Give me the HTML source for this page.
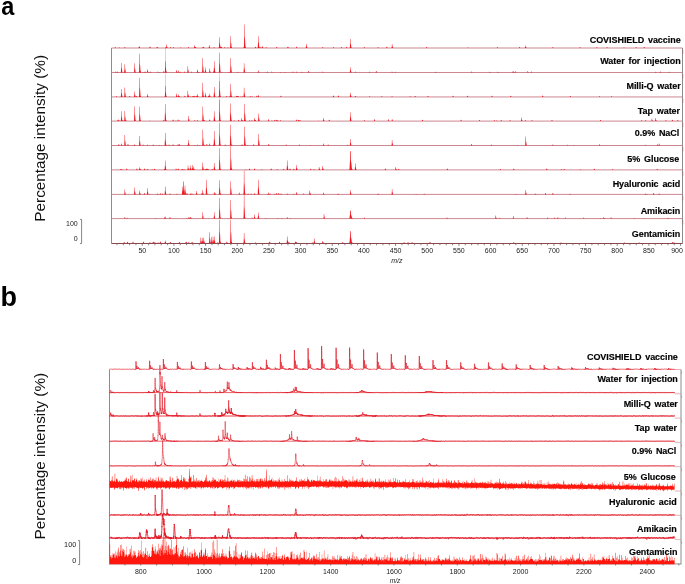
<!DOCTYPE html>
<html><head><meta charset="utf-8"><style>
html,body{margin:0;padding:0;background:#fff;}
body{width:685px;height:584px;overflow:hidden;}
svg{display:block;}
.lb{font-family:"Liberation Sans",Arial,sans-serif;font-weight:bold;font-size:9px;fill:#000;stroke:#000;stroke-width:0.15px;word-spacing:1.4px;letter-spacing:-0.06px;}
.tk{font-family:"Liberation Sans",Arial,sans-serif;font-size:7px;fill:#222;}
.mz{font-family:"Liberation Sans",Arial,sans-serif;font-size:6.6px;font-style:italic;fill:#222;}
.yl{font-family:"Liberation Sans",Arial,sans-serif;font-size:15.3px;fill:#111;}
.pl{font-family:"Liberation Sans",Arial,sans-serif;font-weight:bold;font-size:27px;fill:#000;}
</style></head><body>
<svg width="685" height="584" viewBox="0 0 685 584">
<line x1="111.5" y1="48.0" x2="682.5" y2="48.0" stroke="rgb(205,135,145)" stroke-width="1"/>
<line x1="111.5" y1="72.5" x2="682.5" y2="72.5" stroke="rgb(205,135,145)" stroke-width="1"/>
<line x1="111.5" y1="96.95" x2="682.5" y2="96.95" stroke="rgb(205,135,145)" stroke-width="1"/>
<line x1="111.5" y1="121.1" x2="682.5" y2="121.1" stroke="rgb(205,135,145)" stroke-width="1"/>
<line x1="111.5" y1="145.5" x2="682.5" y2="145.5" stroke="rgb(205,135,145)" stroke-width="1"/>
<line x1="111.5" y1="169.9" x2="682.5" y2="169.9" stroke="rgb(205,135,145)" stroke-width="1"/>
<line x1="111.5" y1="194.4" x2="682.5" y2="194.4" stroke="rgb(205,135,145)" stroke-width="1"/>
<line x1="111.5" y1="218.6" x2="682.5" y2="218.6" stroke="rgb(205,135,145)" stroke-width="1"/>
<g fill="rgb(240,22,32)"><polygon points="124.00,48.00 124.30,47.92 124.45,47.65 124.58,47.50 124.60,47.00 125.00,47.00 125.10,47.50 125.40,47.65 125.70,47.92 126.30,48.00"/><polygon points="138.40,48.00 138.70,47.88 138.85,47.48 138.98,47.25 139.00,46.50 139.40,46.50 139.50,47.25 139.80,47.48 140.10,47.88 140.70,48.00"/><polygon points="155.50,48.00 155.80,47.95 155.95,47.79 156.08,47.70 156.10,47.40 156.50,47.40 156.60,47.70 156.90,47.79 157.20,47.95 157.80,48.00"/><polygon points="165.70,48.00 166.00,47.71 166.15,46.74 166.28,46.20 166.30,44.40 166.70,44.40 166.80,46.20 167.10,46.74 167.40,47.71 168.00,48.00"/><polygon points="169.80,48.00 170.10,47.92 170.25,47.65 170.38,47.50 170.40,47.00 170.80,47.00 170.90,47.50 171.20,47.65 171.50,47.92 172.10,48.00"/><polygon points="172.60,48.00 172.90,47.92 173.05,47.65 173.18,47.50 173.20,47.00 173.60,47.00 173.70,47.50 174.00,47.65 174.30,47.92 174.90,48.00"/><polygon points="187.50,48.00 187.80,47.92 187.95,47.65 188.08,47.50 188.10,47.00 188.50,47.00 188.60,47.50 188.90,47.65 189.20,47.92 189.80,48.00"/><polygon points="193.70,48.00 194.00,47.78 194.15,47.02 194.28,46.60 194.30,45.20 194.70,45.20 194.80,46.60 195.10,47.02 195.40,47.78 196.00,48.00"/><polygon points="201.90,48.00 202.20,47.92 202.35,47.65 202.48,47.50 202.50,47.00 202.90,47.00 203.00,47.50 203.30,47.65 203.60,47.92 204.20,48.00"/><polygon points="208.40,48.00 208.70,47.76 208.85,46.95 208.98,46.50 209.00,45.00 209.40,45.00 209.50,46.50 209.80,46.95 210.10,47.76 210.70,48.00"/><polygon points="213.20,48.00 213.50,47.92 213.65,47.65 213.78,47.50 213.80,47.00 214.20,47.00 214.30,47.50 214.60,47.65 214.90,47.92 215.50,48.00"/><polygon points="218.70,48.00 219.00,47.14 219.15,44.22 219.28,42.60 219.30,37.20 219.70,37.20 219.80,42.60 220.10,44.22 220.40,47.14 221.00,48.00"/><polygon points="229.90,48.00 230.20,47.06 230.35,43.87 230.48,42.10 230.50,36.20 230.90,36.20 231.00,42.10 231.30,43.87 231.60,47.06 232.20,48.00"/><polygon points="243.70,48.00 244.00,46.11 244.15,39.74 244.28,36.20 244.30,24.40 244.70,24.40 244.80,36.20 245.10,39.74 245.40,46.11 246.00,48.00"/><polygon points="257.50,48.00 257.80,47.06 257.95,43.87 258.08,42.10 258.10,36.20 258.50,36.20 258.60,42.10 258.90,43.87 259.20,47.06 259.80,48.00"/><polygon points="261.40,48.00 261.70,47.84 261.85,47.30 261.98,47.00 262.00,46.00 262.40,46.00 262.50,47.00 262.80,47.30 263.10,47.84 263.70,48.00"/><polygon points="295.70,48.00 296.00,47.88 296.15,47.48 296.28,47.25 296.30,46.50 296.70,46.50 296.80,47.25 297.10,47.48 297.40,47.88 298.00,48.00"/><polygon points="305.50,48.00 305.80,47.68 305.95,46.60 306.08,46.00 306.10,44.00 306.50,44.00 306.60,46.00 306.90,46.60 307.20,47.68 307.80,48.00"/><polygon points="321.90,48.00 322.20,47.92 322.35,47.65 322.48,47.50 322.50,47.00 322.90,47.00 323.00,47.50 323.30,47.65 323.60,47.92 324.20,48.00"/><polygon points="340.50,48.00 340.80,47.92 340.95,47.65 341.08,47.50 341.10,47.00 341.50,47.00 341.60,47.50 341.90,47.65 342.20,47.92 342.80,48.00"/><polygon points="349.60,48.00 349.90,47.29 350.05,44.88 350.18,43.55 350.20,39.10 350.60,39.10 350.70,43.55 351.00,44.88 351.30,47.29 351.90,48.00"/><polygon points="363.40,48.00 363.70,47.92 363.85,47.65 363.98,47.50 364.00,47.00 364.40,47.00 364.50,47.50 364.80,47.65 365.10,47.92 365.70,48.00"/><polygon points="377.20,48.00 377.50,47.92 377.65,47.65 377.78,47.50 377.80,47.00 378.20,47.00 378.30,47.50 378.60,47.65 378.90,47.92 379.50,48.00"/><polygon points="391.30,48.00 391.60,47.68 391.75,46.60 391.88,46.00 391.90,44.00 392.30,44.00 392.40,46.00 392.70,46.60 393.00,47.68 393.60,48.00"/><polygon points="496.50,48.00 496.80,47.92 496.95,47.65 497.08,47.50 497.10,47.00 497.50,47.00 497.60,47.50 497.90,47.65 498.20,47.92 498.80,48.00"/><polygon points="524.70,48.00 525.00,47.80 525.15,47.12 525.28,46.75 525.30,45.50 525.70,45.50 525.80,46.75 526.10,47.12 526.40,47.80 527.00,48.00"/><polygon points="552.00,48.00 552.30,47.92 552.45,47.65 552.58,47.50 552.60,47.00 553.00,47.00 553.10,47.50 553.40,47.65 553.70,47.92 554.30,48.00"/><polygon points="579.20,48.00 579.50,47.92 579.65,47.65 579.78,47.50 579.80,47.00 580.20,47.00 580.30,47.50 580.60,47.65 580.90,47.92 581.50,48.00"/><polygon points="606.20,48.00 606.50,47.92 606.65,47.65 606.78,47.50 606.80,47.00 607.20,47.00 607.30,47.50 607.60,47.65 607.90,47.92 608.50,48.00"/><polygon points="635.20,48.00 635.50,47.92 635.65,47.65 635.78,47.50 635.80,47.00 636.20,47.00 636.30,47.50 636.60,47.65 636.90,47.92 637.50,48.00"/><path d="M194.1,48.0l.5-0.9h.3l.7 0.9zM156.9,48.0l.5-0.9h.3l.7 0.9zM138.6,48.0l.5-1.4h.3l.7 1.4zM287.1,48.0l.5-1.2h.3l.7 1.2zM227.2,48.0l.5-0.6h.3l.7 0.6zM218.5,48.0l.5-0.8h.3l.7 0.8zM467.2,48.0l.5-0.6h.3l.7 0.6zM623.3,48.0l.5-0.6h.3l.7 0.6zM114.6,48.0l.5-0.8h.3l.7 0.8zM220.8,48.0l.5-1.3h.3l.7 1.3zM426.0,48.0l.5-1.1h.3l.7 1.1zM518.8,48.0l.5-1.0h.3l.7 1.0zM276.0,48.0l.5-1.0h.3l.7 1.0zM386.1,48.0l.5-1.3h.3l.7 1.3zM254.8,48.0l.5-1.3h.3l.7 1.3zM195.0,48.0l.5-1.1h.3l.7 1.1zM180.1,48.0l.5-0.5h.3l.7 0.5zM287.4,48.0l.5-1.1h.3l.7 1.1zM118.5,48.0l.5-0.5h.3l.7 0.5zM220.9,48.0l.5-1.0h.3l.7 1.0zM332.8,48.0l.5-0.8h.3l.7 0.8zM202.9,48.0l.5-1.3h.3l.7 1.3zM223.9,48.0l.5-0.7h.3l.7 0.7zM165.0,48.0l.5-0.6h.3l.7 0.6zM149.3,48.0l.5-1.4h.3l.7 1.4zM193.9,48.0l.5-0.6h.3l.7 0.6zM345.8,48.0l.5-1.1h.3l.7 1.1zM259.3,48.0l.5-1.2h.3l.7 1.2zM219.6,48.0l.5-1.5h.3l.7 1.5zM265.5,48.0l.5-0.7h.3l.7 0.7zM643.5,48.0l.5-1.0h.3l.7 1.0zM243.2,48.0l.5-0.4h.3l.7 0.4zM156.8,48.0l.5-0.7h.3l.7 0.7zM596.1,48.0l.5-0.8h.3l.7 0.8z"/><polygon points="120.60,72.50 120.90,71.73 121.05,69.14 121.18,67.70 121.20,62.90 121.60,62.90 121.70,67.70 122.00,69.14 122.30,71.73 122.90,72.50"/><polygon points="124.00,72.50 124.30,71.84 124.45,69.59 124.58,68.35 124.60,64.20 125.00,64.20 125.10,68.35 125.40,69.59 125.70,71.84 126.30,72.50"/><polygon points="133.80,72.50 134.10,71.76 134.25,69.25 134.38,67.85 134.40,63.20 134.80,63.20 134.90,67.85 135.20,69.25 135.50,71.76 136.10,72.50"/><polygon points="138.80,72.50 139.10,71.00 139.25,65.95 139.38,63.15 139.40,53.80 139.80,53.80 139.90,63.15 140.20,65.95 140.50,71.00 141.10,72.50"/><polygon points="146.60,72.50 146.90,72.24 147.05,71.34 147.18,70.85 147.20,69.20 147.60,69.20 147.70,70.85 148.00,71.34 148.30,72.24 148.90,72.50"/><polygon points="156.70,72.50 157.00,72.42 157.15,72.15 157.28,72.00 157.30,71.50 157.70,71.50 157.80,72.00 158.10,72.15 158.40,72.42 159.00,72.50"/><polygon points="162.80,72.50 163.10,72.38 163.25,71.97 163.38,71.75 163.40,71.00 163.80,71.00 163.90,71.75 164.20,71.97 164.50,72.38 165.10,72.50"/><polygon points="164.60,72.50 164.90,71.60 165.05,68.55 165.18,66.85 165.20,61.20 165.60,61.20 165.70,66.85 166.00,68.55 166.30,71.60 166.90,72.50"/><polygon points="175.70,72.50 176.00,72.29 176.15,71.59 176.28,71.20 176.30,69.90 176.70,69.90 176.80,71.20 177.10,71.59 177.40,72.29 178.00,72.50"/><polygon points="177.70,72.50 178.00,72.34 178.15,71.80 178.28,71.50 178.30,70.50 178.70,70.50 178.80,71.50 179.10,71.80 179.40,72.34 180.00,72.50"/><polygon points="187.00,72.50 187.30,72.00 187.45,70.33 187.58,69.40 187.60,66.30 188.00,66.30 188.10,69.40 188.40,70.33 188.70,72.00 189.30,72.50"/><polygon points="190.60,72.50 190.90,72.42 191.05,72.15 191.18,72.00 191.20,71.50 191.60,71.50 191.70,72.00 192.00,72.15 192.30,72.42 192.90,72.50"/><polygon points="196.50,72.50 196.80,72.26 196.95,71.45 197.08,71.00 197.10,69.50 197.50,69.50 197.60,71.00 197.90,71.45 198.20,72.26 198.80,72.50"/><polygon points="201.90,72.50 202.20,71.33 202.35,67.39 202.48,65.20 202.50,57.90 202.90,57.90 203.00,65.20 203.30,67.39 203.60,71.33 204.20,72.50"/><polygon points="204.50,72.50 204.80,72.10 204.95,70.75 205.08,70.00 205.10,67.50 205.50,67.50 205.60,70.00 205.90,70.75 206.20,72.10 206.80,72.50"/><polygon points="208.80,72.50 209.10,72.18 209.25,71.10 209.38,70.50 209.40,68.50 209.80,68.50 209.90,70.50 210.20,71.10 210.50,72.18 211.10,72.50"/><polygon points="213.40,72.50 213.70,71.60 213.85,68.58 213.98,66.90 214.00,61.30 214.40,61.30 214.50,66.90 214.80,68.58 215.10,71.60 215.70,72.50"/><polygon points="218.70,72.50 219.00,70.90 219.15,65.50 219.28,62.50 219.30,52.50 219.70,52.50 219.80,62.50 220.10,65.50 220.40,70.90 221.00,72.50"/><polygon points="229.90,72.50 230.20,71.33 230.35,67.39 230.48,65.20 230.50,57.90 230.90,57.90 231.00,65.20 231.30,67.39 231.60,71.33 232.20,72.50"/><polygon points="243.30,72.50 243.60,71.76 243.75,69.25 243.88,67.85 243.90,63.20 244.30,63.20 244.40,67.85 244.70,69.25 245.00,71.76 245.60,72.50"/><polygon points="257.50,72.50 257.80,72.34 257.95,71.80 258.08,71.50 258.10,70.50 258.50,70.50 258.60,71.50 258.90,71.80 259.20,72.34 259.80,72.50"/><polygon points="271.00,72.50 271.30,72.42 271.45,72.15 271.58,72.00 271.60,71.50 272.00,71.50 272.10,72.00 272.40,72.15 272.70,72.42 273.30,72.50"/><polygon points="295.70,72.50 296.00,72.42 296.15,72.15 296.28,72.00 296.30,71.50 296.70,71.50 296.80,72.00 297.10,72.15 297.40,72.42 298.00,72.50"/><polygon points="321.90,72.50 322.20,72.42 322.35,72.15 322.48,72.00 322.50,71.50 322.90,71.50 323.00,72.00 323.30,72.15 323.60,72.42 324.20,72.50"/><polygon points="349.60,72.50 349.90,72.08 350.05,70.64 350.18,69.85 350.20,67.20 350.60,67.20 350.70,69.85 351.00,70.64 351.30,72.08 351.90,72.50"/><polygon points="354.50,72.50 354.80,72.42 354.95,72.15 355.08,72.00 355.10,71.50 355.50,71.50 355.60,72.00 355.90,72.15 356.20,72.42 356.80,72.50"/><polygon points="368.70,72.50 369.00,72.42 369.15,72.15 369.28,72.00 369.30,71.50 369.70,71.50 369.80,72.00 370.10,72.15 370.40,72.42 371.00,72.50"/><polygon points="391.20,72.50 391.50,72.42 391.65,72.15 391.78,72.00 391.80,71.50 392.20,71.50 392.30,72.00 392.60,72.15 392.90,72.42 393.50,72.50"/><polygon points="512.90,72.50 513.20,72.42 513.35,72.15 513.48,72.00 513.50,71.50 513.90,71.50 514.00,72.00 514.30,72.15 514.60,72.42 515.20,72.50"/><polygon points="526.90,72.50 527.20,72.38 527.35,71.97 527.48,71.75 527.50,71.00 527.90,71.00 528.00,71.75 528.30,71.97 528.60,72.38 529.20,72.50"/><path d="M659.7,72.5l.5-0.9h.3l.7 0.9zM237.3,72.5l.5-0.7h.3l.7 0.7zM221.2,72.5l.5-0.5h.3l.7 0.5zM229.7,72.5l.5-0.9h.3l.7 0.9zM284.2,72.5l.5-0.5h.3l.7 0.5zM489.0,72.5l.5-0.8h.3l.7 0.8zM115.1,72.5l.5-0.9h.3l.7 0.9zM123.8,72.5l.5-1.2h.3l.7 1.2zM116.8,72.5l.5-1.0h.3l.7 1.0zM198.5,72.5l.5-0.4h.3l.7 0.4zM214.1,72.5l.5-0.5h.3l.7 0.5zM197.0,72.5l.5-1.2h.3l.7 1.2zM394.5,72.5l.5-0.7h.3l.7 0.7zM159.1,72.5l.5-0.4h.3l.7 0.4zM307.8,72.5l.5-1.4h.3l.7 1.4zM512.3,72.5l.5-1.3h.3l.7 1.3zM213.0,72.5l.5-1.3h.3l.7 1.3zM530.7,72.5l.5-0.9h.3l.7 0.9zM655.0,72.5l.5-0.8h.3l.7 0.8zM149.8,72.5l.5-1.0h.3l.7 1.0zM144.1,72.5l.5-0.7h.3l.7 0.7zM227.5,72.5l.5-0.5h.3l.7 0.5zM668.6,72.5l.5-0.8h.3l.7 0.8zM165.7,72.5l.5-1.1h.3l.7 1.1zM471.0,72.5l.5-0.9h.3l.7 0.9zM434.8,72.5l.5-0.7h.3l.7 0.7zM266.6,72.5l.5-1.1h.3l.7 1.1zM301.3,72.5l.5-0.7h.3l.7 0.7zM497.0,72.5l.5-0.8h.3l.7 0.8zM142.3,72.5l.5-0.6h.3l.7 0.6zM149.1,72.5l.5-0.6h.3l.7 0.6zM179.8,72.5l.5-0.8h.3l.7 0.8zM183.8,72.5l.5-1.0h.3l.7 1.0zM292.2,72.5l.5-1.1h.3l.7 1.1zM280.0,72.5l.5-0.4h.3l.7 0.4zM139.6,72.5l.5-1.5h.3l.7 1.5zM514.9,72.5l.5-1.3h.3l.7 1.3zM375.6,72.5l.5-1.4h.3l.7 1.4zM144.5,72.5l.5-0.9h.3l.7 0.9z"/><polygon points="165.10,72.5 165.20,47.80 165.60,47.80 165.70,72.5" opacity="0.55"/><polygon points="120.60,96.95 120.90,96.32 121.05,94.19 121.18,93.00 121.20,89.05 121.60,89.05 121.70,93.00 122.00,94.19 122.30,96.32 122.90,96.95"/><polygon points="124.00,96.95 124.30,96.19 124.45,93.62 124.58,92.20 124.60,87.45 125.00,87.45 125.10,92.20 125.40,93.62 125.70,96.19 126.30,96.95"/><polygon points="133.80,96.95 134.10,96.51 134.25,95.03 134.38,94.20 134.40,91.45 134.80,91.45 134.90,94.20 135.20,95.03 135.50,96.51 136.10,96.95"/><polygon points="138.80,96.95 139.10,95.41 139.25,90.20 139.38,87.30 139.40,77.65 139.80,77.65 139.90,87.30 140.20,90.20 140.50,95.41 141.10,96.95"/><polygon points="146.60,96.95 146.90,96.72 147.05,95.94 147.18,95.50 147.20,94.05 147.60,94.05 147.70,95.50 148.00,95.94 148.30,96.72 148.90,96.95"/><polygon points="164.60,96.95 164.90,96.07 165.05,93.10 165.18,91.45 165.20,85.95 165.60,85.95 165.70,91.45 166.00,93.10 166.30,96.07 166.90,96.95"/><polygon points="175.70,96.95 176.00,96.68 176.15,95.76 176.28,95.25 176.30,93.55 176.70,93.55 176.80,95.25 177.10,95.76 177.40,96.68 178.00,96.95"/><polygon points="177.70,96.95 178.00,96.76 178.15,96.11 178.28,95.75 178.30,94.55 178.70,94.55 178.80,95.75 179.10,96.11 179.40,96.76 180.00,96.95"/><polygon points="187.00,96.95 187.30,96.45 187.45,94.75 187.58,93.80 187.60,90.65 188.00,90.65 188.10,93.80 188.40,94.75 188.70,96.45 189.30,96.95"/><polygon points="196.70,96.95 197.00,96.71 197.15,95.90 197.28,95.45 197.30,93.95 197.70,93.95 197.80,95.45 198.10,95.90 198.40,96.71 199.00,96.95"/><polygon points="201.90,96.95 202.20,95.81 202.35,91.98 202.48,89.85 202.50,82.75 202.90,82.75 203.00,89.85 203.30,91.98 203.60,95.81 204.20,96.95"/><polygon points="204.50,96.95 204.80,96.61 204.95,95.45 205.08,94.80 205.10,92.65 205.50,92.65 205.60,94.80 205.90,95.45 206.20,96.61 206.80,96.95"/><polygon points="208.80,96.95 209.10,96.69 209.25,95.80 209.38,95.30 209.40,93.65 209.80,93.65 209.90,95.30 210.20,95.80 210.50,96.69 211.10,96.95"/><polygon points="213.40,96.95 213.70,96.16 213.85,93.48 213.98,92.00 214.00,87.05 214.40,87.05 214.50,92.00 214.80,93.48 215.10,96.16 215.70,96.95"/><polygon points="218.70,96.95 219.00,95.67 219.15,91.35 219.28,88.95 219.30,80.95 219.70,80.95 219.80,88.95 220.10,91.35 220.40,95.67 221.00,96.95"/><polygon points="229.90,96.95 230.20,95.89 230.35,92.33 230.48,90.35 230.50,83.75 230.90,83.75 231.00,90.35 231.30,92.33 231.60,95.89 232.20,96.95"/><polygon points="243.30,96.95 243.60,96.21 243.75,93.70 243.88,92.30 243.90,87.65 244.30,87.65 244.40,92.30 244.70,93.70 245.00,96.21 245.60,96.95"/><polygon points="257.50,96.95 257.80,96.79 257.95,96.25 258.08,95.95 258.10,94.95 258.50,94.95 258.60,95.95 258.90,96.25 259.20,96.79 259.80,96.95"/><polygon points="349.60,96.95 349.90,96.61 350.05,95.45 350.18,94.80 350.20,92.65 350.60,92.65 350.70,94.80 351.00,95.45 351.30,96.61 351.90,96.95"/><polygon points="354.50,96.95 354.80,96.87 354.95,96.60 355.08,96.45 355.10,95.95 355.50,95.95 355.60,96.45 355.90,96.60 356.20,96.87 356.80,96.95"/><polygon points="368.70,96.95 369.00,96.89 369.15,96.70 369.28,96.60 369.30,96.25 369.70,96.25 369.80,96.60 370.10,96.70 370.40,96.89 371.00,96.95"/><polygon points="391.20,96.95 391.50,96.89 391.65,96.70 391.78,96.60 391.80,96.25 392.20,96.25 392.30,96.60 392.60,96.70 392.90,96.89 393.50,96.95"/><polygon points="409.20,96.95 409.50,96.89 409.65,96.70 409.78,96.60 409.80,96.25 410.20,96.25 410.30,96.60 410.60,96.70 410.90,96.89 411.50,96.95"/><path d="M195.6,96.95l.5-1.1h.3l.7 1.1zM207.8,96.95l.5-1.2h.3l.7 1.2zM136.0,96.95l.5-1.0h.3l.7 1.0zM184.1,96.95l.5-1.3h.3l.7 1.3zM237.5,96.95l.5-1.0h.3l.7 1.0zM194.0,96.95l.5-1.1h.3l.7 1.1zM251.4,96.95l.5-0.5h.3l.7 0.5zM229.2,96.95l.5-1.0h.3l.7 1.0zM491.2,96.95l.5-1.3h.3l.7 1.3zM466.8,96.95l.5-1.2h.3l.7 1.2zM452.4,96.95l.5-1.1h.3l.7 1.1zM414.5,96.95l.5-1.0h.3l.7 1.0zM337.7,96.95l.5-1.4h.3l.7 1.4zM209.1,96.95l.5-0.5h.3l.7 0.5zM598.8,96.95l.5-0.8h.3l.7 0.8zM256.1,96.95l.5-1.2h.3l.7 1.2zM236.8,96.95l.5-0.9h.3l.7 0.9zM192.6,96.95l.5-0.9h.3l.7 0.9zM242.0,96.95l.5-0.5h.3l.7 0.5zM178.9,96.95l.5-0.6h.3l.7 0.6zM249.6,96.95l.5-0.6h.3l.7 0.6zM280.2,96.95l.5-1.2h.3l.7 1.2zM225.9,96.95l.5-0.9h.3l.7 0.9zM569.6,96.95l.5-0.9h.3l.7 0.9zM240.3,96.95l.5-0.5h.3l.7 0.5zM208.0,96.95l.5-1.3h.3l.7 1.3zM332.7,96.95l.5-1.5h.3l.7 1.5zM115.7,96.95l.5-0.7h.3l.7 0.7zM235.7,96.95l.5-1.1h.3l.7 1.1zM510.1,96.95l.5-1.2h.3l.7 1.2zM381.1,96.95l.5-0.7h.3l.7 0.7zM218.5,96.95l.5-1.4h.3l.7 1.4zM192.1,96.95l.5-0.9h.3l.7 0.9zM610.8,96.95l.5-0.8h.3l.7 0.8zM187.7,96.95l.5-1.4h.3l.7 1.4zM189.9,96.95l.5-0.4h.3l.7 0.4zM427.4,96.95l.5-0.9h.3l.7 0.9zM542.0,96.95l.5-1.5h.3l.7 1.5zM129.0,96.95l.5-1.0h.3l.7 1.0z"/><polygon points="165.10,96.95 165.20,73.55 165.60,73.55 165.70,96.95" opacity="0.55"/><polygon points="219.20,96.95 219.30,72.95 219.70,72.95 219.80,96.95" opacity="0.55"/><polygon points="120.60,121.10 120.90,120.31 121.05,117.63 121.18,116.15 121.20,111.20 121.60,111.20 121.70,116.15 122.00,117.63 122.30,120.31 122.90,121.10"/><polygon points="124.00,121.10 124.30,120.28 124.45,117.53 124.58,116.00 124.60,110.90 125.00,110.90 125.10,116.00 125.40,117.53 125.70,120.28 126.30,121.10"/><polygon points="133.80,121.10 134.10,119.92 134.25,115.92 134.38,113.70 134.40,106.30 134.80,106.30 134.90,113.70 135.20,115.92 135.50,119.92 136.10,121.10"/><polygon points="138.80,121.10 139.10,119.93 139.25,115.99 139.38,113.80 139.40,106.50 139.80,106.50 139.90,113.80 140.20,115.99 140.50,119.93 141.10,121.10"/><polygon points="164.40,121.10 164.70,119.74 164.85,115.15 164.98,112.60 165.00,104.10 165.40,104.10 165.50,112.60 165.80,115.15 166.10,119.74 166.70,121.10"/><polygon points="172.20,121.10 172.50,120.98 172.65,120.57 172.78,120.35 172.80,119.60 173.20,119.60 173.30,120.35 173.60,120.57 173.90,120.98 174.50,121.10"/><polygon points="177.20,121.10 177.50,120.98 177.65,120.57 177.78,120.35 177.80,119.60 178.20,119.60 178.30,120.35 178.60,120.57 178.90,120.98 179.50,121.10"/><polygon points="187.80,121.10 188.10,120.68 188.25,119.28 188.38,118.50 188.40,115.90 188.80,115.90 188.90,118.50 189.20,119.28 189.50,120.68 190.10,121.10"/><polygon points="196.50,121.10 196.80,121.02 196.95,120.75 197.08,120.60 197.10,120.10 197.50,120.10 197.60,120.60 197.90,120.75 198.20,121.02 198.80,121.10"/><polygon points="202.00,121.10 202.30,119.93 202.45,115.99 202.58,113.80 202.60,106.50 203.00,106.50 203.10,113.80 203.40,115.99 203.70,119.93 204.30,121.10"/><polygon points="208.70,121.10 209.00,120.98 209.15,120.57 209.28,120.35 209.30,119.60 209.70,119.60 209.80,120.35 210.10,120.57 210.40,120.98 211.00,121.10"/><polygon points="213.40,121.10 213.70,120.31 213.85,117.63 213.98,116.15 214.00,111.20 214.40,111.20 214.50,116.15 214.80,117.63 215.10,120.31 215.70,121.10"/><polygon points="218.70,121.10 219.00,119.42 219.15,113.75 219.28,110.60 219.30,100.10 219.70,100.10 219.80,110.60 220.10,113.75 220.40,119.42 221.00,121.10"/><polygon points="229.70,121.10 230.00,119.70 230.15,114.97 230.28,112.35 230.30,103.60 230.70,103.60 230.80,112.35 231.10,114.97 231.40,119.70 232.00,121.10"/><polygon points="240.80,121.10 241.10,120.86 241.25,120.05 241.38,119.60 241.40,118.10 241.80,118.10 241.90,119.60 242.20,120.05 242.50,120.86 243.10,121.10"/><polygon points="243.80,121.10 244.10,119.74 244.25,115.15 244.38,112.60 244.40,104.10 244.80,104.10 244.90,112.60 245.20,115.15 245.50,119.74 246.10,121.10"/><polygon points="253.70,121.10 254.00,120.86 254.15,120.05 254.28,119.60 254.30,118.10 254.70,118.10 254.80,119.60 255.10,120.05 255.40,120.86 256.00,121.10"/><polygon points="257.80,121.10 258.10,120.49 258.25,118.44 258.38,117.30 258.40,113.50 258.80,113.50 258.90,117.30 259.20,118.44 259.50,120.49 260.10,121.10"/><polygon points="267.50,121.10 267.80,120.94 267.95,120.40 268.08,120.10 268.10,119.10 268.50,119.10 268.60,120.10 268.90,120.40 269.20,120.94 269.80,121.10"/><polygon points="295.70,121.10 296.00,120.98 296.15,120.57 296.28,120.35 296.30,119.60 296.70,119.60 296.80,120.35 297.10,120.57 297.40,120.98 298.00,121.10"/><polygon points="322.60,121.10 322.90,120.86 323.05,120.05 323.18,119.60 323.20,118.10 323.60,118.10 323.70,119.60 324.00,120.05 324.30,120.86 324.90,121.10"/><polygon points="349.60,121.10 349.90,120.39 350.05,117.98 350.18,116.65 350.20,112.20 350.60,112.20 350.70,116.65 351.00,117.98 351.30,120.39 351.90,121.10"/><polygon points="363.40,121.10 363.70,121.02 363.85,120.75 363.98,120.60 364.00,120.10 364.40,120.10 364.50,120.60 364.80,120.75 365.10,121.02 365.70,121.10"/><polygon points="373.60,121.10 373.90,120.94 374.05,120.40 374.18,120.10 374.20,119.10 374.60,119.10 374.70,120.10 375.00,120.40 375.30,120.94 375.90,121.10"/><polygon points="387.40,121.10 387.70,120.94 387.85,120.40 387.98,120.10 388.00,119.10 388.40,119.10 388.50,120.10 388.80,120.40 389.10,120.94 389.70,121.10"/><polygon points="391.30,121.10 391.60,120.94 391.75,120.40 391.88,120.10 391.90,119.10 392.30,119.10 392.40,120.10 392.70,120.40 393.00,120.94 393.60,121.10"/><polygon points="493.40,121.10 493.70,121.02 493.85,120.75 493.98,120.60 494.00,120.10 494.40,120.10 494.50,120.60 494.80,120.75 495.10,121.02 495.70,121.10"/><polygon points="509.20,121.10 509.50,121.02 509.65,120.75 509.78,120.60 509.80,120.10 510.20,120.10 510.30,120.60 510.60,120.75 510.90,121.02 511.50,121.10"/><polygon points="520.70,121.10 521.00,120.82 521.15,119.88 521.28,119.35 521.30,117.60 521.70,117.60 521.80,119.35 522.10,119.88 522.40,120.82 523.00,121.10"/><polygon points="524.70,121.10 525.00,121.02 525.15,120.75 525.28,120.60 525.30,120.10 525.70,120.10 525.80,120.60 526.10,120.75 526.40,121.02 527.00,121.10"/><polygon points="531.20,121.10 531.50,121.02 531.65,120.75 531.78,120.60 531.80,120.10 532.20,120.10 532.30,120.60 532.60,120.75 532.90,121.02 533.50,121.10"/><polygon points="640.80,121.10 641.10,121.02 641.25,120.75 641.38,120.60 641.40,120.10 641.80,120.10 641.90,120.60 642.20,120.75 642.50,121.02 643.10,121.10"/><polygon points="644.90,121.10 645.20,121.02 645.35,120.75 645.48,120.60 645.50,120.10 645.90,120.10 646.00,120.60 646.30,120.75 646.60,121.02 647.20,121.10"/><polygon points="651.10,121.10 651.40,120.90 651.55,120.22 651.68,119.85 651.70,118.60 652.10,118.60 652.20,119.85 652.50,120.22 652.80,120.90 653.40,121.10"/><polygon points="654.80,121.10 655.10,120.86 655.25,120.05 655.38,119.60 655.40,118.10 655.80,118.10 655.90,119.60 656.20,120.05 656.50,120.86 657.10,121.10"/><polygon points="665.10,121.10 665.40,121.02 665.55,120.75 665.68,120.60 665.70,120.10 666.10,120.10 666.20,120.60 666.50,120.75 666.80,121.02 667.40,121.10"/><path d="M233.5,121.1l.5-0.5h.3l.7 0.5zM328.5,121.1l.5-1.4h.3l.7 1.4zM178.8,121.1l.5-0.5h.3l.7 0.5zM237.8,121.1l.5-1.3h.3l.7 1.3zM125.4,121.1l.5-0.6h.3l.7 0.6zM172.3,121.1l.5-0.5h.3l.7 0.5zM271.2,121.1l.5-0.6h.3l.7 0.6zM671.7,121.1l.5-1.4h.3l.7 1.4zM279.8,121.1l.5-0.9h.3l.7 0.9zM194.1,121.1l.5-0.9h.3l.7 0.9zM254.9,121.1l.5-0.5h.3l.7 0.5zM162.6,121.1l.5-0.9h.3l.7 0.9zM677.1,121.1l.5-1.0h.3l.7 1.0zM277.1,121.1l.5-1.0h.3l.7 1.0zM478.8,121.1l.5-1.0h.3l.7 1.0zM241.5,121.1l.5-0.8h.3l.7 0.8zM299.3,121.1l.5-1.0h.3l.7 1.0zM500.5,121.1l.5-1.0h.3l.7 1.0zM317.8,121.1l.5-0.4h.3l.7 0.4zM460.4,121.1l.5-1.4h.3l.7 1.4zM149.3,121.1l.5-0.4h.3l.7 0.4zM203.9,121.1l.5-0.9h.3l.7 0.9zM275.6,121.1l.5-1.4h.3l.7 1.4zM274.0,121.1l.5-1.2h.3l.7 1.2zM254.6,121.1l.5-1.0h.3l.7 1.0zM297.8,121.1l.5-1.3h.3l.7 1.3zM551.3,121.1l.5-1.1h.3l.7 1.1zM421.8,121.1l.5-1.4h.3l.7 1.4zM116.7,121.1l.5-0.9h.3l.7 0.9zM122.2,121.1l.5-0.8h.3l.7 0.8zM248.8,121.1l.5-0.9h.3l.7 0.9zM496.1,121.1l.5-0.7h.3l.7 0.7zM118.1,121.1l.5-1.5h.3l.7 1.5zM175.2,121.1l.5-0.5h.3l.7 0.5zM599.9,121.1l.5-1.2h.3l.7 1.2zM251.2,121.1l.5-0.9h.3l.7 0.9z"/><polygon points="219.20,121.1 219.30,97.10 219.70,97.10 219.80,121.1" opacity="0.55"/><polygon points="120.60,145.50 120.90,145.34 121.05,144.80 121.18,144.50 121.20,143.50 121.60,143.50 121.70,144.50 122.00,144.80 122.30,145.34 122.90,145.50"/><polygon points="124.00,145.50 124.30,144.67 124.45,141.86 124.58,140.30 124.60,135.10 125.00,135.10 125.10,140.30 125.40,141.86 125.70,144.67 126.30,145.50"/><polygon points="133.80,145.50 134.10,145.42 134.25,145.15 134.38,145.00 134.40,144.50 134.80,144.50 134.90,145.00 135.20,145.15 135.50,145.42 136.10,145.50"/><polygon points="138.80,145.50 139.10,144.74 139.25,142.18 139.38,140.75 139.40,136.00 139.80,136.00 139.90,140.75 140.20,142.18 140.50,144.74 141.10,145.50"/><polygon points="146.60,145.50 146.90,145.42 147.05,145.15 147.18,145.00 147.20,144.50 147.60,144.50 147.70,145.00 148.00,145.15 148.30,145.42 148.90,145.50"/><polygon points="164.40,145.50 164.70,144.51 164.85,141.16 164.98,139.30 165.00,133.10 165.40,133.10 165.50,139.30 165.80,141.16 166.10,144.51 166.70,145.50"/><polygon points="172.20,145.50 172.50,145.38 172.65,144.97 172.78,144.75 172.80,144.00 173.20,144.00 173.30,144.75 173.60,144.97 173.90,145.38 174.50,145.50"/><polygon points="177.20,145.50 177.50,145.38 177.65,144.97 177.78,144.75 177.80,144.00 178.20,144.00 178.30,144.75 178.60,144.97 178.90,145.38 179.50,145.50"/><polygon points="187.70,145.50 188.00,145.05 188.15,143.54 188.28,142.70 188.30,139.90 188.70,139.90 188.80,142.70 189.10,143.54 189.40,145.05 190.00,145.50"/><polygon points="196.50,145.50 196.80,145.42 196.95,145.15 197.08,145.00 197.10,144.50 197.50,144.50 197.60,145.00 197.90,145.15 198.20,145.42 198.80,145.50"/><polygon points="202.00,145.50 202.30,144.21 202.45,139.87 202.58,137.45 202.60,129.40 203.00,129.40 203.10,137.45 203.40,139.87 203.70,144.21 204.30,145.50"/><polygon points="208.70,145.50 209.00,145.34 209.15,144.80 209.28,144.50 209.30,143.50 209.70,143.50 209.80,144.50 210.10,144.80 210.40,145.34 211.00,145.50"/><polygon points="213.40,145.50 213.70,144.35 213.85,140.46 213.98,138.30 214.00,131.10 214.40,131.10 214.50,138.30 214.80,140.46 215.10,144.35 215.70,145.50"/><polygon points="218.70,145.50 219.00,143.65 219.15,137.41 219.28,133.95 219.30,122.40 219.70,122.40 219.80,133.95 220.10,137.41 220.40,143.65 221.00,145.50"/><polygon points="229.70,145.50 230.00,143.84 230.15,138.22 230.28,135.10 230.30,124.70 230.70,124.70 230.80,135.10 231.10,138.22 231.40,143.84 232.00,145.50"/><polygon points="243.80,145.50 244.10,143.98 244.25,138.85 244.38,136.00 244.40,126.50 244.80,126.50 244.90,136.00 245.20,138.85 245.50,143.98 246.10,145.50"/><polygon points="257.80,145.50 258.10,144.59 258.25,141.51 258.38,139.80 258.40,134.10 258.80,134.10 258.90,139.80 259.20,141.51 259.50,144.59 260.10,145.50"/><polygon points="322.60,145.50 322.90,145.34 323.05,144.80 323.18,144.50 323.20,143.50 323.60,143.50 323.70,144.50 324.00,144.80 324.30,145.34 324.90,145.50"/><polygon points="349.60,145.50 349.90,144.98 350.05,143.22 350.18,142.25 350.20,139.00 350.60,139.00 350.70,142.25 351.00,143.22 351.30,144.98 351.90,145.50"/><polygon points="391.30,145.50 391.60,145.06 391.75,143.57 391.88,142.75 391.90,140.00 392.30,140.00 392.40,142.75 392.70,143.57 393.00,145.06 393.60,145.50"/><polygon points="524.90,145.50 525.20,144.78 525.35,142.35 525.48,141.00 525.50,136.50 525.90,136.50 526.00,141.00 526.30,142.35 526.60,144.78 527.20,145.50"/><polygon points="644.50,145.50 644.80,145.44 644.95,145.25 645.08,145.15 645.10,144.80 645.50,144.80 645.60,145.15 645.90,145.25 646.20,145.44 646.80,145.50"/><polygon points="658.30,145.50 658.60,145.34 658.75,144.80 658.88,144.50 658.90,143.50 659.30,143.50 659.40,144.50 659.70,144.80 660.00,145.34 660.60,145.50"/><path d="M656.7,145.5l.5-1.2h.3l.7 1.2zM240.7,145.5l.5-0.8h.3l.7 0.8zM516.8,145.5l.5-0.4h.3l.7 0.4zM206.1,145.5l.5-1.4h.3l.7 1.4zM178.5,145.5l.5-1.1h.3l.7 1.1zM298.7,145.5l.5-1.1h.3l.7 1.1zM213.5,145.5l.5-1.0h.3l.7 1.0zM168.4,145.5l.5-1.1h.3l.7 1.1zM566.8,145.5l.5-0.7h.3l.7 0.7zM347.0,145.5l.5-0.8h.3l.7 0.8zM490.6,145.5l.5-1.0h.3l.7 1.0zM470.8,145.5l.5-1.5h.3l.7 1.5zM213.3,145.5l.5-1.0h.3l.7 1.0zM134.0,145.5l.5-0.8h.3l.7 0.8zM193.8,145.5l.5-0.6h.3l.7 0.6zM198.9,145.5l.5-0.4h.3l.7 0.4zM152.5,145.5l.5-1.1h.3l.7 1.1zM598.9,145.5l.5-1.3h.3l.7 1.3zM127.3,145.5l.5-1.4h.3l.7 1.4zM224.5,145.5l.5-0.9h.3l.7 0.9zM285.5,145.5l.5-1.0h.3l.7 1.0zM203.9,145.5l.5-0.8h.3l.7 0.8zM212.4,145.5l.5-0.5h.3l.7 0.5zM231.3,145.5l.5-0.7h.3l.7 0.7zM253.1,145.5l.5-1.3h.3l.7 1.3zM158.7,145.5l.5-0.6h.3l.7 0.6zM142.4,145.5l.5-1.0h.3l.7 1.0zM241.5,145.5l.5-1.0h.3l.7 1.0zM246.4,145.5l.5-0.6h.3l.7 0.6zM327.5,145.5l.5-1.1h.3l.7 1.1zM268.0,145.5l.5-1.4h.3l.7 1.4zM187.1,145.5l.5-0.8h.3l.7 0.8zM552.2,145.5l.5-0.9h.3l.7 0.9zM117.7,145.5l.5-1.0h.3l.7 1.0zM309.5,145.5l.5-0.4h.3l.7 0.4zM212.5,145.5l.5-0.6h.3l.7 0.6zM118.3,145.5l.5-0.9h.3l.7 0.9zM179.0,145.5l.5-1.3h.3l.7 1.3zM572.9,145.5l.5-0.5h.3l.7 0.5zM165.3,145.5l.5-0.8h.3l.7 0.8z"/><polygon points="120.60,169.90 120.90,169.82 121.05,169.55 121.18,169.40 121.20,168.90 121.60,168.90 121.70,169.40 122.00,169.55 122.30,169.82 122.90,169.90"/><polygon points="138.80,169.90 139.10,169.69 139.25,168.99 139.38,168.60 139.40,167.30 139.80,167.30 139.90,168.60 140.20,168.99 140.50,169.69 141.10,169.90"/><polygon points="146.60,169.90 146.90,169.82 147.05,169.55 147.18,169.40 147.20,168.90 147.60,168.90 147.70,169.40 148.00,169.55 148.30,169.82 148.90,169.90"/><polygon points="164.40,169.90 164.70,169.14 164.85,166.58 164.98,165.15 165.00,160.40 165.40,160.40 165.50,165.15 165.80,166.58 166.10,169.14 166.70,169.90"/><polygon points="175.20,169.90 175.50,169.78 175.65,169.38 175.78,169.15 175.80,168.40 176.20,168.40 176.30,169.15 176.60,169.38 176.90,169.78 177.50,169.90"/><polygon points="181.20,169.90 181.50,169.82 181.65,169.55 181.78,169.40 181.80,168.90 182.20,168.90 182.30,169.40 182.60,169.55 182.90,169.82 183.50,169.90"/><polygon points="187.20,169.90 187.50,169.54 187.65,168.33 187.78,167.65 187.80,165.40 188.20,165.40 188.30,167.65 188.60,168.33 188.90,169.54 189.50,169.90"/><polygon points="189.40,169.90 189.70,169.54 189.85,168.33 189.98,167.65 190.00,165.40 190.40,165.40 190.50,167.65 190.80,168.33 191.10,169.54 191.70,169.90"/><polygon points="191.40,169.90 191.70,169.52 191.85,168.22 191.98,167.50 192.00,165.10 192.40,165.10 192.50,167.50 192.80,168.22 193.10,169.52 193.70,169.90"/><polygon points="192.80,169.90 193.10,169.62 193.25,168.68 193.38,168.15 193.40,166.40 193.80,166.40 193.90,168.15 194.20,168.68 194.50,169.62 195.10,169.90"/><polygon points="201.90,169.90 202.20,169.30 202.35,167.28 202.48,166.15 202.50,162.40 202.90,162.40 203.00,166.15 203.30,167.28 203.60,169.30 204.20,169.90"/><polygon points="213.40,169.90 213.70,169.35 213.85,167.49 213.98,166.45 214.00,163.00 214.40,163.00 214.50,166.45 214.80,167.49 215.10,169.35 215.70,169.90"/><polygon points="218.70,169.90 219.00,168.15 219.15,162.24 219.28,158.95 219.30,148.00 219.70,148.00 219.80,158.95 220.10,162.24 220.40,168.15 221.00,169.90"/><polygon points="229.90,169.90 230.20,167.98 230.35,161.50 230.48,157.90 230.50,145.90 230.90,145.90 231.00,157.90 231.30,161.50 231.60,167.98 232.20,169.90"/><polygon points="286.40,169.90 286.70,169.14 286.85,166.58 286.98,165.15 287.00,160.40 287.40,160.40 287.50,165.15 287.80,166.58 288.10,169.14 288.70,169.90"/><polygon points="295.70,169.90 296.00,169.50 296.15,168.15 296.28,167.40 296.30,164.90 296.70,164.90 296.80,167.40 297.10,168.15 297.40,169.50 298.00,169.90"/><polygon points="318.30,169.90 318.60,169.66 318.75,168.85 318.88,168.40 318.90,166.90 319.30,166.90 319.40,168.40 319.70,168.85 320.00,169.66 320.60,169.90"/><polygon points="321.90,169.90 322.20,169.58 322.35,168.50 322.48,167.90 322.50,165.90 322.90,165.90 323.00,167.90 323.30,168.50 323.60,169.58 324.20,169.90"/><polygon points="349.12,169.90 349.60,168.40 349.84,163.36 350.05,160.55 350.08,151.20 350.72,151.20 350.88,160.55 351.36,163.36 351.84,168.40 352.80,169.90"/><polygon points="354.50,169.90 354.80,169.38 354.95,167.62 355.08,166.65 355.10,163.40 355.50,163.40 355.60,166.65 355.90,167.62 356.20,169.38 356.80,169.90"/><polygon points="394.90,169.90 395.20,169.66 395.35,168.85 395.48,168.40 395.50,166.90 395.90,166.90 396.00,168.40 396.30,168.85 396.60,169.66 397.20,169.90"/><polygon points="512.90,169.90 513.20,169.78 513.35,169.38 513.48,169.15 513.50,168.40 513.90,168.40 514.00,169.15 514.30,169.38 514.60,169.78 515.20,169.90"/><path d="M560.5,169.9l.5-0.7h.3l.7 0.7zM204.4,169.9l.5-0.8h.3l.7 0.8zM207.4,169.9l.5-0.9h.3l.7 0.9zM611.9,169.9l.5-0.6h.3l.7 0.6zM656.5,169.9l.5-1.0h.3l.7 1.0zM253.9,169.9l.5-1.4h.3l.7 1.4zM177.5,169.9l.5-1.3h.3l.7 1.3zM546.1,169.9l.5-1.5h.3l.7 1.5zM398.1,169.9l.5-1.1h.3l.7 1.1zM446.6,169.9l.5-1.3h.3l.7 1.3zM182.0,169.9l.5-0.9h.3l.7 0.9zM276.5,169.9l.5-0.7h.3l.7 0.7zM183.6,169.9l.5-0.5h.3l.7 0.5zM384.7,169.9l.5-1.4h.3l.7 1.4zM119.6,169.9l.5-0.6h.3l.7 0.6zM143.9,169.9l.5-1.4h.3l.7 1.4zM293.1,169.9l.5-1.2h.3l.7 1.2zM153.9,169.9l.5-1.1h.3l.7 1.1zM313.4,169.9l.5-0.7h.3l.7 0.7zM248.8,169.9l.5-1.4h.3l.7 1.4zM563.6,169.9l.5-0.9h.3l.7 0.9zM206.4,169.9l.5-1.4h.3l.7 1.4zM136.2,169.9l.5-1.4h.3l.7 1.4zM245.1,169.9l.5-0.5h.3l.7 0.5zM499.7,169.9l.5-1.0h.3l.7 1.0zM205.5,169.9l.5-1.2h.3l.7 1.2zM139.3,169.9l.5-1.2h.3l.7 1.2zM593.7,169.9l.5-1.2h.3l.7 1.2zM261.0,169.9l.5-0.5h.3l.7 0.5zM270.5,169.9l.5-1.3h.3l.7 1.3zM580.0,169.9l.5-0.4h.3l.7 0.4zM310.0,169.9l.5-1.2h.3l.7 1.2zM289.3,169.9l.5-1.3h.3l.7 1.3zM126.1,169.9l.5-1.3h.3l.7 1.3zM283.0,169.9l.5-0.9h.3l.7 0.9zM211.5,169.9l.5-1.0h.3l.7 1.0zM151.5,169.9l.5-0.4h.3l.7 0.4zM230.9,169.9l.5-1.4h.3l.7 1.4zM163.6,169.9l.5-0.9h.3l.7 0.9z"/><polygon points="124.00,194.40 124.30,194.00 124.45,192.65 124.58,191.90 124.60,189.40 125.00,189.40 125.10,191.90 125.40,192.65 125.70,194.00 126.30,194.40"/><polygon points="133.80,194.40 134.10,193.84 134.25,191.95 134.38,190.90 134.40,187.40 134.80,187.40 134.90,190.90 135.20,191.95 135.50,193.84 136.10,194.40"/><polygon points="138.80,194.40 139.10,194.08 139.25,193.00 139.38,192.40 139.40,190.40 139.80,190.40 139.90,192.40 140.20,193.00 140.50,194.08 141.10,194.40"/><polygon points="146.60,194.40 146.90,193.90 147.05,192.19 147.18,191.25 147.20,188.10 147.60,188.10 147.70,191.25 148.00,192.19 148.30,193.90 148.90,194.40"/><polygon points="156.50,194.40 156.80,194.32 156.95,194.05 157.08,193.90 157.10,193.40 157.50,193.40 157.60,193.90 157.90,194.05 158.20,194.32 158.80,194.40"/><polygon points="161.40,194.40 161.70,194.32 161.85,194.05 161.98,193.90 162.00,193.40 162.40,193.40 162.50,193.90 162.80,194.05 163.10,194.32 163.70,194.40"/><polygon points="164.40,194.40 164.70,193.77 164.85,191.64 164.98,190.45 165.00,186.50 165.40,186.50 165.50,190.45 165.80,191.64 166.10,193.77 166.70,194.40"/><polygon points="181.70,194.40 182.00,193.76 182.15,191.60 182.28,190.40 182.30,186.40 182.70,186.40 182.80,190.40 183.10,191.60 183.40,193.76 184.00,194.40"/><polygon points="182.56,194.40 182.95,193.38 183.14,189.92 183.31,188.00 183.34,181.60 183.86,181.60 183.99,188.00 184.38,189.92 184.77,193.38 185.55,194.40"/><polygon points="184.20,194.40 184.50,193.68 184.65,191.25 184.78,189.90 184.80,185.40 185.20,185.40 185.30,189.90 185.60,191.25 185.90,193.68 186.50,194.40"/><polygon points="195.60,194.40 195.90,194.14 196.05,193.25 196.18,192.75 196.20,191.10 196.60,191.10 196.70,192.75 197.00,193.25 197.30,194.14 197.90,194.40"/><polygon points="201.90,194.40 202.20,194.06 202.35,192.90 202.48,192.25 202.50,190.10 202.90,190.10 203.00,192.25 203.30,192.90 203.60,194.06 204.20,194.40"/><polygon points="205.50,194.40 205.80,193.23 205.95,189.29 206.08,187.10 206.10,179.80 206.50,179.80 206.60,187.10 206.90,189.29 207.20,193.23 207.80,194.40"/><polygon points="213.40,194.40 213.70,194.21 213.85,193.56 213.98,193.20 214.00,192.00 214.40,192.00 214.50,193.20 214.80,193.56 215.10,194.21 215.70,194.40"/><polygon points="218.70,194.40 219.00,193.26 219.15,189.43 219.28,187.30 219.30,180.20 219.70,180.20 219.80,187.30 220.10,189.43 220.40,193.26 221.00,194.40"/><polygon points="229.90,194.40 230.20,193.34 230.35,189.78 230.48,187.80 230.50,181.20 230.90,181.20 231.00,187.80 231.30,189.78 231.60,193.34 232.20,194.40"/><polygon points="238.40,194.40 238.70,194.24 238.85,193.70 238.98,193.40 239.00,192.40 239.40,192.40 239.50,193.40 239.80,193.70 240.10,194.24 240.70,194.40"/><polygon points="243.30,194.40 243.60,192.48 243.75,186.00 243.88,182.40 243.90,170.40 244.30,170.40 244.40,182.40 244.70,186.00 245.00,192.48 245.60,194.40"/><polygon points="253.60,194.40 253.90,194.28 254.05,193.88 254.18,193.65 254.20,192.90 254.60,192.90 254.70,193.65 255.00,193.88 255.30,194.28 255.90,194.40"/><polygon points="257.50,194.40 257.80,193.23 257.95,189.29 258.08,187.10 258.10,179.80 258.50,179.80 258.60,187.10 258.90,189.29 259.20,193.23 259.80,194.40"/><polygon points="267.50,194.40 267.80,194.24 267.95,193.70 268.08,193.40 268.10,192.40 268.50,192.40 268.60,193.40 268.90,193.70 269.20,194.24 269.80,194.40"/><polygon points="286.40,194.40 286.70,194.32 286.85,194.05 286.98,193.90 287.00,193.40 287.40,193.40 287.50,193.90 287.80,194.05 288.10,194.32 288.70,194.40"/><polygon points="295.70,194.40 296.00,194.21 296.15,193.56 296.28,193.20 296.30,192.00 296.70,192.00 296.80,193.20 297.10,193.56 297.40,194.21 298.00,194.40"/><polygon points="308.90,194.40 309.20,194.08 309.35,193.00 309.48,192.40 309.50,190.40 309.90,190.40 310.00,192.40 310.30,193.00 310.60,194.08 311.20,194.40"/><polygon points="322.60,194.40 322.90,194.24 323.05,193.70 323.18,193.40 323.20,192.40 323.60,192.40 323.70,193.40 324.00,193.70 324.30,194.24 324.90,194.40"/><polygon points="337.20,194.40 337.50,194.32 337.65,194.05 337.78,193.90 337.80,193.40 338.20,193.40 338.30,193.90 338.60,194.05 338.90,194.32 339.50,194.40"/><polygon points="349.60,194.40 349.90,194.04 350.05,192.83 350.18,192.15 350.20,189.90 350.60,189.90 350.70,192.15 351.00,192.83 351.30,194.04 351.90,194.40"/><polygon points="377.20,194.40 377.50,194.32 377.65,194.05 377.78,193.90 377.80,193.40 378.20,193.40 378.30,193.90 378.60,194.05 378.90,194.32 379.50,194.40"/><polygon points="391.30,194.40 391.60,193.98 391.75,192.55 391.88,191.75 391.90,189.10 392.30,189.10 392.40,191.75 392.70,192.55 393.00,193.98 393.60,194.40"/><polygon points="524.90,194.40 525.20,194.05 525.35,192.86 525.48,192.20 525.50,190.00 525.90,190.00 526.00,192.20 526.30,192.86 526.60,194.05 527.20,194.40"/><polygon points="534.50,194.40 534.80,194.32 534.95,194.05 535.08,193.90 535.10,193.40 535.50,193.40 535.60,193.90 535.90,194.05 536.20,194.32 536.80,194.40"/><polygon points="644.50,194.40 644.80,194.32 644.95,194.05 645.08,193.90 645.10,193.40 645.50,193.40 645.60,193.90 645.90,194.05 646.20,194.32 646.80,194.40"/><polygon points="658.30,194.40 658.60,194.32 658.75,194.05 658.88,193.90 658.90,193.40 659.30,193.40 659.40,193.90 659.70,194.05 660.00,194.32 660.60,194.40"/><path d="M515.1,194.4l.5-0.4h.3l.7 0.4zM646.5,194.4l.5-0.5h.3l.7 0.5zM569.4,194.4l.5-0.6h.3l.7 0.6zM269.4,194.4l.5-0.9h.3l.7 0.9zM189.5,194.4l.5-0.7h.3l.7 0.7zM309.5,194.4l.5-0.6h.3l.7 0.6zM214.6,194.4l.5-1.2h.3l.7 1.2zM192.2,194.4l.5-0.6h.3l.7 0.6zM250.4,194.4l.5-0.8h.3l.7 0.8zM185.9,194.4l.5-0.7h.3l.7 0.7zM186.3,194.4l.5-1.3h.3l.7 1.3zM652.9,194.4l.5-1.4h.3l.7 1.4zM247.4,194.4l.5-1.0h.3l.7 1.0zM190.4,194.4l.5-1.1h.3l.7 1.1zM148.9,194.4l.5-0.5h.3l.7 0.5zM423.5,194.4l.5-0.6h.3l.7 0.6zM176.3,194.4l.5-0.6h.3l.7 0.6zM278.1,194.4l.5-1.3h.3l.7 1.3zM169.3,194.4l.5-0.8h.3l.7 0.8zM266.7,194.4l.5-0.4h.3l.7 0.4zM274.2,194.4l.5-0.6h.3l.7 0.6zM201.1,194.4l.5-1.1h.3l.7 1.1zM544.8,194.4l.5-1.3h.3l.7 1.3zM415.5,194.4l.5-0.4h.3l.7 0.4zM220.1,194.4l.5-1.0h.3l.7 1.0zM293.3,194.4l.5-0.6h.3l.7 0.6zM143.7,194.4l.5-1.3h.3l.7 1.3zM276.0,194.4l.5-1.4h.3l.7 1.4zM552.1,194.4l.5-1.3h.3l.7 1.3zM302.9,194.4l.5-1.0h.3l.7 1.0zM280.4,194.4l.5-0.8h.3l.7 0.8zM159.6,194.4l.5-1.1h.3l.7 1.1z"/><polygon points="124.00,218.60 124.30,218.48 124.45,218.07 124.58,217.85 124.60,217.10 125.00,217.10 125.10,217.85 125.40,218.07 125.70,218.48 126.30,218.60"/><polygon points="164.40,218.60 164.70,218.44 164.85,217.90 164.98,217.60 165.00,216.60 165.40,216.60 165.50,217.60 165.80,217.90 166.10,218.44 166.70,218.60"/><polygon points="188.00,218.60 188.30,218.52 188.45,218.25 188.58,218.10 188.60,217.60 189.00,217.60 189.10,218.10 189.40,218.25 189.70,218.52 190.30,218.60"/><polygon points="201.90,218.60 202.20,218.10 202.35,216.39 202.48,215.45 202.50,212.30 202.90,212.30 203.00,215.45 203.30,216.39 203.60,218.10 204.20,218.60"/><polygon points="213.40,218.60 213.70,218.10 213.85,216.39 213.98,215.45 214.00,212.30 214.40,212.30 214.50,215.45 214.80,216.39 215.10,218.10 215.70,218.60"/><polygon points="218.70,218.60 219.00,216.94 219.15,211.35 219.28,208.25 219.30,197.90 219.70,197.90 219.80,208.25 220.10,211.35 220.40,216.94 221.00,218.60"/><polygon points="229.90,218.60 230.20,217.10 230.35,212.06 230.48,209.25 230.50,199.90 230.90,199.90 231.00,209.25 231.30,212.06 231.60,217.10 232.20,218.60"/><polygon points="243.30,218.60 243.60,216.63 243.75,209.99 243.88,206.30 243.90,194.00 244.30,194.00 244.40,206.30 244.70,209.99 245.00,216.63 245.60,218.60"/><polygon points="253.60,218.60 253.90,218.28 254.05,217.20 254.18,216.60 254.20,214.60 254.60,214.60 254.70,216.60 255.00,217.20 255.30,218.28 255.90,218.60"/><polygon points="257.50,218.60 257.80,218.12 257.95,216.50 258.08,215.60 258.10,212.60 258.50,212.60 258.60,215.60 258.90,216.50 259.20,218.12 259.80,218.60"/><polygon points="286.40,218.60 286.70,218.48 286.85,218.07 286.98,217.85 287.00,217.10 287.40,217.10 287.50,217.85 287.80,218.07 288.10,218.48 288.70,218.60"/><polygon points="323.20,218.60 323.50,218.24 323.65,217.03 323.78,216.35 323.80,214.10 324.20,214.10 324.30,216.35 324.60,217.03 324.90,218.24 325.50,218.60"/><polygon points="348.96,218.60 349.50,217.97 349.77,215.84 350.00,214.65 350.04,210.70 350.76,210.70 350.94,214.65 351.48,215.84 352.02,217.97 353.10,218.60"/><polygon points="494.90,218.60 495.20,218.34 495.35,217.48 495.48,217.00 495.50,215.40 495.90,215.40 496.00,217.00 496.30,217.48 496.60,218.34 497.20,218.60"/><polygon points="512.50,218.60 512.80,218.40 512.95,217.72 513.08,217.35 513.10,216.10 513.50,216.10 513.60,217.35 513.90,217.72 514.20,218.40 514.80,218.60"/><polygon points="526.20,218.60 526.50,218.48 526.65,218.07 526.78,217.85 526.80,217.10 527.20,217.10 527.30,217.85 527.60,218.07 527.90,218.48 528.50,218.60"/><path d="M251.4,218.6l.5-1.0h.3l.7 1.0zM189.7,218.6l.5-1.5h.3l.7 1.5zM289.4,218.6l.5-0.6h.3l.7 0.6zM446.4,218.6l.5-1.2h.3l.7 1.2zM190.7,218.6l.5-0.8h.3l.7 0.8zM154.9,218.6l.5-0.6h.3l.7 0.6zM265.1,218.6l.5-0.7h.3l.7 0.7zM351.4,218.6l.5-0.7h.3l.7 0.7zM277.0,218.6l.5-0.7h.3l.7 0.7zM553.8,218.6l.5-1.2h.3l.7 1.2zM281.0,218.6l.5-0.7h.3l.7 0.7zM557.2,218.6l.5-1.3h.3l.7 1.3zM499.1,218.6l.5-0.9h.3l.7 0.9zM564.7,218.6l.5-1.0h.3l.7 1.0zM643.4,218.6l.5-0.4h.3l.7 0.4zM257.4,218.6l.5-0.8h.3l.7 0.8zM610.4,218.6l.5-1.4h.3l.7 1.4zM602.8,218.6l.5-1.4h.3l.7 1.4zM546.9,218.6l.5-1.1h.3l.7 1.1zM186.3,218.6l.5-0.5h.3l.7 0.5zM196.3,218.6l.5-0.4h.3l.7 0.4zM164.0,218.6l.5-1.4h.3l.7 1.4zM169.3,218.6l.5-1.5h.3l.7 1.5zM604.1,218.6l.5-0.6h.3l.7 0.6zM667.3,218.6l.5-0.9h.3l.7 0.9zM633.8,218.6l.5-0.6h.3l.7 0.6zM599.6,218.6l.5-0.7h.3l.7 0.7zM126.5,218.6l.5-0.9h.3l.7 0.9zM188.4,218.6l.5-1.3h.3l.7 1.3zM583.0,218.6l.5-1.1h.3l.7 1.1zM363.7,218.6l.5-1.0h.3l.7 1.0z"/><polygon points="164.40,243.00 164.70,242.80 164.85,242.12 164.98,241.75 165.00,240.50 165.40,240.50 165.50,241.75 165.80,242.12 166.10,242.80 166.70,243.00"/><polygon points="185.20,243.00 185.50,242.92 185.65,242.65 185.78,242.50 185.80,242.00 186.20,242.00 186.30,242.50 186.60,242.65 186.90,242.92 187.50,243.00"/><polygon points="188.00,243.00 188.30,242.92 188.45,242.65 188.58,242.50 188.60,242.00 189.00,242.00 189.10,242.50 189.40,242.65 189.70,242.92 190.30,243.00"/><polygon points="200.00,243.00 200.30,242.56 200.45,241.07 200.58,240.25 200.60,237.50 201.00,237.50 201.10,240.25 201.40,241.07 201.70,242.56 202.30,243.00"/><polygon points="201.40,243.00 201.70,242.60 201.85,241.25 201.98,240.50 202.00,238.00 202.40,238.00 202.50,240.50 202.80,241.25 203.10,242.60 203.70,243.00"/><polygon points="202.90,243.00 203.20,242.56 203.35,241.07 203.48,240.25 203.50,237.50 203.90,237.50 204.00,240.25 204.30,241.07 204.60,242.56 205.20,243.00"/><polygon points="208.80,243.00 209.10,242.14 209.25,239.22 209.38,237.60 209.40,232.20 209.80,232.20 209.90,237.60 210.20,239.22 210.50,242.14 211.10,243.00"/><polygon points="210.80,243.00 211.10,242.52 211.25,240.90 211.38,240.00 211.40,237.00 211.80,237.00 211.90,240.00 212.20,240.90 212.50,242.52 213.10,243.00"/><polygon points="212.20,243.00 212.50,242.48 212.65,240.72 212.78,239.75 212.80,236.50 213.20,236.50 213.30,239.75 213.60,240.72 213.90,242.48 214.50,243.00"/><polygon points="213.40,243.00 213.70,242.48 213.85,240.72 213.98,239.75 214.00,236.50 214.40,236.50 214.50,239.75 214.80,240.72 215.10,242.48 215.70,243.00"/><polygon points="218.70,243.00 219.00,241.14 219.15,234.84 219.28,231.35 219.30,219.70 219.70,219.70 219.80,231.35 220.10,234.84 220.40,241.14 221.00,243.00"/><polygon points="229.90,243.00 230.20,241.14 230.35,234.84 230.48,231.35 230.50,219.70 230.90,219.70 231.00,231.35 231.30,234.84 231.60,241.14 232.20,243.00"/><polygon points="243.30,243.00 243.60,242.20 243.75,239.50 243.88,238.00 243.90,233.00 244.30,233.00 244.40,238.00 244.70,239.50 245.00,242.20 245.60,243.00"/><polygon points="286.40,243.00 286.70,242.48 286.85,240.72 286.98,239.75 287.00,236.50 287.40,236.50 287.50,239.75 287.80,240.72 288.10,242.48 288.70,243.00"/><polygon points="295.70,243.00 296.00,242.92 296.15,242.65 296.28,242.50 296.30,242.00 296.70,242.00 296.80,242.50 297.10,242.65 297.40,242.92 298.00,243.00"/><polygon points="313.40,243.00 313.70,242.64 313.85,241.43 313.98,240.75 314.00,238.50 314.40,238.50 314.50,240.75 314.80,241.43 315.10,242.64 315.70,243.00"/><polygon points="321.90,243.00 322.20,242.84 322.35,242.30 322.48,242.00 322.50,241.00 322.90,241.00 323.00,242.00 323.30,242.30 323.60,242.84 324.20,243.00"/><polygon points="349.12,243.00 349.60,242.06 349.84,238.87 350.05,237.10 350.08,231.20 350.72,231.20 350.88,237.10 351.36,238.87 351.84,242.06 352.80,243.00"/><polygon points="403.20,243.00 403.50,242.92 403.65,242.65 403.78,242.50 403.80,242.00 404.20,242.00 404.30,242.50 404.60,242.65 404.90,242.92 405.50,243.00"/><polygon points="407.20,243.00 407.50,242.92 407.65,242.65 407.78,242.50 407.80,242.00 408.20,242.00 408.30,242.50 408.60,242.65 408.90,242.92 409.50,243.00"/><polygon points="411.20,243.00 411.50,242.92 411.65,242.65 411.78,242.50 411.80,242.00 412.20,242.00 412.30,242.50 412.60,242.65 412.90,242.92 413.50,243.00"/><polygon points="512.90,243.00 513.20,242.92 513.35,242.65 513.48,242.50 513.50,242.00 513.90,242.00 514.00,242.50 514.30,242.65 514.60,242.92 515.20,243.00"/><path d="M185.5,243.0l.5-1.3h.3l.7 1.3zM268.5,243.0l.5-0.6h.3l.7 0.6zM157.4,243.0l.5-0.6h.3l.7 0.6zM226.1,243.0l.5-1.3h.3l.7 1.3zM219.7,243.0l.5-0.6h.3l.7 0.6zM638.5,243.0l.5-0.5h.3l.7 0.5zM294.7,243.0l.5-1.5h.3l.7 1.5zM142.8,243.0l.5-1.2h.3l.7 1.2zM673.3,243.0l.5-0.6h.3l.7 0.6zM672.0,243.0l.5-0.9h.3l.7 0.9zM623.6,243.0l.5-0.5h.3l.7 0.5zM342.0,243.0l.5-0.7h.3l.7 0.7zM311.7,243.0l.5-0.6h.3l.7 0.6zM126.8,243.0l.5-1.3h.3l.7 1.3zM560.3,243.0l.5-0.6h.3l.7 0.6zM254.9,243.0l.5-0.5h.3l.7 0.5zM191.4,243.0l.5-1.2h.3l.7 1.2zM216.8,243.0l.5-0.6h.3l.7 0.6zM429.3,243.0l.5-1.0h.3l.7 1.0zM278.8,243.0l.5-1.2h.3l.7 1.2zM151.6,243.0l.5-0.6h.3l.7 0.6zM169.6,243.0l.5-1.1h.3l.7 1.1zM149.2,243.0l.5-0.8h.3l.7 0.8zM295.5,243.0l.5-0.5h.3l.7 0.5zM123.5,243.0l.5-1.1h.3l.7 1.1zM159.7,243.0l.5-1.4h.3l.7 1.4zM154.3,243.0l.5-0.8h.3l.7 0.8zM178.7,243.0l.5-1.1h.3l.7 1.1zM153.0,243.0l.5-1.2h.3l.7 1.2zM202.5,243.0l.5-1.1h.3l.7 1.1zM269.1,243.0l.5-1.3h.3l.7 1.3zM288.2,243.0l.5-1.3h.3l.7 1.3zM142.5,243.0l.5-0.6h.3l.7 0.6zM132.3,243.0l.5-1.2h.3l.7 1.2z"/></g>
<line x1="111.5" y1="48.0" x2="111.5" y2="243.5" stroke="#8c8c8c" stroke-width="1"/>
<line x1="682.5" y1="48.0" x2="682.5" y2="243.5" stroke="#8c8c8c" stroke-width="1"/>
<line x1="111.5" y1="243.5" x2="682.5" y2="243.5" stroke="rgb(140,72,78)" stroke-width="1"/>
<path d="M116.93,244v1.3M123.27,244v1.3M129.60,244v1.3M135.93,244v1.3M142.26,244v1.9M148.60,244v1.3M154.93,244v1.3M161.26,244v1.3M167.60,244v1.3M173.93,244v1.9M180.26,244v1.3M186.60,244v1.3M192.93,244v1.3M199.26,244v1.3M205.59,244v1.9M211.93,244v1.3M218.26,244v1.3M224.59,244v1.3M230.93,244v1.3M237.26,244v1.9M243.59,244v1.3M249.93,244v1.3M256.26,244v1.3M262.59,244v1.3M268.92,244v1.9M275.26,244v1.3M281.59,244v1.3M287.92,244v1.3M294.26,244v1.3M300.59,244v1.9M306.92,244v1.3M313.26,244v1.3M319.59,244v1.3M325.92,244v1.3M332.25,244v1.9M338.59,244v1.3M344.92,244v1.3M351.25,244v1.3M357.59,244v1.3M363.92,244v1.9M370.25,244v1.3M376.59,244v1.3M382.92,244v1.3M389.25,244v1.3M395.59,244v1.9M401.92,244v1.3M408.25,244v1.3M414.58,244v1.3M420.92,244v1.3M427.25,244v1.9M433.58,244v1.3M439.92,244v1.3M446.25,244v1.3M452.58,244v1.3M458.91,244v1.9M465.25,244v1.3M471.58,244v1.3M477.91,244v1.3M484.25,244v1.3M490.58,244v1.9M496.91,244v1.3M503.25,244v1.3M509.58,244v1.3M515.91,244v1.3M522.25,244v1.9M528.58,244v1.3M534.91,244v1.3M541.24,244v1.3M547.58,244v1.3M553.91,244v1.9M560.24,244v1.3M566.58,244v1.3M572.91,244v1.3M579.24,244v1.3M585.57,244v1.9M591.91,244v1.3M598.24,244v1.3M604.57,244v1.3M610.91,244v1.3M617.24,244v1.9M623.57,244v1.3M629.91,244v1.3M636.24,244v1.3M642.57,244v1.3M648.90,244v1.9M655.24,244v1.3M661.57,244v1.3M667.90,244v1.3M674.24,244v1.3M680.57,244v1.9" stroke="#555" stroke-width="0.7" fill="none"/>
<text x="142.3" y="253.2" class="tk" text-anchor="middle">50</text>
<text x="173.9" y="253.2" class="tk" text-anchor="middle">100</text>
<text x="205.6" y="253.2" class="tk" text-anchor="middle">150</text>
<text x="237.3" y="253.2" class="tk" text-anchor="middle">200</text>
<text x="268.9" y="253.2" class="tk" text-anchor="middle">250</text>
<text x="300.6" y="253.2" class="tk" text-anchor="middle">300</text>
<text x="332.3" y="253.2" class="tk" text-anchor="middle">350</text>
<text x="363.9" y="253.2" class="tk" text-anchor="middle">400</text>
<text x="395.6" y="253.2" class="tk" text-anchor="middle">450</text>
<text x="427.2" y="253.2" class="tk" text-anchor="middle">500</text>
<text x="458.9" y="253.2" class="tk" text-anchor="middle">550</text>
<text x="490.6" y="253.2" class="tk" text-anchor="middle">600</text>
<text x="522.2" y="253.2" class="tk" text-anchor="middle">650</text>
<text x="553.9" y="253.2" class="tk" text-anchor="middle">700</text>
<text x="585.6" y="253.2" class="tk" text-anchor="middle">750</text>
<text x="617.2" y="253.2" class="tk" text-anchor="middle">800</text>
<text x="648.9" y="253.2" class="tk" text-anchor="middle">850</text>
<text x="677.0" y="253.2" class="tk" text-anchor="middle">900</text>
<text x="391.2" y="262.8" class="mz" style="font-size:7px">m/z</text>
<text x="680.6" y="42.7" class="lb" text-anchor="end">COVISHIELD vaccine</text>
<text x="680.6" y="63.9" class="lb" text-anchor="end">Water for injection</text>
<text x="680.6" y="88.9" class="lb" text-anchor="end">Milli-Q water</text>
<text x="680.0" y="113.6" class="lb" text-anchor="end">Tap water</text>
<text x="679.2" y="136.2" class="lb" text-anchor="end">0.9% NaCl</text>
<text x="679.2" y="162.2" class="lb" text-anchor="end">5% Glucose</text>
<text x="680.2" y="186.9" class="lb" text-anchor="end">Hyaluronic acid</text>
<text x="680.2" y="214.2" class="lb" text-anchor="end">Amikacin</text>
<text x="680.2" y="237.2" class="lb" text-anchor="end">Gentamicin</text>
<path d="M683,49.5v4.5M683,74.0v4.5M683,98.5v4.5M683,122.6v4.5M683,147.0v4.5M683,171.4v4.5M683,195.9v4.5M683,220.1v4.5" stroke="rgb(226,32,44)" stroke-width="0.8" opacity="0.35"/>
<path d="M80,219.4h1.6v24.1h-1.6" stroke="#666" stroke-width="0.8" fill="none"/>
<text x="77.7" y="226" class="tk" text-anchor="end">100</text>
<text x="77.7" y="241" class="tk" text-anchor="end">0</text>
<text class="yl" transform="translate(45.2,138.3) rotate(-90)" text-anchor="middle">Percentage intensity (%)</text>
<text class="pl" style="font-size:26.4px" transform="translate(1.25,15.1) scale(0.89,1)">a</text>
<line x1="674.8" y1="369.5" x2="681.0" y2="369.5" stroke="rgb(228,180,188)" stroke-width="1"/>
<line x1="674.8" y1="393.8" x2="681.0" y2="393.8" stroke="rgb(228,180,188)" stroke-width="1"/>
<line x1="674.8" y1="418.1" x2="681.0" y2="418.1" stroke="rgb(228,180,188)" stroke-width="1"/>
<line x1="674.8" y1="442.4" x2="681.0" y2="442.4" stroke="rgb(228,180,188)" stroke-width="1"/>
<line x1="674.8" y1="466.7" x2="681.0" y2="466.7" stroke="rgb(228,180,188)" stroke-width="1"/>
<line x1="674.8" y1="491.0" x2="681.0" y2="491.0" stroke="rgb(228,180,188)" stroke-width="1"/>
<line x1="674.8" y1="515.3" x2="681.0" y2="515.3" stroke="rgb(228,180,188)" stroke-width="1"/>
<line x1="674.8" y1="539.6" x2="681.0" y2="539.6" stroke="rgb(228,180,188)" stroke-width="1"/>
<line x1="109.5" y1="369.5" x2="109.5" y2="564.4" stroke="#8c8c8c" stroke-width="1"/>
<line x1="681.0" y1="369.5" x2="681.0" y2="564.4" stroke="#8c8c8c" stroke-width="1"/>
<line x1="109.5" y1="563.9" x2="681.0" y2="563.9" stroke="#8c8c8c" stroke-width="1"/>
<path transform="scale(.05)" d="M2192 7381l8 0l8 5l8 -8l8 6l8 -5l8 8l8 -3l8 3l8 -4l8 2l8 -2l8 -1l8 2l8 -3l8 2l8 3l8 -2l8 -1l8 6l8 -5l8 -1l8 1l8 -1l8 0l8 0l8 6l8 -5l8 0l8 2l8 3l8 -6l8 0l8 7l8 -10l8 3l8 3l8 3l8 -7l8 -4l8 8l8 -3l8 0l8 2l8 0l8 0l8 -2l8 4l8 1l8 -4l8 -1l8 3l8 -1l8 -3l8 1l8 4l8 -3l8 -1l8 2l8 -1l8 0l8 -5l8 9l6 -4l2 -2l0 4l3 -1l2 -1l3 2l0 3l2 -4l2 2l3 2l1 -8l1 1l0 3l1 -7l1 1l0 -3l1 -4l0 -12l1 -30l1 -23l0 -14l1 -26l0 -27l1 -12l0 1l0 2l1 14l1 10l1 23l0 6l0 20l1 22l1 19l1 5l1 18l0 6l1 4l0 -2l0 -1l1 4l1 -4l0 2l0 3l1 3l1 -5l1 -4l1 -6l0 -10l1 -5l0 -11l1 -9l1 -11l0 1l1 -3l0 1l1 -2l1 5l0 4l1 1l1 10l1 11l1 4l0 5l1 1l1 6l0 -3l1 12l0 -1l1 -2l1 -1l0 3l1 2l0 -1l1 -5l1 2l0 6l2 -2l2 -4l3 1l1 -1l0 1l1 5l1 -4l2 0l0 -6l2 -15l1 -2l1 4l0 -7l1 0l2 11l1 0l1 7l1 6l2 -3l0 6l0 -3l2 2l1 2l1 5l1 -3l2 -3l1 2l1 6l3 -1l2 -4l2 9l0 -7l3 -2l2 3l3 3l0 2l2 -1l2 -4l3 0l1 -2l1 4l3 -2l2 3l2 -4l0 2l3 -1l2 0l3 0l2 0l2 4l3 -1l1 -3l1 4l3 0l2 2l2 -4l3 -1l2 2l3 1l0 -1l2 -1l2 2l3 -1l1 1l8 -3l8 3l8 -3l8 0l8 2l8 5l8 -3l8 -2l8 0l8 2l8 1l8 0l8 -3l6 0l2 -1l3 -1l2 1l3 -4l0 2l2 4l2 -4l3 4l1 -5l1 2l0 2l1 -5l1 -2l1 -10l0 -13l1 -26l1 -35l0 -10l1 -26l0 -29l1 -11l0 1l0 -2l1 7l1 20l1 28l0 5l0 21l1 25l1 18l0 10l1 4l1 11l0 6l1 5l0 -1l0 -1l1 5l1 2l0 -3l0 3l1 -1l1 -2l0 -6l1 1l1 -6l0 -15l1 2l0 -9l1 -15l1 -5l0 -10l1 -5l0 1l0 2l1 2l1 0l0 1l1 7l1 7l0 3l0 6l1 7l1 8l1 3l1 6l0 3l1 5l0 -4l1 5l1 0l0 -2l1 5l0 -1l0 -6l1 7l1 1l0 -4l2 6l2 -3l3 -3l1 4l0 -2l1 -3l1 -3l2 2l0 -6l2 -8l1 -6l1 -5l1 7l2 5l1 2l1 4l1 2l2 6l0 6l0 -2l2 1l1 -2l1 4l1 -2l2 3l1 2l1 1l3 -2l2 -1l2 2l0 4l3 -3l2 -4l3 7l0 -3l2 8l2 -9l3 1l1 0l1 2l3 -3l2 -2l2 -1l0 5l3 -1l2 0l3 7l0 -4l2 1l2 -4l3 2l1 -1l1 0l3 3l2 -1l2 0l0 -1l3 -4l2 2l3 3l0 -2l2 -1l2 3l3 -3l1 0l8 4l8 -3l8 4l8 -2l8 1l8 1l8 -8l8 5l8 -3l8 2l8 1l8 3l8 -3l8 4l2 -5l2 1l3 0l1 2l1 -2l3 -2l2 1l2 -3l0 7l3 -2l2 -1l0 -1l1 -3l1 -3l0 -6l1 -8l0 -9l1 -33l1 -47l0 -12l1 -36l0 -32l1 -13l0 2l0 2l1 11l1 18l1 30l0 7l0 23l1 23l0 9l1 27l0 1l1 14l1 13l0 10l1 2l0 -2l1 6l1 -2l0 4l0 -4l1 0l1 -1l0 -4l1 0l1 -8l0 -11l1 -7l0 -6l1 -20l1 -13l0 -5l1 -9l0 5l0 -3l1 3l1 3l0 5l1 8l1 9l0 2l0 8l1 9l1 6l0 4l1 6l1 4l0 5l1 0l0 4l1 5l1 -3l0 -4l1 8l0 -5l0 -2l1 -2l1 7l0 1l2 0l2 -3l0 5l3 -4l1 -1l1 1l1 0l2 -5l0 -2l0 -9l2 -4l1 -11l1 -1l0 -4l1 4l2 6l1 1l0 7l1 7l1 0l2 4l0 5l2 3l1 3l1 0l0 4l1 -2l2 -1l2 1l3 -6l0 4l2 1l2 2l3 2l1 0l1 2l3 -4l2 3l2 -1l0 1l3 1l2 -1l3 1l0 -1l2 3l2 -2l3 1l1 5l1 -4l3 0l2 1l2 -5l0 4l3 0l2 0l3 1l2 1l2 -5l3 3l1 -2l1 4l3 -3l2 -3l2 3l0 -2l3 4l5 -3l8 -4l8 4l8 3l8 -1l8 -3l8 4l8 -1l8 3l8 -2l8 -1l8 -3l8 3l8 0l8 -1l2 1l2 -4l3 4l1 -1l1 1l3 -1l2 -1l2 1l0 2l3 -3l2 1l0 -3l1 2l1 -3l0 -10l1 3l0 -11l0 -2l1 -26l1 -32l0 -2l1 -30l0 -26l1 -2l0 -3l0 4l1 11l1 10l1 23l0 6l0 16l1 15l0 9l1 13l0 5l1 9l1 6l0 9l1 0l0 4l1 1l1 3l0 -8l0 3l2 -2l0 -2l2 -12l1 -7l2 -26l0 -8l1 -2l1 5l1 0l0 2l2 13l0 3l2 13l0 9l2 4l1 4l1 3l1 1l0 -3l1 0l1 3l1 0l2 -6l2 0l0 4l3 1l1 0l1 2l1 -4l2 5l0 -6l0 -1l2 -11l1 -10l1 2l0 -1l1 3l2 3l1 5l0 -2l1 6l1 4l2 2l0 2l2 5l1 4l1 -5l0 3l1 -5l2 2l2 3l3 1l0 -4l2 4l2 -1l3 3l1 0l1 -1l3 -2l2 2l2 -3l3 -2l2 2l3 0l0 3l2 0l2 -3l3 3l1 1l1 2l3 -3l2 1l2 -1l0 3l3 -6l2 4l3 -6l0 10l2 -2l2 -7l3 4l1 -2l1 -1l3 3l2 -1l2 4l0 -3l3 -2l5 3l8 1l8 1l8 -1l8 -5l8 2l8 2l8 -2l8 4l8 -3l8 1l8 -1l8 1l8 -4l8 9l2 -6l2 -1l3 -2l1 4l1 -3l3 4l2 2l2 -2l0 -2l3 4l2 -4l1 -1l1 -4l0 -5l1 -6l0 -8l0 2l1 -29l1 -32l0 -7l1 -29l0 -28l1 -4l0 -2l0 5l1 4l1 17l1 25l0 18l1 23l0 6l1 16l0 2l1 15l1 8l0 7l1 -6l0 7l1 -1l1 0l0 4l0 1l0 -3l1 0l1 2l0 -3l1 -4l1 -4l0 -10l1 -8l0 -4l1 -11l1 -10l0 -8l1 -2l0 -2l1 8l1 0l0 5l1 -3l1 10l0 10l0 -4l1 6l1 11l0 6l1 0l1 0l0 7l1 1l1 2l1 2l0 2l1 0l0 -3l1 -4l1 6l0 -5l2 9l2 -8l0 -1l3 0l1 5l1 0l1 0l2 -5l0 -4l0 2l2 -14l1 -6l1 3l0 -1l1 -2l2 6l1 6l0 2l1 0l1 8l2 -4l0 8l2 3l1 -1l1 1l0 -3l1 3l2 2l2 -3l3 3l2 -5l2 4l3 3l1 -4l1 3l3 1l2 -3l2 3l0 2l3 0l2 -4l3 5l0 -1l2 -1l2 4l3 -2l1 -1l1 2l3 -1l2 2l2 -4l0 -4l3 8l2 -1l3 -1l0 -1l2 0l2 0l3 -2l1 4l1 -2l3 -2l2 3l2 -2l0 1l3 1l5 5l8 -9l8 4l8 1l8 -1l8 3l8 -5l8 0l8 1l8 -3l8 6l8 -6l8 4l8 2l8 -5l2 2l2 -1l3 5l1 -3l1 -5l3 6l2 0l2 -7l0 -2l3 13l2 -7l0 -5l1 7l1 -2l0 -15l1 6l0 -8l0 -6l1 -24l1 -29l0 -11l1 -22l0 -26l1 -7l0 3l0 2l1 6l1 14l1 24l0 -2l0 20l1 17l0 7l1 9l0 8l1 10l1 10l0 11l1 -4l0 1l1 3l1 2l0 -3l0 4l2 -9l0 5l2 -17l1 -4l2 -26l0 -8l1 -1l1 1l1 0l0 2l2 11l0 8l2 8l0 4l2 13l1 4l1 -1l1 4l0 -3l1 0l1 -2l1 4l2 4l2 -4l0 -3l3 4l1 -4l1 0l1 5l2 -5l0 -1l0 -3l2 -10l1 -4l1 -4l0 3l1 -4l2 3l1 6l0 5l1 2l1 -2l2 17l0 -8l2 4l1 2l1 1l0 -2l1 -3l2 6l2 -4l3 3l0 2l2 -2l2 -3l3 3l1 3l1 0l3 -4l2 3l2 1l0 2l3 -1l2 -1l3 -1l0 2l2 1l2 -2l3 0l1 5l1 -5l3 -1l2 3l2 -4l3 5l2 -2l3 2l2 -4l2 3l3 -2l1 1l1 1l3 -1l2 -3l2 4l0 -1l3 1l5 -4l8 3l8 0l8 -1l8 0l8 0l8 -2l8 2l8 0l8 2l8 -1l8 3l8 -2l8 0l8 -1l4 -3l2 4l2 2l1 -5l2 5l3 -2l2 0l2 -2l3 1l2 -2l0 1l1 0l1 -5l0 1l1 -5l0 -5l1 -15l1 -23l0 1l1 -22l0 -16l1 -6l0 2l0 -3l1 9l1 7l0 3l1 14l0 4l0 8l1 13l1 9l0 5l1 10l1 6l0 -1l1 4l0 4l1 -3l1 1l0 -1l0 3l2 -7l0 3l2 -9l1 -4l2 -16l0 -3l1 -5l1 0l1 1l2 13l0 1l2 11l0 -1l2 10l1 1l2 -2l0 9l1 -4l1 -4l1 5l2 -3l2 -1l3 0l1 3l1 -1l1 0l2 -4l0 -4l2 -3l1 -4l1 -2l0 2l1 3l1 -4l1 6l1 -2l1 8l1 1l2 1l0 2l2 -1l1 1l1 4l1 -1l2 4l2 -7l1 1l2 2l2 0l2 -1l2 0l1 1l2 3l3 -3l2 -1l2 3l3 -7l2 4l1 1l2 2l2 -6l2 5l2 -2l1 5l2 0l3 -3l2 2l2 -4l3 3l2 0l1 2l2 -3l2 -4l2 7l2 -5l1 2l2 0l3 5l2 -4l2 3l3 -3l3 -3l8 4l8 0l8 -2l8 -3l8 11l8 -2l8 -4l8 0l8 1l8 -1l8 -4l8 0l8 5l4 1l2 -1l2 0l1 -2l2 2l3 2l2 -3l2 2l3 0l2 -5l0 4l1 -5l0 -1l1 5l0 -12l1 1l0 -5l1 -17l1 -23l0 -7l1 -14l0 -17l1 -6l0 -2l0 -1l1 8l1 11l0 5l1 9l0 6l0 7l1 14l1 18l0 -1l1 6l1 8l0 1l1 3l0 -1l1 5l1 -2l0 2l2 -1l0 -6l2 -6l1 -4l2 -21l0 -1l1 0l1 1l1 5l2 4l0 3l2 15l0 -4l2 5l0 2l1 0l2 4l0 1l1 -2l1 -1l1 3l2 -3l2 1l3 3l1 -1l1 -2l1 -2l2 -1l0 -3l2 -2l1 -3l1 -3l1 -1l1 3l1 2l1 2l1 3l1 1l2 6l0 1l2 -2l1 2l1 1l1 2l2 -5l2 1l1 0l2 0l2 1l2 5l2 -5l1 8l2 -4l3 1l0 -2l2 3l0 -1l2 1l1 -1l2 0l2 2l1 -3l0 -1l2 5l0 -5l2 2l0 4l2 -6l1 1l1 -1l1 -1l0 4l0 -2l2 -2l0 -4l1 4l2 -19l0 -5l2 -17l0 7l0 -7l2 15l1 -2l0 2l2 14l0 7l0 -4l2 7l0 3l1 -1l0 2l2 -2l0 -2l0 5l2 1l0 -2l2 -8l1 4l1 -6l1 -6l0 1l1 -2l1 1l1 2l2 4l0 -1l2 5l0 -5l2 6l1 3l2 -2l0 3l1 -1l1 1l1 0l0 3l2 -2l2 -1l3 -3l1 4l0 -4l1 5l1 -4l2 -1l2 -4l1 2l1 -1l0 -3l1 1l2 7l1 -1l1 0l1 1l2 4l0 -5l0 1l2 1l1 -2l1 0l1 7l2 -4l1 -2l1 1l3 0l2 0l2 1l0 -3l3 -1l2 4l3 0l0 -2l2 2l2 -1l3 2l1 -1l1 3l3 1l2 -2l2 -1l0 2l3 0l2 -1l3 1l0 -3l2 3l2 -1l3 0l1 -1l1 -1l3 2l2 -2l2 -1l0 6l3 -1l2 -5l3 5l0 -8l2 6l2 1l3 -1l1 -1l8 2l4 -1l2 -4l2 1l1 4l2 0l3 -5l2 0l2 4l3 -3l2 0l0 1l1 1l1 -8l1 6l2 -21l0 1l2 -21l0 1l0 3l2 9l1 2l0 1l2 19l0 1l2 5l1 -1l2 5l0 -2l0 -2l2 3l0 -1l2 -6l1 -1l2 -7l0 -4l1 -2l1 6l1 -6l2 4l0 1l2 9l0 2l2 -2l0 5l1 1l2 0l0 -6l1 6l1 3l1 -7l2 -2l2 7l3 -2l1 -1l1 0l1 -4l2 1l0 1l2 -2l1 0l1 -1l0 -3l1 1l1 4l1 -6l1 6l1 -2l1 3l2 5l0 -2l2 -2l1 0l1 -2l1 4l2 -5l2 5l1 0l2 -2l2 0l2 5l2 0l1 2l2 -2l3 -2l0 -1l2 3l0 -1l2 -1l1 4l2 -5l0 1l2 2l1 -1l0 -1l2 2l0 4l2 -7l0 2l2 -1l1 0l1 3l1 -4l0 4l0 -6l1 1l1 -4l0 -1l0 -2l1 -2l0 -11l1 -23l1 -24l0 -3l0 -10l1 -21l0 -30l1 -3l0 -3l0 7l1 2l1 14l0 19l1 3l0 6l0 15l1 23l1 11l0 4l0 3l1 11l1 9l0 1l0 4l1 -5l0 3l0 1l1 1l1 4l0 -5l2 2l0 -4l2 -12l1 -5l1 -18l1 -9l0 -1l1 -5l1 3l1 3l2 10l0 2l2 16l0 7l2 7l1 5l2 0l1 -3l1 -2l1 -1l0 5l2 -3l2 0l3 5l1 -1l0 -4l1 4l1 2l2 -5l0 -7l2 -5l1 -11l1 2l0 -1l1 5l2 -1l1 4l1 7l1 5l2 -1l0 5l0 -1l2 2l1 -2l1 5l1 0l2 1l1 -1l1 0l3 -2l2 3l2 2l0 -2l3 2l2 1l3 -1l0 -2l2 -1l2 5l3 -3l1 0l1 1l3 2l2 0l2 -3l0 1l3 3l2 -4l3 2l0 -2l2 -2l2 1l3 3l1 1l1 -7l3 5l2 0l2 -3l0 4l3 -2l2 5l3 -5l0 4l2 -5l2 1l3 5l1 -5l2 1l2 -3l3 4l1 3l1 -4l3 0l2 1l2 -2l0 -1l3 3l2 -1l0 -3l2 -5l1 6l0 -6l2 -12l0 -1l2 -19l0 -1l0 -4l3 22l1 5l1 6l0 5l2 1l1 6l2 2l0 -5l2 6l0 -5l2 -3l1 -3l2 -12l0 6l1 1l1 -5l1 0l0 6l2 -3l0 3l2 2l0 1l2 4l1 -4l1 4l1 3l0 -1l1 -1l1 8l1 -4l2 -3l2 4l0 -1l3 -1l1 1l1 -2l1 -1l2 5l0 -5l0 3l2 -11l1 1l1 0l0 2l1 0l2 4l1 0l0 -1l1 2l1 2l2 0l0 -6l2 5l1 3l1 -2l0 4l1 -5l2 2l2 -2l3 2l0 3l2 0l2 -1l3 0l1 -1l1 -4l3 5l2 -3l2 2l0 -1l3 3l2 -4l1 4l2 -2l0 3l0 -4l2 0l1 -4l1 7l1 -2l2 -5l1 6l1 -2l1 4l2 -4l2 1l1 -3l1 3l0 -3l1 2l0 2l1 -4l1 -4l0 4l0 -11l1 -1l0 -15l1 -31l0 -7l1 -35l0 -15l1 -30l0 -33l1 -6l0 -2l0 2l0 2l1 7l1 20l0 7l1 20l0 6l0 25l1 29l0 3l1 18l0 7l1 9l1 15l0 1l0 7l1 -3l0 3l0 6l1 3l0 -3l1 2l0 -5l0 4l0 -1l1 0l1 -6l0 2l1 -2l1 -8l0 -5l0 -5l1 -5l0 -14l1 -16l0 -3l1 -3l0 -4l1 -6l0 -5l0 4l1 -2l0 5l1 0l0 7l1 1l1 14l0 -1l0 8l1 8l1 4l0 1l1 8l1 4l0 4l1 4l0 1l1 2l1 -2l0 2l1 0l0 3l0 1l1 -4l1 2l0 -6l2 11l2 -4l3 1l1 -1l0 -1l1 -4l1 1l2 -4l0 -3l2 -15l1 -3l1 -2l0 -1l1 1l2 12l1 -4l1 9l1 7l2 3l0 6l0 -5l2 4l1 5l1 -7l1 7l2 -1l1 0l1 3l3 -4l2 3l2 -2l0 4l3 -5l2 3l3 -1l0 -1l2 5l2 -3l3 3l1 -7l1 3l3 0l2 4l2 -5l0 5l3 2l2 -2l3 0l0 -1l2 -1l2 2l3 0l1 3l1 -3l3 -2l2 4l2 -4l0 -3l3 4l2 -1l3 3l0 -1l2 -3l2 1l3 1l1 6l8 -8l6 1l2 5l3 -4l2 4l3 -3l0 -2l2 2l2 2l3 1l1 -4l1 -2l0 3l2 -3l1 -1l2 -12l0 -2l2 -15l0 1l0 5l3 6l0 5l2 2l0 4l2 8l1 -2l0 3l2 0l0 -3l0 7l2 0l0 -9l2 0l1 -3l1 -2l1 -2l1 2l1 1l1 -3l2 4l0 2l2 -2l0 4l2 0l1 5l2 1l0 -2l1 3l1 -4l1 -2l0 5l2 -3l2 1l3 -4l1 5l0 -2l1 0l1 -2l2 0l2 -1l1 2l1 -8l0 1l1 1l2 2l1 0l1 1l1 1l2 4l0 -2l0 -1l2 4l1 -1l1 -2l1 5l2 -5l1 0l1 3l3 -3l2 0l2 6l0 -5l3 -1l2 3l1 -1l2 -4l0 3l0 3l2 -3l1 3l1 -4l1 4l2 -2l1 -1l0 -2l1 6l1 -3l2 -1l0 2l2 -1l1 -1l1 1l0 -2l1 3l0 3l1 -11l1 -1l0 -4l0 -9l1 -11l0 -13l1 -51l0 -12l1 -54l0 -23l1 -50l0 -48l1 -8l0 -11l0 3l0 5l1 13l1 28l0 12l1 34l0 10l0 36l1 48l0 7l1 27l0 11l1 20l1 18l0 1l0 7l1 2l0 4l0 4l1 -1l0 1l1 1l0 3l0 -2l0 5l1 -2l1 -5l0 -2l1 -9l1 -7l0 -13l0 -7l1 -9l0 -12l1 -28l0 -10l1 -8l0 -11l1 2l0 -7l0 2l1 8l0 -5l1 5l0 6l1 9l0 5l1 5l0 12l0 5l1 18l1 3l0 7l0 2l1 6l1 10l0 2l0 5l1 0l0 2l1 5l0 -3l1 10l0 -8l1 7l0 -3l1 1l0 2l1 -1l2 -1l2 2l3 -2l1 -2l0 2l1 2l1 -2l2 -7l0 -9l2 -19l1 -11l1 -5l0 1l1 0l2 16l1 -2l1 19l1 4l2 12l0 -2l0 5l2 0l1 2l1 2l1 1l2 -1l1 5l1 -4l3 2l2 2l2 0l0 3l3 -4l2 5l3 1l0 -2l2 5l2 -8l3 3l1 -2l1 -4l3 2l2 7l2 -3l0 -3l3 6l2 -3l3 2l2 5l2 -9l3 6l1 8l1 -8l3 0l2 0l2 2l0 -1l3 0l2 -4l3 3l0 1l2 -1l2 1l3 1l1 1l8 -3l2 1l2 -2l3 0l1 3l1 -5l3 6l2 -6l2 3l0 -2l3 0l2 3l0 -5l2 5l1 -7l0 4l2 -12l0 -1l2 -8l0 2l0 -3l3 5l0 3l1 8l1 -1l0 4l2 6l1 -4l2 2l0 2l0 -3l2 1l0 -1l2 -1l1 -5l2 -6l0 6l1 -5l1 0l1 5l0 -3l2 3l0 -2l2 5l0 2l2 3l1 0l1 -5l1 2l0 3l1 -4l1 0l1 2l2 3l2 -5l0 4l3 0l1 -3l1 -1l1 2l2 -1l0 -1l0 1l2 4l1 -4l1 0l0 -3l1 3l2 -3l1 3l0 2l1 3l1 -3l2 0l0 -1l2 -1l1 3l1 3l0 -2l1 -2l2 0l2 -2l3 6l0 -4l2 3l2 -5l3 4l1 0l1 -2l3 -1l2 8l2 -2l0 -1l3 -5l2 5l3 -2l0 3l2 -5l2 0l3 -3l1 -1l1 -2l0 3l1 -1l1 -3l0 -16l1 -13l0 -33l1 -55l1 -84l0 -24l1 -69l0 -65l1 -15l0 1l0 -2l1 21l1 39l1 56l0 17l0 43l1 59l1 41l0 17l1 25l1 22l0 14l1 1l0 6l0 8l1 1l1 0l0 -1l0 -2l1 2l1 -3l0 -8l1 -1l1 -17l0 -20l1 -16l0 -11l1 -28l1 -33l0 -9l1 -4l0 -6l0 -1l1 2l1 10l0 10l1 10l1 18l0 3l0 14l1 18l1 14l0 7l1 5l1 11l0 13l1 -3l0 9l1 -3l1 9l0 -2l1 2l0 -1l0 2l1 5l1 -11l0 5l2 2l2 3l3 -6l1 3l0 2l0 -3l1 1l1 -1l1 -2l1 -7l0 -9l1 -15l1 -13l1 -5l1 -15l0 1l1 5l1 3l1 11l1 4l0 9l1 6l1 10l1 4l1 8l0 4l0 -3l1 12l1 -1l1 0l1 0l0 4l1 0l2 -2l1 2l1 1l3 -1l2 6l2 -6l0 5l3 -3l2 3l3 1l0 1l2 4l2 -5l3 4l1 -1l1 0l3 -3l2 4l2 -4l0 7l3 1l2 -3l3 1l0 -1l2 -4l2 3l3 4l1 -3l1 -1l3 -5l2 9l2 2l3 2l2 -11l3 5l0 1l2 -2l2 1l3 3l1 -4l8 3l2 -4l2 -4l3 6l1 1l1 0l3 1l2 -5l2 5l0 -10l3 8l2 -3l0 3l2 -4l1 3l2 -7l0 -6l2 -3l0 -2l0 2l3 3l0 -2l1 8l1 0l0 1l2 0l1 6l2 4l0 -6l0 2l2 -4l0 5l2 -1l1 -3l2 -2l0 -1l1 -2l1 2l1 -6l0 5l2 2l0 2l2 3l0 -3l2 0l1 1l1 1l1 -2l0 -1l1 4l1 -3l1 3l2 0l2 0l0 2l3 -1l1 -1l1 3l1 -4l2 -3l0 2l0 3l2 -6l1 0l1 2l0 5l1 -7l2 5l1 1l0 -4l1 0l1 1l2 0l0 2l2 -3l1 2l1 1l0 5l1 -8l2 3l2 -2l3 2l0 -1l2 -1l2 2l3 -1l1 2l1 2l1 -1l2 -1l1 1l1 -2l1 2l1 5l0 -6l2 4l1 -3l1 -3l1 2l1 -4l2 4l0 2l1 -2l1 0l1 -3l0 -1l1 -6l0 1l1 -2l0 -19l1 -10l0 -30l1 -47l0 -19l1 -95l0 -26l1 -76l0 -54l0 -14l1 -19l0 3l0 -1l1 22l1 35l0 9l1 57l0 21l0 48l1 49l0 14l1 51l0 13l1 29l0 5l0 14l1 2l0 25l1 -4l0 8l1 0l0 6l1 -2l0 2l0 -1l1 -2l1 -6l0 -2l1 -7l1 -15l0 -11l0 -14l1 -12l0 -15l1 -35l1 -34l0 -6l1 -6l0 -9l0 7l1 -2l1 11l0 8l1 17l1 19l0 7l0 11l1 21l1 17l0 4l1 8l1 7l0 9l1 9l0 1l1 0l1 5l0 -2l1 4l0 3l0 -5l1 4l1 1l1 0l1 0l2 -1l2 0l1 2l1 -4l0 4l1 -4l1 0l1 2l1 -11l0 -11l1 -10l1 -18l1 -13l1 -6l0 1l0 -3l1 5l1 2l1 9l1 12l0 8l1 11l1 9l1 1l1 11l0 4l1 2l1 4l1 -1l1 4l0 1l1 4l1 -8l1 3l2 4l3 3l2 -4l2 1l3 2l2 3l1 -2l2 5l2 2l2 -4l2 4l1 -6l2 2l3 4l2 1l2 -4l3 2l2 2l1 -1l2 -1l2 2l2 2l2 -3l1 -2l2 6l3 -4l2 -3l2 5l3 2l2 0l1 0l2 -2l2 1l2 0l2 3l1 -3l7 -5l8 6l2 -2l2 0l3 -1l1 3l1 -2l3 1l2 -1l2 2l0 -5l3 4l2 0l0 -1l2 2l1 0l0 -6l2 -4l0 -6l2 -1l0 -2l0 -4l3 9l1 3l1 1l0 3l2 6l1 0l2 -1l0 -3l2 1l0 1l2 -3l1 -2l2 -5l0 5l1 -3l1 1l1 -3l2 7l0 -1l2 3l0 -3l2 2l1 2l1 -1l1 4l1 -5l1 4l1 -3l2 3l2 -1l0 -2l3 1l1 4l1 -2l1 -1l2 -3l0 7l0 -3l2 -4l1 1l1 -2l0 1l1 1l2 -1l1 0l0 -1l1 0l1 2l2 2l0 -6l2 7l1 -4l1 5l1 1l2 -2l2 -3l1 6l2 -5l0 4l0 -5l2 1l1 -2l1 2l1 2l2 1l1 -6l0 2l1 -1l1 5l2 -2l0 2l2 -3l1 4l1 -4l0 1l1 -1l0 -2l1 -5l1 -7l0 -17l1 -12l0 -33l1 -79l0 -17l1 -81l0 -33l1 -78l0 -78l1 -11l0 -9l0 -1l0 1l1 28l1 44l0 16l1 50l0 21l0 59l1 68l0 18l1 35l0 14l1 34l1 25l0 7l0 16l1 -3l0 5l0 6l1 2l0 1l1 5l0 -2l0 2l0 -5l1 0l1 -2l0 -3l0 -10l1 -3l1 -14l0 -18l0 -14l1 -14l0 -17l1 -34l0 -18l1 -18l0 -14l1 -7l0 2l0 -1l1 2l0 -2l1 6l0 14l1 20l0 7l1 7l0 9l0 11l1 25l1 10l0 6l0 12l1 9l1 11l0 2l0 3l1 6l0 2l1 11l0 -3l1 6l0 -4l1 2l0 2l0 -1l1 1l1 0l0 1l1 3l1 1l2 -4l0 4l2 -3l1 0l1 1l0 -1l0 2l1 -4l1 -1l1 -3l1 -9l0 -12l1 -12l1 -15l1 -17l1 -10l0 2l1 3l1 7l1 14l1 2l0 11l1 11l1 7l1 13l1 1l0 4l0 2l1 7l1 1l1 1l1 2l0 3l1 1l2 4l1 -5l1 6l3 3l2 -3l2 -4l0 5l3 3l2 0l3 0l0 -3l2 5l2 0l3 0l1 -4l1 6l3 -1l2 2l2 -2l0 5l3 -1l2 -2l3 -3l0 1l2 -2l2 5l3 -2l1 1l1 -5l3 6l2 -3l2 -3l0 10l3 0l2 -4l3 -5l0 5l2 2l2 -4l3 4l1 0l8 -1l8 1l8 -5l2 2l2 -2l3 -1l1 6l1 -3l3 3l2 -3l2 -1l0 5l3 0l2 -4l0 2l2 -7l1 3l0 3l2 -11l0 -1l2 -5l0 -5l3 7l0 2l1 2l1 7l0 1l2 2l1 -4l2 4l0 1l2 -1l0 -1l2 3l1 -2l2 -8l0 -2l1 5l1 -4l1 -1l0 4l2 -2l0 1l2 4l0 1l2 0l1 4l1 -1l1 3l0 -3l1 0l1 1l1 -2l2 3l2 -4l3 -5l1 4l1 3l1 0l2 -1l0 5l2 -7l1 -1l1 -1l0 2l1 -4l2 5l1 3l0 -2l1 1l1 -4l2 -1l0 4l2 1l1 -2l1 0l0 -2l1 1l2 6l2 -3l3 2l0 -3l2 -1l2 1l3 2l1 -3l1 4l1 -1l2 -4l1 4l1 0l1 4l1 -8l0 2l2 0l1 0l1 4l1 -6l1 2l2 2l0 2l1 -3l1 1l1 -4l0 2l1 -5l0 -2l1 -9l0 -13l1 -12l0 -31l1 -48l0 -19l1 -95l0 -29l1 -73l0 -57l0 -14l1 -21l0 2l1 22l1 31l0 11l1 70l0 11l0 52l1 52l0 10l1 51l0 16l1 29l0 5l0 13l1 10l0 13l1 4l0 6l1 10l0 -8l1 7l0 -3l0 4l0 -9l1 4l1 -5l0 -8l1 -8l1 -5l0 -15l0 -15l1 -16l0 -13l1 -34l1 -34l0 -10l1 -4l0 -8l0 4l1 7l1 -2l0 8l1 25l1 13l0 13l0 8l1 21l1 19l0 8l1 5l1 7l0 9l1 11l0 -4l1 6l1 0l0 1l1 3l0 3l0 -1l1 0l1 -1l1 -2l1 6l2 -4l2 6l1 -1l1 -6l0 5l1 2l1 -8l1 0l1 -6l0 -11l1 -14l1 -11l1 -17l1 -10l0 -1l0 1l1 3l1 8l1 5l1 17l0 6l1 8l1 12l1 7l1 0l0 9l1 -1l1 3l1 5l1 -1l0 3l1 -2l1 4l1 0l2 -4l3 5l2 -4l2 4l3 5l2 2l1 -5l2 2l2 1l2 -1l2 7l1 -1l2 -1l3 -1l2 1l2 1l3 -1l2 -2l1 3l2 2l2 -1l2 4l2 -8l1 3l2 3l3 2l2 -4l2 1l3 0l2 1l1 -1l2 0l2 2l2 -2l2 0l1 -3l7 1l8 2l8 2l8 -3l8 5l8 -5l8 2l8 -2l8 4l8 -3l8 -3l8 2l8 -5l6 8l2 4l0 -7l3 3l2 0l3 -3l0 -1l2 5l2 -6l3 3l1 0l1 -5l0 -3l1 4l1 -9l0 -18l1 -12l0 -31l1 -67l1 -96l0 -26l1 -77l0 -73l1 -19l0 2l0 2l1 19l1 46l1 70l0 7l0 56l1 56l1 58l0 16l1 21l1 35l0 11l1 8l0 1l0 2l1 5l1 4l0 -2l0 3l0 -2l1 -4l1 0l0 -9l1 -5l1 -12l0 -24l1 -18l0 -15l1 -36l1 -35l0 -10l1 -6l0 -3l1 6l1 4l0 8l1 15l1 22l0 12l0 8l1 14l1 19l0 11l1 10l1 8l0 12l1 1l0 6l1 -1l1 3l0 3l1 2l0 1l0 5l1 -3l1 -4l0 5l2 -6l2 7l3 -2l1 -2l0 1l1 2l1 -4l1 0l1 -11l0 -5l1 -12l1 -20l1 -11l1 -11l0 1l1 -2l1 13l1 3l1 11l0 9l1 13l1 6l1 7l1 6l0 2l0 6l1 -2l1 5l1 1l1 2l1 0l2 5l1 0l1 -3l3 0l2 3l2 3l0 -3l3 1l2 -3l3 8l0 -2l2 4l2 0l3 0l1 1l1 1l3 -1l2 1l2 3l0 -5l3 -1l2 4l3 -1l0 5l2 -4l2 -2l3 2l1 0l1 4l3 -3l2 2l2 -2l0 -3l3 3l2 -2l3 7l0 -1l2 -5l2 -5l3 5l1 0l8 -1l8 3l8 0l8 1l8 -1l8 -2l8 0l8 3l8 -1l8 -6l8 6l8 2l8 -6l8 3l6 4l2 -5l0 4l3 -5l2 1l3 -1l0 1l2 1l2 -2l3 1l1 -2l1 3l0 -3l1 0l1 -12l0 -15l1 -4l0 -35l1 -58l1 -91l0 -22l1 -70l0 -69l1 -16l0 1l1 21l1 39l1 59l0 18l0 42l1 62l1 50l0 11l1 26l1 21l0 15l1 6l0 8l1 0l1 4l0 -1l0 -1l1 -4l1 -4l1 -6l1 -15l0 -20l1 -14l0 -21l1 -29l1 -28l0 -12l1 -5l0 -4l0 7l1 0l1 8l0 1l1 12l1 26l0 7l0 8l1 17l1 19l0 7l1 3l1 16l0 8l1 -1l0 -4l1 15l1 2l0 -3l1 -1l0 4l0 3l1 0l1 -3l0 -1l2 -2l2 2l3 1l1 0l0 5l0 -5l1 -4l1 6l1 -4l1 -8l0 -7l1 -14l1 -12l1 -17l1 -4l0 -3l0 2l1 5l1 5l1 7l1 10l0 11l1 0l1 11l1 10l1 3l0 5l0 4l1 1l1 2l1 0l1 -1l0 2l1 4l2 2l1 -1l1 -2l3 -2l2 5l2 -1l0 3l3 -3l2 0l3 7l0 -4l2 2l2 0l3 0l1 0l1 1l3 -1l2 4l2 -2l0 -2l3 2l2 3l3 -1l0 -1l2 -2l2 1l3 2l1 0l1 3l3 -1l2 -1l2 -4l0 7l3 -4l2 -5l3 9l0 -3l2 1l2 -2l3 1l1 -3l8 2l8 2l8 2l8 -7l8 5l8 0l8 -5l8 4l8 -1l8 -2l8 1l8 3l8 1l8 -4l2 2l3 2l2 -1l1 -5l2 6l2 2l2 -5l2 6l1 -10l2 0l0 2l1 3l1 -10l0 -14l1 -9l0 -24l1 -52l1 -69l0 -23l1 -59l0 -54l1 -11l0 -8l0 4l1 18l1 34l1 52l0 6l0 39l1 55l1 38l0 9l1 21l0 5l1 15l0 16l1 2l0 5l1 2l1 -4l0 6l0 -1l1 -4l1 -3l0 3l1 -7l1 -14l0 -12l0 -6l1 -7l0 -16l1 -20l1 -37l0 -5l1 -7l0 4l1 1l1 2l0 14l1 8l1 13l0 10l0 2l1 19l1 14l0 9l1 2l1 12l0 5l1 2l0 -6l1 13l1 2l0 -1l1 0l0 1l0 -2l1 1l1 -6l2 5l2 3l2 3l1 -5l1 6l1 -5l1 -1l2 -7l0 -5l2 -28l1 -5l1 -6l0 -3l1 6l2 8l1 8l1 10l1 11l2 8l2 12l1 -4l1 4l1 5l1 -4l1 -1l2 7l3 -3l2 2l2 3l3 -1l2 -2l1 0l2 1l2 5l2 -2l2 -3l1 0l2 3l3 1l2 -1l2 -2l3 7l2 -3l1 -2l2 2l2 -3l2 1l2 -1l1 2l2 -1l3 1l2 -5l2 6l3 0l2 2l1 -5l2 4l2 -3l2 5l2 -2l1 -2l7 -5l8 8l8 2l8 -4l8 -2l8 4l8 -2l8 -2l8 5l8 -2l8 2l8 -3l8 3l8 -4l8 -1l2 -1l3 3l2 -4l1 2l2 -2l2 4l2 4l2 -7l1 0l2 0l0 -1l1 1l1 -1l0 -18l1 -4l0 -27l1 -47l1 -63l0 -19l1 -54l0 -53l1 -13l0 2l0 7l1 11l1 27l1 47l0 12l0 35l1 39l1 42l0 11l1 16l0 5l1 15l0 13l1 0l0 5l1 5l1 0l0 -5l0 3l0 3l1 -1l1 -5l0 -2l1 -7l1 -7l0 -11l0 -5l1 -17l0 -9l1 -22l1 -24l0 -7l1 -7l0 -1l0 1l1 4l1 4l0 3l1 10l1 15l0 10l0 8l1 11l1 9l0 9l1 5l1 6l0 10l1 3l0 -2l1 4l1 4l0 -2l1 3l0 3l0 -2l1 1l1 -3l2 -2l2 6l2 5l1 -8l1 2l1 -2l1 -1l2 -4l0 -8l2 -25l1 -5l1 -8l0 3l1 9l2 0l1 11l1 7l1 11l2 12l0 -1l2 7l1 -4l1 2l1 5l1 -1l1 3l2 -2l3 -3l2 4l2 -3l3 5l2 -5l1 5l2 -5l2 6l2 0l2 2l1 4l2 0l3 -2l2 -2l2 -1l3 5l2 -6l1 3l2 2l2 -3l2 -2l2 -1l1 2l2 1l3 6l2 0l2 -5l3 -1l2 3l1 -4l2 3l2 -1l2 0l2 1l1 1l7 0l8 0l8 -5l8 3l8 -3l8 8l8 -10l8 6l8 -1l8 3l8 0l8 2l8 -9l8 2l8 -1l2 4l3 3l2 2l1 -4l2 -1l2 1l2 -2l2 8l1 -10l2 4l0 -2l1 -1l1 -13l0 -11l1 -1l0 -23l1 -39l1 -60l0 -18l1 -49l0 -45l1 -16l0 1l1 14l1 29l1 41l0 9l0 35l1 39l1 38l0 5l1 16l0 6l1 15l0 7l1 2l0 7l1 4l1 -1l0 -1l0 2l0 -3l1 3l1 -3l1 -10l1 -13l0 -9l0 2l1 -14l0 -8l1 -27l1 -16l0 -10l1 3l0 -10l0 5l1 -4l1 7l0 2l1 17l1 12l0 8l0 5l1 12l1 4l0 10l1 3l1 7l0 6l1 6l0 -2l1 2l1 7l0 -1l1 -3l0 1l0 5l1 -3l1 1l2 0l2 2l2 -2l1 1l1 1l1 -4l1 4l2 -6l0 -10l2 -19l1 -8l1 -8l0 8l1 -6l2 9l1 7l1 16l1 8l2 3l0 1l2 6l1 3l1 0l1 2l1 -2l1 -1l2 1l3 1l2 2l2 5l3 -1l2 -4l1 4l2 2l2 -2l2 3l2 -3l1 -1l2 4l3 5l2 -10l2 2l3 2l2 2l1 4l2 -3l2 -1l2 0l2 -2l1 0l2 4l3 -2l2 -1l2 0l3 0l2 2l1 -6l2 5l2 -3l2 1l2 2l1 0l7 4l8 -1l8 -5l8 2l8 1l8 -2l8 -3l8 5l8 -1l8 -1l8 1l8 5l8 -7l8 0l8 4l2 -4l3 3l2 -2l1 -1l2 0l2 5l2 -3l2 -3l1 2l2 -2l0 3l1 -8l1 -5l0 -8l1 -10l0 -14l1 -41l1 -57l0 -14l1 -47l0 -47l1 -9l0 -4l1 13l1 30l1 36l0 15l0 28l1 46l1 22l0 10l1 19l0 2l1 15l0 8l1 2l0 2l1 9l1 -1l0 -2l0 1l1 -1l1 -3l0 -4l1 -4l1 -5l0 -11l0 -5l1 -8l0 -16l1 -17l1 -21l0 -9l1 -3l0 -1l1 5l1 0l0 7l1 10l1 14l0 9l0 1l1 13l1 8l0 10l1 0l1 6l0 7l1 1l0 -1l1 7l1 -1l0 4l1 -1l0 3l0 -8l1 8l1 -1l2 -1l2 -2l2 4l1 0l1 6l1 -10l1 3l2 -7l0 -6l2 -21l1 -6l1 -3l0 -2l1 1l2 11l1 6l1 13l1 4l2 7l2 12l1 -5l1 5l1 -4l1 -2l1 4l2 0l3 1l2 -1l2 2l3 -1l2 4l1 -4l2 4l2 0l2 2l2 3l1 -4l2 0l3 6l2 -4l2 -2l3 2l2 2l1 0l2 -2l2 6l2 -9l2 -1l1 0l2 8l3 -2l2 1l2 -3l3 6l2 -4l1 -5l2 0l2 8l2 -2l2 -6l1 2l7 2l8 1l8 -2l8 -1l8 3l8 0l8 2l8 -1l8 -2l8 -1l8 3l8 2l8 -4l8 3l2 -1l2 2l3 -5l1 0l1 -1l3 5l2 -3l2 1l0 -2l3 1l2 0l0 -1l1 -3l1 3l0 -11l1 -6l0 -7l0 -10l1 -22l1 -41l0 -12l1 -34l0 -26l1 -9l0 4l0 -5l1 11l1 19l1 27l0 7l0 18l1 22l0 11l1 21l0 1l1 13l1 9l0 8l1 2l0 4l1 1l1 -1l0 1l0 2l0 -4l1 -2l1 0l1 3l1 -12l0 -11l1 -6l0 -9l1 -15l1 -8l0 -1l1 -7l0 -8l1 11l1 -4l0 7l1 6l1 6l0 3l0 8l1 6l1 10l0 5l1 6l1 0l0 1l1 5l0 -1l1 2l1 -2l0 1l1 3l0 3l0 -3l1 0l1 6l2 -7l2 0l0 3l3 -4l1 0l1 0l1 2l2 -6l0 2l0 -8l2 -8l1 -10l1 1l0 6l1 -6l2 2l1 8l0 5l1 10l1 -9l2 11l0 1l2 3l1 4l1 0l0 -1l1 -5l2 3l2 1l3 -3l0 7l2 3l2 -4l3 2l1 -2l1 -1l3 6l2 -3l2 3l0 -2l3 2l2 -1l3 1l0 -4l2 3l2 4l3 -2l1 -4l1 1l3 -1l2 3l2 -1l0 -4l3 1l2 4l3 0l0 -2l2 3l2 -4l3 5l1 -6l1 6l3 -6l2 -1l2 -1l0 2l3 1l5 4l8 -2l8 2l8 -5l8 7l8 -2l8 -4l8 1l8 3l8 -4l8 1l8 5l8 -4l8 -2l2 4l3 -8l2 7l1 1l2 2l2 -5l2 3l2 -1l1 -1l2 -2l0 2l1 -3l1 -3l0 -9l1 1l0 -19l1 -26l1 -38l0 -10l1 -31l0 -39l1 0l0 7l1 -4l1 20l1 34l0 -1l0 23l1 30l1 21l0 6l1 8l0 9l1 7l0 6l1 0l0 2l1 -1l1 1l0 3l0 -1l1 -2l1 3l0 -4l1 2l1 -8l0 -10l0 -2l1 -6l0 -11l1 -13l1 -12l0 -4l1 -5l0 2l0 4l1 2l1 -2l0 -4l1 13l1 11l0 1l0 2l1 7l1 8l0 3l1 4l1 6l0 6l1 -2l0 5l1 -2l1 3l0 7l1 -4l0 -5l0 7l1 -3l1 -2l2 2l2 1l2 1l1 -2l1 -3l1 0l1 3l2 -3l0 -9l2 -13l1 -4l1 -5l0 5l1 1l2 4l1 2l1 10l1 0l2 10l0 -2l2 1l1 8l1 -3l1 -1l1 4l1 -3l2 1l3 5l2 -1l2 -1l3 0l2 2l1 -3l2 0l2 0l2 3l2 -2l1 5l2 -1l3 1l2 0l2 0l3 -4l2 2l1 -1l2 5l2 -3l2 3l2 -1l1 -3l2 -2l3 5l2 -6l2 4l3 1l2 -2l1 -2l2 3l2 -3l2 4l2 0l1 1l7 -2l8 3l8 -4l8 3l8 1l8 -4l8 1l8 1l8 -3l8 0l8 1l8 1l8 -3l8 0l8 0l4 2l2 0l2 3l1 -2l2 4l3 -4l2 -3l2 1l3 1l2 1l0 -1l1 -3l0 1l1 1l0 -14l1 0l0 -9l1 -17l1 -25l0 -20l1 -18l0 -22l1 -8l0 -1l1 10l1 13l0 2l1 13l0 11l0 17l1 20l1 11l0 5l1 9l1 11l0 7l1 -3l0 3l1 2l1 -1l2 -3l0 -4l2 -7l1 -9l2 -23l0 -5l1 -4l1 5l1 -1l2 15l2 20l2 4l0 7l1 -3l2 4l0 -4l1 3l1 6l1 -5l2 2l2 -2l3 -1l1 7l1 -3l1 -1l2 -4l0 -1l2 -12l1 -1l1 -6l0 -2l1 5l1 1l1 4l1 1l1 5l1 6l2 3l0 4l2 -4l1 5l1 1l1 -3l2 1l2 4l1 -9l2 4l2 -1l2 3l2 2l1 -3l2 -2l3 5l2 -1l2 7l3 -5l2 -1l1 -1l2 3l2 0l2 0l2 -4l1 5l2 -2l3 -1l2 3l2 1l3 -6l2 3l1 -2l2 3l2 2l2 1l2 -1l1 -4l2 0l3 3l2 -2l2 0l3 0l3 1l8 3l8 -8l8 5l8 0l8 2l8 -3l8 2l8 -2l8 -1l8 -1l8 5l8 1l8 -1l8 -4l2 2l3 -1l2 1l1 3l2 0l2 -4l2 2l2 0l1 2l2 -5l0 -2l1 5l1 -4l0 -6l1 0l0 -9l1 -20l1 -19l0 -10l1 -17l0 -14l1 -7l0 -1l0 -1l1 6l1 10l1 15l0 11l0 6l1 19l1 12l0 1l1 5l0 6l1 7l0 7l1 -5l0 -1l1 7l1 1l0 -4l0 -4l2 5l0 -6l2 -7l0 -1l1 -5l2 -19l0 -3l1 -4l1 9l1 -6l2 9l0 3l2 12l0 1l2 9l1 5l2 -3l0 5l1 -2l1 2l1 -3l2 1l2 0l2 -2l1 1l1 -3l1 3l1 -3l2 2l0 -6l2 -7l1 -3l1 -1l1 5l2 1l1 1l1 8l1 0l2 7l0 -5l2 4l1 3l1 1l1 -2l1 4l1 -3l2 -3l3 3l2 -2l2 2l3 -2l2 2l1 2l2 -2l2 2l2 -6l2 3l1 1l2 -2l3 3l2 -5l2 6l3 0l2 1l1 -5l2 3l2 5l2 -3l2 -1l1 -2l2 3l3 -4l2 3l2 -3l3 9l2 -5l1 -2l2 1l2 -1l2 2l2 1l1 -8l7 5l8 1l8 4l8 0l8 -6l8 1l8 -1l8 4l8 -5l8 0l8 2l8 -3l8 5l8 -5l8 2l2 0l3 0l2 3l1 1l2 -7l2 3l2 -3l2 4l1 0l2 1l0 -1l1 -4l1 7l0 -11l1 -3l0 -12l1 -20l1 -30l0 -13l1 -23l0 -20l1 -4l0 -1l1 1l1 21l1 14l0 11l0 20l1 16l1 16l0 -1l1 12l0 1l1 6l0 7l1 -1l0 7l1 0l1 -4l0 2l0 -1l2 2l0 -1l2 -15l0 -4l1 -2l2 -24l0 -4l1 -2l1 -1l1 -1l2 17l0 3l2 17l2 11l1 -6l2 7l0 1l1 -2l1 6l1 -3l2 -1l2 2l2 1l1 -1l1 -2l1 0l1 2l2 -3l0 -4l2 -9l1 -9l1 1l0 -2l1 6l2 1l1 5l1 6l1 -2l2 5l0 1l2 4l1 1l1 3l1 1l1 -3l1 0l2 0l3 -4l2 2l2 1l3 -1l2 5l1 3l2 -3l2 0l2 -4l2 7l1 -3l2 5l3 -3l2 5l2 -6l3 1l2 -1l1 -2l2 -2l2 4l2 4l2 -5l1 0l2 3l3 -2l2 3l2 1l3 -3l2 -3l1 4l2 -2l2 1l2 1l2 0l1 -3l7 0l8 0l8 0l8 1l8 4l8 0l8 -5l8 3l8 -2l8 1l8 0l8 -2l8 1l8 3l2 2l2 -3l3 -3l1 -2l1 -1l3 6l2 -4l2 4l3 -3l2 -1l0 3l1 4l1 -5l0 -5l1 -8l0 3l0 -8l1 -15l1 -24l0 -11l1 -19l0 -20l1 -6l0 2l0 -1l1 6l1 11l1 20l0 5l0 7l1 14l0 8l1 14l0 4l1 1l1 13l0 -1l1 5l0 -2l1 1l1 4l0 -2l2 -1l0 4l2 -17l1 -2l2 -21l0 -12l1 5l1 1l1 -2l0 5l2 7l0 2l2 14l0 3l2 6l1 5l1 2l1 -2l0 -2l1 0l1 0l1 1l2 4l2 0l0 -1l3 2l1 -4l1 6l1 -4l2 -3l0 -2l0 -2l2 -5l1 -5l1 -5l0 4l1 -4l2 5l1 6l0 -1l1 2l1 5l2 4l0 3l2 0l1 -2l1 2l0 1l1 -9l2 14l2 -6l3 0l0 3l2 -2l2 -3l3 5l1 4l1 -6l3 -2l2 9l2 -9l0 1l3 2l2 4l3 -4l0 -6l2 9l2 -4l3 6l1 -2l1 3l3 0l2 0l2 -6l0 4l3 0l2 -5l3 0l0 4l2 -2l2 1l3 0l1 3l1 -3l3 -4l2 1l2 4l0 1l3 -3l5 -1l8 2l8 -2l8 -1l8 1l8 -3l8 9l8 -3l8 -3l8 -1l8 2l8 1l8 1l8 -4l8 5l2 0l2 -5l3 0l1 3l1 2l3 -2l2 0l2 -4l0 8l3 -2l2 1l0 -7l1 3l1 -4l0 -2l1 0l0 -7l0 -2l1 -14l1 -19l0 -8l1 -18l0 -15l1 -3l0 -1l0 -3l1 6l1 14l1 11l0 1l0 11l1 11l0 3l1 14l0 -1l1 13l1 7l0 -1l1 -2l0 2l1 6l1 0l0 -3l0 5l2 -4l0 -5l2 -11l1 -1l2 -18l0 2l1 -5l1 -1l1 4l0 1l2 5l0 3l2 12l0 1l2 4l1 4l1 0l1 -3l0 7l1 0l1 -1l1 0l2 0l2 1l0 -3l3 0l1 4l1 -1l1 -2l2 1l0 -6l0 2l2 -7l1 -2l1 2l0 -3l1 1l2 7l1 -5l0 3l1 2l1 2l2 3l0 5l2 -3l1 2l1 -2l1 3l2 -1l2 1l3 1l2 -6l2 6l3 -2l1 -1l1 4l3 -7l2 5l2 1l0 -3l3 8l2 2l3 -2l0 -5l2 0l2 -3l3 7l1 -5l1 -1l3 1l2 1l2 0l3 0l2 2l3 -2l2 5l2 -3l3 0l1 -7l1 6l3 1l2 -1l2 1l0 -1l3 1l5 -4l8 4l8 -3l8 -2l8 6l8 -5l8 6l8 -4l8 0l8 4l8 -3l8 -3l8 9l8 -3l8 -2l2 -1l2 -2l3 1l1 -1l1 2l3 1l2 -4l2 1l3 1l2 2l0 -1l1 1l1 -5l0 -3l1 -1l0 -3l0 -2l1 -12l1 -19l0 -6l1 -13l0 -20l1 5l0 -3l0 1l1 1l1 13l1 10l0 4l0 8l1 8l0 10l1 1l0 3l1 6l1 7l0 2l1 -1l0 2l1 4l1 -4l0 3l0 -4l2 4l0 -3l2 -2l1 -9l2 -13l0 -3l1 0l1 0l1 1l0 2l2 3l0 6l2 6l0 3l2 9l1 -5l1 -1l1 6l0 -2l1 0l1 -3l1 2l2 3l2 -3l0 6l3 -9l1 2l1 4l1 1l2 -3l0 -2l0 -6l2 -3l1 -2l1 1l0 1l1 -2l2 2l1 1l0 7l1 -6l1 3l2 7l0 1l2 -1l1 4l1 0l0 -4l1 5l2 -5l2 3l3 3l0 -6l2 -1l2 4l3 -1l1 1l1 -5l3 8l2 -3l2 -3l0 3l3 0l2 1l3 -5l0 4l2 1l2 -1l3 -1l1 1l1 4l3 -6l2 1l2 3l0 1l3 -2l2 2l3 2l0 -7l2 3l2 1l3 0l1 -1l1 1l3 1l2 -1l2 -4l0 2l3 -1l5 3l8 1l8 -1l8 -1l8 0l8 -3l8 -2l8 11l8 -7l8 0l8 3l8 -1l8 -1l8 -1l8 -1l2 6l2 -3l3 1l1 -5l1 1l3 3l2 1l2 -2l0 4l3 -5l2 3l0 2l1 -4l1 -2l0 -5l1 0l0 -3l0 -8l1 -8l1 -22l0 -5l1 -15l0 -8l1 -8l0 4l1 1l1 12l1 11l0 2l0 8l1 13l0 -1l1 10l0 -1l1 12l1 6l0 6l1 -8l0 3l1 7l1 -6l0 4l0 -3l2 1l0 1l2 -14l1 0l2 -18l0 -5l1 5l1 0l1 1l0 3l2 4l0 3l2 9l0 2l2 2l1 2l1 2l1 0l1 -1l1 3l1 -3l2 4l2 -2l0 3l3 2l1 -6l1 -2l1 -2l2 5l0 1l0 -7l2 -1l1 -10l1 6l0 1l1 -1l2 4l1 -2l0 4l1 0l1 3l2 -4l0 5l2 1l1 3l1 0l0 -3l1 3l2 0l2 -2l3 -4l0 5l2 -2l2 2l3 -2l1 7l1 -4l3 7l2 2l2 -9l0 -1l3 6l2 -7l3 1l0 4l2 2l2 1l3 -5l1 -3l1 5l3 3l2 0l2 -6l0 1l3 1l2 -1l3 0l0 -1l2 3l2 3l3 -6l1 4l1 0l3 -3l2 0l2 0l0 1l3 0l5 -3l8 8l8 -8l8 3l8 1l8 -3l8 -1l8 3l8 -2l8 -2l8 6l8 -4l8 1l8 4l8 -1l2 -4l2 7l3 -4l1 -3l1 2l3 0l2 -4l2 3l0 3l3 -1l2 -3l0 3l1 -4l1 0l0 -2l1 -2l0 -2l0 -4l1 -10l1 -12l0 3l1 -19l0 -3l1 -6l0 -4l0 3l1 4l1 9l1 4l0 6l0 7l1 4l0 3l1 8l0 1l1 6l1 1l0 5l1 -1l0 3l1 -4l1 4l0 -3l0 -1l2 0l0 2l2 -11l1 2l2 -16l0 8l1 -5l1 -5l1 6l0 1l2 0l0 2l2 6l0 6l2 3l1 0l1 7l1 -6l0 -2l1 6l1 -2l1 3l2 -5l2 0l0 2l3 -1l1 2l1 1l1 -3l2 -2l0 -1l0 -1l2 -6l1 1l1 -1l0 -2l1 3l2 0l1 5l0 -2l1 4l1 2l2 3l0 -4l2 2l1 1l1 -2l0 -2l1 5l2 1l2 0l3 -5l0 7l2 -4l2 2l3 1l1 -4l1 -7l3 9l2 1l2 1l0 -5l3 5l2 0l3 1l0 -3l2 0l2 0l3 3l1 -2l1 -2l3 1l2 3l2 -3l0 -2l3 -1l2 5l3 -4l0 5l2 -5l2 1l3 4l1 -5l1 2l3 0l2 -1l2 4l0 -6l3 6l5 2l8 -3l8 1l8 -2l8 -1l8 3l8 -2l8 2l8 -4l8 -3l8 4l8 -2l8 8l8 -5l2 -3l3 -1l2 5l1 1l2 -1l2 -3l2 5l2 0l1 -5l2 4l0 2l2 -3l1 -5l2 -17l0 3l2 -16l0 -3l3 9l0 3l2 18l0 -4l1 4l1 4l1 2l2 5l0 -7l0 3l2 -1l0 -5l2 0l0 -6l1 1l2 -5l0 3l1 -1l1 2l1 -3l2 5l0 1l2 2l0 -1l2 8l1 -3l2 2l0 3l1 -8l1 2l1 5l2 -6l2 0l2 2l1 0l1 0l1 0l1 1l2 -2l0 1l2 -1l1 -3l1 -3l0 1l1 2l2 -1l1 0l1 3l1 2l2 0l0 2l2 1l1 0l1 0l1 -4l1 5l1 -4l2 -1l3 3l2 0l2 -1l3 1l2 4l1 -5l2 -1l2 -2l2 6l2 -1l1 1l2 -4l3 -1l2 1l2 8l3 -6l2 3l1 -4l2 -1l2 4l2 -1l2 2l1 -1l2 3l3 -3l2 -3l2 0l3 2l2 1l1 1l2 -3l2 0l2 4l2 -8l1 4l7 -1l8 2l8 4l8 -2l8 -1l8 -4l8 4l8 4l8 -9l8 4l8 3l8 -2l8 0l8 -5l4 5l2 -3l2 2l1 5l2 0l3 -8l2 -2l2 4l3 6l2 -5l1 1l1 -7l1 4l2 -20l0 -1l2 -16l0 -4l0 -1l2 13l1 0l2 19l0 3l2 9l1 -1l2 -1l0 1l0 -4l2 2l0 2l2 -7l1 -3l2 0l0 -6l1 -2l1 1l1 2l2 2l0 -1l2 7l0 1l2 1l0 2l1 -1l2 2l0 5l1 -2l1 -6l1 0l2 3l2 0l3 2l1 -1l1 2l1 -2l2 1l0 -2l2 -5l1 -3l1 -5l0 8l1 -7l1 8l1 -1l1 -1l1 5l1 -1l2 4l0 4l2 -7l1 4l1 -4l1 -2l2 -1l2 4l1 1l2 -2l2 2l2 0l2 2l1 -2l2 5l3 -6l2 2l2 2l3 -1l2 -4l1 5l2 -3l2 3l2 0l2 -5l1 4l2 -1l3 2l2 -4l2 3l3 3l2 -10l1 5l2 2l2 0l2 0l2 1l1 -1l2 0l3 2l2 0l2 -6l3 6l3 -5l8 9l8 -7l8 1l8 2l8 5l8 -8l8 0l8 2l8 -1l8 -1l8 3l8 -2l8 1l8 -4l2 -2l3 6l2 -1l1 4l2 -4l2 4l2 -7l2 0l1 4l2 -4l2 -3l1 6l2 -18l0 2l2 -13l0 2l0 -5l3 13l0 3l2 8l1 5l1 3l1 -2l2 1l0 3l0 -7l2 5l0 -2l2 -1l0 -2l1 -1l2 -8l0 -5l1 5l1 1l1 -2l2 5l0 -1l2 5l0 1l2 3l1 -1l2 3l0 -2l1 -1l1 -3l1 6l2 0l2 -7l2 5l1 1l1 1l1 -3l1 2l2 3l0 -7l2 3l1 -4l1 -2l0 2l1 0l2 -1l1 4l1 -1l1 1l2 0l0 4l2 -2l1 2l1 -6l1 4l1 -4l1 7l2 1l3 -2l2 -1l2 3l3 -5l2 1l1 7l2 -7l2 0l2 -1l2 1l1 2l2 -2l3 -1l2 2l2 -1l3 0l2 3l1 2l2 -6l2 1l2 2l2 -1l1 -2l2 1l3 2l2 -2l2 5l3 -8l2 7l1 -3l2 -3l2 4l2 0l2 -1l1 2l7 -4l8 -1l8 6l8 -3l8 1l8 0l8 -1l8 1l8 -1l8 -1l8 -1l8 3l8 -2l8 2l4 0l2 -2l2 1l1 -2l2 3l3 -3l2 -1l2 4l3 -3l2 5l0 -9l1 7l1 -4l1 0l2 -12l0 2l2 -14l0 2l0 2l2 5l1 1l0 5l2 9l0 -2l2 3l1 0l2 -4l0 6l0 -2l2 2l0 -2l2 -1l1 0l2 -5l0 -4l1 2l1 -1l1 4l2 -3l0 4l2 1l0 3l2 1l1 2l2 -6l0 -2l1 5l1 4l1 0l2 -4l2 1l3 4l1 -8l1 5l1 -3l2 4l0 1l2 -7l1 -2l1 0l0 3l1 1l1 -2l1 5l1 -4l1 3l1 -5l2 7l0 -4l2 1l1 3l1 -2l1 -3l2 2l2 -2l1 2l2 0l2 4l2 3l2 -7l1 2l2 -2l3 7l2 -6l2 2l3 -1l2 -1l1 6l2 -8l2 3l2 0l2 1l1 -4l2 0l3 1l2 -2l2 6l3 -2l2 5l1 -6l2 -2l2 2l2 2l2 -2l1 5l2 -4l3 -2l2 0l2 -2l3 0l3 1l8 4l8 -4l8 7l8 -6l8 3l8 0l8 5l8 -2l8 -5l8 0l8 2l8 0l8 -1l8 -2l2 0l2 3l3 -2l1 6l1 -8l3 4l2 -4l2 3l0 3l3 -2l2 -3l0 4l2 -8l1 4l0 -2l2 -8l0 -1l2 -7l0 1l3 7l0 -1l1 7l1 -1l0 3l2 5l1 4l2 -3l0 3l0 -8l2 4l0 -2l2 -3l1 2l2 -7l0 2l1 -1l1 0l1 -3l0 6l2 -5l0 6l2 -2l0 2l2 -2l1 8l1 -8l1 11l0 -5l1 1l1 -2l1 -3l2 -1l2 4l0 -1l3 2l1 -3l1 1l1 -1l2 2l0 -3l0 4l2 -2l1 -3l1 1l0 5l1 -6l2 -1l1 -1l0 2l1 1l1 0l2 3l0 4l2 -3l1 -4l1 2l0 -3l1 6l2 -1l2 -4l3 4l0 -5l2 7l2 -7l3 3l1 2l1 0l3 -3l2 4l2 -1l3 0l2 2l3 -3l0 3l2 -3l2 -2l3 3l1 0l1 3l3 -5l2 4l2 1l3 1l2 -4l3 0l0 1l2 -6l2 5l3 -1l1 1l1 -3l3 6l2 -2l2 -1l0 -1l3 1l5 -4l8 6l8 -4l8 0l8 -1l8 5l8 -4l8 0l8 5l8 -4l8 0l8 3l8 -6l8 7l4 -4l2 1l2 4l1 -6l2 4l3 -5l2 4l2 -2l3 1l2 -1l0 3l1 -3l1 1l1 0l2 -13l0 -2l2 -8l0 5l2 4l1 1l0 3l2 0l0 3l2 7l1 -4l2 6l0 -1l0 -3l2 -3l0 6l2 -4l1 -4l2 -1l0 5l1 -7l1 2l1 -2l2 4l0 -2l2 6l0 2l2 -4l0 1l1 3l2 1l0 -4l1 -2l1 4l1 0l2 1l2 1l3 -4l1 3l1 0l1 3l2 -6l0 -1l2 -2l1 3l1 -4l0 5l1 -2l1 1l1 0l1 0l1 2l1 -4l2 2l0 1l2 -2l1 2l1 1l1 1l2 1l2 0l1 -2l2 -3l2 5l2 1l2 0l1 -1l2 1l3 -3l2 -2l2 2l3 1l2 2l1 -4l2 2l2 -3l2 4l2 -3l1 5l2 -1l3 -4l2 3l2 -7l3 8l2 -5l1 5l2 -3l2 2l2 0l2 1l1 -2l2 0l3 1l2 -1l2 1l3 -4l3 2l8 2l8 -6l8 3l8 3l8 -3l8 4l8 -7l8 8l8 -5l8 1l8 3l8 -4l8 0l8 2l2 -2l2 4l3 1l1 -6l1 4l3 -1l2 -1l2 3l0 -2l3 5l2 -4l0 -2l2 1l1 0l0 -2l2 -6l0 3l2 -9l0 -5l0 5l3 7l0 -7l1 7l1 0l0 2l2 4l1 -4l2 10l0 -4l2 -1l0 3l2 -10l1 8l2 -10l0 4l1 -1l1 2l1 -1l0 2l2 -3l0 1l2 6l0 -1l2 -3l1 1l1 3l1 -1l1 -2l1 4l1 -6l2 6l2 -2l0 -1l3 0l1 2l1 -4l1 3l2 -1l0 -3l0 6l2 -4l1 -4l1 1l0 3l1 -3l2 3l1 -2l0 1l1 1l1 -1l2 5l0 -3l2 -2l1 2l1 1l0 1l1 0l2 -1l2 2l3 -1l0 -2l2 0l2 1l3 -2l1 4l1 -3l3 0l2 1l2 1l0 -3l3 2l2 0l3 -1l2 1l2 0l3 -2l1 5l1 -4l3 1l2 4l2 -4l0 1l3 -5l2 6l3 3l0 -3l2 -5l2 1l3 3l1 1l1 -3l3 5l2 -5l2 0l0 2l3 -2l5 -3l8 3l8 1l8 -3l8 4l8 1l8 -4l8 -1l8 1l8 2l8 -3l8 4l8 -1l8 -1l8 5l2 -8l3 0l2 6l1 -3l2 3l2 -5l2 5l2 -6l1 -1l2 4l0 2l2 -3l1 4l2 -12l2 -6l0 -2l0 5l3 -4l0 11l2 5l0 -2l1 -3l1 5l1 -2l2 2l0 2l2 -4l0 4l2 1l0 -1l1 -5l2 -3l1 1l1 -2l1 -1l2 2l0 3l2 4l0 1l2 -1l1 -1l2 -4l0 1l1 6l1 -2l1 -2l2 -3l2 4l2 -3l1 6l1 -4l1 1l1 4l2 -3l2 -2l1 -1l1 -4l1 3l2 2l1 -2l1 -1l1 0l2 2l0 5l2 -2l1 1l1 -2l1 2l1 -2l1 1l2 1l3 -6l2 5l2 0l3 -5l2 1l1 0l2 5l2 -3l2 2l2 0l1 -1l2 2l3 -3l2 1l2 0l3 0l2 1l1 2l2 -1l2 -4l2 6l2 -5l1 5l2 -4l3 1l2 2l2 2l3 -5l2 -3l1 3" stroke="rgb(226,32,44)" stroke-width="15" fill="none" stroke-linejoin="round"/>
<line x1="109.6" y1="392.6" x2="674.8" y2="392.6" stroke="rgb(226,32,44)" stroke-width="0.72"/>
<path transform="scale(.05)" d="M2192 7853l6 9l2 -6l3 -5l2 -8l3 -12l0 -6l2 -15l2 -5l0 -1l3 7l1 3l1 7l3 1l2 5l2 7l0 -2l3 -2l2 17l3 -3l0 3l2 0l2 15l3 -6l1 -3l1 -6l3 9l2 -7l2 8l4 -11l2 5l2 0l0 -9l3 -7l1 -2l1 4l3 0l0 6l2 12l2 -11l3 4l1 6l1 -4l7 -3l8 11l8 -2l8 1l8 0l8 -1l8 -7l8 -6l8 12l8 -7l8 5l8 1l8 -7l8 4l8 9l8 -4l8 -10l8 6l8 1l8 2l8 1l8 -4l8 0l8 4l8 -9l8 10l8 -3l8 -4l8 0l8 3l8 -7l8 -3l8 11l8 5l8 -7l8 1l8 -1l8 -4l8 6l8 2l8 -4l8 4l8 -8l8 5l8 -4l8 1l8 3l8 0l8 3l8 -1l8 -8l8 11l8 -12l8 6l8 1l8 -1l8 2l8 -2l8 -4l8 7l8 -3l8 -4l8 4l8 0l8 1l8 -3l8 3l8 -2l8 8l8 -8l8 6l8 -5l8 5l8 5l8 -12l8 3l8 -5l8 1l8 1l8 2l8 4l2 0l3 -6l2 3l1 -7l2 8l2 -3l2 -4l2 2l1 5l2 -2l3 2l2 -4l2 2l3 -1l2 -5l1 5l2 0l2 -2l2 6l2 5l1 -2l2 -6l1 -5l2 3l0 -2l2 -3l0 2l2 -20l1 -8l1 8l1 -5l0 6l2 -2l1 16l0 -14l2 13l0 4l2 -8l0 8l2 -1l1 14l1 -4l1 -7l0 -3l2 0l3 8l2 -4l2 5l3 -4l2 -5l1 14l2 -5l2 -5l2 1l2 7l1 -2l2 -9l3 11l2 -8l2 5l3 -8l2 2l1 6l2 -8l2 5l2 1l2 -4l1 8l2 -3l3 -4l2 5l2 1l3 -1l2 -5l1 3l2 -2l2 -6l2 3l2 10l1 -12l2 5l3 4l2 -10l2 -10l3 -26l1 1l1 -6l1 10l2 3l2 18l2 0l2 4l0 9l1 -1l0 -15l1 19l1 -10l1 7l1 -1l1 -5l0 -2l2 -9l0 10l1 2l1 -16l1 8l1 -8l1 -2l1 -13l1 -5l0 -1l1 1l0 -13l1 -4l1 -7l0 5l0 -11l1 -9l0 -22l0 -9l1 -38l0 -18l0 -25l1 -44l1 -45l0 -3l0 -4l0 7l1 3l0 15l0 8l1 26l0 5l1 29l0 8l0 7l1 38l0 7l1 14l0 7l0 7l1 7l0 1l1 6l0 11l1 -4l0 -4l0 -2l2 9l0 13l1 -6l1 7l2 0l1 7l2 4l0 7l1 -5l0 1l2 5l0 8l1 -3l1 12l0 -11l2 5l0 -5l1 9l1 6l0 3l1 -6l1 4l1 10l0 -7l2 4l1 3l0 -5l2 10l0 -6l1 5l1 -3l0 2l2 4l1 -3l0 -8l1 6l1 0l1 1l0 1l1 -7l1 14l1 -11l1 9l0 -7l2 0l0 1l1 -1l1 4l0 3l1 2l2 0l3 -13l2 7l2 -1l3 -2l2 1l1 -1l2 -5l2 1l2 7l2 -5l0 6l1 -8l1 2l1 -1l1 3l0 -6l1 4l0 -2l1 -6l0 1l2 1l0 -2l1 -10l0 4l1 -9l0 -4l1 4l1 -17l1 -10l0 -7l1 4l1 -23l0 -3l1 -9l0 -6l0 2l2 -26l0 -2l0 -2l1 -15l0 -7l0 -8l0 -9l1 -14l0 -16l0 -37l0 -2l0 -37l1 -106l0 -62l1 -72l0 -8l0 -3l0 -4l0 -5l0 4l1 13l0 27l0 22l0 28l0 11l1 27l0 21l0 8l0 3l1 -2l0 13l0 -14l0 -11l1 -6l0 2l0 10l0 -6l1 1l0 15l0 -13l1 16l0 11l0 -4l0 17l1 5l0 -9l0 26l1 6l0 8l0 21l1 13l1 21l0 6l0 4l0 5l1 16l0 3l0 3l1 15l0 7l0 7l0 -4l1 6l1 14l0 -1l0 4l1 2l0 11l1 4l0 9l1 -7l0 6l1 10l0 6l0 -6l1 9l1 6l0 -6l1 19l0 -8l1 8l0 7l0 -1l2 17l0 -1l0 4l1 -7l0 9l1 2l0 -3l0 17l1 -14l1 8l0 1l1 4l0 4l0 1l1 -5l1 7l1 1l0 -2l0 5l1 -11l1 0l0 -2l1 -5l0 3l1 -1l0 -3l0 -3l1 -3l1 1l0 -3l0 -13l1 -12l0 3l0 -5l0 -8l0 -12l1 -66l0 -13l0 -11l1 -49l0 -14l1 -19l0 -17l0 6l0 4l1 3l0 8l0 5l0 7l1 5l0 26l0 6l0 19l1 15l0 10l1 35l0 8l0 3l0 4l1 14l0 23l0 -4l1 8l0 8l0 3l1 0l0 -5l0 15l1 -7l0 -2l0 6l1 -7l1 5l0 5l1 4l0 -2l0 1l1 7l0 -3l2 10l0 1l1 2l1 12l1 2l1 -7l0 7l2 10l1 -4l0 -5l1 10l1 4l1 1l0 5l1 5l1 1l0 -8l2 8l0 7l1 -3l1 -1l1 4l1 12l0 -14l0 4l1 1l1 -1l0 3l1 -1l0 -2l1 4l2 0l1 3l0 1l1 -1l1 -8l1 4l0 -2l1 -5l1 4l1 -5l0 -1l1 -1l0 -7l1 0l1 -5l0 -2l1 2l0 -1l1 -4l0 -8l1 2l0 -4l0 -21l1 -29l0 -12l1 -41l0 -15l1 -17l0 -8l0 3l1 0l0 22l1 0l0 18l0 7l1 20l0 1l1 27l0 -3l1 17l0 13l0 -1l1 8l0 1l1 12l1 -14l0 3l1 12l1 -8l1 8l1 9l2 -11l1 10l1 6l1 5l1 -5l0 6l2 -1l1 5l1 0l1 6l1 3l2 3l0 -4l1 0l1 6l1 4l1 0l2 -5l1 5l1 1l1 -3l1 13l2 -9l1 0l1 1l1 -3l1 3l2 -1l1 2l1 -11l1 13l1 -1l2 -2l1 -5l2 6l3 4l2 0l2 0l3 -2l2 7l1 1l2 -11l2 12l2 -4l2 -7l1 4l2 3l3 7l2 -9l2 5l3 -6l2 2l1 6l2 -7l2 4l2 2l2 -1l1 0l2 0l3 7l2 -10l2 5l3 -6l2 3l1 -2l2 -6l2 1l2 11l2 -15l1 9l2 1l3 5l2 -2l2 2l3 -7l2 0l1 0l2 4l2 3l2 2l2 -7l1 10l2 -5l3 -2l2 -6l2 9l3 1l2 -4l1 -4l2 0l2 14l2 -11l2 11l1 -5l2 0l3 3l2 -6l2 1l3 -9l2 5l1 0l2 6l2 -6l2 11l2 -9l1 5l2 -3l3 2l2 -3l2 7l3 -5l2 -4l1 -7l2 16l2 -6l2 -1l2 -3l1 9l2 -9l3 9l2 0l2 0l3 -3l1 -5l1 12l1 -9l2 -2l0 -12l2 -14l1 -9l1 0l0 -2l1 -5l1 3l1 7l1 2l1 17l1 7l2 5l0 -3l2 14l1 -11l1 5l1 -5l2 -4l2 12l1 -9l2 2l2 -2l2 2l2 3l1 0l2 4l3 -5l2 6l2 -2l3 -4l2 0l1 4l2 -3l2 2l2 -6l2 0l1 9l2 -6l3 6l2 2l2 -5l3 -3l2 8l1 -3l2 -6l2 7l2 -11l2 4l1 6l2 0l3 4l2 -5l2 6l3 -4l2 -7l1 1l2 2l2 9l2 -4l2 -1l1 0l2 -8l3 7l2 -2l2 -2l3 8l2 0l1 1l2 -3l2 -8l2 8l2 -8l1 6l2 1l3 1l2 -3l2 3l3 -4l2 -2l1 -1l2 1l2 -1l2 6l2 -5l1 1l2 5l3 -1l2 -1l8 -2l8 -4l8 1l8 4l8 3l8 -11l8 7l8 0l8 -7l8 11l8 -6l8 0l8 9l8 -2l8 0l8 -2l8 -5l8 1l8 -6l8 10l8 -1l8 -2l8 3l8 -2l8 8l8 -6l8 0l8 -1l8 1l8 -6l8 3l8 1l8 0l8 2l8 -1l8 -5l8 0l8 2l0 -7l2 11l2 -15l3 -28l1 -12l1 8l3 10l2 14l2 9l0 6l3 2l2 3l3 -3l8 5l8 -5l8 5l8 -8l8 8l8 -1l8 0l8 -6l8 4l8 1l8 -1l8 6l8 -5l8 1l8 4l8 -5l8 2l8 -5l8 2l8 -7l8 9l8 -8l8 9l8 -3l8 3l8 -5l8 5l8 -2l8 -2l8 2l8 -3l8 1l8 4l8 -1l8 1l2 0l2 -3l2 -5l2 -17l1 -2l1 -7l1 -2l3 11l2 11l2 14l3 1l2 -5l1 7l8 -4l8 0l8 -5l8 6l8 -5l8 -1l8 5l8 0l1 0l2 -7l3 -1l2 10l0 5l0 -10l2 4l1 -5l1 -10l1 -13l2 -13l0 -1l1 -2l1 2l1 2l2 4l0 12l2 6l1 8l1 1l0 5l1 5l2 -4l0 -2l2 4l1 -2l2 1l0 -6l3 6l2 -4l2 0l1 5l2 -3l2 2l3 3l1 -8l1 5l2 -3l3 -4l2 -1l0 3l3 -2l2 6l2 -1l1 -2l2 -6l2 6l3 -1l1 -2l1 3l2 -1l3 -4l2 -1l0 6l3 -4l2 2l2 1l1 1l0 -9l0 -2l1 1l1 5l0 -4l1 -8l1 -3l0 -13l0 10l1 -18l1 -8l1 -20l0 10l1 -6l0 -4l0 4l1 -4l1 9l1 1l0 4l1 9l0 -1l1 11l1 1l0 6l1 2l1 -1l0 7l0 -1l0 1l1 5l1 -2l1 2l0 1l1 -3l0 3l1 -3l0 -2l1 6l1 -1l1 -1l2 -8l2 8l3 -4l1 -8l1 5l2 -2l3 -3l2 -2l0 -4l3 8l2 -7l2 2l1 5l2 3l2 -12l0 -3l2 0l1 4l1 -5l0 -4l1 -2l2 -2l0 3l2 -6l1 7l2 -6l0 3l0 -5l2 -6l1 -3l1 -8l1 1l0 -6l1 1l1 -20l0 7l0 -20l0 1l1 -24l0 -2l1 -51l0 -10l1 -18l0 -4l0 3l1 -4l0 18l1 6l0 10l0 10l0 -2l1 17l1 25l0 10l1 3l0 1l0 13l1 9l0 -10l0 10l1 -3l0 2l1 7l1 -10l0 7l1 7l1 5l1 -10l0 2l2 3l0 1l0 4l0 -7l2 8l1 2l0 -9l1 8l1 3l0 9l2 -13l0 1l1 6l0 -5l1 -1l1 -3l2 4l0 -4l0 -3l1 -2l1 -1l0 -3l1 -4l0 -9l0 -1l1 -31l0 -8l0 1l1 -33l1 -20l0 -10l1 2l0 15l0 6l1 -6l0 15l1 31l0 5l1 14l0 -5l0 9l1 8l0 15l1 -3l0 1l0 3l0 2l0 -3l1 3l1 5l0 -6l1 6l0 1l1 3l1 3l0 1l2 -1l0 11l1 -3l0 -8l1 7l1 2l2 9l0 -3l0 -4l3 6l0 5l1 -3l1 5l0 -5l2 17l1 -11l2 4l0 8l2 -6l0 5l0 7l3 -8l0 1l2 3l0 -5l2 8l1 4l0 -5l2 3l0 1l2 -2l3 10l0 -4l1 -4l1 7l2 -6l1 0l2 9l2 5l0 -3l3 -1l2 -3l2 3l1 -4l2 3l2 0l3 -1l1 2l1 5l2 -3l3 0l2 1l0 -2l3 -2l2 -2l2 10l1 0l2 -2l2 9l3 -5l1 4l1 4l2 -8l3 5l2 -3l3 -2l2 2l2 -4l1 5l2 -1l2 1l3 -1l1 8l1 3l2 1l3 0l2 -6l0 3l3 4l2 -4l2 3l1 -1l2 4l2 -4l3 0l1 -1l1 -4l2 1l3 -6l2 7l3 12l2 -11l2 3l1 0l2 3l2 -2l3 -3l1 -2l1 2l2 4l3 6l2 -8l0 -2l3 5l2 -5l2 6l1 0l2 3l2 1l3 -7l1 2l1 1l2 -1l3 -3l2 1l0 7l3 -8l2 5l2 -3l1 -5l2 6l2 -3l3 9l1 -8l1 5l2 -3l3 7l2 -4l0 -2l3 1l2 1l2 1l1 2l2 -10l2 3l3 8l1 0l1 -3l2 4l3 -10l2 7l0 1l3 -12l2 6l2 1l1 -2l2 9l2 -3l3 -11l1 6l8 1l8 0l8 5l8 -2l8 1l8 -5l8 8l8 -11l8 6l8 -3l8 8l8 -8l8 1l8 3l8 -3l8 1l8 2l8 0l8 -10l8 1l8 9l8 0l8 -10l8 13l8 -7l8 1l8 0l8 3l8 10l8 -21l8 7l8 3l8 6l8 -5l8 -8l8 1l8 17l8 -19l8 18l8 -9l8 -3l8 5l8 -2l8 -2l8 4l8 -1l8 3l8 -2l8 -1l8 -5l8 5l8 -4l8 1l8 0l8 -4l8 4l8 -7l8 8l8 -1l8 0l8 4l8 -7l8 2l8 -3l8 6l8 -2l8 -2l8 0l8 4l8 -5l8 5l8 -1l8 8l8 -8l8 -1l8 0l8 -3l8 8l8 -8l8 8l8 -14l8 9l8 -10l8 11l8 1l8 -2l8 0l8 2l8 -8l8 5l8 3l8 2l8 -1l8 -3l8 0l8 -6l8 4l8 2l8 2l8 4l8 -9l8 -2l8 14l8 -16l8 9l8 -3l2 -3l2 3l3 2l1 -6l1 10l3 -7l2 5l2 -4l0 2l3 3l2 -8l3 -2l0 1l2 1l2 1l3 4l1 -4l1 2l3 -10l2 13l2 0l0 -7l3 9l2 -9l3 4l0 4l2 -6l2 2l3 1l1 12l1 -15l3 7l2 -6l2 -9l0 7l3 -1l2 2l3 -1l2 -1l2 3l3 0l1 3l1 -6l3 -5l2 11l2 -3l0 -1l3 -2l2 1l3 5l0 -8l2 10l2 -2l3 -5l1 -5l1 1l3 1l2 -3l2 7l0 -2l3 2l2 -4l3 -1l0 3l2 1l2 -8l3 -6l1 4l1 -2l3 6l2 7l2 -15l0 10l3 -6l2 -1l3 -8l0 5l2 1l2 -3l3 4l1 -4l1 1l3 7l2 -1l2 -15l0 9l3 -6l2 0l3 -5l0 2l2 8l2 1l2 5l1 -14l1 0l1 -5l1 -10l2 -18l1 -6l1 -10l1 4l1 3l0 -4l2 11l1 3l1 17l1 7l1 2l2 -1l0 4l1 3l1 0l0 -5l1 2l1 1l0 2l2 -4l1 -6l1 12l1 2l0 -14l2 11l1 4l2 -15l0 9l2 -9l0 -1l2 -8l1 1l0 5l1 -9l1 -4l0 -8l2 -39l1 -5l0 -10l0 1l2 4l0 14l0 2l2 22l0 2l1 4l1 7l1 7l0 -3l1 -2l1 11l0 -12l2 15l1 -1l2 -5l0 2l0 -1l0 1l1 6l1 0l0 -6l0 -3l1 0l1 -7l0 -9l0 5l1 -7l0 -6l1 -10l1 -19l0 2l0 -2l1 -4l0 2l0 -5l1 8l0 2l1 1l0 15l1 -8l1 9l0 1l0 14l0 -4l1 17l1 -1l0 2l0 12l1 -6l1 13l0 -7l0 3l1 2l0 -1l1 5l1 -6l0 10l0 1l1 4l0 -4l1 0l0 2l1 0l2 3l2 -8l0 6l0 -1l2 5l1 -3l2 -2l0 2l2 1l1 -1l0 -4l2 4l0 3l2 0l3 -3l1 -4l1 1l3 7l2 -6l2 1l0 2l3 -7l2 6l3 1l0 1l2 -5l2 10l3 5l1 -6l1 -1l3 -6l2 6l2 -4l0 2l3 -1l2 4l3 -2l0 2l2 4l2 -10l3 5l1 -2l1 6l3 2l2 -3l2 1l0 7l3 -4l2 -6l3 5l0 7l2 -7l2 1l3 5l1 1l1 -6l3 3l2 -3l2 9l0 -4l3 0l2 0l3 -6l0 2l2 3l2 1l3 2l1 -3l1 3l3 0l2 0l2 -9l0 1l3 3l2 7l3 -1l0 2l2 -3l2 3l3 2l1 2l1 -6l3 -3l2 7l2 -3l0 -6l3 12l2 -4l3 6l0 -5l2 -6l2 8l3 -10l1 10l1 2l3 -2l2 -6l2 2l0 -1l3 11l2 -16l3 15l0 -9l2 -1l2 -4l3 2l1 6l1 -4l3 3l2 3l2 -3l0 1l3 -2l2 -3l3 8l0 -3l2 -10l2 5l3 1l1 5l1 -4l3 -2l2 2l2 -1l0 5l3 -10l2 8l3 2l0 -3l2 -1l2 3l3 4l1 -6l1 -2l3 1l2 4l2 2l0 -7l3 10l2 -6l3 -4l0 2l2 4l2 3l3 -7l1 0l1 0l3 10l2 -10l2 3l0 1l3 -1l2 -2l3 -3l0 4l2 -1l2 -4l3 2l1 4l1 -1l3 0l2 5l2 -2l0 -5l3 2l2 -5l3 3l0 2l2 4l2 -6l3 4l1 -3l1 6l7 1l8 -1l8 -7l8 4l8 -3l8 -1l8 2l8 -1l8 3l8 -4l8 4l8 2l8 -6l8 -2l8 1l8 7l8 -3l8 -6l8 8l8 4l8 -4l8 1l8 -3l8 2l8 2l8 -4l8 9l8 -4l8 -6l8 -9l8 1l8 9l8 2l8 0l8 -4l8 -4l8 7l8 1l8 -3l8 -1l8 8l8 -7l8 -1l8 6l8 -4l8 2l8 6l8 -12l8 6l8 -6l8 2l8 7l8 -12l8 9l8 -8l8 7l8 -7l8 7l8 -6l8 7l8 1l8 -1l8 -1l8 -2l8 1l8 1l8 1l8 3l8 -3l8 -6l8 2l8 3l8 -8l8 9l8 1l8 -6l8 3l8 -3l8 7l8 -8l8 3l8 5l8 -6l8 -6l8 4l8 9l8 -4l8 -3l8 3l8 0l8 -3l8 -9l8 9l8 -7l8 3l8 6l8 -5l8 4l8 0l8 -1l8 3l8 1l8 -4l8 3l8 1l8 -2l2 2l2 -1l3 -1l1 -8l1 8l3 2l2 -4l2 2l0 4l3 -9l2 1l3 4l0 -1l2 0l2 3l3 -1l1 -1l1 2l3 -3l2 -8l2 7l0 -3l3 12l2 -10l3 -1l0 6l2 -1l2 -2l3 -10l1 7l1 2l3 -1l2 -5l2 4l0 5l3 -5l2 5l3 -4l0 -4l2 -2l2 2l3 -6l1 1l1 3l3 -4l2 4l2 -5l0 5l3 -4l2 -2l3 1l0 -4l2 3l2 -2l3 1l1 -4l1 -4l3 6l2 -5l2 5l0 -4l3 4l2 -6l3 5l0 -4l1 0l1 1l1 -6l1 4l2 3l1 -16l1 11l1 -1l2 -7l1 11l1 -7l1 -4l1 -1l1 3l0 -10l2 3l1 -14l1 4l1 -2l1 -1l1 4l1 4l0 2l1 -7l1 0l1 2l1 -1l2 9l1 -3l1 1l0 6l1 -1l2 3l1 -2l1 1l1 3l1 -4l1 12l0 -5l2 -4l1 8l1 -3l1 3l2 -4l1 -2l0 16l1 -12l1 -3l1 6l1 -5l2 9l1 -9l1 5l0 5l1 -1l3 -4l2 -5l2 12l0 -7l3 2l2 -2l3 2l0 1l2 4l2 -7l3 3l1 4l1 1l3 -6l2 3l2 4l0 -1l3 5l2 0l3 0l0 -2l2 -2l2 4l3 -5l1 -5l1 6l3 0l2 8l2 -4l0 3l3 -3l2 4l3 4l0 -2l2 5l2 -10l3 4l1 5l1 -8l3 -2l2 1l2 2l3 -3l2 10l3 -1l0 -7l2 0l2 1l3 4l1 2l1 2l3 2l2 -10l2 -1l0 9l3 -8l2 4l3 2l0 -3l2 1l2 7l3 -11l1 7l1 1l3 -10l2 6l2 -8l0 11l3 1l2 2l3 -2l0 -1l2 1l2 0l3 -7l1 9l1 4l3 -7l2 1l2 3l0 -5l3 1l2 -5l3 5l0 1l2 -3l2 4l3 -6l1 5l1 -2l3 -8l2 9l2 -3l8 5l8 -2l8 2l8 -4l8 3l8 -5l8 -6l8 10l8 2l8 -8l8 6l8 -8l8 2l8 6l8 -2l8 -3l8 10l8 -5l8 -5l8 5l8 -2l8 -1l8 6l8 -2l8 4l8 4l8 -9l8 -1l8 -3l8 6l8 -7l8 10l8 -16l8 12l8 6l8 -7l8 1l8 -1l8 3l8 -10l8 6l8 0l8 6l8 -9l8 0l8 7l8 -5l8 1l8 1l8 -5l8 5l8 -3l8 -4l8 7l8 1l8 0l8 1l8 -5l8 8l8 -8l8 2l8 2l8 -4l8 9l8 -7l8 -2l8 0l8 4l8 2l8 -1l8 -7l8 1l8 -3l8 4l8 -5l8 13l8 -7l8 -2l8 2l8 4l8 -3l8 -1l8 5l8 -4l8 0l8 0l8 -4l8 6l8 2l8 -1l8 -14l8 7l8 1l8 9l8 -2l8 3l8 -10l8 0l8 0l8 -1l8 10l8 -6l8 1l8 6l8 -6l8 1l8 -2l8 -6l8 11l8 -8l8 3l8 3l8 -15l8 17l8 -4l2 -5l2 6l3 -5l1 1l1 -3l3 6l2 2l2 -5l0 9l3 -13l2 2l3 -1l0 7l2 -5l2 -1l3 2l1 7l1 0l3 -1l2 -3l2 -7l0 7l3 3l2 -1l3 2l0 -5l2 -2l2 -8l3 16l1 -5l1 1l3 -3l2 7l2 -10l0 2l3 5l2 -8l3 -4l0 5l2 1l2 4l3 -1l1 -5l1 4l3 -5l2 4l2 0l3 -2l2 -3l3 12l0 -14l2 4l2 3l3 4l1 -11l1 6l3 -9l2 11l2 -4l0 -4l3 -3l2 3l3 4l0 -8l2 6l2 2l3 1l1 -3l1 2l3 -3l2 0l2 -3l0 4l3 0l2 -10l3 8l0 3l2 -10l2 7l3 -12l1 12l1 -10l3 -2l2 10l2 -8l0 9l3 2l2 -4l3 -7l0 4l2 -5l2 4l3 -6l1 5l1 1l3 -5l2 6l2 -9l0 1l3 2l2 8l3 -5l0 1l2 5l2 -13l3 5l1 3l1 -3l3 -3l2 2l2 -1l0 3l3 -10l1 10l1 1l3 -4l0 8l2 -5l2 3l3 1l1 -7l1 0l3 3l2 -4l2 1l0 1l3 6l2 -7l3 9l0 -10l2 2l2 5l3 1l1 1l1 -12l3 8l2 5l2 -12l0 11l3 -7l2 1l3 0l0 7l2 -2l2 -3l3 13l1 -7l1 0l3 -4l2 7l2 -5l0 3l3 -3l2 4l3 -3l2 -2l2 1l3 3l1 4l1 -5l3 -2l2 3l2 -3l0 7l3 1l2 -6l3 2l0 2l2 -3l2 -2l3 1l1 -2l1 9l3 -1l2 -3l2 -1l0 2l3 -1l2 -1l3 6l0 -6l2 10l2 -15l3 8l1 -6l1 10l3 -2l2 -2l2 -4l0 2l3 9l2 -4l3 2l0 3l2 -7l2 2l3 -4l1 2l1 4l3 -3l2 -4l2 12l0 -8l3 0l2 7l3 -11l0 6l2 -2l2 -3l3 8l1 -5l1 3l3 1l2 3l2 -1l0 -9l3 6l2 1l3 -5l0 8l2 -2l2 3l3 -6l1 2l1 2l3 1l2 7l2 -12l0 8l3 -4l2 1l3 -5l2 0l2 8l3 -7l1 -1l1 6l3 3l2 -8l2 6l0 2l3 -13l2 12l3 0l0 -9l2 0l2 4l3 -6l1 11l1 -8l3 6l2 5l2 -10l0 10l3 -6l2 -8l3 1l0 14l2 1l2 -7l3 -3l1 -4l1 3l3 2l4 -7l8 7l8 -2l8 -2l8 0l8 6l8 7l8 -9l8 4l8 -1l8 -7l8 4l8 4l8 -4l8 1l8 0l8 1l8 6l8 -15l8 10l8 -4l8 7l8 -7l8 -1l8 -8l8 18l8 -8l8 5l8 -12l8 15l8 -8l8 3l8 -1l8 -5l8 7l8 -14l8 11l8 5l8 -7l8 -3l8 2l8 3l8 -5l8 4l8 -5l8 -4l8 10l8 -2l8 -3l8 7l8 -2l8 4l8 7l8 -21l8 11l8 5l8 -8l8 -2l8 4l8 -5l8 4l8 -3l8 -5l8 11l8 -5l8 1l8 -7l8 6l8 -1l8 4l8 -5l8 -4l8 9l8 6l8 -9l8 12l8 -13l8 4l8 -5l8 1l8 10l8 -5l8 1l8 -1l8 -1l8 -5l8 1l8 1l8 -2l8 6l8 -3l8 7l8 -12l8 6l8 1l8 -9l8 2l8 2l8 1l8 3l8 -1l8 -3l8 5l8 -2l8 0l8 -5l8 0l8 -2l8 6l8 -4l8 2l8 -7l8 9l8 5l8 -6l8 5l8 -8l8 11l8 1l8 -7l8 5l8 -9l8 4l8 2l8 -8l8 -2l8 1l8 7l8 -6l8 6l8 -2l8 0l8 -5l8 8l8 -3l8 12l8 -8l8 -8l8 8l8 -1l8 -3l8 3l8 2l8 -6l8 7l8 -2l8 -5l8 3l8 -1l8 5l8 3l8 -3l8 0l8 -4l8 -3l8 8l8 -9l8 6l8 1l8 -2l8 0l8 2l8 0l8 -2l8 3l8 -2l8 -2l8 1l8 -4l8 5l8 5l8 -8l8 6l8 -9l8 -1l8 -1l8 7l8 -6l8 6l8 5l8 -6l8 2l8 6l8 -12l8 8l8 -7l8 2l8 6l8 -2l8 -6l8 2l8 0l8 1l8 3l8 4l8 -5l8 -4l8 6l8 -2l8 -2l8 3l8 0l8 -2l8 -2l8 4l8 3l8 -6l8 2l8 -11l8 4l8 -3l8 15l8 -9l8 -1l8 0l8 3l8 -7l8 9l8 2l8 -11l8 6l8 2l8 6l8 -4l8 -5l8 5l8 0l8 6l8 -13l8 3l8 -2l8 7l8 0l8 -1l8 -2l8 7l8 -9l8 0l8 7l8 -8l8 2l8 4l8 -5l8 5l8 -7l8 2l8 1l8 1l8 -5l8 2l8 -6l8 9l8 1l8 -5l8 5l8 -7l8 -2l8 13l8 -4l8 1l8 0l8 -4l8 -4l8 -1l8 11l8 -4l8 2l8 5l8 -8l8 -6l8 9l8 -7l8 3l8 -10l8 11l8 -3l8 4l8 -5l8 -3l8 10l8 -2l8 0l8 1l8 -4l8 5l8 -2l8 -6l8 8l8 -6l8 3l8 -5l8 4l8 1l8 1l8 1l8 10l8 -12l8 2l8 4l8 -4l8 -6l8 9l8 -1l8 1l8 -8l8 3l8 -4l8 6l8 1l8 -3l8 -2l8 8l8 -17l8 20l8 -12l8 5l8 -1l8 -3l8 -3l8 0l8 2l8 0l8 1l8 6l8 -2l8 0l8 -4l8 -1l8 4l8 -11l8 6l8 3l8 1l8 -4l8 -7l8 9l8 1l8 5l8 0l8 -4l8 -2l8 3l8 0l8 -7l8 1l8 7l8 4l8 -10l8 2l8 -3l8 6l8 -10l8 0l8 8l8 1l8 2l8 3l8 -7l8 3l8 1l8 -1l8 -7l8 8l8 -2l8 -1l8 5l8 -13l8 12l8 -3l8 3l8 -4l8 1l8 0l8 3l8 -10l8 7l8 -1l8 7l8 2l8 -1l8 -12l8 5l8 3l8 -5l8 2l8 1l8 -2l8 0l8 -1l8 3l8 -6l8 10l8 -6l8 4l8 -5l8 3l8 -6l8 5l8 2l8 0l8 -1l8 -3l8 1l8 3l8 8l8 -21l8 13l8 -1l8 -1l8 -4l8 4l8 2l8 2l8 -1l8 0l8 -4l8 -1l8 4l8 -7l8 3l8 6l8 -10l8 6l8 3l8 -3l8 5l8 1l8 -8l8 4l8 1l8 6l8 -8l8 1l8 7l8 -6l8 -1l8 1l8 0l8 -4l8 3l8 -4l8 -1l8 3l8 -4l8 16l8 -17l8 4l8 1l8 0l8 1l8 -6l8 7l8 0l8 1l8 -1l8 -3l8 0l8 3l8 0l8 2l8 -2l8 -5l8 3l8 -5l8 4l8 -3l8 3l8 -7l8 8l8 3l8 0l8 2l8 -6l8 5l8 -9l8 4l8 5l8 0l8 0l8 -11l8 2l8 8l8 -7l8 5l8 -1l8 0l8 -6l8 6l8 -1l8 -4l8 3l8 3l8 3l8 -1l8 5l8 -10l8 2l8 -6l8 5l8 -4l8 11l8 -12l8 1l8 1l8 5l8 1l8 -8l8 9l8 -4l8 -4l8 3l8 4l8 6l8 -8l8 0l8 3l8 -11l8 7l8 6l8 -1l8 -5l8 2l8 -7l8 -1l8 18l8 -10l8 -3l8 3l8 1l8 -8l8 17l8 -8l8 -6l8 9l8 -11l8 -1l8 6l8 6l8 -2l8 -11l8 -2l8 13l8 0l8 -5l8 3l8 1l8 -2l8 0l8 -5l8 7l8 -3l8 1l8 3l8 0l8 -5l8 4l8 -8l8 3l8 4l8 1l8 -8l8 4l8 7l8 -4l8 0l8 -8l8 5l8 1l8 1l8 -2l8 4l8 -9l8 -4l8 9l8 -6l8 7l8 1l8 -2l8 2l8 -9" stroke="rgb(226,32,44)" stroke-width="12" fill="none" stroke-linejoin="round"/>
<line x1="109.6" y1="416.0" x2="674.8" y2="416.0" stroke="rgb(226,32,44)" stroke-width="0.85"/>
<path transform="scale(.05)" d="M2192 8321l6 -1l2 -1l0 -3l3 1l2 -9l3 -11l0 -14l2 4l2 -35l0 16l3 7l1 -4l1 0l3 10l2 11l2 9l0 -13l3 16l2 1l3 13l0 -8l2 6l2 7l3 -6l1 3l1 -5l3 3l2 -9l2 6l8 2l0 -1l2 14l2 -30l3 -13l1 10l1 3l3 4l2 14l2 9l0 -13l3 -2l2 7l3 7l8 -4l8 -3l8 2l8 0l8 -10l8 11l8 -7l8 3l8 -1l8 3l8 4l8 -5l8 1l8 4l8 -2l8 -6l8 8l8 -7l8 1l8 3l8 6l8 -12l8 3l8 2l8 -5l8 5l8 6l8 -16l8 10l8 -4l8 14l8 -7l8 0l8 -4l8 -5l8 6l8 1l8 -1l8 9l8 -5l8 -9l8 3l8 3l8 -8l8 6l8 -3l8 5l8 -1l8 -4l8 10l8 -9l8 6l8 -9l8 1l8 1l8 2l8 6l8 -12l8 16l8 -15l8 14l8 -6l8 -4l8 7l8 -7l8 3l8 0l8 15l8 -20l8 15l8 -12l8 -2l8 1l8 9l8 -7l8 -3l8 7l8 -2l8 4l8 -11l2 13l3 -1l2 -10l1 2l2 4l2 -4l2 6l2 -1l1 -4l2 -5l3 -5l2 12l2 -8l3 12l2 3l1 -8l2 4l2 2l2 -2l2 -11l1 1l2 3l1 3l0 -6l1 5l1 5l0 -10l1 0l1 -11l0 1l1 -8l1 -18l0 -11l1 9l1 -27l0 8l0 -2l1 5l0 5l1 -1l1 27l0 -5l1 -2l0 -4l0 -2l1 21l1 2l0 1l1 10l1 0l0 -8l0 -1l1 10l1 4l0 3l1 -1l1 -2l0 -3l0 7l1 1l0 -6l1 -2l1 3l3 -4l2 7l2 -8l3 8l2 -6l1 7l2 10l2 -19l2 7l2 11l1 -7l2 -4l3 1l2 -4l2 -6l3 -6l2 9l1 1l2 9l2 -5l2 -10l2 11l1 -9l2 12l3 -12l2 10l2 -4l3 -4l2 8l1 -7l2 -11l2 14l2 -7l2 2l1 4l2 2l3 -3l0 -7l1 1l1 -4l1 1l1 -8l1 -19l1 -4l1 -6l1 -13l0 -4l0 7l1 -9l1 9l1 13l1 3l0 3l1 6l1 5l1 16l1 7l1 -5l1 2l0 -6l1 0l0 9l1 0l0 -10l1 8l1 -9l0 12l1 0l1 -13l0 2l2 3l1 -10l1 -6l1 -3l1 -5l1 -5l1 -10l1 -15l0 -2l1 -9l0 -4l1 -13l1 -2l0 2l0 -5l1 -16l0 -32l0 -17l1 -63l0 -34l0 -30l1 -58l1 -81l0 -8l0 3l0 6l1 7l0 20l0 10l1 38l0 19l1 38l0 9l0 8l1 53l0 25l1 10l0 28l0 1l1 5l0 9l1 19l0 -1l1 -2l0 12l0 -6l2 13l0 -13l1 8l1 6l0 14l2 2l1 -3l0 6l2 6l0 2l1 0l0 10l2 5l0 -6l1 13l1 7l0 -2l2 3l0 8l1 3l1 10l0 -12l1 6l1 1l1 1l0 3l2 -4l1 5l0 -3l2 11l0 -3l1 -1l1 4l0 5l2 -4l1 -11l0 25l1 -13l0 7l0 -10l1 3l1 1l0 1l1 -7l0 9l1 -16l0 -6l1 9l0 -17l1 -22l0 11l1 -10l1 -1l0 2l0 -10l0 5l1 -4l0 -4l1 5l0 2l1 0l1 23l0 -4l1 3l1 13l1 -1l1 16l0 8l1 -5l1 -2l1 0l1 5l0 2l1 1l1 -8l1 4l2 -9l1 8l2 4l2 0l2 -11l2 -3l0 18l1 -10l0 -2l1 2l1 -3l1 4l1 -2l1 -7l0 -6l2 1l0 -14l1 16l1 -13l1 -4l1 -2l1 -4l1 -12l1 -16l0 -8l1 -5l0 -2l1 -13l1 -2l0 1l0 -5l1 -10l0 -39l0 -17l1 -50l0 -30l0 -54l1 -60l1 -75l0 -2l0 -4l0 -4l1 4l0 42l0 9l1 36l0 6l1 41l0 22l0 14l1 50l0 13l1 20l0 30l0 -2l1 -1l0 6l1 18l0 2l1 1l0 14l0 -10l2 17l0 -3l1 3l1 12l0 -10l2 21l1 -5l0 4l2 13l0 1l1 -1l0 9l2 -1l0 5l1 3l1 9l0 5l2 2l1 13l1 -1l0 -6l0 4l1 1l0 16l1 -9l0 8l1 -3l0 1l1 -2l1 -10l0 10l1 3l0 -5l0 12l2 -9l0 -1l0 -11l1 15l0 -1l1 -17l0 1l1 10l1 -17l0 5l1 -8l0 7l1 -11l0 -6l1 -8l0 -12l1 2l0 7l0 -12l1 -5l0 -6l1 -1l0 -3l0 3l1 -34l0 -10l0 -8l0 -27l1 -63l0 -5l0 -18l0 -34l1 -71l1 -67l0 -5l0 -3l0 -1l0 1l1 16l0 7l0 17l0 -3l1 46l0 15l0 17l1 15l0 22l0 12l1 50l0 20l1 16l0 25l0 12l1 0l0 16l1 6l0 -6l1 12l0 5l0 3l2 1l0 -10l1 18l1 -7l0 19l2 -5l1 3l0 15l2 5l1 12l0 -9l2 13l1 7l1 6l0 1l2 -6l0 10l1 6l1 -3l0 10l0 -4l1 -3l0 9l1 -4l0 2l1 4l0 -1l1 5l1 5l0 -7l1 5l0 -2l0 1l2 -4l0 7l0 -5l1 0l0 -3l1 -4l0 7l1 -5l1 -9l0 10l1 0l0 -14l1 5l0 -14l1 1l0 1l1 -15l0 -1l1 -2l0 -1l1 -10l0 2l0 8l1 -26l0 -13l0 -8l0 -24l1 -48l0 -10l0 3l0 -31l1 -52l1 -45l0 -21l0 8l0 -1l0 -11l1 18l0 1l0 15l0 6l1 40l0 -1l0 15l1 27l0 -2l0 17l1 36l0 13l1 19l0 19l0 8l1 5l0 5l1 4l1 2l0 -7l0 13l2 11l0 -11l1 10l1 5l0 -1l2 1l1 2l0 11l2 7l0 -3l1 12l0 -5l2 9l0 -3l1 14l1 -1l2 -2l0 20l1 -4l1 8l0 -13l1 6l1 2l1 1l0 4l2 3l1 7l0 -1l2 -8l0 11l1 -4l1 10l0 -3l2 1l1 -7l0 5l1 7l1 -7l1 6l0 -12l1 3l1 4l1 -2l1 -2l0 9l2 -4l0 2l1 -2l1 6l0 -14l1 -1l2 12l3 5l2 -5l2 2l3 -3l2 6l1 -2l2 -6l2 12l2 -11l2 -5l1 14l2 -5l3 1l2 -7l2 8l3 -1l2 -1l1 9l2 -7l2 5l2 -8l2 4l1 -4l2 7l3 1l2 -1l2 -3l3 -7l2 6l1 11l2 -7l2 2l2 6l2 -10l1 0l2 2l3 5l2 2l2 -4l3 -5l2 4l1 0l2 6l2 -13l2 8l2 -1l1 3l2 -3l3 5l2 -4l2 0l3 12l2 -17l1 15l2 -8l2 -4l2 8l2 -8l1 2l2 -3l3 8l2 -11l2 5l3 -2l2 8l1 2l2 -1l2 -8l2 2l2 -4l1 7l2 -5l3 4l2 -7l2 7l3 10l2 -11l1 2l2 -5l2 0l2 4l2 -7l1 3l2 7l3 -14l2 13l2 -10l3 5l1 5l0 -6l1 8l1 -11l1 3l1 8l0 -21l1 -15l1 -6l1 -11l1 -13l0 4l0 -3l1 3l1 6l1 -3l1 16l0 7l1 15l1 -1l1 0l1 13l0 7l1 3l1 -15l1 20l1 -10l0 -4l1 12l1 -5l1 -7l2 8l1 -4l2 2l2 -8l2 8l2 2l1 -3l2 -1l3 -2l2 14l2 -10l3 -5l2 1l1 6l2 -2l2 -6l2 4l2 0l1 6l2 -5l3 -4l2 -8l2 15l3 -3l2 -6l1 5l2 -1l2 5l2 -1l2 4l1 -8l2 -2l3 8l2 -6l2 -3l3 -5l2 9l1 7l2 -5l2 2l2 2l2 5l1 -10l2 5l3 -3l2 -1l2 -1l3 5l2 -5l1 4l2 -3l2 -3l2 3l2 -2l1 4l2 -3l3 2l2 -3l2 -3l3 9l2 2l1 -2l2 -7l2 0l2 4l2 -6l1 14l2 -6l3 1l2 -4l8 4l8 3l8 -10l8 0l8 7l8 2l8 -9l8 9l8 0l8 -7l8 14l8 -12l8 2l8 4l8 -4l8 0l8 -3l8 0l8 2l8 -9l8 16l8 -9l8 3l8 -6l8 8l8 -4l8 10l8 -16l8 6l8 -9l8 12l8 6l8 -8l8 2l8 5l8 -3l8 -5l8 -5l0 7l2 -3l2 -12l3 -38l1 -1l1 15l3 2l2 18l2 15l0 -4l3 -6l2 15l3 1l8 -6l8 5l8 -5l8 4l8 -2l8 3l8 3l8 -7l8 11l8 -11l8 2l8 -3l8 2l8 11l8 -10l8 1l8 -1l8 -1l8 3l8 -10l8 10l8 -8l8 9l8 -1l8 -2l8 -2l8 8l8 -8l8 -12l8 10l8 4l8 -4l8 7l8 2l0 -10l0 -2l1 5l1 -2l1 -11l1 8l0 -16l1 -8l1 -25l1 4l1 -10l0 7l0 -7l1 12l1 -10l1 17l1 -5l0 12l1 -11l1 23l1 7l1 0l0 5l0 8l1 -7l1 0l1 12l1 -7l0 5l1 7l1 -9l2 -5l8 2l8 0l8 3l8 9l6 -5l1 -3l1 8l1 -1l1 -11l2 5l1 -2l1 -5l2 -2l0 1l1 6l2 0l1 9l1 -8l2 7l1 -6l0 -6l2 3l1 0l1 -4l2 4l1 1l1 -2l1 -3l1 5l1 -2l2 2l1 5l2 -9l1 19l1 -17l2 0l1 -1l2 6l1 -2l1 3l2 -2l1 0l2 -3l1 -3l1 1l0 7l2 7l1 -14l2 2l1 8l1 2l1 -12l1 -7l1 10l2 1l1 6l1 -9l2 9l0 -12l1 13l2 -7l1 0l1 -2l2 4l1 -3l0 -2l2 -1l0 1l1 -5l0 -7l1 13l0 -8l1 -5l1 4l0 -7l0 -6l1 -18l1 0l1 -14l0 2l1 -16l0 12l0 -10l1 8l0 -2l1 6l1 11l1 -10l0 16l0 -7l1 11l1 12l0 -7l1 7l0 -1l1 -3l0 10l1 1l1 15l0 -13l1 1l1 6l0 8l1 -11l0 3l1 -4l1 10l2 -5l1 -15l2 16l1 -12l1 -2l0 1l2 -7l1 6l2 4l1 2l1 -2l1 -7l1 11l1 -9l2 0l1 0l1 -1l2 3l0 1l1 -3l2 -4l1 -7l1 17l2 -6l1 -9l0 4l2 16l1 -12l1 -7l2 -1l1 -3l1 4l1 -2l1 2l1 3l1 -7l1 3l1 0l0 -13l2 23l0 -19l0 2l1 2l1 -2l1 -1l1 -2l1 -7l0 4l2 -2l1 -6l0 -8l1 16l1 -7l1 -5l1 0l0 -3l1 -4l1 1l0 -3l1 -3l0 -4l0 -4l1 -11l0 -17l0 -15l1 -10l1 -11l0 3l0 -7l1 3l0 -1l0 9l1 -2l0 14l0 -2l1 0l0 12l1 18l0 9l0 -16l1 8l0 11l0 -1l1 6l0 -3l0 -2l1 -6l0 6l1 10l0 -4l1 1l1 0l1 -6l0 5l1 -1l2 5l0 -11l0 14l1 -2l1 -6l1 10l1 0l0 -13l1 10l2 -4l0 5l1 5l0 -2l1 1l1 0l1 -2l1 7l0 -10l2 8l1 -1l1 2l0 -1l1 -5l1 8l1 -4l2 1l0 16l1 -20l0 1l1 9l1 -12l0 -9l0 4l0 6l1 8l1 -4l0 9l0 -7l1 3l1 -2l0 -20l0 10l1 2l1 1l1 3l0 5l0 -4l1 -3l1 0l0 -11l0 1l1 7l1 -22l1 14l0 -6l1 -8l1 -2l0 -12l1 0l0 -1l1 2l0 -16l0 1l0 -1l1 0l0 -30l0 -3l1 -31l0 -30l0 -19l1 -36l0 -11l1 -21l0 -1l0 -6l1 11l0 -11l0 30l1 21l0 10l1 21l0 14l0 13l1 8l0 14l0 -7l1 19l0 15l0 -11l1 18l0 5l0 -3l1 6l1 4l0 -1l0 9l1 5l1 -16l0 9l1 10l1 -3l0 8l0 -4l1 -3l1 8l1 -2l0 5l1 -6l1 6l0 8l1 -6l1 2l1 18l0 -10l1 8l1 -3l0 6l1 -6l1 13l0 -1l1 -9l1 -2l0 30l1 -22l1 13l0 -4l1 7l0 -7l1 4l1 -5l0 4l1 4l0 9l1 -12l1 1l0 8l1 -7l1 5l0 3l1 5l1 -14l0 1l1 -2l0 8l1 -8l0 12l1 -8l0 -2l1 10l1 -8l0 9l1 -8l0 11l1 -6l0 2l1 -8l0 2l1 -9l1 4l0 -2l0 -7l1 2l0 13l1 -19l0 -3l0 9l1 -9l0 4l0 -7l0 -3l1 -22l0 3l0 -7l1 -16l0 -19l1 -8l0 25l0 -24l1 4l0 3l0 10l1 -5l0 9l0 7l1 10l0 2l1 22l0 -12l0 10l1 1l0 8l0 2l1 3l0 2l0 5l1 -2l0 5l1 13l0 -22l1 9l1 4l1 -7l0 7l1 2l2 2l0 -1l1 5l1 -4l1 11l1 -4l0 -10l1 9l2 5l0 -6l1 6l0 7l1 -8l1 -8l1 15l1 -1l0 1l2 -13l0 11l1 2l1 8l0 -3l1 4l1 -5l1 1l0 12l2 -8l0 1l1 -4l2 6l0 -8l0 7l1 -1l1 4l0 2l2 0l0 -1l1 -9l2 4l0 3l1 3l1 -5l0 8l2 -11l1 14l0 -4l2 -4l1 8l1 -10l0 -1l2 4l1 10l2 -8l1 1l1 -6l1 2l1 5l1 -5l2 11l1 -5l1 -2l2 4l0 2l1 -1l2 -9l1 6l1 4l2 5l1 -8l0 6l2 -6l1 -4l1 10l2 -3l1 3l1 -2l1 0l1 -1l1 -2l2 4l1 -1l2 4l0 4l1 3l1 -8l2 3l1 2l2 -15l1 7l1 3l2 1l1 5l2 -3l1 2l1 3l0 -4l2 -8l1 -1l2 16l1 4l1 -6l1 0l1 -4l1 1l2 4l1 -4l1 4l2 -2l0 1l1 0l2 -10l1 2l1 4l2 -2l1 3l0 11l2 -16l1 7l1 8l2 -12l1 -2l1 11l1 -4l1 -3l1 13l2 -25l1 17l2 0l0 5l1 -3l1 4l2 -9l1 1l2 16l1 -13l1 0l2 5l1 -1l2 -2l1 1l1 -5l0 1l2 -3l1 2l2 -6l1 7l1 16l1 -12l1 1l1 5l2 1l1 6l1 -18l2 9l0 -9l1 6l2 -6l1 -4l1 9l2 1l1 -6l0 -1l2 1l1 2l1 6l2 -5l1 3l1 12l1 -5l1 -5l1 3l2 -5l1 2l2 -6l0 -4l1 7l1 -3l2 12l1 -4l2 -18l1 20l1 0l2 -8l1 9l2 5l1 -9l1 -5l0 4l2 2l1 -2l2 -5l1 6l1 -4l1 3l1 -7l1 2l2 6l1 2l1 -11l2 13l0 -6l1 3l2 -6l1 12l1 -6l2 5l1 -10l0 2l2 -2l1 -7l1 11l2 -13l1 9l1 4l1 4l1 -8l1 -2l2 8l1 -6l2 2l0 -5l1 14l1 -6l2 4l1 -4l2 1l1 -5l1 5l2 -10l1 7l2 -2l1 -1l1 3l0 -3l2 5l1 -13l2 9l1 -3l2 5l8 9l8 -11l8 -9l8 8l8 -2l8 1l8 1l8 2l8 5l8 -5l8 0l8 -7l8 14l8 -9l8 3l8 0l8 -4l8 5l8 -4l8 11l8 -12l8 0l8 0l8 0l8 3l8 -4l8 8l8 -12l8 7l8 2l8 -6l8 2l8 2l8 -2l8 -5l8 8l8 -7l8 3l8 7l8 10l8 -15l8 11l8 -9l8 4l8 2l8 -7l8 0l8 4l8 0l8 -2l8 -1l8 4l8 -16l8 1l8 15l8 -4l8 1l8 -2l8 3l8 -3l8 3l8 3l8 -5l8 8l8 -8l8 -2l8 13l8 -12l8 1l8 8l8 -11l8 6l8 2l8 -17l8 7l8 10l8 1l8 -13l8 8l8 6l8 -8l8 4l8 -7l8 6l8 -4l8 1l8 5l8 -4l8 1l8 -3l8 -6l8 8l8 -7l8 11l8 -7l8 6l8 -9l8 7l4 1l2 -4l2 -5l1 -6l2 9l3 0l2 0l2 3l3 0l2 5l1 6l2 -7l2 6l2 -11l2 10l1 -10l2 2l3 5l2 -12l2 4l3 -1l2 1l1 -5l2 11l2 -8l2 3l2 2l1 -1l2 1l3 -3l2 2l2 2l3 -9l2 3l1 10l2 -17l2 3l2 7l2 0l1 1l2 -10l3 19l2 -15l2 3l3 -3l2 -2l1 -2l2 2l2 3l2 -5l2 -4l1 3l2 1l3 0l2 1l2 3l3 3l2 -7l1 -4l2 6l2 -12l2 7l2 8l1 -3l2 -3l3 -7l2 -3l2 2l3 -1l2 -1l1 3l2 9l2 -10l2 -1l2 2l1 -2l2 -3l3 -5l2 3l2 4l3 -11l2 1l1 5l2 -5l2 5l2 -11l2 2l1 0l2 13l3 -12l2 1l2 5l0 -10l1 8l1 -11l1 -1l1 -8l0 -4l1 -5l1 -21l1 -13l1 0l0 -4l0 8l1 -4l1 4l0 -6l1 13l1 5l0 5l1 13l1 -5l0 11l1 10l1 -1l0 -6l1 12l0 -12l1 7l1 4l0 -1l1 -1l0 -14l1 16l1 -7l0 4l2 -3l0 -3l2 -4l1 4l0 -10l1 10l0 -8l1 -9l0 3l0 -10l0 -4l1 -4l0 -2l1 -29l0 -2l1 -18l0 6l0 -12l1 17l0 11l1 -5l0 -1l0 9l1 8l1 14l0 -2l0 11l1 -6l0 11l1 9l0 -4l0 -3l1 6l0 -1l1 -1l1 1l0 5l2 -2l1 5l2 -7l0 10l2 -10l0 10l2 4l1 -14l2 17l0 -15l1 11l1 5l1 -2l2 -3l0 9l2 -6l0 3l2 -4l0 6l1 -3l2 15l0 -8l2 -4l1 8l2 5l0 -7l2 -2l0 2l2 2l1 4l2 2l0 2l1 -17l1 11l1 -5l2 0l0 3l2 3l2 2l1 -8l2 -5l3 9l2 8l2 -4l3 4l2 -3l1 -2l2 0l2 1l2 5l2 -5l1 6l2 -6l3 0l2 2l2 3l3 2l2 7l1 -1l2 -6l2 -5l2 -2l2 -2l1 16l2 -13l3 6l2 8l2 -10l3 -1l2 -2l1 8l2 -4l2 8l2 -8l2 -1l1 13l2 -14l3 0l2 20l2 -17l3 13l2 -4l1 -6l2 10l2 -7l2 -1l2 5l1 -8l2 9l3 -6l2 5l2 4l3 -10l2 7l1 2l2 3l2 2l2 -2l2 -10l1 3l2 -5l3 8l2 7l2 -3l3 0l2 -3l1 1l2 5l2 8l2 -11l2 4l1 1l2 -4l3 4l2 -4l2 -1l3 5l2 -5l1 4l2 2l2 -1l2 6l2 -3l1 -10l2 2l3 7l2 -6l2 11l3 -11l2 -9l1 17l2 -1l2 -4l2 1l2 -7l1 3l2 7l3 -11l2 10l2 1l3 -2l2 3l1 6l2 -9l2 -4l2 -2l2 7l1 6l2 -11l3 -9l2 12l2 -9l3 4l2 7l1 9l2 -3l2 -12l2 10l2 -7l1 -4l2 13l3 -3l2 -8l2 9l3 2l2 -8l1 8l2 -10l2 3l2 -5l2 2l1 1l2 3l3 1l2 7l2 -6l3 -4l2 -10l1 8l2 5l2 -7l2 5l2 -2l1 1l2 8l5 1l8 -6l8 -8l8 1l8 1l8 1l8 4l8 3l8 -3l8 0l8 -1l8 -3l8 2l8 7l8 -8l8 0l8 -1l8 8l8 -7l8 -4l8 6l8 -3l8 7l8 -3l8 -6l8 6l8 13l8 -7l8 -8l8 8l8 -6l8 -2l8 2l8 -6l8 -1l8 3l8 2l8 6l8 -4l8 -9l8 11l8 3l8 -3l8 -1l8 -1l8 6l8 -1l8 -5l8 -3l8 11l8 -10l8 -2l8 10l8 -8l8 1l8 3l8 1l8 -2l8 0l8 7l8 -10l8 0l8 4l8 2l8 4l8 -8l8 -5l8 9l8 -3l8 -6l8 0l8 1l8 7l8 -2l8 1l8 -4l8 -5l8 11l8 -5l8 -5l8 3l8 6l8 2l8 2l8 -2l8 -9l8 9l8 -13l8 4l8 -2l8 10l8 -4l8 7l8 -15l8 8l8 1l8 5l8 -6l8 0l8 -2l8 13l8 -9l8 -7l8 -2l8 -1l8 8l8 -4l2 2l2 -6l3 6l1 0l1 6l3 -14l2 12l2 -8l0 5l3 0l2 -1l3 9l2 -8l2 1l3 -6l1 10l1 0l3 0l2 5l2 -12l0 11l3 -7l2 -5l3 4l0 9l2 2l2 -16l3 -3l1 7l1 -5l3 7l2 -8l2 2l0 11l3 -12l2 1l3 2l0 1l2 -8l2 18l3 -23l1 -1l1 13l3 -10l2 2l2 -8l0 5l3 -1l2 -11l3 12l0 5l2 -9l2 -1l3 5l1 -2l1 -3l3 -2l2 6l2 7l0 -9l3 -3l2 1l3 -2l0 4l2 -6l2 0l3 5l1 -13l1 1l3 12l2 -4l0 -7l2 1l0 1l2 -21l1 -1l2 -14l0 -14l1 -2l1 3l1 4l2 19l0 -1l2 12l0 2l2 13l1 -1l1 1l1 6l0 -1l2 -6l1 3l2 -4l2 7l0 -2l3 0l2 -2l3 7l0 -11l2 8l2 -2l3 7l1 -13l1 2l3 8l2 -9l2 14l0 -3l3 4l2 -9l3 -2l0 5l2 5l2 2l3 -2l1 -6l1 -3l3 18l2 -13l2 -8l0 7l3 -5l2 10l3 -1l0 -4l2 -12l2 8l3 3l1 11l1 -5l3 4l2 8l2 -7l0 -6l3 1l2 6l3 -4l0 -3l2 12l2 -5l3 -4l1 6l1 -3l3 -6l2 7l2 -8l0 4l3 8l2 -4l3 1l0 4l2 -5l2 3l3 2l1 -7l1 10l3 -5l2 1l2 1l0 -3l3 -3l2 10l3 -4l2 1l2 2l3 -10l1 10l1 -3l3 -3l2 3l2 -9l0 8l3 -2l2 -8l3 6l2 7l2 3l3 -2l1 0l1 -5l3 7l2 -1l2 -3l0 -5l3 8l2 2l3 -1l0 -3l2 10l2 -8l3 -13l1 14l1 -5l3 -2l2 -1l2 15l0 -2l3 -8l2 1l3 4l0 2l2 -6l2 8l3 -12l1 11l1 -9l3 -4l2 6l2 4l3 -3l2 6l3 -10l0 -7l2 10l2 4l3 -13l1 11l1 6l3 -18l2 17l2 -13l0 7l3 3l2 10l3 -14l0 -9l2 6l2 -3l3 -3l1 1l1 9l3 -16l4 9l8 3l8 -3l8 13l8 -8l8 -1l8 2l8 -1l8 4l8 -8l8 -4l8 17l8 -6l8 5l8 -7l8 -7l8 1l8 10l8 -12l8 0l8 6l8 10l8 -12l8 11l8 -3l8 0l8 -7l8 6l8 -3l8 0l8 4l8 -3l8 -18l8 14l8 3l8 1l8 -9l8 -1l8 1l8 16l8 -9l8 -1l8 -1l8 1l8 3l8 -8l8 7l8 -6l8 7l8 3l8 4l8 -8l8 4l8 -9l8 -2l8 8l8 -3l8 -2l8 5l8 -14l8 8l8 10l8 -5l8 6l8 -7l8 0l8 -1l8 11l8 -11l8 0l8 16l8 -21l8 7l8 -2l8 -3l8 0l8 -3l8 -4l8 4l8 2l8 1l8 1l8 11l8 -5l8 1l8 -3l8 -7l8 7l8 -6l8 13l8 -13l8 3l8 6l8 -2l8 6l8 -13l8 11l8 -3l8 -7l8 11l8 -2l8 -5l8 3l8 -5l8 -1l2 7l2 2l3 -14l1 12l1 1l3 6l2 -7l2 -6l0 4l3 -4l2 1l3 4l0 1l2 -8l2 11l3 -18l1 17l1 -6l3 7l2 9l2 -16l0 -4l3 11l2 -14l3 5l0 2l2 2l2 0l3 6l1 -10l1 3l3 0l2 -12l2 14l0 4l3 -5l2 -4l3 0l0 -1l2 -2l2 -2l3 9l1 -4l1 4l3 -7l2 7l2 3l0 -15l3 -1l2 9l3 3l0 -19l2 20l2 -6l3 1l1 3l1 -6l3 -2l2 -4l2 -2l0 5l3 7l2 -4l3 1l0 -2l2 3l2 -11l3 15l1 -12l1 6l3 -7l2 4l2 -3l0 -2l3 0l2 -4l3 8l0 -9l2 14l2 -10l3 -2l1 4l1 -5l3 -3l2 6l2 -4l0 -5l3 6l2 -4l3 -3l0 4l2 -5l2 4l3 0l1 4l1 -8l3 -9l2 10l2 -3l0 2l3 -4l2 7l3 -8l0 5l2 14l2 -33l3 15l1 4l1 -2l3 -2l2 5l2 -9l0 7l3 -16l1 6l1 13l3 6l0 -9l2 -13l2 16l3 -13l1 12l1 -3l3 0l2 -5l2 1l0 4l3 3l2 -2l3 0l0 4l2 2l2 -12l3 11l1 -6l1 0l3 2l2 -9l2 18l0 -8l3 -1l2 -2l3 4l0 -8l2 7l2 -4l3 3l1 7l1 -4l3 -8l2 17l2 -8l0 3l3 -4l2 -2l3 8l0 -4l2 2l2 -2l3 2l1 2l1 -6l3 4l2 7l2 -7l0 7l3 0l2 -5l3 -3l0 5l2 3l2 -3l3 7l1 -6l1 6l3 8l2 -13l2 -1l0 -2l3 14l2 -15l3 3l0 -4l2 11l2 -5l3 12l1 -5l1 -1l3 -4l2 0l2 6l0 -14l3 2l2 14l3 -5l0 2l2 -6l2 -5l3 4l1 1l1 -1l3 4l2 -5l2 12l0 -4l3 3l2 3l3 -3l0 -4l2 6l2 -5l3 2l1 -8l1 7l3 -7l2 14l2 1l0 -8l3 3l2 -9l3 4l2 1l2 13l3 -9l1 -8l1 10l3 -4l2 7l2 -7l0 10l3 -17l2 0l3 3l0 4l2 4l2 0l3 2l1 2l1 -11l3 -3l2 13l2 -4l0 1l3 0l2 6l3 -4l0 2l2 -1l2 -1l3 11l1 -9l1 -5l3 3l2 -8l2 7l0 -6l3 4l2 1l3 2l0 -2l2 -1l2 -5l3 6l1 -3l1 8l3 -9l2 -6l2 2l0 4l3 6l2 0l3 0l0 -2l2 -10l2 5l3 5l1 -2l1 0l3 -4l2 4l2 -5l0 2l3 2l2 -5l3 4l2 6l2 -6l3 2l1 9l1 -5l3 1l2 2l2 -5l0 -4l3 2l2 9l3 -3l0 -6l2 1l2 5l3 -7l1 0l1 5l7 -6l8 0l8 7l8 -11l8 5l8 2l8 5l8 2l8 -14l8 8l8 6l8 -7l8 -1l8 5l8 -5l8 1l8 -5l8 11l8 -7l8 1l8 -2l8 3l8 1l8 3l8 -2l8 1l8 -7l8 0l8 12l8 -8l8 14l8 -19l8 2l8 10l8 -13l8 8l8 -2l8 6l8 -3l8 -6l8 4l8 -4l8 -1l8 3l8 4l8 -13l8 9l8 1l8 -5l8 4l8 0l8 1l8 1l8 1l8 -5l8 1l8 -1l8 -3l8 10l8 3l8 -10l8 1l8 13l8 -12l8 -6l8 8l8 -3l8 6l8 -7l8 0l8 5l8 -6l8 3l8 -10l8 10l8 -6l8 12l8 -6l8 4l8 0l8 -9l8 6l8 -5l8 -1l8 -7l8 13l8 -4l8 1l8 1l8 1l8 8l8 -16l8 1l8 9l8 -1l8 0l8 -6l8 8l8 -1l8 -7l8 7l8 2l8 -5l8 8l8 -11l8 4l8 4l8 3l8 -10l8 8l8 1l8 0l8 -1l8 -5l8 3l8 6l8 -8l8 5l8 -13l8 2l8 3l8 2l8 3l8 2l8 -6l8 2l8 -1l8 -4l8 1l8 5l8 2l8 -4l8 1l8 -2l8 -2l8 10l8 1l8 0l8 -7l8 5l8 -2l8 -3l8 3l8 1l8 -3l8 4l8 -2l8 -2l8 0l8 0l8 8l8 -12l8 14l8 -12l8 -6l8 5l8 -2l8 0l8 6l8 -13l8 16l8 0l8 -6l8 1l8 -1l8 5l8 -8l8 -3l8 6l8 -6l8 13l8 -9l8 10l8 -3l8 -1l8 -10l8 0l8 1l8 17l8 -15l8 4l8 6l8 -9l8 10l8 -7l8 6l8 -7l8 2l8 4l8 -6l8 1l8 3l8 -12l8 11l8 -4l8 0l8 3l8 -3l8 0l8 -6l8 0l8 15l8 -1l8 -8l8 6l8 -1l8 -3l8 2l8 3l8 -12l8 7l8 -5l8 6l8 2l8 -2l8 2l8 -3l8 -2l8 5l8 -3l8 0l8 -2l8 11l8 -4l8 -2l8 -1l8 1l8 -5l8 -12l8 5l8 11l8 3l8 -9l8 6l8 -3l8 4l8 -2l8 3l8 -1l8 3l8 -11l8 0l8 10l8 -6l8 9l8 -5l8 3l8 -10l8 -4l8 5l8 1l8 4l8 1l8 -3l8 0l8 2l8 -4l8 8l8 6l8 -12l8 12l8 -10l8 2l8 -1l8 -2l8 -22l8 24l8 10l8 -4l8 -5l8 0l8 -5l8 -3l8 -4l8 12l8 -5l8 2l8 -3l8 2l8 1l8 3l8 -1l8 -3l8 4l8 -11l8 12l8 -3l8 -7l8 6l8 -5l8 6l8 -4l8 2l8 0l8 -15l8 20l8 2l8 -3l8 -1l8 -6l8 13l8 -8l8 4l8 -12l8 7l8 -5l8 4l8 -6l8 10l8 -11l8 16l8 -16l8 15l8 -8l8 -3l8 7l8 -3l8 1l8 -2l8 2l8 -2l8 -11l8 11l8 -6l8 3l8 10l8 -13l8 4l8 -1l8 9l8 -5l8 -4l8 -6l8 7l8 11l8 -10l8 3l8 -13l8 13l8 -7l8 6l8 -7l8 4l8 12l8 -4l8 -9l8 -2l8 4l8 12l8 -17l8 12l8 -12l8 3l8 5l8 -8l8 5l8 -2l8 4l8 -9l8 3l8 4l8 -2l8 4l8 -8l8 5l8 3l8 0l8 1l8 2l8 -1l8 -1l8 1l8 -6l8 4l8 -7l8 12l8 2l8 -13l8 4l8 4l8 0l8 -2l8 -1l8 8l8 -14l8 10l8 -2l8 0l8 -3l8 7l8 -4l8 8l8 -11l8 -1l8 -2l8 11l8 -3l8 -7l8 4l8 1l8 3l8 -9l8 11l8 -7l8 -2l8 9l8 -6l8 -4l8 1l8 -1l8 3l8 -1l8 2l8 -7l8 13l8 -14l8 8l8 3l8 -8l8 13l8 -16l8 10l8 -10l8 -3l8 12l8 1l8 -3l8 1l8 -3l8 5l8 -6l8 6l8 1l8 -15l8 5l8 2l8 -4l8 2l8 5l8 11l8 -5l8 -4l8 8l8 -11l8 5l8 -3l8 -4l8 7l8 -8l8 13l8 -11l8 -1l8 11l8 -3l8 -5l8 -1l8 -4l8 3l8 9l8 -4l8 3l8 -10l8 11l8 -5l8 4l8 1l8 -9l8 -3l8 -1l8 -2l8 9l8 -4l8 13l8 -5l8 0l8 5l8 -6l8 -6l8 9l8 -2l8 -4l8 -7l8 0l8 6l8 1l8 6l8 -4l8 4l8 -3l8 -3l8 -11l8 19l8 -3l8 -14l8 8l8 1l8 -2l8 0l8 3l8 -10l8 7l8 -2l8 2l8 9l8 -13l8 5l8 3l8 3l8 -1l8 -8l8 7l8 -9l8 11l8 -15l8 16l8 -4l8 -3l8 1l8 0l8 -3l8 8l8 -5l8 -3l8 -1l8 2l8 7l8 -7l8 2l8 1l8 5l8 -2l8 -10l8 8l8 -3l8 -6l8 10l8 -13l8 16l8 -12l8 11l8 -6l8 0l8 -9l8 10l8 -2l8 8l8 -12l8 4l8 -2l8 8l8 -9l8 1l8 3l8 -7l8 7l8 1l8 8l8 -4l8 -7l8 5l8 -7l8 -3l8 -1l8 18l8 -11l8 -2l8 7l8 -2l8 -1l8 -5l8 3" stroke="rgb(226,32,44)" stroke-width="14" fill="none" stroke-linejoin="round"/>
<line x1="109.6" y1="441.2" x2="674.8" y2="441.2" stroke="rgb(226,32,44)" stroke-width="0.68"/>
<path transform="scale(.05)" d="M2192 8826l8 -3l8 14l8 -11l8 -1l8 1l8 -4l8 -1l8 5l8 -4l8 5l8 -4l8 -6l8 2l8 2l8 -5l8 8l8 -1l8 5l8 -7l8 2l8 3l8 1l8 -7l8 10l8 -8l8 7l8 -6l8 -1l8 -3l8 5l8 9l8 -11l8 8l8 -1l8 -6l8 5l8 1l8 -6l8 -1l8 6l8 -3l8 7l8 -6l8 -6l8 4l8 -4l8 7l8 0l8 -5l8 -1l8 6l8 -4l8 6l8 -9l8 3l8 -1l8 -2l8 14l8 -4l8 -8l8 5l8 -10l8 12l8 -1l8 -5l8 0l8 2l8 1l8 -3l8 -2l8 2l8 -1l8 5l8 -3l8 1l8 -7l8 5l8 0l8 -1l8 2l8 -1l8 -5l8 10l8 0l8 -6l8 4l8 -5l8 -2l8 4l8 7l8 -6l8 -6l8 7l8 -3l8 -1l8 4l8 -8l8 0l8 2l6 9l2 -4l0 -2l3 -1l2 6l3 2l0 -8l2 4l2 8l3 -7l1 -3l1 2l3 -1l2 2l2 -1l0 -3l3 1l2 2l3 -4l0 3l2 -4l2 8l3 2l1 -10l1 7l3 -3l2 0l2 -2l0 2l0 3l2 -9l1 9l1 -6l1 -3l2 3l1 1l0 -3l1 0l1 -4l2 -4l0 4l2 -12l1 4l1 -7l0 -4l1 -2l0 -2l1 -2l1 -8l0 -3l0 -21l1 -8l0 -14l1 -41l0 -6l1 -18l0 -5l1 12l0 6l1 3l0 9l0 11l0 6l1 18l1 17l0 -4l1 10l0 13l0 -2l1 8l1 5l0 1l1 -5l1 4l1 -3l0 9l1 -1l1 -4l2 13l0 -3l2 -1l1 4l1 2l0 3l1 2l2 0l1 5l0 -11l1 9l0 4l1 1l1 -3l1 -10l0 -4l0 2l0 6l1 -18l1 -13l0 -5l1 -3l1 -8l0 3l0 -1l0 -9l1 11l1 8l1 1l0 -2l1 8l0 3l0 17l1 3l0 -7l1 14l1 -3l1 6l0 -1l0 6l1 5l1 7l0 -5l1 -2l1 2l0 -1l0 2l0 -5l1 5l1 0l1 2l1 -6l1 4l1 -1l2 -4l0 -5l0 6l3 4l2 -4l3 8l0 -6l2 -5l2 1l3 2l1 -1l1 -3l3 2l2 9l2 -8l0 -3l3 -3l2 -6l3 6l0 -2l0 1l1 -2l1 4l0 1l2 -8l0 -3l0 5l1 4l0 -4l1 -3l0 -7l1 2l1 1l0 -2l0 -1l1 -4l0 1l0 -3l1 -11l1 -4l1 -2l0 -5l0 -2l1 -8l1 -9l0 -6l1 -6l0 -9l1 -22l0 5l0 1l0 -7l2 -17l0 -10l1 -6l0 -14l0 2l0 -4l0 -4l1 -21l0 -55l0 -12l0 -28l1 -117l0 -35l0 -19l1 -67l0 -24l0 5l0 -17l0 12l1 15l0 27l0 23l0 26l0 14l1 15l0 8l0 21l0 13l0 2l1 -1l0 -7l1 -5l0 -6l0 7l0 -3l1 6l0 -1l1 12l0 7l0 9l0 1l0 5l1 9l0 5l0 9l1 28l0 10l1 14l0 1l1 21l0 -3l0 14l0 9l1 9l0 9l0 5l0 -3l1 13l0 8l1 -5l1 14l0 1l0 2l0 3l1 13l1 12l0 -6l0 4l1 -1l1 15l0 1l0 2l1 0l1 7l1 -2l0 2l0 2l1 12l0 -10l1 1l1 4l0 4l1 -2l0 -1l1 -5l0 1l0 5l0 -5l1 -4l1 -3l0 6l0 -6l1 -14l0 -10l0 -18l0 -1l1 -60l0 -24l0 -11l1 -13l0 -29l1 -57l0 7l0 -5l1 3l0 13l0 19l0 1l1 9l0 24l0 12l1 35l0 8l0 10l0 5l1 40l0 8l0 10l1 3l0 29l1 -3l0 7l0 4l1 17l0 -5l0 -2l1 5l0 4l0 4l2 1l0 4l0 -3l0 1l1 9l0 -5l1 3l1 9l0 -4l1 9l0 1l1 5l0 -1l1 6l1 -3l0 8l1 -1l0 3l0 -2l0 6l2 4l0 -2l1 6l1 7l0 -2l2 14l1 -3l0 -3l1 6l0 -1l0 -1l1 2l1 -3l1 12l1 3l0 -4l1 -2l1 -2l0 2l1 5l1 -1l0 2l0 -2l1 2l1 1l1 0l1 0l0 -4l1 0l0 -3l1 1l0 1l2 0l0 -7l0 1l0 1l1 -4l0 2l1 -1l0 -3l1 4l0 -8l0 -7l1 -25l0 8l0 -9l1 -18l0 -12l1 -2l0 -5l0 2l1 0l0 2l0 11l1 2l0 -2l0 7l0 6l1 8l0 7l1 6l0 9l1 4l0 3l1 7l0 4l1 -6l1 -2l0 8l1 -1l1 -5l0 -7l1 15l2 2l1 -2l1 3l1 4l2 -3l0 10l0 -9l2 7l1 1l1 0l1 0l2 8l1 -8l0 6l1 7l1 -8l2 -1l0 4l2 -8l0 8l1 -1l1 2l0 5l1 -2l1 -3l1 8l1 -8l1 9l0 -8l1 -2l1 1l1 6l0 -5l0 -1l2 -8l0 5l1 -2l1 -4l0 -3l1 -5l1 7l1 -10l0 5l1 -3l0 -2l0 -2l1 -4l0 -5l0 -8l0 -3l1 -27l1 -36l0 -13l1 -5l0 -7l0 7l1 2l0 8l1 2l0 3l0 11l1 17l1 27l0 -9l0 15l0 -3l1 -4l0 22l1 -2l0 3l1 4l0 -9l1 6l1 4l0 5l2 -2l1 3l0 -7l2 11l0 -5l2 6l0 3l2 6l1 -4l1 6l1 -1l0 4l2 -1l1 8l2 -6l2 11l0 -7l0 5l2 2l1 -8l2 7l2 2l1 -4l0 6l2 1l0 -5l2 5l0 1l2 -7l1 6l1 4l1 0l0 -7l2 2l1 3l2 2l0 1l2 -2l0 3l3 -5l2 9l3 -7l0 -3l2 2l2 -4l3 4l1 2l1 3l3 2l2 -7l2 1l0 5l3 2l2 -1l3 -2l0 -5l2 3l2 -4l3 4l1 7l1 1l3 -6l2 3l2 3l0 -9l3 -1l2 3l3 -5l0 10l2 -3l2 0l3 1l1 2l1 -2l3 -4l2 7l2 -4l0 3l3 -4l2 3l3 -6l0 6l2 -1l2 5l3 -7l1 0l1 6l3 -10l2 10l2 -3l0 -1l3 2l2 -1l3 -3l0 6l2 -5l2 3l3 -1l1 -2l1 1l3 3l2 -2l2 6l0 -2l3 -4l2 5l3 -12l0 14l2 -10l2 0l3 8l1 -9l1 3l3 4l2 -9l2 7l0 4l3 -6l2 8l3 -9l0 9l2 -4l2 -1l3 -1l1 -3l1 7l3 -8l2 5l2 2l0 -1l3 1l2 -5l3 -2l0 5l2 -1l2 5l3 -11l1 7l1 1l3 -3l2 -4l2 6l0 3l3 -6l2 -1l3 0l8 0l8 -3l8 18l8 -12l8 5l8 0l8 -6l8 4l8 4l8 -1l8 -2l8 -6l8 1l8 2l8 5l8 -8l8 5l8 2l8 -1l8 -3l8 -2l8 4l8 -3l8 2l8 -3l8 0l8 0l8 -2l8 7l8 -8l8 6l8 -3l8 4l8 -8l8 6l8 0l8 5l8 -1l8 -3l8 -1l8 0l8 4l8 1l8 -3l8 2l8 -9l8 8l8 4l8 -7l8 -2l8 7l8 -12l8 11l8 -8l8 6l8 -6l8 9l8 -5l8 -2l8 2l8 5l8 1l8 -5l8 -2l8 7l8 -5l8 -3l8 9l8 -13l8 7l8 5l8 -4l8 -1l8 3l8 -7l8 3l8 0l8 4l8 -2l8 -1l8 4l8 0l8 -9l8 14l8 -8l8 -3l8 8l8 -15l8 4l8 5l8 -3l8 -2l2 3l2 7l3 -5l1 2l1 0l3 -3l2 1l2 -3l0 3l3 2l2 -3l3 0l0 2l2 -1l2 0l3 -7l1 8l1 -8l3 8l2 -2l2 -2l0 -2l3 7l2 -5l3 0l0 -5l2 12l2 -7l3 -1l1 7l1 -3l3 -10l0 8l2 5l0 -6l2 -2l0 5l3 -7l0 1l2 -2l3 -5l0 1l0 5l2 -12l0 8l2 -8l0 1l1 -2l1 -8l1 -8l0 8l0 -6l0 -7l1 -14l0 -13l1 -22l0 -4l0 -6l1 -10l0 2l1 2l0 12l1 1l0 3l0 6l1 14l1 12l0 1l0 8l1 7l0 1l1 -6l0 6l0 1l0 9l1 0l1 -4l1 5l0 -2l2 1l3 0l0 3l2 -1l0 5l2 1l0 -2l3 7l0 -4l1 3l1 -1l0 5l3 0l0 -1l2 2l0 2l2 -2l0 -5l0 13l3 -5l0 2l2 -5l0 -3l3 2l0 6l0 -4l2 1l0 -1l2 -4l0 11l3 -9l1 -1l1 5l0 3l3 -4l2 -3l2 5l0 -4l3 0l2 -5l3 7l0 -2l2 -5l2 -1l2 3l1 -6l0 4l1 -3l0 -1l1 7l1 -8l1 -4l1 11l0 -8l2 4l0 -4l1 -6l1 -4l0 4l1 0l1 -7l1 -2l1 -5l1 -4l0 -1l1 -7l1 -10l1 0l0 -1l0 -7l1 -4l0 -16l0 -9l1 -23l0 -14l0 -14l1 -28l1 -44l0 6l0 -7l0 8l1 4l0 15l0 1l1 11l0 11l1 13l0 10l0 7l1 21l0 10l0 -4l1 11l0 8l0 -1l1 9l0 5l1 0l0 1l1 -1l0 9l2 -1l0 1l1 2l1 0l0 6l0 2l2 -7l1 12l0 -5l2 5l0 -2l1 5l2 5l0 -1l0 11l1 -8l1 1l0 1l0 3l1 3l1 1l0 -2l0 1l1 -8l1 9l0 -3l1 5l0 -3l1 4l0 -3l0 3l1 -10l0 11l1 -9l1 9l0 -12l1 4l0 -5l1 1l1 0l0 -9l0 3l1 -3l1 -10l0 3l0 -8l0 4l1 -10l1 8l0 -17l1 -11l0 7l0 -5l1 -12l0 4l0 -7l0 -8l1 -6l0 -23l0 -2l0 -9l1 -46l0 -25l0 -39l1 -50l0 -29l1 -21l0 -8l0 -12l1 14l0 -7l0 27l0 2l1 42l0 9l0 -3l1 30l0 26l1 28l0 9l0 28l0 6l1 5l0 10l0 10l1 6l0 9l0 5l1 -4l0 6l0 4l1 -3l0 8l0 -4l1 9l1 3l1 4l1 -1l0 2l2 6l0 4l1 5l1 0l0 6l1 -3l1 15l1 2l1 0l1 10l0 -3l1 8l0 -3l2 0l0 -2l0 14l0 -11l1 8l1 6l0 -3l1 -2l1 5l0 2l1 1l0 2l2 -5l0 8l1 -3l0 1l1 -2l1 -6l0 1l1 -2l1 -3l1 -6l1 3l0 2l1 -10l0 6l0 -14l0 -6l1 -20l0 -1l0 -12l0 -7l1 -20l0 -7l1 -20l0 3l0 -1l1 9l0 -5l0 14l0 -3l1 1l0 15l0 -6l1 15l0 19l0 1l1 12l0 5l1 6l0 9l1 2l0 1l0 4l0 -5l0 3l1 9l0 -7l1 5l0 -2l1 9l1 -2l1 -7l2 13l1 -7l0 -1l1 7l1 6l2 -5l0 10l2 -3l1 9l1 1l0 -5l1 -4l2 10l1 -6l1 12l1 -3l2 8l0 -6l0 -1l2 6l1 -5l1 5l1 0l2 -1l1 -2l0 7l1 5l1 -7l2 -2l0 3l0 -3l2 -3l0 11l1 -3l1 -2l0 8l0 -7l1 0l2 3l0 -5l1 3l1 -1l0 1l3 -4l0 4l0 -3l2 -4l0 1l2 -11l0 -1l1 0l1 2l1 -13l0 4l0 -5l0 -8l1 -17l0 -8l1 -15l0 -10l0 -2l1 -10l0 -11l1 16l0 10l1 -4l0 3l0 8l0 3l1 16l1 12l0 -1l0 4l1 1l0 10l1 8l0 1l0 -2l0 1l1 -3l1 6l1 -2l0 -3l2 11l0 -4l3 4l0 -5l0 5l2 4l0 1l2 3l3 5l0 2l1 1l1 -6l0 4l3 7l0 -1l2 -2l0 1l2 1l0 1l0 -7l3 1l0 5l2 -2l0 2l3 1l0 4l0 -1l2 6l0 -4l2 -1l0 1l3 0l0 -3l1 -1l1 10l0 -8l3 0l0 -1l2 2l2 -2l0 2l3 -3l2 1l3 13l0 -6l2 0l2 4l3 -3l1 0l1 -2l3 5l2 -6l2 2l0 -1l3 6l2 -4l3 1l0 5l2 0l2 -4l3 0l1 -2l1 1l3 3l2 -1l2 4l0 -4l3 -5l2 2l3 -5l0 9l2 -5l2 5l3 -3l1 2l1 -2l3 1l2 3l2 -3l3 0l2 0l3 -1l0 -1l2 3l2 2l3 -1l1 -3l1 -1l3 11l2 -3l2 -8l0 -1l3 0l2 9l3 -10l0 6l2 -4l2 4l3 -3l1 3l1 0l3 3l2 2l2 -3l0 -1l3 5l2 -11l3 12l0 -7l2 -1l2 6l3 -6l1 2l1 2l3 2l2 -8l2 6l0 -1l3 -2l2 6l3 3l0 -6l2 0l2 -5l3 2l1 -1l1 3l3 0l2 -4l2 2l0 -3l3 2l2 2l3 0l0 -1l2 1l2 -1l3 -2l1 6l1 -5l7 0l8 5l8 -3l8 1l8 5l8 -9l8 -1l8 11l8 -9l8 -1l8 10l8 -6l8 -2l8 -6l8 6l8 -2l8 5l8 -9l8 8l8 4l8 -5l8 -2l8 -7l8 7l8 0l8 -1l8 -2l8 9l8 1l8 -9l8 1l8 0l8 -1l8 5l8 1l8 1l8 -3l8 1l8 4l8 -3l8 -1l8 -7l8 5l8 0l8 1l8 4l8 -6l8 7l8 -8l8 9l8 -10l8 4l8 -7l8 3l8 -5l8 11l8 -3l8 -8l8 10l8 -3l8 -2l8 3l8 2l8 -1l8 0l8 2l8 1l8 -8l8 7l8 -7l8 2l8 -3l8 3l8 7l8 -3l8 5l8 -8l8 7l8 -13l8 10l8 2l8 -2l8 -4l8 0l8 2l8 7l8 -4l8 -4l8 -5l8 10l8 -7l8 6l6 -8l2 1l0 5l3 0l2 3l3 -4l0 -1l2 3l2 -3l3 -2l1 3l1 5l3 -4l2 0l2 2l0 -1l3 -6l2 3l3 2l0 5l2 -6l2 -4l3 4l1 0l1 -5l3 6l2 7l2 -12l0 5l3 2l2 -5l3 -6l0 8l2 -3l2 -1l3 4l1 -1l1 3l3 1l2 -8l2 6l0 -4l3 1l2 5l3 -7l0 -1l2 -3l2 11l3 -5l1 0l1 -4l3 7l2 -13l2 10l0 4l3 -2l2 -4l3 -1l0 -2l2 -1l2 1l3 -2l1 0l1 -2l3 2l2 1l2 3l0 -5l3 1l2 -3l3 3l0 -6l2 -2l2 -1l3 1l1 2l1 5l3 -4l2 -2l2 -6l0 3l3 -1l2 12l3 -6l0 -1l2 -10l2 3l3 -1l1 2l1 -6l3 6l2 -3l2 -7l0 5l3 5l2 -2l3 0l0 -9l0 9l2 -3l2 -6l3 8l0 -3l1 1l1 0l0 -7l3 -4l0 -3l2 5l0 -4l2 -7l0 -2l0 2l1 6l1 -14l1 -10l0 8l0 -4l0 -3l1 -26l1 -25l0 -13l0 2l1 -12l0 1l1 3l0 7l1 1l0 8l0 4l0 8l1 6l1 12l0 -1l0 4l1 10l0 12l1 -6l0 4l1 1l1 4l1 -2l0 1l1 1l1 4l0 -8l3 12l0 -7l2 12l0 -6l2 7l0 -4l0 4l2 2l1 -5l0 8l1 -2l1 -2l0 4l1 -7l2 4l0 7l0 -4l1 5l1 -3l0 2l1 -1l1 -2l0 -2l2 -5l1 2l0 5l1 -12l0 3l1 -6l1 -1l1 -11l1 9l0 -10l0 -6l1 -8l0 4l0 -11l1 -26l0 -7l0 2l1 -55l0 -1l1 -20l0 -2l0 -4l1 10l0 9l1 5l0 9l0 2l1 28l0 -3l0 3l1 20l0 5l1 14l0 8l0 1l0 2l1 2l0 6l1 4l1 -3l0 1l0 2l0 -4l1 6l1 1l1 6l1 9l2 -7l1 0l1 8l0 -1l1 1l1 3l2 3l1 6l1 0l1 3l1 4l0 3l2 -1l1 4l1 4l1 -6l1 7l2 0l0 -7l1 3l1 6l1 -11l1 5l2 10l1 -3l1 4l1 -8l1 0l2 11l1 -12l1 3l1 5l1 -5l0 3l2 3l1 0l2 -2l3 4l0 -1l2 1l2 0l3 -2l1 -2l1 5l3 -4l2 8l2 -9l0 4l3 6l2 -6l3 0l0 9l2 -5l2 1l3 -2l1 5l1 1l3 -7l2 -1l2 -5l0 9l3 2l2 5l3 -7l0 4l2 -4l0 -2l0 -2l1 2l1 4l0 -4l1 -9l1 3l0 -13l1 -11l0 -8l1 -6l1 -17l0 -6l1 1l0 -10l0 6l1 9l1 -5l0 6l1 11l1 7l0 2l0 1l1 11l1 8l0 8l1 -5l1 9l0 6l1 5l0 -2l1 2l1 2l0 -4l1 12l0 -13l1 6l1 -2l0 4l2 1l2 2l3 -5l1 -2l1 -1l3 6l2 2l2 6l0 -7l3 -3l2 6l3 -8l0 11l2 -5l2 0l3 -4l1 5l1 2l3 -1l2 -2l2 -1l0 -2l3 -3l2 11l3 -4l0 -3l2 4l2 -1l3 -2l1 -2l1 9l3 -5l2 -4l2 0l3 4l2 -2l3 6l0 -4l2 -3l2 4l3 -3l1 1l1 0l3 -3l2 3l2 3l3 0l2 2l3 1l0 1l2 -8l2 5l3 -1l1 -2l1 8l3 -9l2 3l2 6l0 -6l3 0l2 -3l3 8l0 -6l2 3l2 -2l3 3l1 -3l1 -4l3 -1l2 14l2 -11l0 6l3 5l2 -14l3 3l0 4l2 -5l2 1l3 -2l1 4l1 2l3 1l2 -5l2 2l3 1l2 -1l3 3l0 -10l2 8l2 1l3 1l1 -4l1 4l3 -1l2 0l2 -4l0 -3l3 12l2 -6l3 2l8 -8l8 6l8 -2l8 0l8 9l8 -13l8 5l8 1l8 7l8 -5l8 -3l8 0l8 -12l8 16l8 -2l8 4l8 -8l8 2l8 3l8 -1l8 -2l8 2l8 -1l8 -2l8 6l8 -10l8 3l8 -4l8 11l8 -6l8 5l8 0l8 -3l8 -1l8 1l8 1l8 -5l8 7l8 -7l8 3l8 2l8 -3l8 5l8 -6l8 6l8 -3l8 3l8 3l8 -9l8 -2l8 10l8 0l8 -2l8 -4l8 4l8 -8l8 5l8 -1l8 4l8 -8l8 9l8 3l8 -11l8 3l8 -8l8 16l8 -5l8 -3l8 2l8 1l8 5l8 -8l8 0l8 -2l8 10l8 2l8 -9l8 6l8 -11l8 8l8 -6l8 3l8 5l8 -1l8 -3l8 -1l8 2l8 -7l8 7l8 -4l8 2l8 3l8 -3l8 -6l8 3l8 1l8 -2l2 5l2 -2l3 -1l1 2l1 -3l3 3l2 2l2 -6l0 5l3 1l2 1l3 0l0 2l2 -11l2 6l3 -2l1 0l1 0l3 3l2 0l2 -1l0 -2l3 4l2 -5l3 -3l0 11l2 -4l2 2l3 -1l1 -7l1 4l3 2l2 0l2 -7l0 7l3 -3l2 -1l3 7l0 -10l2 13l2 -9l3 2l1 -4l1 2l3 -7l2 12l2 -8l0 -1l3 -1l2 -2l3 14l0 -6l2 0l2 -5l3 3l1 4l1 -8l3 1l2 -3l2 0l0 2l3 0l2 -4l3 3l0 4l2 -8l2 3l3 -4l1 5l1 5l3 -7l2 9l2 -13l0 2l3 -3l2 6l3 -6l0 2l2 -1l2 1l3 -3l1 1l1 0l3 0l2 -2l2 0l0 -5l3 6l2 1l3 -1l0 -4l2 5l2 -6l3 4l1 -3l1 -1l3 7l2 -11l1 -1l1 -1l0 4l1 -3l1 3l1 -2l0 -7l1 -3l1 -4l1 -11l1 -1l1 0l0 -9l0 6l2 -14l0 -6l1 -5l1 -6l0 6l0 -5l1 5l2 0l0 3l1 -1l0 6l1 -5l0 2l2 9l1 8l0 -7l1 16l1 -2l0 5l2 1l0 6l0 2l1 3l1 1l1 0l1 4l1 3l0 -4l1 2l1 5l1 -7l0 6l1 0l1 -2l0 -9l1 9l1 1l3 5l1 -9l1 8l3 6l2 -6l2 1l0 -2l2 -10l1 7l2 -5l0 4l2 -11l1 9l0 -9l2 -10l0 -2l2 -5l0 4l2 -4l1 -12l1 7l1 2l0 3l2 5l1 -3l2 9l0 9l2 -3l0 -1l2 9l1 -3l2 9l0 -4l2 4l1 2l0 -7l2 9l0 -3l2 -6l0 9l2 -9l1 10l1 -3l1 -3l3 3l2 -3l2 6l0 -3l3 1l2 4l3 -1l0 -1l2 2l2 -6l3 6l1 -8l1 4l3 0l2 5l2 -4l0 3l3 -1l2 -6l3 1l0 3l2 3l2 -3l3 5l1 2l1 1l3 -2l2 3l2 -8l0 4l3 1l2 0l3 4l0 -2l2 5l2 -3l3 -3l1 -1l1 -1l3 3l2 -2l2 7l0 -5l3 1l2 5l3 -2l0 1l2 -7l2 0l3 4l1 -5l1 6l3 -3l2 2l2 1l0 4l3 -7l2 5l3 3l0 -2l2 2l2 -5l3 3l1 -6l1 10l3 -5l2 5l2 -1l0 6l3 -12l2 1l3 0l0 2l2 -1l2 3l3 -7l1 3l1 9l3 0l2 -10l2 8l0 -8l3 0l2 5l3 -3l0 4l2 -3l2 2l3 -5l1 7l1 -3l3 9l2 -1l2 -12l0 -1l3 3l2 5l3 0l0 1l2 0l2 1l3 -3l1 3l1 -6l3 7l2 -1l2 -7l0 1l3 5l2 1l3 -6l0 6l2 -1l2 -5l3 2l1 -3l1 3l3 3l2 5l2 -9l0 2l3 -4l2 6l3 -4l0 7l2 -3l2 -2l3 2l1 -4l1 12l3 -9l2 -1l2 0l0 7l3 -8l2 -1l3 -4l0 4l2 11l2 -8l3 -1l1 3l1 -6l3 5l2 1l2 0l0 -3l3 -2l2 6l3 -1l0 -9l2 6l2 -2l3 -1l1 8l1 -7l7 -1l8 2l8 -3l8 8l8 -11l8 11l8 -10l8 2l8 9l8 1l8 -4l8 3l8 -5l8 2l8 1l8 -7l8 3l8 6l8 -3l8 -2l8 -1l8 9l8 0l8 -7l8 -1l8 4l8 -2l8 0l8 1l8 2l8 -4l8 0l8 1l8 5l8 -6l8 -3l8 5l8 -2l8 1l8 2l8 -12l8 10l8 0l8 6l8 -13l8 1l8 10l8 -12l8 3l8 0l8 1l8 3l8 -1l8 -1l8 4l8 7l8 -13l8 6l8 -4l8 0l8 2l8 6l8 -12l8 11l8 -8l8 2l8 -3l8 8l8 3l8 -3l8 -1l8 2l8 0l8 -4l8 1l8 3l8 -14l8 12l8 -2l8 8l8 -9l8 -4l8 5l8 -5l8 0l8 8l8 -3l8 -4l8 2l8 -1l8 7l8 -12l8 11l8 -5l8 0l8 -4l6 6l2 0l0 -7l3 -2l2 6l3 -3l0 7l2 -3l2 3l3 -3l1 2l1 -4l3 3l2 -4l2 8l0 -6l3 2l2 -2l3 4l0 -5l2 3l2 -3l3 4l1 -1l1 -1l3 0l2 0l2 1l3 3l2 -1l3 1l0 -5l2 4l2 -8l3 5l1 -2l1 2l3 -3l2 -2l2 6l0 2l3 0l2 -5l3 -2l0 7l2 -1l2 -2l3 -3l1 0l1 -2l3 1l2 2l2 -5l0 4l3 2l2 -7l3 -1l0 2l2 -4l2 9l3 -5l1 -5l1 12l3 -11l2 3l2 4l0 -5l3 -2l2 -1l3 3l0 -3l2 -4l2 1l3 -1l1 4l1 -5l3 -1l2 1l2 4l0 -7l3 3l2 -4l3 9l0 -13l2 -4l2 12l3 2l1 -8l1 0l3 -5l2 5l2 -3l0 2l3 -1l2 7l3 -5l0 -1l2 -4l2 -3l1 7l2 -6l0 -1l1 12l1 -10l1 7l2 -4l0 -1l2 -8l1 4l1 3l0 -6l1 3l2 -11l0 3l2 -16l1 13l2 -12l0 -1l0 2l2 -3l1 2l1 -8l1 8l2 4l0 -3l1 1l1 1l1 4l2 -1l0 7l2 2l1 2l1 -3l0 -5l1 8l2 -3l0 2l2 2l1 2l2 -1l0 5l0 1l2 1l1 1l1 2l1 -9l2 7l0 -6l1 8l1 -3l1 -2l2 9l0 -5l2 0l2 9l0 -12l3 4l2 3l3 -3l0 -3l2 1l2 1l3 -1l1 -7l1 10l3 6l2 -5l2 -1l0 -4l3 2l2 1l3 -2l0 -6l2 9l2 2l3 3l1 -3l1 -7l3 -2l2 15l2 -9l3 1l2 3l3 0l0 3l2 -4l2 9l3 3l1 -7l1 -2l3 1l2 1l2 2l0 -4l3 -2l2 7l3 -1l0 -1l2 -1l2 1l3 -1l1 10l1 -9l3 -2l2 5l2 4l0 -7l3 4l2 -6l3 8l2 1l2 -6l3 5l1 2l1 -4l3 5l2 -2l2 -2l0 4l3 0l2 2l3 -4l0 3l2 1l2 4l3 -8l1 10l1 -8l3 2l2 3l2 3l0 -14l3 5l2 0l3 5l0 -5l2 6l2 -2l3 -9l1 8l1 -5l3 5l2 5l2 5l0 -8l3 5l2 -8l3 2l0 4l2 -5l2 1l3 0l1 2l1 3l3 -10l2 5l2 -5l0 11l3 -5l2 7l3 -4l0 -4l2 4l2 -1l3 5l1 -3l1 -4l3 -1l2 2l2 4l0 -6l3 5l2 -2l3 4l0 -4l2 2l2 -5l3 2l1 9l1 -9l3 1l2 -2l2 0l0 8l3 -5l2 -4l3 1l0 7l2 -3l2 4l3 -6l1 1l1 3l3 -4l2 5l2 -4l0 5l3 -4l2 1l3 2l0 -2l2 0l2 1l3 -1l1 2l1 -3l3 -1l2 -1l2 9l0 1l3 -6l2 0l3 0l0 4l2 -9l2 3l3 4l1 -7l1 7l3 2l2 -5l2 -8l0 10l3 -1l2 -1l3 1l8 -7l8 1l8 7l8 0l8 -2l8 4l8 3l8 -2l8 -11l8 -4l8 0l8 8l8 4l8 2l8 -10l8 6l8 -6l8 5l8 -1l8 0l8 4l8 -1l8 -4l8 -2l8 0l8 1l8 4l8 -3l8 5l8 -5l8 2l8 1l8 -3l8 1l8 2l8 -3l8 7l8 -10l8 1l8 2l8 -1l8 9l8 -7l8 0l8 -7l8 9l8 -5l8 8l8 -4l8 -2l8 3l8 1l8 2l8 -4l8 -4l8 4l8 -3l8 15l8 -11l8 1l8 2l8 -6l8 4l8 2l8 -1l8 -6l8 3l8 -5l8 -1l8 4l8 7l8 -5l8 -2l8 1l8 -5l8 6l8 -1l8 5l8 -6l8 -2l8 5l8 0l8 -3l8 3l8 0l8 -1l8 0l8 -2l8 0l8 0l8 0l8 2l8 3l8 1l8 -2l8 0l8 2l8 -3l8 1l8 -7l8 2l8 2l8 0l8 -5l8 7l8 -4l8 -3l8 5l8 -7l8 9l8 3l8 -5l8 1l8 2l8 -1l8 -3l8 8l8 -5l8 4l8 -12l8 8l8 1l8 -1l8 1l8 0l8 -3l8 4l8 -4l8 2l8 1l8 -1l8 0l8 -6l8 1l8 -1l8 4l8 -1l8 -2l8 4l8 2l8 -8l8 6l8 -4l8 1l8 3l8 -1l8 1l8 -3l8 2l8 8l8 -12l8 9l8 -1l8 -5l8 7l8 3l8 -12l8 4l8 3l8 -9l8 4l8 6l8 -2l8 -8l8 4l8 5l8 -7l8 1l8 0l8 3l8 -4l8 0l8 8l8 -1l8 -11l8 4l8 1l8 10l8 -3l8 2l8 -4l8 3l8 -4l8 -6l8 9l8 0l8 -3l8 -4l8 1l8 -2l8 10l8 -2l8 -8l8 2l8 -2l8 1l8 -3l8 7l8 -1l8 4l8 -6l8 1l8 3l8 -1l8 3l8 -2l8 -1l8 6l8 -9l8 4l8 -4l8 0l8 9l8 -6l8 -4l8 4l8 -3l8 7l8 -5l8 -4l8 9l8 -8l8 -2l8 5l8 -1l8 8l8 -15l8 15l8 -2l8 3l8 -10l8 5l8 -8l8 10l8 1l8 -12l8 7l8 -3l8 9l8 -3l8 -4l8 4l8 -8l8 -3l8 5l8 3l8 -4l8 -1l8 0l8 4l8 -2l8 -6l8 12l8 1l8 -4l8 -4l8 1l8 3l8 2l8 -14l8 12l8 -1l8 -1l8 -3l8 2l8 11l8 -12l8 7l8 -10l8 5l8 -6l8 13l8 -10l8 3l8 6l8 -1l8 -3l8 -7l8 7l8 -2l8 3l8 -2l8 8l8 -8l8 -5l8 9l8 0l8 -7l8 8l8 -2l8 -9l8 5l8 1l8 2l8 -4l8 1l8 0l8 0l8 -1l8 3l8 3l8 -10l8 7l8 2l8 -4l8 1l8 8l8 -5l8 -3l8 -1l8 5l8 -10l8 4l8 -4l8 7l8 -5l8 3l8 -7l8 6l8 2l8 0l8 -3l8 9l8 -8l8 0l8 -2l8 -2l8 9l8 -5l8 4l8 -3l8 10l8 -8l8 -7l8 3l8 2l8 2l8 1l8 0l8 0l8 -5l8 6l8 -2l8 1l8 -4l8 5l8 -6l8 5l8 -3l8 -6l8 9l8 0l8 -2l8 6l8 0l8 -5l8 -3l8 2l8 -4l8 0l8 2l8 6l8 -6l8 3l8 1l8 -3l8 2l8 1l8 -2l8 1l8 4l8 -2l8 0l8 -2l8 -2l8 6l8 -2l8 0l8 -4l8 -4l8 4l8 3l8 -1l8 1l8 -6l8 6l8 -6l8 5l8 2l8 -2l8 -1l8 -8l8 14l8 -9l8 0l8 7l8 -4l8 -1l8 6l8 -2l8 -4l8 -5l8 9l8 -9l8 4l8 0l8 2l8 -1l8 -4l8 4l8 -2l8 3l8 2l8 -4l8 2l8 -5l8 10l8 -4l8 -1l8 -1l8 -3l8 6l8 -6l8 -3l8 3l8 4l8 1l8 -5l8 9l8 -1l8 -1l8 -10l8 7l8 0l8 3l8 -3l8 4l8 -4l8 -6l8 12l8 -6l8 -3l8 -1l8 6l8 2l8 -1l8 3l8 -7l8 -3l8 4l8 -7l8 13l8 -1l8 1l8 -12l8 8l8 -1l8 -1l8 0l8 -2l8 4l8 -5l8 1l8 -3l8 3l8 3l8 4l8 -7l8 3l8 -5l8 -1l8 6l8 3l8 -7l8 4l8 1l8 -1l8 1l8 -3l8 7l8 -4l8 -6l8 4l8 -1l8 2l8 -1l8 2l8 -2l8 0l8 3l8 -1l8 6l8 -10l8 -1l8 6l8 -1l8 1l8 3l8 -3l8 -3l8 -4l8 2l8 3l8 1l8 -4l8 3l8 2l8 0l8 -10l8 5l8 0l8 5l8 -11l8 3l8 7l8 -6l8 4l8 0l8 -3l8 2l8 -2l8 0l8 4l8 0l8 -2l8 4l8 2l8 -3l8 3l8 -10l8 6l8 -1l8 0l8 8l8 -10l8 6l8 -1l8 -11l8 10l8 -6l8 8l8 -7l8 3l8 -3l8 1l8 -1l8 -4l8 7l8 -1l8 1l8 0l8 0l8 -1l8 0l8 -4l8 5l8 7l8 -1l8 -7l8 7l8 -7l8 -6l8 3l8 2l8 0l8 0l8 3l8 -1l8 -2l8 6l8 -4l8 -3l8 -2l8 6l8 -4l8 7l8 1l8 -4l8 4l8 -3l8 0l8 -8l8 11l8 -9" stroke="rgb(226,32,44)" stroke-width="11" fill="none" stroke-linejoin="round"/>
<line x1="109.6" y1="465.9" x2="674.8" y2="465.9" stroke="rgb(226,32,44)" stroke-width="0.68"/>
<path transform="scale(.05)" d="M2192 9315l8 2l8 3l8 -4l8 -1l8 3l8 -8l8 13l8 -2l8 -1l8 -1l8 2l8 0l8 -3l8 -3l8 1l8 2l8 -4l8 6l8 1l8 -8l8 8l8 -5l8 1l8 0l8 -2l8 0l8 3l8 -5l8 8l8 -9l8 5l8 1l8 -5l8 3l8 -1l8 -2l8 1l8 11l8 -2l8 -6l8 2l8 1l8 1l8 0l8 -1l8 -7l8 8l8 -11l8 10l8 -4l8 -1l8 7l8 -8l8 10l8 -7l8 3l8 -3l8 -1l8 11l8 -1l8 -7l8 1l8 -3l8 6l8 2l8 0l8 -9l8 1l8 -5l8 6l8 0l8 -5l8 0l8 9l8 -5l8 3l8 -2l8 -2l8 3l8 1l8 -2l8 -2l8 2l8 2l8 -1l8 5l8 -5l8 1l8 -4l8 -3l8 0l8 5l8 3l8 1l8 -8l8 -1l8 1l8 1l8 2l8 -1l8 -4l8 9l8 -2l8 -3l8 9l8 -8l8 6l8 -8l8 4l8 -9l8 8l6 -2l2 -1l0 5l2 0l3 -8l2 4l1 2l2 -5l2 3l2 -15l1 -1l1 1l0 -1l1 4l0 -7l0 -6l1 -23l1 -22l0 4l1 -15l0 2l1 -1l0 9l1 -3l0 7l0 5l1 9l1 15l0 3l1 -3l0 7l1 8l1 0l1 1l1 -4l2 12l1 -4l2 4l2 -2l2 3l2 2l1 5l2 -2l3 9l2 -4l0 -6l2 9l3 -1l2 1l1 11l2 -8l2 -8l2 7l1 1l1 -3l1 9l0 -7l2 -4l1 1l2 -2l0 4l2 2l1 1l2 -8l2 8l3 -8l0 2l2 7l3 -9l2 11l1 -2l1 0l3 -9l2 11l2 -7l1 -2l2 4l2 -3l3 5l0 -8l2 1l3 -3l2 2l1 3l1 -10l3 3l2 6l2 -5l1 -2l2 4l2 -9l3 2l0 -1l2 -5l1 -6l1 6l1 2l1 -9l1 4l0 5l1 -9l1 3l0 -1l1 -7l1 6l1 -6l1 2l1 -2l0 -4l1 -7l1 1l0 -2l1 0l0 4l1 -5l0 -3l1 -4l0 -5l1 -1l0 -6l1 -14l0 5l1 -2l1 -10l0 -5l1 -5l0 -3l1 -11l0 -7l1 3l0 -13l1 -12l1 -13l0 -5l1 -14l0 -3l1 -11l0 1l0 -9l0 -6l1 -16l0 -3l1 -17l0 -1l0 -6l0 -11l1 -31l0 -15l0 -26l1 -32l0 -4l0 -63l1 -55l0 -5l1 -22l0 -1l0 4l0 -3l1 -1l0 5l0 14l1 11l0 14l0 5l0 16l1 8l0 32l0 -2l1 30l0 8l1 25l0 -5l0 6l1 28l0 4l0 19l0 -2l1 10l0 4l0 -1l1 8l0 4l0 7l1 -2l0 4l0 8l1 0l0 6l0 7l1 -2l1 5l0 -1l0 7l1 4l1 5l0 8l1 -4l0 8l1 4l1 6l0 3l0 6l1 2l1 11l0 5l1 2l0 3l0 -10l1 11l0 14l1 -3l0 5l1 13l1 -5l0 8l0 5l1 8l1 4l0 -1l0 2l1 3l1 1l0 8l1 8l0 -1l1 8l1 1l0 7l1 -6l1 18l0 -2l1 2l0 -3l1 -1l1 0l0 9l0 8l0 -6l1 0l1 6l0 6l0 -6l1 9l1 -4l0 2l1 9l0 -17l1 3l1 12l0 -2l0 1l1 0l1 0l0 6l1 -8l1 7l1 -2l0 5l0 -3l1 5l1 -5l0 -3l0 4l1 3l1 5l0 -3l1 -2l1 -2l1 4l0 2l2 -1l0 8l1 4l1 -9l1 -3l0 6l1 -3l1 4l2 3l1 -7l0 4l2 3l1 -1l1 0l3 2l2 0l2 3l1 -2l2 9l2 -4l3 -3l0 -2l2 5l3 6l2 0l1 2l1 -5l3 -7l2 17l2 -10l1 1l2 0l2 0l3 3l0 -8l2 10l3 -1l2 -6l1 4l1 2l3 -2l2 -1l2 2l1 1l2 1l2 -3l3 4l0 2l2 -1l3 0l2 1l1 -6l1 7l3 -3l2 -3l2 -5l1 2l2 -4l2 10l3 -5l0 6l2 -10l3 11l2 -4l1 6l1 -6l3 2l2 -6l2 8l1 2l2 0l2 -3l3 -1l8 1l8 -5l8 3l8 6l8 -3l8 2l8 -5l8 -1l8 6l8 -7l8 6l8 -3l8 -6l8 6l8 9l8 -5l8 -4l8 -3l8 4l8 4l8 -4l8 -2l8 -3l8 3l8 6l8 -1l8 -3l8 -1l8 2l8 0l8 -9l8 4l8 8l8 -1l8 2l8 -13l8 4l8 7l8 -5l8 -6l8 4l8 -2l8 2l8 1l8 5l8 -6l8 5l8 1l8 -2l8 4l8 -2l8 2l8 -5l8 2l8 0l8 -5l8 0l8 5l8 -4l8 6l8 -2l8 -3l8 0l8 2l8 2l8 -6l8 1l8 4l8 3l8 -9l8 0l8 4l8 -3l8 1l8 4l8 -2l8 -1l8 -1l8 2l8 0l8 4l8 -9l8 2l8 1l8 0l8 2l8 -1l8 4l8 5l8 -6l8 -2l8 4l8 -4l8 -6l8 1l8 7l8 3l8 -3l8 -1l8 0l8 2l8 -5l8 -1l8 8l8 -1l8 -5l8 -3l8 4l8 5l8 -8l8 7l8 -3l8 1l8 -1l8 -2l8 1l8 3l8 2l8 -6l8 0l8 5l8 -7l8 4l8 -3l8 2l8 -2l6 -1l2 1l0 3l3 1l2 -6l3 -1l0 5l2 -2l2 5l3 -2l1 -3l1 -3l3 3l2 0l2 -1l0 1l3 -5l2 14l3 -5l0 -1l2 -4l2 4l3 3l1 -2l1 -5l3 0l2 1l2 5l0 -2l3 -5l2 0l3 -2l0 7l2 -8l2 7l3 -6l1 -1l1 11l3 -7l2 0l1 -6l1 -6l0 6l2 -1l1 2l0 -1l2 -6l0 5l1 1l1 -1l1 -7l0 5l1 3l1 -2l0 -2l2 -7l0 8l1 -3l1 -10l1 3l1 5l0 3l1 -10l2 1l1 3l0 -7l1 6l1 -6l1 -3l1 0l0 -4l0 5l2 -7l1 -7l0 2l1 -3l1 -9l1 6l1 -11l1 8l0 1l1 -8l1 -3l1 3l1 -14l1 2l1 -4l0 -9l1 1l1 0l0 -4l0 -1l1 -8l0 -2l1 -2l1 -6l1 -6l0 -3l0 -7l1 -16l0 6l1 -10l1 -4l0 -6l1 -17l0 -8l0 3l1 -25l1 -6l1 -22l1 -30l0 -4l1 -17l1 -10l0 1l1 -34l0 2l1 -4l0 -3l0 -5l1 -9l1 2l0 -8l1 8l0 -4l1 4l1 -5l0 7l1 4l0 8l1 7l0 8l1 -1l0 2l1 9l0 8l0 5l1 -4l0 2l0 12l2 13l0 5l1 18l0 -1l1 11l0 -2l1 6l1 7l0 12l0 3l1 9l0 -7l2 17l0 5l1 6l0 7l1 -3l0 7l1 -3l1 4l0 5l1 9l0 -8l0 6l0 -2l2 7l0 3l0 -1l1 6l0 -4l1 9l1 -1l1 3l0 -1l1 0l0 12l1 -12l1 14l0 -1l0 8l1 -6l1 4l1 -3l1 16l1 -2l0 -5l2 8l0 2l1 4l1 3l1 2l1 -6l1 8l2 4l1 4l0 3l1 -4l1 11l1 -2l1 -1l0 4l2 1l1 2l0 1l1 3l0 3l1 1l1 -1l1 4l1 0l1 3l1 9l1 0l1 -2l0 3l1 -3l1 8l1 -1l1 -2l1 -1l1 3l2 3l0 -7l0 6l1 0l1 4l1 1l1 0l0 -3l1 10l2 -5l1 3l0 2l1 -2l1 -5l1 5l1 -3l0 8l2 2l0 -3l1 -1l1 2l0 1l1 -2l1 -4l1 4l0 3l2 5l0 -3l1 1l2 -2l0 10l1 -3l1 -3l0 3l2 -10l0 9l1 -1l2 -4l0 2l1 0l1 1l2 0l1 -6l0 5l2 3l0 -3l1 2l1 4l0 -5l3 3l2 -1l3 4l0 -3l2 6l0 -8l2 4l0 -7l2 -1l1 -2l1 -13l1 -8l0 -1l1 4l1 3l1 -6l2 15l0 6l2 3l0 6l2 -7l1 9l2 -3l0 5l2 -8l1 6l0 -5l2 2l2 11l3 -6l1 -3l1 0l3 7l2 -1l2 -1l0 -3l3 -3l2 0l3 1l0 -1l2 2l2 6l3 -8l1 1l1 4l3 -1l2 2l2 2l0 -6l3 5l2 2l3 -3l0 -3l2 -2l2 8l3 4l1 -6l1 1l3 -3l2 -1l2 1l0 -8l3 11l2 0l3 -7l0 -2l2 3l6 -2l8 2l8 2l8 2l8 -2l8 -2l8 2l8 2l8 -2l8 -4l8 9l8 -4l8 1l8 4l8 -7l8 2l8 0l8 2l8 -4l8 3l8 -5l8 10l8 -2l8 1l8 -3l8 3l8 -10l8 2l8 -1l8 1l8 -2l8 14l8 -11l8 1l8 7l8 -5l8 -1l8 0l8 -5l8 1l8 1l8 1l8 5l8 -6l8 4l8 1l8 -4l8 2l8 1l8 -2l8 2l8 2l8 -7l8 2l8 1l8 1l8 -3l8 6l8 -5l8 -1l8 1l8 0l8 5l8 -6l8 5l8 -1l8 -5l8 6l8 0l8 5l8 -10l8 5l8 4l8 -6l8 1l8 0l8 -4l8 9l8 -8l8 -3l8 0l8 5l8 2l8 0l8 -4l8 3l8 6l8 -14l8 4l8 3l8 0l8 -2l8 0l8 5l8 -5l8 3l8 -1l8 -5l8 5l8 -1l8 -5l8 3l8 -3l8 6l8 -6l8 0l8 5l8 8l8 -5l8 -3l8 -2l8 -1l8 7l8 0l8 -6l8 2l8 5l8 -2l8 1l8 -4l8 -7l8 7l8 3l8 -3l8 -7l8 4l8 5l8 -2l8 4l8 -4l8 5l8 -2l8 0l8 -3l3 -2l1 -1l2 2l1 2l1 1l1 2l1 -4l1 -2l2 -2l1 6l2 -2l0 -4l1 5l1 -1l2 0l1 -9l2 1l1 -5l1 -4l2 -6l1 2l2 4l1 -5l1 -4l0 -2l2 -7l1 -4l1 -10l1 1l0 1l1 -5l0 -1l1 -4l1 -4l0 1l1 -13l1 -11l0 -10l1 -12l1 -9l0 -11l1 -25l0 1l1 -33l0 -2l2 -27l0 -1l0 -9l1 -15l0 1l1 -6l1 9l0 -8l1 11l0 1l1 6l1 8l1 20l0 -9l1 23l0 9l0 -5l1 13l1 10l0 11l1 11l0 2l1 18l0 -1l2 10l0 10l1 6l0 6l1 6l1 -4l0 3l1 3l0 3l1 4l1 1l1 10l0 1l1 -9l0 -8l2 13l0 5l1 -4l1 20l2 -7l1 -5l2 5l1 14l1 -5l2 -3l1 8l2 9l1 3l1 -3l0 -5l2 8l1 2l2 1l1 6l1 -1l1 -4l1 5l1 0l2 2l1 5l1 -4l2 -1l0 -2l1 13l2 -7l1 1l1 2l2 -4l1 4l0 -2l2 3l1 -1l1 -1l2 6l1 5l1 -10l1 1l1 -2l1 2l2 3l1 -2l2 -5l0 12l1 -7l7 3l8 -2l8 -5l8 2l8 5l8 0l8 0l8 -9l4 6l2 -3l2 -6l0 -4l3 -16l1 -7l1 7l3 6l0 10l2 6l2 10l3 -12l1 9l1 4l7 -1l8 2l8 -7l8 -2l8 2l8 1l8 -4l8 8l8 -5l8 0l8 -1l8 7l8 -6l8 -1l8 1l8 3l8 -5l8 5l8 -9l8 10l8 -3l8 -2l8 1l8 -2l8 5l8 0l8 -2l8 3l8 -3l8 1l8 -4l8 1l8 9l8 -11l8 -1l8 8l8 3l8 3l8 -8l8 3l8 -7l8 -1l8 6l8 -1l8 0l8 -2l8 6l8 -7l8 6l8 -1l8 0l8 -2l8 1l8 -5l8 9l8 -8l8 1l8 1l8 9l8 -13l8 5l8 -4l8 4l8 1l8 -1l8 -2l8 -1l8 3l8 -1l8 -4l8 3l8 -2l8 4l8 2l8 1l8 -5l8 -3l8 7l8 -3l8 -5l8 0l8 15l8 -7l8 -8l8 0l8 6l8 -3l8 7l8 2l8 -8l8 -3l8 -1l8 2l8 9l8 0l8 -8l8 1l8 -2l8 4l8 -4l8 4l8 -3l8 4l8 -3l8 -3l8 3l8 -1l8 5l8 -3l8 7l8 -12l8 11l8 -14l8 7l8 2l8 -5l8 3l8 -4l8 2l8 4l8 2l8 -6l8 7l8 0l8 -9l8 4l8 3l8 -3l8 6l8 0l8 -4l8 6l8 -7l8 1l8 -2l8 3l8 -4l8 6l8 -2l2 -4l2 8l3 -6l1 1l1 -3l3 -4l2 3l2 5l0 -5l3 -8l2 11l3 -7l0 4l2 0l2 -11l3 5l1 3l1 -8l3 3l2 -2l0 -5l2 -1l0 -5l0 5l1 -4l2 -3l0 -2l1 -3l1 -6l1 -1l1 -8l1 -5l0 8l0 -9l2 -13l0 -1l1 -6l1 -22l0 4l2 -16l1 7l0 -6l1 -10l1 9l0 -7l1 10l0 1l2 0l0 7l1 9l1 2l0 3l2 2l0 1l0 4l1 12l1 5l1 10l1 -3l1 9l0 -2l2 -1l1 4l0 4l2 3l1 -8l1 13l2 3l1 -2l0 -3l1 2l0 -1l1 3l3 -1l2 10l2 -5l0 2l3 1l2 3l3 3l0 -5l2 8l2 1l3 1l1 0l1 0l3 0l2 8l2 -5l3 1l2 2l3 0l0 7l2 -1l2 -6l3 -6l1 11l1 -5l3 0l2 5l2 -1l0 -4l3 3l2 -4l3 -3l8 9l8 -2l8 -7l8 -3l8 10l8 -4l0 1l2 1l2 -10l3 -17l1 -2l1 -1l3 11l2 5l2 12l0 -1l3 -1l2 6l3 0l8 8l8 -10l8 -4l8 5l8 -1l8 2l8 -10l8 19l8 -11l8 0l8 0l8 -1l8 4l8 -3l8 -1l8 4l8 6l8 -11l8 3l8 0l8 1l8 3l8 -7l8 7l8 -3l8 -3l8 0l8 3l8 -1l8 0l8 -1l8 0l8 0l8 -1l8 4l8 -5l8 10l8 -2l8 -10l8 9l8 -10l8 2l8 2l8 -3l8 4l8 1l8 1l8 6l8 -10l8 -1l8 2l8 2l8 8l8 -12l8 5l8 -2l8 -1l8 -3l8 7l8 -1l8 1l8 -3l8 -6l8 6l8 9l8 -4l8 -2l8 0l8 -1l8 4l8 -9l8 10l8 -5l8 -2l8 6l8 -3l8 -3l8 1l8 -5l8 8l8 3l8 -10l8 4l8 3l8 -7l8 3l8 0l8 3l8 3l8 -4l8 6l8 -14l8 9l8 -3l8 6l8 -4l8 -3l8 3l8 5l8 -3l8 0l8 -7l8 2l8 1l8 8l8 -4l8 -3l8 9l8 -11l8 6l8 -4l8 -2l8 4l8 -4l8 3l8 0l8 -5l8 2l8 2l8 4l8 2l8 -4l8 -4l8 -1l8 7l8 -15l8 14l8 -4l8 1l8 -4l8 3l8 0l8 2l8 -4l8 7l8 -7l8 -5l8 8l6 2l2 1l3 -5l2 5l3 3l0 -3l2 -8l2 9l3 1l1 -4l1 -5l3 -2l2 9l2 -2l0 2l3 -2l2 -1l3 -3l0 -3l2 3l2 -2l3 -2l1 3l1 -4l3 1l1 -7l1 6l1 2l1 -8l0 -4l2 8l1 -2l1 0l1 -8l2 -3l1 2l0 -3l1 -4l1 -4l1 -6l1 2l2 -6l1 -6l1 1l0 -4l1 -2l1 -3l1 1l1 2l0 -2l1 3l1 -6l1 15l1 -6l0 4l2 1l1 -1l1 2l1 10l2 -8l1 12l0 -4l1 4l1 -3l1 15l1 -7l2 2l1 1l1 6l0 -2l1 1l2 -1l1 -1l1 6l1 -9l1 4l1 -2l0 8l2 0l1 -3l1 8l1 -10l3 7l0 -3l2 3l2 -4l3 1l1 9l1 -3l3 -2l2 4l2 0l0 4l3 4l2 -7l3 -5l0 8l2 1l2 -1l3 -1l1 -2l1 7l3 -5l2 -1l2 -2l0 4l3 3l2 1l3 2l0 -12l2 4l2 -1l3 1l1 -5l1 9l3 -1l2 -4l2 9l0 -4l3 -6l5 4l8 -5l1 11l2 -8l3 2l2 0l0 -2l3 -4l2 -3l2 -2l1 9l2 -18l2 5l2 -3l1 -2l1 2l1 -3l2 -6l3 14l2 5l0 -5l3 6l2 1l2 4l1 -3l2 4l2 -2l3 -6l1 11l1 1l2 -4l3 3l2 -6l0 2l8 6l8 -1l8 -1l8 4l8 -4l8 3l8 -8l8 -3l8 3l8 -1l8 5l8 2l8 3l8 -11l8 9l8 -8l8 4l8 -5l8 1l8 6l8 1l8 -3l8 5l8 0l8 -13l8 9l8 6l8 -8l8 4l8 -6l8 -4l8 7l8 -1l8 4l8 -4l8 9l8 -7l8 -2l8 5l8 -1l8 -3l8 0l8 -1l8 0l8 6l8 -4l8 -2l8 -5l8 2l8 10l8 -8l8 -1l8 1l8 -4l8 1l8 7l8 -3l8 3l8 0l8 -5l8 8l8 -12l8 9l8 -3l8 7l8 -9l8 1l8 1l8 0l8 -2l8 2l8 3l8 0l8 1l8 1l8 3l8 -6l8 -3l8 6l8 -3l8 -1l8 -5l8 1l8 8l8 -5l8 1l8 2l8 -5l8 5l8 -7l8 -1l8 8l8 -1l8 -3l8 4l8 -3l8 4l8 -1l8 2l8 -8l8 2l8 -3l8 9l8 -12l8 6l8 3l8 -7l8 5l8 6l8 -2l8 -5l8 1l8 1l8 0l8 2l8 1l8 -5l8 -6l8 8l8 -1l8 3l8 5l8 -6l8 4l8 -9l8 5l8 0l8 3l8 -5l8 -6l8 8l8 -2l8 -3l8 7l8 -2l8 -4l8 -3l8 8l8 -5l8 5l8 -4l8 3l8 1l8 -4l8 -2l8 7l8 -5l8 0l8 2l8 -2l8 -5l8 8l8 -1l8 -4l8 7l8 0l8 -4l8 4l8 -5l8 1l8 1l8 -5l8 6l8 0l8 0l8 4l8 -5l8 4l8 -2l8 -7l8 6l8 -1l8 4l8 -1l8 0l8 3l8 -11l8 6l8 -7l8 7l8 -2l8 0l8 7l8 -7l8 -5l8 7l8 1l8 -2l8 -3l8 3l8 2l8 -4l8 -3l8 12l8 0l8 -3l8 -6l8 7l8 -6l8 -6l8 14l8 -11l8 7l8 -3l8 -2l8 5l8 -9l8 1l8 2l8 1l8 3l8 2l8 -4l8 7l8 -2l8 1l8 -7l8 6l8 -6l8 -1l8 0l8 5l8 -2l8 -4l8 -2l8 7l8 -2l8 2l8 -2l8 1l8 5l8 -5l8 -2l8 4l8 0l8 -3l8 -2l8 6l8 -5l8 2l8 2l8 -3l8 10l8 -7l8 -3l8 3l8 0l8 -2l8 -1l8 1l8 3l8 -1l8 -5l8 5l8 -3l8 6l8 -2l8 -11l8 8l8 -4l8 1l8 3l8 0l8 -4l8 7l8 -2l8 1l8 -6l8 1l8 7l8 -4l8 -6l8 6l8 3l8 -4l8 -3l8 6l8 -4l8 5l8 -3l8 5l8 -6l8 2l8 -1l8 4l8 -10l8 5l8 1l8 -1l8 5l8 -2l8 4l8 -4l8 -7l8 2l8 0l8 0l8 4l8 -3l8 3l8 -3l8 -3l8 4l8 3l8 0l8 -6l8 4l8 -2l8 6l8 -7l8 5l8 -2l8 0l8 -1l8 1l8 8l8 -4l8 -6l8 -1l8 7l8 -1l8 0l8 -11l8 7l8 -1l8 0l8 -2l8 5l8 4l8 -3l8 -1l8 -1l8 0l8 3l8 -15l8 13l8 2l8 -6l8 6l8 -3l8 -2l8 9l8 -3l8 -2l8 -1l8 3l8 -6l8 7l8 -2l8 -3l8 1l8 1l8 4l8 -6l8 4l8 -10l8 9l8 0l8 -4l8 -2l8 2l8 4l8 1l8 0l8 -7l8 2l8 0l8 2l8 2l8 2l8 -6l8 -7l8 8l8 2l8 -3l8 -2l8 3l8 -3l8 4l8 -5l8 3l8 2l8 -1l8 -2l8 3l8 -13l8 4l8 8l8 9l8 -6l8 -2l8 -2l8 -7l8 7l8 4l8 -1l8 3l8 -1l8 -1l8 -7l8 4l8 -2l8 5l8 -2l8 4l8 -8l8 4l8 2l8 1l8 -1l8 -1l8 -5l8 3l8 1l8 0l8 2l8 0l8 -7l8 8l8 -4l8 9l8 -7l8 -8l8 6l8 1l8 -7l8 7l8 -7l8 7l8 -4l8 -1l8 1l8 3l8 0l8 1l8 -3l8 2l8 -5l8 -1l8 4l8 4l8 0l8 0l8 -2l8 2l8 -3l8 -3l8 0l8 3l8 8l8 -8l8 2l8 -5l8 5l8 5l8 -8l8 -3l8 5l8 -6l8 7l8 -5l8 -2l8 2l8 9l8 1l8 -8l8 -3l8 1l8 9l8 -9l8 5l8 -5l8 4l8 3l8 3l8 -5l8 3l8 -1l8 -3l8 -3l8 9l8 1l8 -5l8 1l8 -6l8 5l8 -1l8 -5l8 8l8 -6l8 2l8 8l8 -6l8 -6l8 4l8 -3l8 3l8 -3l8 5l8 2l8 0l8 0l8 -8l8 6l8 0l8 2l8 3l8 -8l8 2l8 1l8 -2l8 2l8 2l8 -2l8 3l8 -6l8 2l8 1l8 0l8 -2l8 0l8 0l8 2l8 5l8 -1l8 -4l8 0l8 -3l8 -1l8 1l8 1l8 3l8 -10l8 5l8 -1l8 0l8 7l8 1l8 -6l8 5l8 -4l8 -9l8 10l8 1l8 3l8 -9l8 2l8 7l8 -9l8 2l8 -1l8 -1l8 4l8 -3l8 3l8 4l8 -4l8 2l8 -2l8 -1l8 1l8 2l8 -5l8 7l8 -11l8 6l8 0l8 7l8 -5l8 1l8 2l8 -1l8 -9l8 9l8 -1l8 -5l8 12l8 -14l8 2l8 1l8 0l8 -4l8 5l8 -5l8 6l8 3l8 -11l8 5l8 7l8 0l8 -2l8 1" stroke="rgb(226,32,44)" stroke-width="11" fill="none" stroke-linejoin="round"/>
<line x1="109.6" y1="515.0" x2="674.8" y2="515.0" stroke="rgb(226,32,44)" stroke-width="0.85"/>
<path transform="scale(.05)" d="M2192 10310l8 -7l8 2l8 1l8 -12l8 -5l8 3l8 10l8 5l8 -6l8 -11l8 20l8 -21l8 8l8 -1l8 6l8 6l8 -18l8 8l8 4l8 -10l8 7l8 2l8 -10l8 0l8 9l8 -2l8 4l8 13l8 -9l8 -3l8 -8l8 12l8 -12l8 16l8 -3l8 -22l8 6l8 7l8 -2l8 -6l8 0l8 14l8 -9l8 -7l8 9l8 9l8 5l8 -12l8 -2l8 -4l8 2l8 8l8 5l8 0l8 -11l8 8l8 -1l8 -2l8 -20l8 17l8 -2l8 11l8 -11l8 5l8 -1l8 7l8 -4l8 2l8 3l8 -3l8 -2l8 -7l8 3l8 14l8 -15l8 4l4 -5l2 -2l2 -25l0 30l3 -37l1 -1l1 17l3 -17l0 18l2 4l2 -2l3 20l1 -10l1 5l7 -2l8 7l8 12l8 -25l8 15l8 -11l8 3l8 -11l8 5l8 5l8 9l8 -4l8 2l8 1l8 -15l8 20l8 -12l4 7l2 -8l2 -3l0 1l3 -37l1 26l1 -11l3 15l0 -5l2 8l2 -4l3 9l1 -12l1 15l7 12l8 -24l8 8l8 2l8 11l8 1l8 -9l8 1l8 -2l8 -2l8 0l8 0l2 2l1 1l1 -5l2 8l1 -6l1 2l0 -14l2 2l1 0l2 -5l1 -12l2 2l0 -17l1 3l1 -14l1 -12l1 -12l1 -26l0 -33l0 -13l1 -79l0 -41l1 -58l1 -68l0 5l0 8l1 -11l0 22l0 12l1 35l0 13l1 36l0 26l1 55l0 29l1 -4l0 22l1 12l0 12l1 20l0 -2l1 -8l0 -9l0 20l2 -1l1 18l1 -3l2 6l1 0l1 12l1 12l1 -7l2 14l1 2l1 16l2 -1l0 6l1 2l1 -3l2 2l1 21l2 -8l1 -2l0 2l2 19l1 -9l1 9l1 -23l1 32l1 -14l0 9l1 -11l0 2l2 7l0 7l1 -12l1 -5l1 12l1 8l1 -24l1 3l0 11l1 -8l0 -12l1 15l1 2l3 3l2 5l0 -19l3 5l2 4l2 3l1 -9l2 6l2 -6l3 11l1 2l1 -14l2 9l3 -12l2 9l0 -13l3 11l2 6l2 -3l1 -20l2 13l2 -4l3 11l1 -8l1 6l2 -15l3 -6l2 -11l0 19l3 -6l2 2l2 -5l1 2l2 7l1 -20l1 10l0 5l2 -9l1 7l0 -18l1 -2l1 -7l0 -4l1 4l1 -44l2 -26l1 -28l0 -9l2 -56l0 -10l0 -9l1 -28l1 -72l1 -22l1 -60l1 -38l0 -8l2 -34l0 1l1 -10l1 -7l1 6l1 27l1 2l2 42l0 10l1 0l0 9l1 38l0 11l1 21l1 20l1 28l0 26l2 21l1 31l0 5l1 21l1 18l0 16l1 11l1 16l1 11l1 10l1 17l1 15l1 4l1 5l0 6l1 8l1 2l1 3l1 9l0 -1l1 3l2 -1l0 3l1 7l1 -6l1 -1l1 0l0 -2l3 21l2 -16l0 13l3 -6l2 7l2 -7l1 2l2 10l2 6l3 -9l1 8l1 -3l2 3l3 -2l2 -2l0 17l3 -18l2 10l2 -7l1 5l2 -6l2 0l3 4l1 8l0 -14l1 18l1 -9l1 3l1 -8l2 12l1 -8l1 3l0 -15l1 25l2 -10l1 -12l1 -1l1 3l1 -10l1 -7l0 9l1 8l1 -8l0 -1l1 -12l0 13l0 -28l1 -22l0 -4l1 -14l0 -13l1 -8l0 4l1 -15l0 6l0 18l1 -1l0 7l0 5l1 11l0 7l1 17l0 -8l1 8l0 3l0 8l1 12l0 -12l1 6l1 12l0 -15l1 5l1 3l1 16l2 -13l1 12l1 -4l1 12l1 4l1 -26l0 15l2 -2l1 12l1 4l1 -9l2 -1l1 6l0 -12l1 12l1 2l1 -2l1 -7l2 13l1 -6l1 -2l0 6l1 -8l2 13l1 -7l1 -5l1 8l1 12l1 -6l0 -18l2 4l1 11l2 2l3 -7l0 6l8 -13l8 14l8 -16l8 13l8 6l8 -10l8 6l8 -21l8 22l8 -7l8 7l8 -15l8 22l8 -11l8 10l8 -21l8 3l8 16l8 -6l8 -11l8 3l8 -1l8 13l8 -12l8 4l8 7l8 -13l8 2l8 -1l8 14l8 -12l8 10l8 -2l8 -2l8 3l8 -1l8 -8l8 9l8 15l8 -17l8 -4l8 1l8 -3l8 1l8 -13l8 7l8 14l8 -4l8 0l8 -7l8 6l8 0l8 -6l8 -7l8 5l8 9l8 2l8 -6l8 5l8 -16l8 0l8 16l8 -11l8 20l8 -13l8 -10l8 16l8 -15l8 13l8 -9l8 -7l8 24l8 -18l8 8l8 0l8 -8l8 -2l8 12l8 7l8 -4l8 -9l8 1l8 6l8 -2l8 -14l8 16l8 -1l8 -15l8 10l8 -7l8 14l8 -3l8 -3l8 -2l8 2l8 1l8 -4l8 9l8 -10l8 5l8 -4l8 2l8 4l8 -16l8 1l8 20l8 -13l8 -3l8 3l8 -1l8 16l8 1l0 -9l0 12l1 -22l1 11l1 -14l1 -5l0 10l1 -25l1 -16l1 -2l1 2l0 -24l0 9l1 8l1 -7l1 12l1 0l0 20l1 12l1 -2l1 1l1 0l0 19l0 -8l1 12l1 -13l1 0l1 6l0 3l1 6l1 -3l2 -5l8 -5l8 0l8 10l8 -1l8 -3l8 3l8 8l8 -4l8 -11l8 14l8 -18l8 9l8 -3l8 3l8 2l8 -1l8 2l8 -14l8 20l8 -13l8 4l8 8l8 -12l8 -2l8 -6l8 18l8 -7l8 2l8 3l1 -10l2 -11l1 2l2 12l1 1l1 -10l0 6l2 -11l1 -5l2 0l1 -44l1 11l1 -1l1 -25l1 -3l2 -40l1 -1l1 -21l2 -24l0 7l1 -12l2 -8l1 -7l1 2l2 11l1 -19l0 19l2 -11l1 11l1 9l2 6l1 20l1 -5l1 15l1 17l1 11l2 22l1 7l2 10l0 -4l1 6l1 7l2 -1l1 20l2 -2l1 7l1 -1l2 15l1 7l2 5l1 -1l1 0l0 -5l2 11l1 -13l2 16l1 -7l1 14l1 -14l1 8l1 -3l2 3l1 0l3 -20l8 7l8 13l8 -9l8 -2l8 3l8 10l8 -5l2 -9l2 7l2 -10l2 -16l1 16l1 -21l1 2l3 14l2 7l2 12l3 -11l2 9l1 -10l8 2l8 11l8 -4l8 -8l8 11l8 -3l8 -12l8 5l8 14l8 -9l8 10l8 -2l8 -16l8 21l8 -10l8 -14l8 6l8 7l8 0l8 -6l8 24l8 -23l8 12l8 -5l8 6l8 -8l8 -6l8 14l8 -3l8 -3l8 -1l8 3l8 1l8 4l8 6l8 -20l8 -6l8 8l8 -3l8 7l8 -1l8 4l8 1l8 -17l8 10l8 14l8 -18l8 -3l8 2l8 23l8 -20l8 -4l8 0l8 15l8 -19l8 3l8 7l8 8l8 -7l8 -11l8 31l8 -28l8 8l8 0l8 2l8 -12l8 5l8 3l8 4l8 1l8 -1l8 5l8 -13l8 11l8 -16l8 21l8 -8l8 2l8 2l8 -1l8 4l8 -9l8 4l8 2l8 -18l8 -1l8 10l8 0l8 3l8 4l8 -11l8 6l8 4l8 1l8 -8l8 10l8 -6l8 -1l8 12l8 -15l8 -10l8 14l8 4l8 0l8 -9l8 11l8 -1l8 -5l8 3l8 11l8 -14l8 -6l8 4l8 12l8 -7l8 -9l8 18l8 -8l8 2l8 -4l8 -22l8 15l8 5l8 -6l8 -10l8 22l8 -4l8 5l8 1l8 -4l8 -8l8 6l8 -2l8 5l8 -1l8 2l8 -13l8 18l8 -6l8 1l8 -10l8 -9l8 15l8 1l8 3l8 -2l8 -8l8 5l5 -3l1 5l2 4l0 -13l1 4l2 1l1 -4l1 -4l2 -15l1 -11l0 15l2 -26l1 -19l1 -9l2 -8l1 -16l1 -19l1 4l1 4l1 -7l2 -10l1 18l2 17l0 -4l1 14l1 -11l2 18l1 23l2 -9l1 25l1 -3l2 21l1 3l2 1l1 2l1 -4l0 -3l2 14l1 -5l2 6l1 -6l1 20l1 -10l1 -5l1 -1l2 2l1 6l3 0l8 -7l8 8l8 9l8 -19l8 14l8 -15l8 7l8 -5l8 1l8 12l8 -3l8 -5l8 1l8 19l8 -19l8 -2l8 5l8 3l8 -2l8 5l8 -18l8 -3l8 12l8 -5l8 -5l8 15l8 -9l8 -7l8 11l8 0l8 -13l8 22l8 -4l8 -4l8 -11l8 5l8 2l8 0l8 7l8 -1l8 -3l8 22l8 -12l8 -26l8 13l8 -7l8 12l8 -2l8 -2l8 0l8 0l8 7l8 -2l8 6l8 -17l8 12l8 0l8 -7l8 7l8 -7l8 9l8 -3l8 -20l8 20l8 7l8 -4l8 12l8 -12l8 -14l8 8l8 -6l8 16l8 -7l8 12l8 -13l8 10l8 -14l8 3l8 2l8 -7l8 -11l8 13l8 -6l8 5l8 12l8 -11l8 5l8 -12l8 11l8 -7l8 -5l8 7l8 10l8 -7l8 -16l8 14l8 -6l8 16l8 -7l8 -10l8 9l8 -7l8 5l8 -6l8 12l8 -9l8 16l8 -19l8 20l8 -1l8 -15l8 14l8 -2l8 -7l8 -3l8 1l8 -11l8 9l8 7l8 11l8 -14l8 -9l8 17l8 -4l8 6l8 -13l8 11l8 -9l8 7l8 -10l8 0l8 1l8 8l8 -11l8 9l8 -4l8 4l8 -4l8 -8l8 10l8 -6l8 7l8 -3l8 18l8 -15l8 -7l8 11l8 -11l8 7l8 12l8 -21l8 -3l8 9l8 -9l8 16l8 -13l8 1l8 17l8 -5l8 -10l8 -2l8 4l8 -8l8 12l8 -1l8 8l8 -6l8 -5l8 14l8 -5l8 -11l8 -1l8 8l8 -11l8 14l8 -9l8 6l8 -8l8 6l8 -8l8 -1l8 16l8 -4l8 -6l8 -3l8 -4l8 1l8 4l8 14l8 -6l8 -4l8 -3l8 7l8 -1l8 -9l8 1l8 2l8 2l8 -9l8 0l8 9l8 -9l8 11l8 5l8 1l8 -3l8 -3l8 -5l8 5l8 -3l8 8l8 -10l8 -3l8 9l8 -12l8 9l8 -8l8 0l8 18l8 -7l8 -6l8 19l8 -11l8 -14l8 9l8 -7l8 9l8 -12l8 8l8 -4l8 -3l8 16l8 -12l8 8l8 -6l8 5l8 -1l8 -7l8 3l8 14l8 7l8 -20l8 -8l8 11l8 0l8 9l8 -3l8 -5l8 3l8 -6l8 -7l8 1l8 16l8 -20l8 23l8 -5l8 0l8 -12l8 8l8 2l8 -5l8 -10l8 13l8 -3l8 7l8 -14l8 6l8 -4l8 8l8 -4l8 1l8 -2l8 -7l8 5l8 -5l8 2l8 -6l8 8l8 0l8 3l8 -3l8 0l8 -5l8 -1l8 18l8 -10l8 -9l8 20l8 -10l8 9l8 -4l8 -16l8 15l8 3l8 -1l8 -10l8 2l8 -3l8 2l8 -2l8 5l8 4l8 -16l8 8l8 7l8 6l8 -9l8 -6l8 20l8 -10l8 4l8 -16l8 2l8 13l8 3l8 -4l8 -3l8 -7l8 3l8 6l8 -9l8 11l8 -7l8 -9l8 17l8 -2l8 -8l8 2l8 -4l8 3l8 12l8 -8l8 -5l8 3l8 9l8 -8l8 4l8 -6l8 14l8 -10l8 6l8 -18l8 6l8 12l8 -9l8 11l8 -23l8 15l8 -5l8 -5l8 4l8 -1l8 -3l8 2l8 10l8 -3l8 -9l8 0l8 14l8 -18l8 8l8 8l8 -8l8 7l8 -6l8 7l8 1l8 -19l8 17l8 -7l8 9l8 -3l8 -8l8 10l8 0l8 1l8 9l8 -22l8 4l8 7l8 11l8 -5l8 0l8 -11l8 15l8 -21l8 9l8 6l8 0l8 1l8 -10l8 -10l8 10l8 11l8 -3l8 -19l8 23l8 -11l8 4l8 9l8 -14l8 7l8 -9l8 17l8 -13l8 0l8 16l8 -20l8 6l8 5l8 -17l8 8l8 -1l8 18l8 -17l8 21l8 -30l8 5l8 17l8 -13l8 14l8 -17l8 0l8 -20l8 18l8 0l8 3l8 8l8 3l8 1l8 -11l8 -16l8 15l8 2l8 -11l8 3l8 14l8 1l8 -20l8 13l8 2l8 -5l8 12l8 -1l8 -4l8 -3l8 2l8 -13l8 19l8 -11l8 -16l8 17l8 -13l8 14l8 17l8 -9l8 -8l8 -5l8 20l8 -8l8 -14l8 15l8 -11l8 10l8 -6l8 0l8 -1l8 5l8 -3l8 -12l8 9l8 9l8 -13l8 -3l8 22l8 -25l8 13l8 5l8 -6l8 -9l8 20l8 -23l8 6l8 20l8 -12l8 -6l8 -4l8 13l8 1l8 1l8 -10l8 10l8 -9l8 -5l8 1l8 13l8 6l8 -9l8 0l8 -1l8 5l8 -7l8 0l8 -3l8 -7l8 9l8 0l8 -10l8 12l8 0l8 4l8 -4l8 1l8 3l8 -14l8 10l8 6l8 1l8 4l8 -4l8 -9l8 3l8 3l8 -19l8 11l8 8l8 3l8 -13l8 6l8 4l8 -7l8 7l8 -12l8 1l8 17l8 -24l8 16l8 -2l8 6l8 -2l8 -10l8 1l8 -6l8 1l8 5l8 1l8 9l8 -7l8 -4l8 15l8 1l8 -11l8 4l8 -8l8 2l8 2l8 5l8 -18l8 12l8 0l8 -3l8 1l8 4l8 -7l8 16l8 -7l8 -10l8 -1l8 4l8 12l8 6l8 -15l8 12l8 -6l8 4l8 -11l8 8l8 3l8 9l8 -13l8 -6l8 -6l8 7l8 18l8 -17l8 0l8 -4l8 2l8 0l8 -2l8 7l8 -2l8 2l8 8l8 -13l8 5l8 -6l8 -1l8 6l8 -10l8 7l8 5l8 3l8 -3l8 -2l8 -10l8 6l8 5l8 4l8 3l8 -18l8 4l8 -8l8 22l8 -5l8 -16l8 5l8 5l8 -10l8 14l8 -7l8 2l8 11l8 -18l8 4l8 3l8 4l8 -1l8 14l8 -24l8 0l8 5l8 -2l8 13l8 -3l8 -11l8 2l8 -7l8 31l8 -29l8 9l8 5l8 -3l8 -2l8 4l8 -9l8 -1l8 5l8 -13l8 11l8 4l8 -4l8 8l8 5l8 -6l8 5l8 -22l8 -3l8 9l8 14l8 -3l8 -6l8 0l8 -8l8 16l8 -5l8 3l8 4l8 -2l8 -13l8 12l8 -19l8 26l8 -14l8 1l8 -1l8 25l8 -18l8 -17l8 1l8 14l8 9l8 -25l8 12l8 -12l8 29l8 -16l8 -6l8 8l8 5l8 -8l8 3l8 1l8 -4l8 5l8 7l8 -7l8 -3l8 -7l8 -2l8 -5l8 21l8 -8l8 -6l8 4l8 -7l8 9l8 7l8 -2l8 -8l8 -5l8 6l8 3l8 0l8 2l8 -10l8 4l8 0l8 8l8 -20l8 8l8 7l8 -3l8 1l8 -1l8 11l8 -10l8 10l8 0l8 -12l8 8l8 -5l8 -1l8 1l8 -2l8 1l8 9l8 -8l8 2l8 -9l8 1l8 23l8 -3l8 -22l8 5l8 -4l8 3l8 7l8 -5l8 -8l8 12l8 -4l8 -3l8 9l8 -7l8 9l8 -11l8 18l8 -8l8 -4l8 11l8 -5l8 -8l8 -2l8 12l8 -12l8 9l8 -2l8 1l8 2l8 -8l8 10l8 -5l8 -1l8 6l8 -4l8 9l8 -12l8 1l8 3l8 -7l8 6l8 7l8 -21l8 11l8 -3l8 3l8 -11l8 17l8 -1l8 -10l8 -5l8 7l8 -1l8 10l8 -12l8 8l8 1l8 3l8 6l8 -12l8 -9l8 10l8 2l8 -1l8 -2l8 -7l8 0l8 2l8 8l8 -4l8 -2l8 10l8 -11l8 15l8 -1l8 -9l8 -5l8 6l8 -3l8 12l8 1l8 -17l8 1l8 11l8 -6l8 -13l8 5l8 18l8 -8l8 -2l8 0l8 -3l8 -4l8 1l8 4l8 -16l8 7l8 15l8 -5l8 -4l8 7l8 6l8 -7l8 -11l8 6l8 -3l8 15l8 -2l8 -2l8 -1l8 2l8 1l8 -9l8 -15l8 23l8 -11l8 4l8 -5l8 9l8 -1l8 -7l8 8l8 0l8 -4l8 7l8 1l8 -6l8 2l8 -6l8 -8l8 8l8 5l8 -3l8 4l8 -3l8 0l8 9l8 -14l8 -3l8 2l8 2l8 3l8 5l8 -8l8 -4l8 6l8 10l8 -14l8 7l8 -6l8 2l8 13l8 -5l8 -17l8 18l8 -3l8 -10l8 -4l8 12l8 -7l8 3l8 -6l8 14l8 -7l8 -11l8 9l8 0l8 2l8 -1l8 -6l8 21l8 -9l8 -6l8 0l8 3l8 -5l8 6l8 -6l8 6l8 -3l8 -5l8 10l8 9l8 -5l8 -9l8 10l8 4l8 -19l8 -8l8 18l8 -11l8 14l8 -16l8 19l8 -7l8 0l8 -14l8 -4l8 20l8 -2l8 0l8 3" stroke="rgb(226,32,44)" stroke-width="14" fill="none" stroke-linejoin="round"/>
<line x1="109.6" y1="538.0" x2="674.8" y2="538.0" stroke="rgb(226,32,44)" stroke-width="1.15"/>
<path transform="scale(.05)" d="M2192 10753l8 7l8 -4l8 -1l8 -19l8 28l8 3l8 -3l8 -6l8 -1l8 13l8 4l8 -6l8 -9l8 10l8 13l8 -28l8 17l8 -21l8 2l8 28l8 -32l8 6l8 -10l8 20l8 -16l8 6l8 9l8 -5l8 23l8 -22l8 -3l8 10l8 -10l8 0l8 -5l8 8l8 7l8 -14l8 4l8 -6l8 0l8 17l8 -23l8 -1l8 0l8 -2l8 19l8 7l8 -22l8 23l8 0l8 -12l8 4l8 -7l8 15l8 -7l8 -1l8 -8l8 3l8 22l8 -19l8 10l8 -22l8 16l8 12l8 -10l8 -1l8 -8l8 10l8 6l8 -9l8 1l1 -4l2 2l1 18l2 -31l1 7l1 -14l0 22l2 -19l1 7l2 -16l1 16l1 -9l1 -12l1 -7l1 -9l2 -13l1 1l1 -24l2 -10l1 2l2 -23l1 26l1 -5l2 1l1 2l0 1l2 7l1 6l1 -2l2 -14l1 39l1 -5l1 3l1 25l1 1l2 -8l1 16l2 -4l0 -10l1 18l1 0l2 5l1 -13l2 5l1 8l1 14l2 4l1 -7l2 2l1 -13l1 13l2 6l1 -20l2 11l1 12l2 -3l8 0l8 -1l8 -6l8 -11l8 11l8 -5l8 17l8 -13l1 15l2 -10l1 -17l2 15l1 -10l1 3l0 -4l2 -9l1 -3l2 0l1 -10l1 -17l1 -5l1 -12l1 8l2 -32l1 -34l1 7l2 -27l0 2l1 -30l2 2l1 6l1 14l2 9l1 -18l0 9l2 2l1 20l1 -11l2 25l1 -18l1 3l1 29l1 -19l1 30l2 12l1 12l2 4l0 6l1 4l1 2l2 0l1 15l2 16l1 -4l1 11l2 -8l1 8l2 18l1 -23l1 0l0 18l2 0l1 -6l2 -8l1 3l1 13l1 0l1 -7l1 13l2 -17l1 -6l3 21l8 -22l8 30l8 -1l8 -23l8 -4l8 -6l8 19l8 -7l8 17l8 -22l8 17l8 -17l0 2l2 5l2 0l3 1l1 5l1 -15l3 7l2 -19l2 0l0 -14l1 3l1 9l1 -13l0 -24l0 -23l1 -34l1 -21l0 -33l1 -10l0 -1l1 -2l0 4l1 3l0 21l0 26l1 10l1 24l0 6l1 42l0 -18l1 8l0 -3l1 -1l1 28l1 -4l1 -20l1 21l3 -12l2 32l2 -18l0 3l3 6l2 30l3 -31l0 -4l2 27l2 7l3 -15l1 -13l1 24l3 -9l2 23l2 -20l0 4l3 12l2 -37l3 14l0 10l3 -2l1 6l2 -2l1 -8l1 9l1 2l1 -19l1 32l2 -8l1 -12l2 8l0 -8l1 7l1 5l0 11l2 -27l0 -4l1 -7l2 -9l0 -10l1 7l1 -1l0 -2l2 -19l1 39l0 -12l2 33l0 -6l1 3l1 2l0 1l2 2l1 8l0 -11l2 -9l0 17l1 -15l1 18l1 -12l1 -14l1 12l2 -11l1 7l1 10l2 -20l0 8l1 -18l2 14l1 15l1 -15l2 -10l1 1l0 -3l2 16l1 -16l1 -4l2 16l1 -7l1 -17l1 4l0 16l1 3l0 -17l1 2l1 -5l1 -8l0 12l1 -6l1 12l1 -10l0 -3l1 -18l0 22l1 -11l1 -13l1 16l0 -32l1 -3l1 10l1 -15l1 -14l0 -16l1 2l1 -1l1 -30l0 -13l1 -15l1 -24l1 -19l0 2l1 -27l0 12l1 -25l0 -31l1 -2l1 -21l0 5l1 -50l1 -9l1 -4l0 -35l1 -13l0 -7l1 -31l1 -15l0 29l1 -28l0 -8l1 -4l1 9l1 -4l0 -11l1 -2l0 7l1 -2l1 6l1 -2l0 13l0 -12l0 4l1 -24l0 33l1 -3l0 -7l1 19l0 1l1 7l0 11l1 9l0 -7l1 8l0 9l1 24l0 2l1 11l0 -3l0 -25l1 32l0 -4l1 5l0 18l1 -1l0 16l0 -5l1 15l0 9l1 1l1 9l0 2l0 1l1 4l0 -1l1 11l0 14l0 5l1 -13l0 16l0 -6l1 -3l0 19l0 -27l0 21l1 2l0 -20l0 13l0 -10l1 -20l0 -6l0 -25l1 -1l0 -16l0 -14l1 1l0 -15l0 8l0 -8l1 17l0 16l0 14l0 -7l1 23l0 2l0 16l1 12l0 21l0 -13l0 19l1 14l0 17l0 5l1 22l0 -1l0 11l1 7l0 5l0 4l0 -19l1 22l0 3l0 -8l1 19l0 15l0 -15l1 1l0 11l1 -5l0 2l0 36l1 -26l0 18l1 -23l0 28l1 0l0 3l1 0l0 17l1 -22l0 -3l1 -1l0 21l1 -12l0 20l0 -6l1 9l0 -12l0 18l1 3l1 -7l0 -12l0 14l1 -5l0 12l1 10l0 -10l1 1l0 8l1 -4l0 17l0 -2l1 -13l0 7l1 -24l0 37l0 -3l1 5l0 -13l1 -12l0 12l1 6l0 9l1 -2l0 -16l1 7l0 -4l1 24l0 -10l2 0l0 6l0 -3l1 3l0 -6l1 15l1 -10l1 12l0 -6l1 -4l0 -8l1 12l1 -6l1 3l0 2l0 19l1 -22l1 -14l1 18l0 16l1 -6l0 -15l2 10l0 1l1 13l0 -14l1 -12l0 14l1 2l1 0l1 -5l2 18l1 -11l2 2l0 -2l1 6l1 10l2 -3l1 -4l2 9l1 -26l1 19l2 -10l1 11l2 -10l1 -1l1 2l0 1l2 10l1 8l2 -12l1 -6l1 11l1 -6l1 8l1 5l2 -4l1 3l1 -28l2 25l0 -10l1 -1l2 16l1 -7l1 -3l2 10l1 -8l0 -1l2 5l1 5l1 -2l2 0l1 -11l1 17l1 -13l1 -1l1 2l2 -6l1 4l2 16l0 -7l1 13l1 4l2 -17l1 -4l2 7l1 -12l1 9l2 -7l1 1l2 5l1 -6l1 1l0 29l2 -32l1 0l2 -8l1 9l1 13l1 -6l1 6l1 -4l2 10l1 -14l1 -3l2 -4l0 10l1 -13l2 24l1 -22l1 18l2 -20l1 8l0 4l2 11l1 -13l5 6l8 8l8 -8l8 -2l1 6l1 -18l2 7l1 -8l2 20l1 -31l1 -20l2 20l1 -47l2 -39l1 -23l1 -31l0 -15l2 -30l1 -32l2 -12l1 -27l1 16l1 -20l1 23l1 6l2 18l1 8l1 37l2 17l0 4l1 22l2 16l1 37l1 11l2 9l1 20l0 6l2 9l1 19l1 -10l2 7l1 9l1 -1l1 2l1 6l1 14l2 -9l1 18l2 -14l0 -24l1 17l7 -10l8 14l8 -4l8 2l8 5l8 4l8 1l8 2l8 -9l8 2l6 11l2 -31l2 12l3 -36l1 1l1 11l1 -9l2 33l2 -9l2 -3l2 15l1 1l2 -12l5 12l8 8l8 -11l8 7l8 -2l8 0l8 -6l8 -5l8 8l8 8l8 6l8 -9l8 10l8 -17l8 7l8 -13l8 6l8 3l8 -1l1 -5l1 34l2 -24l1 -16l2 5l1 1l1 -16l2 -30l1 5l2 -23l1 -13l1 -20l0 -13l2 -22l1 -11l2 -30l1 13l1 -9l1 8l1 10l1 -14l2 21l1 21l1 21l2 -17l0 14l1 31l2 -2l1 9l1 9l2 21l1 3l0 -5l2 18l1 13l1 -1l2 0l1 4l1 20l1 -9l1 -14l1 13l2 -3l1 15l2 -17l0 -9l1 25l7 -11l8 -2l8 10l8 2l8 -13l8 17l8 -24l8 -9l8 22l8 1l8 -5l8 -10l8 6l8 5l8 0l8 -19l8 16l8 1l8 -11l8 18l8 5l8 2l8 8l8 -32l8 17l8 8l8 -21l8 13l8 9l8 -16l8 -1l8 -3l8 23l8 -22l8 14l8 -7l8 -8l8 9l8 -1l8 5l8 -12l8 4l8 3l8 -5l8 1l8 10l8 -19l8 -5l8 16l8 15l8 -33l8 27l8 -1l8 -4l8 -17l8 22l8 -20l8 15l2 -10l0 20l1 -21l1 -3l1 12l1 -5l0 -32l1 21l1 -27l1 -7l1 1l0 -6l0 -4l1 15l1 -8l1 4l1 15l0 7l1 -1l1 15l1 -8l1 -1l0 31l1 -37l1 19l1 13l1 -13l0 13l1 -19l1 7l8 10l8 -6l8 9l8 -12l8 5l8 -2l8 -21l8 25l8 -7l8 1l8 -1l8 -9l8 23l8 -2l8 -17l2 17l2 -14l2 -9l2 -21l1 4l1 -18l1 44l3 -14l2 3l2 5l3 15l2 -5l1 -7l8 14l8 -24l8 22l8 -13l8 -5l8 17l8 2l6 -6l1 12l1 -4l1 -2l1 3l2 6l1 -16l1 10l2 -25l0 4l1 20l2 -26l1 30l1 -25l2 9l1 -20l0 -6l2 1l1 3l1 -11l2 -27l1 12l1 -25l1 6l1 -11l1 -29l2 0l1 -12l2 -12l0 -5l1 -14l1 4l2 -8l1 -7l2 2l1 -20l1 1l2 1l1 10l2 1l1 5l1 -14l0 13l2 16l1 5l2 12l1 23l1 1l1 -9l1 15l1 -8l2 19l1 11l1 -1l2 4l1 13l2 -4l1 33l1 -17l2 35l1 -20l0 18l2 1l1 0l1 4l2 -3l1 9l1 1l1 -20l1 29l1 1l2 -19l1 10l2 15l0 1l1 -2l1 -10l2 7l1 -6l2 0l1 3l1 13l2 -23l1 17l2 5l1 -7l1 -5l8 -1l8 -3l8 1l8 -3l8 3l8 9l8 -1l8 -7l8 -5l8 4l8 15l8 -9l8 4l8 -9l8 -8l8 26l8 -18l8 13l8 -14l8 -6l8 8l8 4l8 -8l8 18l8 -8l8 -7l8 8l8 -8l8 15l8 -16l8 11l8 -2l8 -1l8 1l8 -3l8 18l8 -20l8 5l8 -17l8 19l8 -4l8 -3l8 12l8 -16l8 12l8 -3l8 3l8 -2l8 -11l8 4l8 10l8 -8l8 -9l8 9l8 7l8 -6l8 -16l8 20l8 9l8 -12l8 -10l8 5l8 8l8 3l8 -10l8 13l8 -6l8 9l8 -19l8 12l8 -1l8 1l8 -10l8 10l8 8l8 -14l8 -17l8 26l8 1l8 -11l8 -7l8 -7l8 10l8 -9l8 23l8 -18l8 12l8 0l8 2l8 -22l8 18l8 20l8 -29l8 9l8 -1l8 -7l8 6l8 7l8 6l8 -11l8 -10l8 13l8 9l8 1l8 -1l8 -21l8 4l8 9l8 3l8 -20l8 13l8 19l8 -38l8 17l8 10l8 -15l8 4l8 3l8 0l8 -6l8 4l8 -7l8 6l8 4l8 -7l8 16l8 -11l8 -14l8 13l8 8l8 3l8 2l8 -7l8 -6l8 7l8 -13l8 6l8 12l8 -5l8 -12l8 3l8 -3l8 15l8 -9l8 1l8 0l8 15l8 3l8 -33l8 -1l8 23l8 -10l8 10l8 -8l8 -9l8 0l2 -1l1 7l2 -6l1 3l2 16l0 -22l1 15l1 -19l2 13l1 -6l2 -4l1 -1l1 -31l2 6l1 -16l2 -11l1 13l1 -16l0 -24l2 -6l1 -6l2 -1l1 -5l1 -7l1 -1l1 7l1 15l2 -15l1 39l1 -23l2 13l0 -2l1 29l2 -9l1 1l1 18l2 -9l1 19l0 10l2 -13l1 30l1 -3l2 -13l1 15l1 3l1 -10l1 -1l1 12l2 -1l1 -5l2 19l0 -9l1 -6l1 16l2 -2l1 12l2 -13l1 -5l8 -9l8 13l8 -11l8 9l8 -5l8 11l8 -2l8 -22l8 29l8 -12l8 5l8 -13l8 -3l8 6l8 -1l8 2l8 -7l8 12l8 -4l8 7l8 -17l8 29l8 -12l8 -19l8 8l8 5l8 7l8 -10l8 18l8 -9l8 -10l8 3l8 -11l8 11l8 18l8 -3l8 -13l8 5l8 7l8 -5l8 -8l8 -12l8 10l8 1l8 1l8 -1l8 1l8 9l8 -15l8 5l8 4l8 -17l8 30l8 -7l8 -24l8 26l8 -16l8 5l8 -11l8 1l8 8l8 18l8 -5l8 -9l8 -15l8 12l8 -10l8 13l8 -8l8 6l8 -6l8 8l8 3l8 -13l8 9l8 5l8 -3l8 9l8 -14l8 0l8 -5l8 2l8 1l8 2l8 -10l8 19l8 -4l8 -8l8 -2l8 15l8 -14l8 10l8 -3l8 9l8 7l8 -6l8 -18l8 17l8 -7l8 -11l8 18l8 -21l8 1l8 -6l8 31l8 -21l8 4l8 -9l8 1l8 26l8 -31l8 16l8 -4l8 2l8 9l8 -4l8 -16l8 16l8 16l8 -17l8 -3l8 -5l8 3l8 15l8 1l8 -13l8 -14l8 19l8 -3l8 -2l8 -1l8 5l8 -13l8 3l8 -2l8 14l8 -14l8 -4l8 1l8 28l8 -21l8 -6l8 26l8 -31l8 10l8 33l8 -14l8 -10l8 -11l8 16l8 -29l8 21l8 -7l8 -8l8 4l8 2l4 12l2 -8l2 -11l1 29l2 -1l3 -9l2 -8l2 -23l3 8l2 -7l1 -8l2 -6l2 4l2 -32l2 16l1 -3l2 -4l3 21l2 -8l2 24l3 -17l2 22l1 4l2 -17l2 6l2 21l2 -1l1 -2l2 2l3 -4l2 -2l2 1l3 20l2 -26l1 12l2 6l6 -11l8 12l8 -3l8 8l8 -10l8 -10l8 18l8 -16l8 7l8 -7l8 33l8 -23l8 -10l8 11l8 -13l8 4l8 -1l8 2l8 2l8 13l8 -1l8 0l8 -21l8 30l8 -17l8 -6l8 4l8 4l8 -21l8 -1l8 25l8 10l8 -10l8 10l8 -19l8 4l8 -1l8 -7l8 0l8 20l8 -2l8 -13l8 8l8 0l8 16l8 -20l8 8l8 -8l8 23l8 -24l8 3l8 -17l8 26l8 0l8 -23l8 13l8 1l8 -15l8 -3l8 16l8 -4l8 11l8 3l8 -14l8 15l8 -12l8 2l8 -7l8 -2l8 24l8 -24l8 -6l8 17l8 4l8 -5l8 -9l8 -1l8 1l8 -3l8 4l8 11l8 -18l8 -3l8 -7l8 25l8 2l8 9l8 0l8 -21l8 8l8 0l8 -6l8 16l8 -24l8 17l8 -30l8 24l8 12l8 3l8 -11l8 -2l8 11l8 -15l8 7l8 8l8 -15l8 17l8 -14l8 8l8 -13l8 10l8 -9l8 12l8 -8l8 -2l8 11l8 -10l8 17l8 -12l8 -18l8 4l8 -9l8 23l8 3l8 9l8 -9l8 -14l8 14l8 4l8 -3l8 -28l8 15l8 1l8 21l8 -33l8 10l8 4l8 5l8 0l8 -14l8 8l8 -4l8 12l8 -16l8 14l8 3l8 -2l8 -2l8 -7l8 9l8 0l8 -5l8 -3l8 2l8 22l8 -14l8 10l8 -17l8 18l8 -11l8 -2l8 2l8 -2l8 -4l8 2l8 -3l8 -2l8 -5l8 6l8 13l8 0l8 -25l8 22l8 -10l8 14l8 -19l8 7l8 6l8 -10l8 -3l8 -4l8 0l8 18l8 -16l8 1l8 1l8 15l8 -13l8 19l8 0l8 -24l8 16l8 0l8 5l8 -13l8 4l8 -14l8 3l8 2l8 10l8 4l8 -7l8 4l8 9l8 -22l8 9l8 1l8 6l8 -5l8 -6l8 -8l8 36l8 -21l8 -3l8 -17l8 13l8 -2l8 8l8 -15l8 -2l8 16l8 -5l8 -7l8 8l8 -10l8 12l8 -8l8 12l8 -5l8 -11l8 19l8 -2l8 0l8 -10l8 13l8 -4l8 -18l8 11l8 1l8 22l8 -12l8 -14l8 9l8 -5l8 1l8 9l8 -9l8 -9l8 14l8 9l8 9l8 -13l8 -10l8 0l8 -8l8 26l8 0l8 -15l8 11l8 -6l8 -5l8 -1l8 -5l8 17l8 -23l8 2l8 7l8 16l8 -27l8 20l8 8l8 -7l8 2l8 -9l8 22l8 -22l8 7l8 -3l8 6l8 -12l8 -9l8 5l8 -6l8 4l8 6l8 5l8 -5l8 10l8 -5l8 4l8 -6l8 -10l8 -1l8 11l8 -5l8 10l8 -1l8 -1l8 13l8 -13l8 -22l8 11l8 20l8 -13l8 16l8 -18l8 5l8 -12l8 10l8 -9l8 -2l8 7l8 13l8 -22l8 12l8 14l8 -10l8 10l8 -11l8 -5l8 -4l8 9l8 -7l8 14l8 4l8 -7l8 -1l8 5l8 -7l8 -8l8 -8l8 5l8 35l8 -36l8 35l8 -28l8 10l8 -8l8 -6l8 1l8 0l8 5l8 -4l8 7l8 -8l8 1l8 3l8 2l8 25l8 -33l8 10l8 -3l8 -5l8 -2l8 7l8 -18l8 15l8 9l8 4l8 -21l8 9l8 -1l8 2l8 -9l8 9l8 -6l8 24l8 -10l8 -6l8 0l8 3l8 -8l8 11l8 4l8 -8l8 8l8 -7l8 10l8 -9l8 8l8 -22l8 7l8 7l8 -12l8 19l8 2l8 -8l8 10l8 -32l8 8l8 0l8 3l8 -8l8 -8l8 11l8 5l8 9l8 15l8 -34l8 -7l8 28l8 -10l8 -12l8 19l8 8l8 -11l8 -3l8 4l8 1l8 -18l8 22l8 19l8 -13l8 2l8 -20l8 7l8 2l8 -9l8 23l8 -13l8 -20l8 28l8 -2l8 -9l8 -1l8 3l8 0l8 4l8 -10l8 12l8 3l8 -24l8 20l8 -14l8 11l8 -28l8 14l8 9l8 -10l8 24l8 -32l8 28l8 4l8 -8l8 0l8 10l8 -6l8 -2l8 -4l8 -6l8 4l8 -15l8 8l8 7l8 -4l8 6l8 2l8 1l8 -13l8 0l8 11l8 -15l8 9l8 11l8 -14l8 -9l8 22l8 -13l8 0l8 -19l8 40l8 -6l8 -6l8 -16l8 30l8 -39l8 2l8 39l8 -18l8 1l8 -10l8 4l8 -11l8 19l8 -8l8 -3l8 -7l8 7l8 12l8 -18l8 9l8 -12l8 21l8 -27l8 23l8 -5l8 -5l8 -1l8 18l8 -21l8 20l8 11l8 -27l8 1l8 0l8 13l8 -23l8 24l8 -27l8 23l8 5l8 8l8 -23l8 18l8 -38l8 24l8 -3l8 -6l8 10l8 -2l8 9l8 -3l8 5l8 -11l8 5l8 -2l8 -1l8 -12l8 8l8 17l8 -17l8 10l8 -3l8 -12l8 -8l8 26l8 -16l8 11l8 -16l8 22l8 -23l8 12l8 -4l8 6l8 -15l8 8l8 14l8 -33l8 14l8 23l8 -16l8 2l8 3l8 1l8 -7l8 -5l8 8l8 2l8 -9l8 6l8 12l8 -6l8 -9l8 11l8 -18l8 14l8 -23l8 31l8 -6l8 7l8 -2l8 -15l8 19l8 -12l8 -3l8 -1l8 -13l8 30l8 -13l8 -3l8 8l8 -7l8 0l8 -11l8 15l8 6l8 -13l8 4l8 -10l8 15l8 0l8 7l8 -11l8 2l8 -5l8 -2l8 6l8 8l8 -4l8 -5l8 3l8 -13l8 8l8 2l8 -10l8 17l8 -11l8 -4l8 16l8 -15l8 -4l8 13l8 3l8 -9l8 -4l8 -1l8 19l8 -20l8 10l8 -3l8 11l8 -6l8 0l8 -3l8 2l8 -9l8 14l8 9l8 -10l8 -14l8 0l8 9l8 26l8 -16l8 0l8 1l8 -6l8 -4l8 -2l8 14l8 7l8 -29l8 19l8 -1l8 6l8 -7l8 -18l8 19l8 -4l8 -13l8 8l8 -9l8 6l8 5l8 -10l8 0l8 8l8 -13l8 32l8 -15l8 -21l8 6l8 23l8 1l8 -31l8 22l8 -13l8 18l8 -19l8 23l8 -13l8 2l8 -18l8 13l8 5l8 -3l8 1l8 -9l8 18l8 -22l8 13l8 -2l8 -13l8 14l8 -24l8 22l8 9l8 -5l8 4l8 -4l8 -8l8 7l8 2l8 -9l8 5l8 -12l8 11l8 -1l8 8l8 -21l8 18l8 -6l8 -9l8 22l8 0l8 -19l8 26l8 14l8 -40l8 3l8 -2l8 13l8 -24l8 32l8 -12l8 13l8 -13l8 -5l8 -6l8 14l8 -9l8 9l8 0l8 5l8 -2l8 -18l8 11l8 -8l8 4l8 12l8 -11l8 -8l8 14l8 -5l8 14l8 -10l8 3l8 -9l8 -3l8 -5l8 16l8 2l8 -6l8 6l8 -5l8 1l8 -5l8 0l8 11l8 -24l8 28l8 2l8 0l8 -5l8 7l8 -13l8 3l8 5l8 6l8 -8l8 3l8 -2l8 -28l8 25l8 -18l8 -6l8 0l8 21l8 -23l8 23l8 -13l8 16l8 -6l8 -31l8 31l8 -16l8 -7l8 15" stroke="rgb(226,32,44)" stroke-width="19" fill="none" stroke-linejoin="round"/>
<path d="M109.60,480.78 L110.13,480.78 L110.13,480.94 L110.58,480.94 L110.58,481.23 L111.04,481.23 L111.04,481.56 L111.41,481.56 L111.41,479.84 L111.88,479.84 L111.88,476.17 L112.43,476.17 L112.43,480.36 L112.77,480.36 L112.77,481.35 L113.08,481.35 L113.08,481.91 L113.39,481.91 L113.39,481.15 L113.90,481.15 L113.90,480.40 L114.32,480.40 L114.32,480.90 L114.69,480.90 L114.69,473.84 L115.20,473.84 L115.20,481.21 L115.56,481.21 L115.56,482.13 L116.05,482.13 L116.05,479.19 L116.45,479.19 L116.45,478.61 L116.75,478.61 L116.75,478.56 L117.17,478.56 L117.17,480.73 L117.48,480.73 L117.48,479.53 L117.85,479.53 L117.85,481.82 L118.39,481.82 L118.39,481.56 L118.75,481.56 L118.75,482.35 L119.25,482.35 L119.25,481.08 L119.67,481.08 L119.67,480.29 L120.00,480.29 L120.00,481.68 L120.40,481.68 L120.40,481.84 L120.95,481.84 L120.95,481.15 L121.47,481.15 L121.47,481.55 L121.98,481.55 L121.98,481.72 L122.53,481.72 L122.53,481.86 L123.02,481.86 L123.02,481.66 L123.34,481.66 L123.34,481.09 L123.70,481.09 L123.70,481.20 L124.11,481.20 L124.11,480.52 L124.56,480.52 L124.56,481.34 L124.90,481.34 L124.90,478.96 L125.26,478.96 L125.26,480.26 L125.79,480.26 L125.79,477.69 L126.31,477.69 L126.31,481.07 L126.64,481.07 L126.64,477.40 L127.00,477.40 L127.00,481.36 L127.51,481.36 L127.51,481.39 L127.85,481.39 L127.85,481.69 L128.21,481.69 L128.21,479.00 L128.66,479.00 L128.66,478.39 L129.01,478.39 L129.01,482.04 L129.42,482.04 L129.42,482.18 L129.81,482.18 L129.81,481.74 L130.21,481.74 L130.21,475.54 L130.67,475.54 L130.67,480.48 L131.00,480.48 L131.00,482.48 L131.53,482.48 L131.53,476.74 L131.84,476.74 L131.84,480.87 L132.32,480.87 L132.32,474.67 L132.64,474.67 L132.64,479.92 L133.16,479.92 L133.16,479.91 L133.66,479.91 L133.66,480.94 L134.13,480.94 L134.13,478.46 L134.54,478.46 L134.54,478.67 L134.98,478.67 L134.98,481.16 L135.43,481.16 L135.43,481.79 L135.89,481.79 L135.89,478.27 L136.37,478.27 L136.37,480.10 L136.81,480.10 L136.81,479.29 L137.13,479.29 L137.13,481.73 L137.58,481.73 L137.58,481.65 L138.06,481.65 L138.06,480.57 L138.59,480.57 L138.59,482.27 L138.96,482.27 L138.96,481.50 L139.31,481.50 L139.31,479.96 L139.72,479.96 L139.72,481.03 L140.18,481.03 L140.18,481.48 L140.69,481.48 L140.69,478.36 L141.08,478.36 L141.08,481.37 L141.42,481.37 L141.42,479.26 L141.93,479.26 L141.93,477.23 L142.30,477.23 L142.30,481.46 L142.67,481.46 L142.67,481.51 L143.12,481.51 L143.12,481.46 L143.63,481.46 L143.63,480.62 L143.95,480.62 L143.95,479.36 L144.26,479.36 L144.26,480.53 L144.64,480.53 L144.64,481.71 L144.97,481.71 L144.97,482.04 L145.48,482.04 L145.48,482.07 L145.79,482.07 L145.79,481.00 L146.25,481.00 L146.25,479.37 L146.79,479.37 L146.79,481.51 L147.21,481.51 L147.21,482.35 L147.63,482.35 L147.63,481.52 L147.99,481.52 L147.99,480.37 L148.42,480.37 L148.42,479.77 L148.82,479.77 L148.82,478.14 L149.14,478.14 L149.14,479.65 L149.48,479.65 L149.48,480.59 L150.00,480.59 L150.00,480.88 L150.52,480.88 L150.52,477.35 L150.94,477.35 L150.94,481.54 L151.42,481.54 L151.42,480.16 L151.90,480.16 L151.90,478.83 L152.44,478.83 L152.44,480.39 L152.94,480.39 L152.94,478.57 L153.46,478.57 L153.46,482.06 L153.87,482.06 L153.87,479.77 L154.29,479.77 L154.29,480.01 L154.60,480.01 L154.60,481.45 L154.99,481.45 L154.99,481.52 L155.33,481.52 L155.33,480.08 L155.84,480.08 L155.84,477.44 L156.26,477.44 L156.26,481.45 L156.61,481.45 L156.61,481.50 L157.10,481.50 L157.10,480.78 L157.61,480.78 L157.61,481.42 L158.00,481.42 L158.00,478.21 L158.35,478.21 L158.35,476.47 L158.79,476.47 L158.79,481.63 L159.22,481.63 L159.22,480.64 L159.53,480.64 L159.53,480.48 L159.93,480.48 L159.93,480.49 L160.35,480.49 L160.35,481.75 L160.78,481.75 L160.78,477.40 L161.31,477.40 L161.31,481.31 L161.65,481.31 L161.65,479.56 L162.17,479.56 L162.17,481.49 L162.52,481.49 L162.52,478.03 L162.85,478.03 L162.85,481.73 L163.20,481.73 L163.20,480.57 L163.58,480.57 L163.58,480.74 L163.91,480.74 L163.91,481.62 L164.33,481.62 L164.33,481.96 L164.77,481.96 L164.77,481.40 L165.17,481.40 L165.17,481.75 L165.52,481.75 L165.52,480.39 L165.95,480.39 L165.95,480.28 L166.47,480.28 L166.47,480.29 L166.97,480.29 L166.97,481.07 L167.35,481.07 L167.35,481.25 L167.90,481.25 L167.90,481.44 L168.26,481.44 L168.26,481.37 L168.58,481.37 L168.58,480.90 L169.08,480.90 L169.08,481.65 L169.55,481.65 L169.55,482.19 L170.02,482.19 L170.02,476.48 L170.35,476.48 L170.35,479.92 L170.78,479.92 L170.78,481.55 L171.10,481.55 L171.10,482.38 L171.53,482.38 L171.53,480.78 L171.87,480.78 L171.87,482.02 L172.38,482.02 L172.38,477.66 L172.70,477.66 L172.70,477.97 L173.12,477.97 L173.12,481.19 L173.54,481.19 L173.54,481.19 L173.99,481.19 L173.99,480.73 L174.50,480.73 L174.50,481.46 L174.98,481.46 L174.98,481.82 L175.32,481.82 L175.32,482.01 L175.85,482.01 L175.85,479.94 L176.36,479.94 L176.36,481.15 L176.81,481.15 L176.81,476.02 L177.31,476.02 L177.31,478.69 L177.80,478.69 L177.80,479.27 L178.20,479.27 L178.20,478.52 L178.67,478.52 L178.67,479.64 L179.08,479.64 L179.08,481.72 L179.46,481.72 L179.46,482.06 L179.85,482.06 L179.85,480.46 L180.21,480.46 L180.21,479.99 L180.59,479.99 L180.59,480.65 L181.03,480.65 L181.03,474.93 L181.49,474.93 L181.49,479.73 L182.03,479.73 L182.03,481.11 L182.52,481.11 L182.52,481.53 L182.83,481.53 L182.83,481.65 L183.15,481.65 L183.15,478.81 L183.59,478.81 L183.59,477.01 L184.03,477.01 L184.03,480.07 L184.53,480.07 L184.53,481.13 L185.02,481.13 L185.02,478.58 L185.36,478.58 L185.36,481.81 L185.79,481.81 L185.79,481.85 L186.32,481.85 L186.32,481.03 L186.77,481.03 L186.77,481.69 L187.24,481.69 L187.24,481.50 L187.72,481.50 L187.72,482.23 L188.08,482.23 L188.08,482.25 L188.57,482.25 L188.57,478.82 L189.05,478.82 L189.05,475.90 L189.59,475.90 L189.59,479.01 L190.00,479.01 L190.00,476.77 L190.36,476.77 L190.36,477.97 L190.84,477.97 L190.84,476.44 L191.34,476.44 L191.34,481.77 L191.80,481.77 L191.80,481.76 L192.11,481.76 L192.11,481.83 L192.52,481.83 L192.52,481.00 L192.89,481.00 L192.89,481.18 L193.38,481.18 L193.38,474.88 L193.92,474.88 L193.92,481.43 L194.25,481.43 L194.25,479.43 L194.71,479.43 L194.71,481.73 L195.18,481.73 L195.18,480.68 L195.64,480.68 L195.64,481.50 L196.00,481.50 L196.00,477.98 L196.52,477.98 L196.52,482.41 L196.89,482.41 L196.89,480.71 L197.21,480.71 L197.21,481.91 L197.53,481.91 L197.53,480.72 L197.99,480.72 L197.99,481.23 L198.34,481.23 L198.34,480.22 L198.85,480.22 L198.85,482.28 L199.36,482.28 L199.36,479.81 L199.71,479.81 L199.71,481.70 L200.21,481.70 L200.21,480.64 L200.76,480.64 L200.76,481.07 L201.24,481.07 L201.24,480.84 L201.64,480.84 L201.64,479.42 L201.96,479.42 L201.96,481.25 L202.38,481.25 L202.38,481.36 L202.87,481.36 L202.87,482.11 L203.34,482.11 L203.34,481.93 L203.82,481.93 L203.82,481.38 L204.15,481.38 L204.15,480.31 L204.55,480.31 L204.55,480.63 L204.99,480.63 L204.99,477.57 L205.52,477.57 L205.52,479.75 L205.89,479.75 L205.89,481.48 L206.43,481.48 L206.43,481.25 L206.82,481.25 L206.82,481.52 L207.22,481.52 L207.22,481.83 L207.66,481.83 L207.66,480.63 L208.17,480.63 L208.17,481.70 L208.66,481.70 L208.66,481.19 L208.96,481.19 L208.96,480.89 L209.40,480.89 L209.40,480.07 L209.90,480.07 L209.90,481.31 L210.40,481.31 L210.40,482.31 L210.89,482.31 L210.89,481.52 L211.34,481.52 L211.34,480.40 L211.81,480.40 L211.81,481.91 L212.30,481.91 L212.30,479.93 L212.70,479.93 L212.70,477.23 L213.16,477.23 L213.16,480.92 L213.64,480.92 L213.64,478.29 L214.05,478.29 L214.05,480.13 L214.56,480.13 L214.56,479.16 L215.08,479.16 L215.08,480.12 L215.51,480.12 L215.51,479.50 L215.92,479.50 L215.92,481.87 L216.40,481.87 L216.40,480.87 L216.75,480.87 L216.75,481.51 L217.12,481.51 L217.12,481.48 L217.50,481.48 L217.50,480.89 L217.99,480.89 L217.99,482.23 L218.40,482.23 L218.40,478.50 L218.71,478.50 L218.71,482.09 L219.07,482.09 L219.07,480.46 L219.52,480.46 L219.52,481.98 L219.89,481.98 L219.89,480.30 L220.27,480.30 L220.27,479.54 L220.68,479.54 L220.68,479.12 L221.21,479.12 L221.21,481.03 L221.75,481.03 L221.75,481.66 L222.07,481.66 L222.07,479.28 L222.46,479.28 L222.46,480.94 L222.83,480.94 L222.83,480.01 L223.19,480.01 L223.19,481.55 L223.58,481.55 L223.58,479.94 L224.03,479.94 L224.03,482.08 L224.41,482.08 L224.41,479.34 L224.84,479.34 L224.84,474.93 L225.21,474.93 L225.21,481.73 L225.70,481.73 L225.70,480.02 L226.21,480.02 L226.21,481.57 L226.58,481.57 L226.58,481.64 L227.00,481.64 L227.00,477.61 L227.45,477.61 L227.45,481.14 L227.95,481.14 L227.95,478.55 L228.27,478.55 L228.27,481.35 L228.70,481.35 L228.70,481.72 L229.21,481.72 L229.21,481.64 L229.53,481.64 L229.53,481.28 L230.01,481.28 L230.01,480.47 L230.34,480.47 L230.34,481.21 L230.88,481.21 L230.88,480.17 L231.18,480.17 L231.18,480.35 L231.54,480.35 L231.54,481.06 L231.84,481.06 L231.84,479.25 L232.19,479.25 L232.19,481.39 L232.59,481.39 L232.59,481.44 L232.97,481.44 L232.97,480.53 L233.34,480.53 L233.34,480.41 L233.72,480.41 L233.72,480.39 L234.20,480.39 L234.20,479.66 L234.52,479.66 L234.52,482.17 L234.99,482.17 L234.99,481.50 L235.39,481.50 L235.39,480.39 L235.72,480.39 L235.72,481.98 L236.05,481.98 L236.05,481.95 L236.58,481.95 L236.58,481.03 L237.04,481.03 L237.04,479.30 L237.44,479.30 L237.44,481.38 L237.74,481.38 L237.74,480.37 L238.29,480.37 L238.29,480.18 L238.74,480.18 L238.74,481.85 L239.12,481.85 L239.12,481.66 L239.52,481.66 L239.52,479.78 L240.02,479.78 L240.02,481.61 L240.52,481.61 L240.52,480.47 L240.90,480.47 L240.90,481.74 L241.38,481.74 L241.38,480.49 L241.86,480.49 L241.86,481.34 L242.40,481.34 L242.40,481.53 L242.72,481.53 L242.72,480.99 L243.19,480.99 L243.19,478.42 L243.58,478.42 L243.58,481.80 L244.13,481.80 L244.13,479.02 L244.56,479.02 L244.56,480.75 L244.93,480.75 L244.93,474.82 L245.43,474.82 L245.43,481.67 L245.94,481.67 L245.94,478.98 L246.30,478.98 L246.30,479.41 L246.64,479.41 L246.64,481.79 L246.95,481.79 L246.95,476.20 L247.49,476.20 L247.49,481.28 L247.96,481.28 L247.96,481.05 L248.40,481.05 L248.40,481.63 L248.75,481.63 L248.75,481.75 L249.15,481.75 L249.15,481.61 L249.58,481.61 L249.58,480.99 L249.96,480.99 L249.96,481.75 L250.43,481.75 L250.43,477.83 L250.88,477.83 L250.88,481.23 L251.34,481.23 L251.34,479.79 L251.82,479.79 L251.82,475.18 L252.33,475.18 L252.33,480.87 L252.74,480.87 L252.74,478.61 L253.17,478.61 L253.17,481.12 L253.70,481.12 L253.70,482.01 L254.18,482.01 L254.18,479.74 L254.63,479.74 L254.63,481.19 L255.08,481.19 L255.08,482.13 L255.49,482.13 L255.49,481.22 L255.80,481.22 L255.80,480.71 L256.16,480.71 L256.16,481.40 L256.52,481.40 L256.52,478.98 L257.06,478.98 L257.06,479.00 L257.47,479.00 L257.47,481.29 L257.96,481.29 L257.96,478.64 L258.28,478.64 L258.28,481.46 L258.72,481.46 L258.72,481.50 L259.08,481.50 L259.08,481.56 L259.39,481.56 L259.39,479.23 L259.79,479.23 L259.79,480.83 L260.10,480.83 L260.10,479.20 L260.48,479.20 L260.48,478.19 L261.02,478.19 L261.02,481.62 L261.40,481.62 L261.40,478.41 L261.75,478.41 L261.75,481.00 L262.16,481.00 L262.16,479.31 L262.71,479.31 L262.71,480.81 L263.06,480.81 L263.06,481.49 L263.39,481.49 L263.39,481.18 L263.91,481.18 L263.91,479.86 L264.25,479.86 L264.25,477.93 L264.66,477.93 L264.66,481.94 L265.03,481.94 L265.03,481.41 L265.38,481.41 L265.38,480.65 L265.88,480.65 L265.88,480.53 L266.40,480.53 L266.40,481.46 L266.77,481.46 L266.77,480.01 L267.14,480.01 L267.14,481.64 L267.69,481.64 L267.69,480.92 L268.12,480.92 L268.12,481.06 L268.49,481.06 L268.49,479.90 L268.81,479.90 L268.81,480.17 L269.18,480.17 L269.18,481.01 L269.52,481.01 L269.52,475.55 L269.83,475.55 L269.83,480.03 L270.23,480.03 L270.23,480.56 L270.57,480.56 L270.57,480.43 L270.96,480.43 L270.96,479.67 L271.39,479.67 L271.39,479.35 L271.86,479.35 L271.86,477.76 L272.21,477.76 L272.21,481.38 L272.66,481.38 L272.66,481.33 L273.15,481.33 L273.15,479.50 L273.51,479.50 L273.51,481.55 L273.96,481.55 L273.96,481.83 L274.40,481.83 L274.40,480.53 L274.92,480.53 L274.92,481.94 L275.23,481.94 L275.23,481.11 L275.64,481.11 L275.64,479.92 L275.96,479.92 L275.96,480.37 L276.39,480.37 L276.39,481.24 L276.73,481.24 L276.73,481.98 L277.11,481.98 L277.11,480.75 L277.47,480.75 L277.47,481.66 L277.98,481.66 L277.98,481.76 L278.32,481.76 L278.32,479.30 L278.81,479.30 L278.81,481.55 L279.21,481.55 L279.21,477.38 L279.52,477.38 L279.52,479.94 L280.06,479.94 L280.06,481.36 L280.55,481.36 L280.55,481.90 L281.07,481.90 L281.07,481.51 L281.45,481.51 L281.45,481.82 L281.75,481.82 L281.75,479.48 L282.24,479.48 L282.24,481.71 L282.68,481.71 L282.68,481.26 L283.21,481.26 L283.21,481.42 L283.75,481.42 L283.75,481.70 L284.16,481.70 L284.16,481.64 L284.54,481.64 L284.54,479.00 L284.99,479.00 L284.99,480.67 L285.39,480.67 L285.39,480.90 L285.88,480.90 L285.88,481.53 L286.23,481.53 L286.23,481.56 L286.58,481.56 L286.58,481.26 L286.96,481.26 L286.96,475.36 L287.43,475.36 L287.43,481.21 L287.82,481.21 L287.82,480.65 L288.21,480.65 L288.21,482.02 L288.56,482.02 L288.56,481.39 L289.09,481.39 L289.09,481.23 L289.48,481.23 L289.48,478.47 L289.87,478.47 L289.87,479.89 L290.40,479.89 L290.40,481.74 L290.79,481.74 L290.79,479.36 L291.17,479.36 L291.17,480.62 L291.49,480.62 L291.49,481.56 L291.80,481.56 L291.80,480.94 L292.11,480.94 L292.11,481.26 L292.54,481.26 L292.54,480.52 L292.91,480.52 L292.91,480.17 L293.24,480.17 L293.24,481.65 L293.72,481.65 L293.72,481.26 L294.24,481.26 L294.24,481.61 L294.62,481.61 L294.62,482.02 L294.93,482.02 L294.93,480.60 L295.43,480.60 L295.43,480.94 L295.90,480.94 L295.90,481.13 L296.37,481.13 L296.37,477.57 L296.89,477.57 L296.89,480.73 L297.21,480.73 L297.21,481.22 L297.53,481.22 L297.53,481.40 L297.95,481.40 L297.95,481.78 L298.35,481.78 L298.35,481.60 L298.82,481.60 L298.82,481.91 L299.20,481.91 L299.20,481.67 L299.65,481.67 L299.65,480.57 L300.12,480.57 L300.12,481.58 L300.52,481.58 L300.52,481.51 L300.83,481.51 L300.83,480.65 L301.25,480.65 L301.25,481.58 L301.55,481.58 L301.55,479.02 L301.99,479.02 L301.99,480.57 L302.34,480.57 L302.34,480.58 L302.88,480.58 L302.88,480.80 L303.41,480.80 L303.41,480.27 L303.87,480.27 L303.87,481.18 L304.24,481.18 L304.24,478.74 L304.63,478.74 L304.63,481.39 L304.97,481.39 L304.97,481.31 L305.36,481.31 L305.36,481.17 L305.71,481.17 L305.71,480.54 L306.06,480.54 L306.06,481.21 L306.46,481.21 L306.46,481.13 L306.93,481.13 L306.93,480.47 L307.37,480.47 L307.37,476.97 L307.75,476.97 L307.75,479.09 L308.13,479.09 L308.13,480.05 L308.60,480.05 L308.60,479.12 L308.94,479.12 L308.94,480.80 L309.38,480.80 L309.38,481.46 L309.87,481.46 L309.87,481.41 L310.23,481.41 L310.23,481.68 L310.66,481.68 L310.66,482.03 L310.98,482.03 L310.98,480.54 L311.30,480.54 L311.30,479.90 L311.72,479.90 L311.72,479.46 L312.24,479.46 L312.24,481.79 L312.67,481.79 L312.67,480.88 L313.15,480.88 L313.15,480.36 L313.53,480.36 L313.53,480.07 L314.04,480.07 L314.04,480.41 L314.44,480.41 L314.44,480.33 L314.95,480.33 L314.95,481.34 L315.35,481.34 L315.35,481.29 L315.69,481.29 L315.69,481.05 L316.23,481.05 L316.23,481.18 L316.70,481.18 L316.70,480.55 L317.10,480.55 L317.10,475.58 L317.41,475.58 L317.41,481.42 L317.72,481.42 L317.72,480.25 L318.27,480.25 L318.27,481.58 L318.58,481.58 L318.58,480.88 L318.97,480.88 L318.97,479.85 L319.48,479.85 L319.48,481.31 L319.93,481.31 L319.93,476.42 L320.33,476.42 L320.33,480.58 L320.83,480.58 L320.83,481.83 L321.16,481.83 L321.16,481.03 L321.58,481.03 L321.58,481.61 L321.89,481.61 L321.89,481.53 L322.34,481.53 L322.34,481.65 L322.76,481.65 L322.76,481.53 L323.08,481.53 L323.08,479.31 L323.45,479.31 L323.45,481.91 L323.87,481.91 L323.87,481.10 L324.39,481.10 L324.39,481.14 L324.89,481.14 L324.89,481.84 L325.33,481.84 L325.33,480.44 L325.70,480.44 L325.70,478.90 L326.25,478.90 L326.25,479.59 L326.73,479.59 L326.73,482.09 L327.07,482.09 L327.07,482.08 L327.46,482.08 L327.46,481.17 L327.89,481.17 L327.89,481.98 L328.43,481.98 L328.43,481.33 L328.93,481.33 L328.93,479.93 L329.33,479.93 L329.33,479.38 L329.82,479.38 L329.82,481.34 L330.36,481.34 L330.36,480.42 L330.72,480.42 L330.72,481.52 L331.17,481.52 L331.17,481.51 L331.56,481.51 L331.56,479.65 L331.95,479.65 L331.95,481.24 L332.32,481.24 L332.32,481.08 L332.64,481.08 L332.64,480.34 L333.00,480.34 L333.00,480.71 L333.47,480.71 L333.47,482.06 L333.80,482.06 L333.80,481.35 L334.11,481.35 L334.11,481.28 L334.49,481.28 L334.49,478.05 L334.84,478.05 L334.84,481.14 L335.33,481.14 L335.33,476.72 L335.73,476.72 L335.73,481.25 L336.14,481.25 L336.14,481.54 L336.50,481.54 L336.50,478.08 L336.88,478.08 L336.88,481.68 L337.43,481.68 L337.43,481.00 L337.83,481.00 L337.83,481.56 L338.28,481.56 L338.28,479.21 L338.74,479.21 L338.74,480.93 L339.07,480.93 L339.07,480.24 L339.48,480.24 L339.48,481.18 L339.88,481.18 L339.88,481.08 L340.32,481.08 L340.32,481.96 L340.78,481.96 L340.78,480.93 L341.22,480.93 L341.22,481.46 L341.64,481.46 L341.64,479.93 L342.02,479.93 L342.02,476.11 L342.42,476.11 L342.42,481.57 L342.97,481.57 L342.97,481.72 L343.48,481.72 L343.48,478.44 L343.98,478.44 L343.98,480.91 L344.53,480.91 L344.53,479.87 L345.01,479.87 L345.01,480.22 L345.42,480.22 L345.42,479.53 L345.77,479.53 L345.77,480.98 L346.09,480.98 L346.09,480.10 L346.51,480.10 L346.51,480.29 L347.03,480.29 L347.03,480.88 L347.55,480.88 L347.55,481.66 L347.95,481.66 L347.95,482.40 L348.33,482.40 L348.33,479.57 L348.66,479.57 L348.66,481.77 L349.17,481.77 L349.17,479.13 L349.49,479.13 L349.49,481.44 L349.95,481.44 L349.95,480.20 L350.30,480.20 L350.30,481.30 L350.60,481.30 L350.60,481.81 L351.06,481.81 L351.06,481.18 L351.53,481.18 L351.53,482.25 L352.01,482.25 L352.01,482.02 L352.34,482.02 L352.34,480.63 L352.73,480.63 L352.73,476.34 L353.20,476.34 L353.20,481.43 L353.58,481.43 L353.58,482.06 L354.03,482.06 L354.03,480.12 L354.44,480.12 L354.44,481.35 L354.97,481.35 L354.97,480.82 L355.33,480.82 L355.33,481.72 L355.85,481.72 L355.85,480.00 L356.32,480.00 L356.32,478.89 L356.71,478.89 L356.71,480.88 L357.13,480.88 L357.13,481.92 L357.50,481.92 L357.50,478.45 L357.87,478.45 L357.87,480.70 L358.23,480.70 L358.23,482.14 L358.76,482.14 L358.76,481.78 L359.14,481.78 L359.14,479.64 L359.59,479.64 L359.59,482.09 L360.11,482.09 L360.11,482.05 L360.51,482.05 L360.51,480.72 L360.89,480.72 L360.89,478.26 L361.20,478.26 L361.20,481.39 L361.59,481.39 L361.59,481.85 L362.06,481.85 L362.06,477.86 L362.60,477.86 L362.60,481.27 L363.11,481.27 L363.11,480.69 L363.66,480.69 L363.66,481.90 L364.06,481.90 L364.06,481.89 L364.60,481.89 L364.60,481.99 L364.94,481.99 L364.94,480.75 L365.26,480.75 L365.26,481.32 L365.72,481.32 L365.72,481.78 L366.22,481.78 L366.22,480.32 L366.55,480.32 L366.55,482.35 L367.06,482.35 L367.06,479.22 L367.37,479.22 L367.37,481.54 L367.80,481.54 L367.80,480.77 L368.18,480.77 L368.18,482.20 L368.62,482.20 L368.62,482.56 L369.05,482.56 L369.05,480.71 L369.41,480.71 L369.41,482.39 L369.77,482.39 L369.77,481.43 L370.18,481.43 L370.18,481.97 L370.69,481.97 L370.69,478.38 L371.12,478.38 L371.12,481.32 L371.64,481.32 L371.64,481.38 L371.94,481.38 L371.94,480.62 L372.43,480.62 L372.43,482.04 L372.86,482.04 L372.86,482.67 L373.23,482.67 L373.23,480.80 L373.75,480.80 L373.75,482.15 L374.07,482.15 L374.07,482.49 L374.60,482.49 L374.60,481.77 L375.06,481.77 L375.06,478.58 L375.50,478.58 L375.50,479.61 L375.90,479.61 L375.90,480.99 L376.26,480.99 L376.26,481.90 L376.68,481.90 L376.68,481.91 L377.10,481.91 L377.10,480.65 L377.41,480.65 L377.41,481.50 L377.81,481.50 L377.81,482.59 L378.20,482.59 L378.20,481.84 L378.56,481.84 L378.56,481.49 L378.86,481.49 L378.86,478.47 L379.17,478.47 L379.17,478.51 L379.56,478.51 L379.56,481.88 L379.93,481.88 L379.93,481.35 L380.31,481.35 L380.31,481.64 L380.80,481.64 L380.80,482.77 L381.16,482.77 L381.16,480.80 L381.57,480.80 L381.57,481.63 L381.94,481.63 L381.94,482.29 L382.49,482.29 L382.49,481.80 L382.87,481.80 L382.87,480.43 L383.33,480.43 L383.33,481.18 L383.64,481.18 L383.64,481.50 L384.17,481.50 L384.17,482.43 L384.70,482.43 L384.70,481.33 L385.01,481.33 L385.01,481.74 L385.48,481.74 L385.48,479.21 L385.79,479.21 L385.79,481.67 L386.28,481.67 L386.28,481.98 L386.69,481.98 L386.69,482.44 L387.17,482.44 L387.17,482.80 L387.68,482.80 L387.68,481.53 L388.01,481.53 L388.01,482.48 L388.55,482.48 L388.55,479.52 L388.90,479.52 L388.90,481.78 L389.41,481.78 L389.41,480.46 L389.83,480.46 L389.83,482.34 L390.23,482.34 L390.23,479.36 L390.65,479.36 L390.65,481.91 L391.14,481.91 L391.14,481.35 L391.48,481.35 L391.48,482.32 L391.87,482.32 L391.87,482.42 L392.32,482.42 L392.32,482.07 L392.76,482.07 L392.76,481.88 L393.21,481.88 L393.21,478.00 L393.59,478.00 L393.59,482.21 L393.96,482.21 L393.96,481.49 L394.32,481.49 L394.32,480.97 L394.71,480.97 L394.71,481.86 L395.17,481.86 L395.17,478.24 L395.70,478.24 L395.70,481.96 L396.05,481.96 L396.05,482.39 L396.43,482.39 L396.43,482.41 L396.91,482.41 L396.91,481.72 L397.29,481.72 L397.29,479.44 L397.78,479.44 L397.78,482.38 L398.28,482.38 L398.28,482.71 L398.71,482.71 L398.71,482.51 L399.20,482.51 L399.20,479.98 L399.73,479.98 L399.73,482.08 L400.27,482.08 L400.27,482.19 L400.78,482.19 L400.78,482.24 L401.15,482.24 L401.15,482.25 L401.51,482.25 L401.51,482.61 L401.84,482.61 L401.84,482.43 L402.21,482.43 L402.21,482.13 L402.73,482.13 L402.73,480.76 L403.25,480.76 L403.25,481.80 L403.73,481.80 L403.73,481.52 L404.26,481.52 L404.26,482.25 L404.57,482.25 L404.57,481.95 L405.07,481.95 L405.07,482.33 L405.46,482.33 L405.46,479.28 L405.89,479.28 L405.89,482.29 L406.25,482.29 L406.25,482.36 L406.78,482.36 L406.78,482.64 L407.31,482.64 L407.31,482.19 L407.64,482.19 L407.64,482.05 L408.16,482.05 L408.16,481.93 L408.47,481.93 L408.47,482.25 L409.02,482.25 L409.02,480.48 L409.51,480.48 L409.51,482.78 L409.95,482.78 L409.95,482.26 L410.33,482.26 L410.33,482.64 L410.81,482.64 L410.81,482.19 L411.13,482.19 L411.13,481.97 L411.67,481.97 L411.67,482.70 L412.05,482.70 L412.05,481.64 L412.58,481.64 L412.58,479.07 L413.11,479.07 L413.11,479.47 L413.42,479.47 L413.42,481.90 L413.89,481.90 L413.89,481.75 L414.42,481.75 L414.42,482.42 L414.96,482.42 L414.96,483.18 L415.48,483.18 L415.48,482.58 L415.79,482.58 L415.79,481.36 L416.22,481.36 L416.22,481.27 L416.72,481.27 L416.72,483.28 L417.22,483.28 L417.22,480.54 L417.62,480.54 L417.62,482.62 L417.93,482.62 L417.93,482.43 L418.37,482.43 L418.37,482.51 L418.84,482.51 L418.84,482.73 L419.36,482.73 L419.36,483.07 L419.72,483.07 L419.72,481.26 L420.11,481.26 L420.11,482.00 L420.47,482.00 L420.47,482.67 L420.99,482.67 L420.99,482.97 L421.37,482.97 L421.37,481.67 L421.84,481.67 L421.84,481.93 L422.16,481.93 L422.16,482.52 L422.51,482.52 L422.51,477.84 L422.90,477.84 L422.90,480.38 L423.45,480.38 L423.45,482.98 L423.95,482.98 L423.95,482.38 L424.45,482.38 L424.45,482.78 L424.89,482.78 L424.89,482.16 L425.40,482.16 L425.40,482.67 L425.79,482.67 L425.79,480.61 L426.13,480.61 L426.13,480.91 L426.67,480.91 L426.67,482.30 L427.20,482.30 L427.20,481.95 L427.74,481.95 L427.74,483.19 L428.21,483.19 L428.21,481.36 L428.75,481.36 L428.75,482.64 L429.08,482.64 L429.08,480.12 L429.39,480.12 L429.39,482.90 L429.71,482.90 L429.71,483.07 L430.04,483.07 L430.04,482.25 L430.48,482.25 L430.48,482.11 L431.02,482.11 L431.02,483.20 L431.33,483.20 L431.33,481.69 L431.87,481.69 L431.87,482.98 L432.25,482.98 L432.25,482.74 L432.75,482.74 L432.75,482.13 L433.20,482.13 L433.20,482.22 L433.54,482.22 L433.54,478.53 L433.85,478.53 L433.85,482.43 L434.16,482.43 L434.16,483.25 L434.65,483.25 L434.65,483.41 L435.00,483.41 L435.00,482.21 L435.47,482.21 L435.47,483.03 L435.77,483.03 L435.77,483.33 L436.14,483.33 L436.14,482.63 L436.55,482.63 L436.55,482.72 L436.94,482.72 L436.94,481.97 L437.35,481.97 L437.35,482.53 L437.73,482.53 L437.73,482.65 L438.26,482.65 L438.26,480.59 L438.60,480.59 L438.60,478.55 L438.98,478.55 L438.98,482.07 L439.34,482.07 L439.34,483.02 L439.87,483.02 L439.87,483.34 L440.34,483.34 L440.34,482.49 L440.77,482.49 L440.77,482.17 L441.16,482.17 L441.16,482.91 L441.53,482.91 L441.53,482.13 L441.95,482.13 L441.95,482.85 L442.37,482.85 L442.37,479.27 L442.74,479.27 L442.74,483.27 L443.24,483.27 L443.24,481.55 L443.74,481.55 L443.74,480.91 L444.16,480.91 L444.16,482.49 L444.70,482.49 L444.70,482.62 L445.07,482.62 L445.07,482.32 L445.46,482.32 L445.46,483.32 L445.97,483.32 L445.97,478.84 L446.49,478.84 L446.49,481.45 L446.97,481.45 L446.97,481.35 L447.32,481.35 L447.32,482.75 L447.68,482.75 L447.68,483.06 L448.11,483.06 L448.11,481.76 L448.56,481.76 L448.56,480.09 L449.02,480.09 L449.02,482.51 L449.35,482.51 L449.35,480.77 L449.72,480.77 L449.72,482.33 L450.21,482.33 L450.21,481.98 L450.54,481.98 L450.54,483.20 L451.06,483.20 L451.06,481.53 L451.58,481.53 L451.58,480.20 L452.04,480.20 L452.04,482.92 L452.43,482.92 L452.43,483.62 L452.93,483.62 L452.93,482.49 L453.42,482.49 L453.42,482.52 L453.80,482.52 L453.80,483.41 L454.26,483.41 L454.26,480.19 L454.64,480.19 L454.64,480.49 L455.02,480.49 L455.02,482.09 L455.56,482.09 L455.56,482.85 L455.93,482.85 L455.93,482.75 L456.24,482.75 L456.24,482.40 L456.65,482.40 L456.65,483.02 L457.00,483.02 L457.00,483.16 L457.39,483.16 L457.39,483.78 L457.78,483.78 L457.78,480.23 L458.24,480.23 L458.24,483.02 L458.59,483.02 L458.59,480.04 L458.92,480.04 L458.92,482.32 L459.42,482.32 L459.42,482.38 L459.95,482.38 L459.95,482.95 L460.39,482.95 L460.39,482.38 L460.73,482.38 L460.73,483.31 L461.07,483.31 L461.07,483.19 L461.55,483.19 L461.55,482.99 L462.04,482.99 L462.04,482.14 L462.46,482.14 L462.46,483.52 L462.87,483.52 L462.87,480.86 L463.19,480.86 L463.19,483.57 L463.66,483.57 L463.66,483.51 L464.07,483.51 L464.07,482.07 L464.47,482.07 L464.47,482.26 L464.92,482.26 L464.92,482.60 L465.26,482.60 L465.26,483.26 L465.56,483.26 L465.56,483.41 L465.98,483.41 L465.98,480.57 L466.49,480.57 L466.49,482.69 L466.87,482.69 L466.87,483.16 L467.24,483.16 L467.24,481.67 L467.67,481.67 L467.67,483.18 L468.19,483.18 L468.19,482.14 L468.67,482.14 L468.67,483.22 L469.08,483.22 L469.08,483.31 L469.54,483.31 L469.54,483.36 L470.03,483.36 L470.03,483.03 L470.55,483.03 L470.55,483.22 L471.07,483.22 L471.07,481.69 L471.47,481.69 L471.47,482.13 L471.85,482.13 L471.85,480.32 L472.31,480.32 L472.31,482.99 L472.78,482.99 L472.78,482.34 L473.21,482.34 L473.21,482.94 L473.69,482.94 L473.69,483.51 L474.18,483.51 L474.18,482.90 L474.53,482.90 L474.53,478.55 L474.88,478.55 L474.88,483.40 L475.33,483.40 L475.33,481.58 L475.73,481.58 L475.73,482.37 L476.22,482.37 L476.22,482.67 L476.58,482.67 L476.58,482.75 L477.02,482.75 L477.02,483.28 L477.51,483.28 L477.51,482.53 L478.05,482.53 L478.05,483.07 L478.48,483.07 L478.48,483.62 L478.94,483.62 L478.94,482.37 L479.31,482.37 L479.31,483.02 L479.65,483.02 L479.65,483.09 L480.08,483.09 L480.08,482.58 L480.62,482.58 L480.62,482.42 L480.94,482.42 L480.94,482.73 L481.41,482.73 L481.41,483.10 L481.78,483.10 L481.78,483.13 L482.08,483.13 L482.08,482.80 L482.42,482.80 L482.42,481.79 L482.95,481.79 L482.95,483.84 L483.28,483.84 L483.28,482.48 L483.77,482.48 L483.77,483.33 L484.24,483.33 L484.24,482.40 L484.76,482.40 L484.76,482.81 L485.23,482.81 L485.23,481.77 L485.59,481.77 L485.59,483.53 L486.00,483.53 L486.00,482.79 L486.45,482.79 L486.45,483.30 L486.80,483.30 L486.80,483.67 L487.35,483.67 L487.35,483.43 L487.75,483.43 L487.75,481.08 L488.22,481.08 L488.22,483.71 L488.70,483.71 L488.70,481.88 L489.22,481.88 L489.22,483.67 L489.57,483.67 L489.57,483.76 L490.05,483.76 L490.05,482.33 L490.48,482.33 L490.48,483.81 L490.80,483.81 L490.80,479.66 L491.25,479.66 L491.25,483.66 L491.57,483.66 L491.57,483.06 L491.92,483.06 L491.92,482.99 L492.39,482.99 L492.39,483.46 L492.76,483.46 L492.76,483.50 L493.15,483.50 L493.15,483.82 L493.52,483.82 L493.52,483.96 L493.96,483.96 L493.96,484.06 L494.48,484.06 L494.48,483.29 L494.85,483.29 L494.85,482.28 L495.31,482.28 L495.31,482.69 L495.73,482.69 L495.73,483.59 L496.16,483.59 L496.16,483.28 L496.59,483.28 L496.59,481.51 L496.95,481.51 L496.95,484.02 L497.26,484.02 L497.26,482.84 L497.63,482.84 L497.63,482.16 L498.14,482.16 L498.14,482.72 L498.62,482.72 L498.62,483.59 L499.06,483.59 L499.06,478.85 L499.59,478.85 L499.59,483.78 L499.95,483.78 L499.95,482.95 L500.38,482.95 L500.38,482.17 L500.81,482.17 L500.81,483.69 L501.36,483.69 L501.36,484.29 L501.76,484.29 L501.76,483.91 L502.20,483.91 L502.20,483.23 L502.69,483.23 L502.69,483.17 L503.03,483.17 L503.03,481.77 L503.50,481.77 L503.50,483.73 L503.94,483.73 L503.94,483.37 L504.39,483.37 L504.39,484.24 L504.86,484.24 L504.86,484.29 L505.35,484.29 L505.35,481.00 L505.79,481.00 L505.79,483.41 L506.15,483.41 L506.15,482.63 L506.64,482.63 L506.64,484.46 L507.14,484.46 L507.14,484.22 L507.45,484.22 L507.45,483.77 L507.99,483.77 L507.99,484.02 L508.50,484.02 L508.50,483.39 L508.95,483.39 L508.95,483.88 L509.39,483.88 L509.39,482.52 L509.75,482.52 L509.75,483.88 L510.18,483.88 L510.18,483.64 L510.55,483.64 L510.55,482.80 L510.86,482.80 L510.86,484.19 L511.24,484.19 L511.24,482.78 L511.78,482.78 L511.78,483.13 L512.18,483.13 L512.18,483.42 L512.49,483.42 L512.49,483.78 L512.93,483.78 L512.93,484.56 L513.47,484.56 L513.47,483.96 L513.81,483.96 L513.81,481.70 L514.15,481.70 L514.15,483.58 L514.64,483.58 L514.64,483.98 L514.99,483.98 L514.99,484.07 L515.51,484.07 L515.51,484.42 L515.93,484.42 L515.93,483.09 L516.41,483.09 L516.41,482.84 L516.72,482.84 L516.72,483.94 L517.07,483.94 L517.07,484.62 L517.58,484.62 L517.58,484.33 L517.90,484.33 L517.90,483.17 L518.43,483.17 L518.43,484.55 L518.80,484.55 L518.80,484.45 L519.15,484.45 L519.15,484.08 L519.49,484.08 L519.49,483.86 L519.83,483.86 L519.83,483.60 L520.22,483.60 L520.22,484.35 L520.68,484.35 L520.68,484.18 L520.98,484.18 L520.98,483.22 L521.38,483.22 L521.38,481.51 L521.71,481.51 L521.71,483.23 L522.10,483.23 L522.10,481.84 L522.41,481.84 L522.41,484.20 L522.90,484.20 L522.90,483.00 L523.43,483.00 L523.43,484.13 L523.95,484.13 L523.95,484.13 L524.49,484.13 L524.49,482.24 L524.88,482.24 L524.88,481.15 L525.41,481.15 L525.41,482.17 L525.96,482.17 L525.96,483.16 L526.50,483.16 L526.50,484.19 L526.94,484.19 L526.94,483.19 L527.25,483.19 L527.25,484.06 L527.63,484.06 L527.63,484.20 L528.04,484.20 L528.04,479.89 L528.41,479.89 L528.41,483.40 L528.76,483.40 L528.76,484.05 L529.20,484.05 L529.20,484.62 L529.50,484.62 L529.50,484.45 L529.87,484.45 L529.87,483.17 L530.18,483.17 L530.18,484.11 L530.60,484.11 L530.60,482.43 L531.14,482.43 L531.14,484.21 L531.54,484.21 L531.54,483.31 L531.95,483.31 L531.95,484.26 L532.45,484.26 L532.45,484.02 L532.90,484.02 L532.90,484.76 L533.31,484.76 L533.31,483.47 L533.75,483.47 L533.75,481.02 L534.06,481.02 L534.06,484.81 L534.48,484.81 L534.48,483.22 L534.91,483.22 L534.91,483.89 L535.24,483.89 L535.24,484.48 L535.60,484.48 L535.60,484.74 L535.92,484.74 L535.92,484.45 L536.37,484.45 L536.37,483.98 L536.70,483.98 L536.70,483.21 L537.22,483.21 L537.22,483.72 L537.73,483.72 L537.73,480.85 L538.11,480.85 L538.11,483.46 L538.52,483.46 L538.52,484.33 L538.89,484.33 L538.89,483.88 L539.32,483.88 L539.32,484.81 L539.77,484.81 L539.77,479.92 L540.27,479.92 L540.27,484.21 L540.69,484.21 L540.69,483.98 L541.22,483.98 L541.22,484.20 L541.64,484.20 L541.64,479.95 L541.95,479.95 L541.95,484.68 L542.42,484.68 L542.42,484.78 L542.83,484.78 L542.83,483.22 L543.24,483.22 L543.24,484.40 L543.76,484.40 L543.76,484.90 L544.28,484.90 L544.28,484.61 L544.62,484.61 L544.62,483.12 L544.93,483.12 L544.93,484.39 L545.35,484.39 L545.35,484.63 L545.88,484.63 L545.88,484.71 L546.37,484.71 L546.37,484.98 L546.84,484.98 L546.84,482.52 L547.34,482.52 L547.34,484.93 L547.79,484.93 L547.79,484.45 L548.32,484.45 L548.32,483.97 L548.63,483.97 L548.63,481.61 L549.09,481.61 L549.09,483.66 L549.61,483.66 L549.61,484.58 L550.04,484.58 L550.04,484.28 L550.58,484.28 L550.58,484.31 L551.02,484.31 L551.02,484.77 L551.50,484.77 L551.50,484.27 L551.91,484.27 L551.91,483.45 L552.32,483.45 L552.32,485.00 L552.66,485.00 L552.66,483.98 L553.13,483.98 L553.13,484.50 L553.47,484.50 L553.47,483.66 L553.80,483.66 L553.80,483.86 L554.26,483.86 L554.26,483.79 L554.77,483.79 L554.77,484.08 L555.24,484.08 L555.24,484.46 L555.63,484.46 L555.63,484.39 L556.02,484.39 L556.02,483.12 L556.49,483.12 L556.49,484.22 L556.95,484.22 L556.95,484.72 L557.27,484.72 L557.27,482.27 L557.65,482.27 L557.65,484.89 L557.98,484.89 L557.98,482.69 L558.30,482.69 L558.30,483.72 L558.66,483.72 L558.66,484.28 L559.08,484.28 L559.08,484.81 L559.48,484.81 L559.48,483.84 L559.79,483.84 L559.79,483.31 L560.17,483.31 L560.17,485.04 L560.49,485.04 L560.49,483.90 L560.80,483.90 L560.80,484.13 L561.18,484.13 L561.18,484.76 L561.56,484.76 L561.56,484.26 L562.10,484.26 L562.10,483.94 L562.43,483.94 L562.43,484.71 L562.87,484.71 L562.87,485.17 L563.27,485.17 L563.27,480.60 L563.71,480.60 L563.71,481.76 L564.20,481.76 L564.20,484.32 L564.70,484.32 L564.70,484.76 L565.13,484.76 L565.13,484.40 L565.61,484.40 L565.61,484.12 L566.11,484.12 L566.11,484.76 L566.44,484.76 L566.44,485.18 L566.98,485.18 L566.98,484.64 L567.40,484.64 L567.40,484.72 L567.89,484.72 L567.89,483.41 L568.39,483.41 L568.39,484.65 L568.72,484.65 L568.72,484.78 L569.08,484.78 L569.08,484.08 L569.55,484.08 L569.55,484.46 L569.90,484.46 L569.90,484.85 L570.37,484.85 L570.37,485.23 L570.72,485.23 L570.72,484.28 L571.02,484.28 L571.02,483.11 L571.41,483.11 L571.41,483.69 L571.96,483.69 L571.96,484.01 L572.46,484.01 L572.46,484.65 L572.79,484.65 L572.79,485.12 L573.32,485.12 L573.32,484.30 L573.65,484.30 L573.65,485.00 L574.11,485.00 L574.11,483.62 L574.52,483.62 L574.52,484.61 L574.91,484.61 L574.91,484.12 L575.39,484.12 L575.39,484.51 L575.73,484.51 L575.73,485.02 L576.12,485.02 L576.12,485.42 L576.52,485.42 L576.52,483.22 L576.83,483.22 L576.83,484.90 L577.21,484.90 L577.21,484.61 L577.72,484.61 L577.72,485.12 L578.05,485.12 L578.05,484.18 L578.40,484.18 L578.40,483.63 L578.72,483.63 L578.72,485.08 L579.22,485.08 L579.22,484.76 L579.63,484.76 L579.63,484.75 L580.13,484.75 L580.13,483.85 L580.66,483.85 L580.66,482.21 L581.19,482.21 L581.19,481.03 L581.54,481.03 L581.54,484.98 L581.92,484.98 L581.92,483.62 L582.39,483.62 L582.39,483.35 L582.91,483.35 L582.91,485.25 L583.28,485.25 L583.28,484.93 L583.81,484.93 L583.81,483.66 L584.13,483.66 L584.13,484.26 L584.52,484.26 L584.52,485.44 L584.83,485.44 L584.83,484.65 L585.23,484.65 L585.23,484.98 L585.53,484.98 L585.53,484.86 L585.95,484.86 L585.95,485.13 L586.27,485.13 L586.27,485.15 L586.60,485.15 L586.60,485.04 L586.90,485.04 L586.90,484.72 L587.31,484.72 L587.31,485.33 L587.64,485.33 L587.64,484.45 L588.06,484.45 L588.06,484.19 L588.49,484.19 L588.49,483.54 L589.01,483.54 L589.01,484.22 L589.43,484.22 L589.43,484.58 L589.86,484.58 L589.86,483.41 L590.17,483.41 L590.17,484.37 L590.62,484.37 L590.62,485.12 L591.04,485.12 L591.04,482.77 L591.38,482.77 L591.38,485.25 L591.87,485.25 L591.87,484.22 L592.24,484.22 L592.24,485.20 L592.60,485.20 L592.60,483.36 L593.10,483.36 L593.10,485.52 L593.57,485.52 L593.57,485.27 L594.11,485.27 L594.11,485.42 L594.53,485.42 L594.53,485.48 L595.05,485.48 L595.05,485.10 L595.46,485.10 L595.46,484.61 L595.79,484.61 L595.79,485.12 L596.20,485.12 L596.20,484.71 L596.74,484.71 L596.74,483.07 L597.25,483.07 L597.25,485.43 L597.66,485.43 L597.66,484.59 L598.05,484.59 L598.05,484.89 L598.35,484.89 L598.35,485.57 L598.84,485.57 L598.84,485.30 L599.20,485.30 L599.20,484.30 L599.72,484.30 L599.72,485.60 L600.26,485.60 L600.26,484.13 L600.68,484.13 L600.68,484.09 L601.11,484.09 L601.11,485.04 L601.57,485.04 L601.57,484.76 L601.91,484.76 L601.91,485.09 L602.27,485.09 L602.27,482.59 L602.80,482.59 L602.80,483.68 L603.30,483.68 L603.30,485.50 L603.79,485.50 L603.79,483.77 L604.10,483.77 L604.10,484.70 L604.52,484.70 L604.52,481.15 L604.93,481.15 L604.93,484.54 L605.40,484.54 L605.40,484.80 L605.72,484.80 L605.72,484.24 L606.22,484.24 L606.22,485.47 L606.63,485.47 L606.63,484.83 L606.96,484.83 L606.96,485.50 L607.32,485.50 L607.32,485.61 L607.73,485.61 L607.73,483.36 L608.20,483.36 L608.20,484.15 L608.65,484.15 L608.65,484.69 L609.04,484.69 L609.04,485.72 L609.50,485.72 L609.50,484.94 L610.03,484.94 L610.03,484.77 L610.53,484.77 L610.53,483.94 L611.08,483.94 L611.08,485.73 L611.53,485.73 L611.53,483.87 L611.99,483.87 L611.99,485.81 L612.49,485.81 L612.49,481.90 L612.94,481.90 L612.94,484.22 L613.49,484.22 L613.49,483.75 L613.89,483.75 L613.89,485.70 L614.28,485.70 L614.28,485.03 L614.65,485.03 L614.65,485.57 L615.02,485.57 L615.02,485.73 L615.47,485.73 L615.47,484.39 L615.86,484.39 L615.86,485.32 L616.29,485.32 L616.29,485.95 L616.66,485.95 L616.66,485.27 L617.09,485.27 L617.09,485.52 L617.52,485.52 L617.52,485.70 L617.89,485.70 L617.89,484.34 L618.37,484.34 L618.37,483.99 L618.85,483.99 L618.85,485.98 L619.34,485.98 L619.34,481.63 L619.83,481.63 L619.83,485.32 L620.29,485.32 L620.29,485.67 L620.83,485.67 L620.83,485.59 L621.38,485.59 L621.38,485.88 L621.84,485.88 L621.84,485.81 L622.22,485.81 L622.22,485.49 L622.69,485.49 L622.69,481.53 L623.21,481.53 L623.21,485.40 L623.71,485.40 L623.71,485.39 L624.03,485.39 L624.03,483.54 L624.36,483.54 L624.36,485.14 L624.66,485.14 L624.66,485.70 L625.19,485.70 L625.19,485.15 L625.60,485.15 L625.60,485.16 L625.91,485.16 L625.91,483.66 L626.38,483.66 L626.38,485.06 L626.85,485.06 L626.85,484.77 L627.30,484.77 L627.30,485.36 L627.67,485.36 L627.67,484.17 L628.05,484.17 L628.05,485.42 L628.40,485.42 L628.40,483.38 L628.89,483.38 L628.89,484.93 L629.20,484.93 L629.20,486.14 L629.66,486.14 L629.66,483.22 L630.03,483.22 L630.03,485.94 L630.37,485.94 L630.37,485.69 L630.77,485.69 L630.77,483.47 L631.15,483.47 L631.15,485.17 L631.48,485.17 L631.48,485.48 L632.00,485.48 L632.00,485.24 L632.35,485.24 L632.35,484.38 L632.84,484.38 L632.84,486.05 L633.38,486.05 L633.38,483.59 L633.81,483.59 L633.81,485.92 L634.34,485.92 L634.34,486.02 L634.65,486.02 L634.65,485.48 L634.97,485.48 L634.97,485.96 L635.38,485.96 L635.38,485.09 L635.70,485.09 L635.70,486.02 L636.11,486.02 L636.11,485.66 L636.62,485.66 L636.62,485.82 L637.12,485.82 L637.12,485.70 L637.55,485.70 L637.55,483.45 L638.03,483.45 L638.03,486.09 L638.45,486.09 L638.45,485.56 L638.77,485.56 L638.77,485.56 L639.08,485.56 L639.08,484.01 L639.59,484.01 L639.59,485.51 L640.14,485.51 L640.14,485.23 L640.68,485.23 L640.68,486.33 L641.01,486.33 L641.01,485.01 L641.46,485.01 L641.46,486.08 L641.92,486.08 L641.92,486.27 L642.37,486.27 L642.37,484.73 L642.87,484.73 L642.87,486.09 L643.21,486.09 L643.21,486.18 L643.73,486.18 L643.73,484.70 L644.15,484.70 L644.15,484.45 L644.66,484.45 L644.66,485.84 L645.04,485.84 L645.04,485.25 L645.46,485.25 L645.46,485.67 L645.87,485.67 L645.87,483.09 L646.36,483.09 L646.36,483.85 L646.73,483.85 L646.73,486.13 L647.20,486.13 L647.20,485.41 L647.53,485.41 L647.53,486.17 L647.95,486.17 L647.95,486.05 L648.45,486.05 L648.45,484.52 L648.87,484.52 L648.87,486.27 L649.36,486.27 L649.36,485.81 L649.70,485.81 L649.70,486.26 L650.03,486.26 L650.03,486.07 L650.36,486.07 L650.36,485.33 L650.88,485.33 L650.88,486.14 L651.25,486.14 L651.25,485.39 L651.71,485.39 L651.71,486.21 L652.06,486.21 L652.06,484.81 L652.60,484.81 L652.60,486.04 L652.91,486.04 L652.91,485.87 L653.44,485.87 L653.44,486.32 L653.75,486.32 L653.75,485.24 L654.26,485.24 L654.26,486.54 L654.71,486.54 L654.71,485.71 L655.24,485.71 L655.24,485.97 L655.69,485.97 L655.69,485.31 L656.05,485.31 L656.05,485.24 L656.57,485.24 L656.57,483.91 L657.02,483.91 L657.02,485.67 L657.40,485.67 L657.40,486.59 L657.85,486.59 L657.85,486.47 L658.34,486.47 L658.34,485.45 L658.71,485.45 L658.71,484.26 L659.22,484.26 L659.22,482.99 L659.67,482.99 L659.67,485.39 L660.12,485.39 L660.12,486.15 L660.56,486.15 L660.56,485.75 L661.07,485.75 L661.07,486.13 L661.38,486.13 L661.38,486.07 L661.89,486.07 L661.89,485.85 L662.34,485.85 L662.34,485.52 L662.78,485.52 L662.78,486.24 L663.11,486.24 L663.11,484.73 L663.65,484.73 L663.65,485.91 L664.08,485.91 L664.08,486.37 L664.58,486.37 L664.58,486.53 L664.95,486.53 L664.95,486.51 L665.27,486.51 L665.27,486.36 L665.73,486.36 L665.73,485.67 L666.15,485.67 L666.15,486.19 L666.56,486.19 L666.56,486.24 L667.05,486.24 L667.05,483.49 L667.50,483.49 L667.50,485.34 L667.87,485.34 L667.87,486.17 L668.36,486.17 L668.36,486.29 L668.90,486.29 L668.90,485.76 L669.45,485.76 L669.45,486.13 L669.77,486.13 L669.77,486.13 L670.25,486.13 L670.25,485.29 L670.66,485.29 L670.66,485.72 L671.11,485.72 L671.11,485.69 L671.55,485.69 L671.55,485.93 L672.03,485.93 L672.03,483.82 L672.45,483.82 L672.45,486.23 L672.84,486.23 L672.84,485.04 L673.18,485.04 L673.18,486.38 L673.61,486.38 L673.61,486.31 L674.13,486.31 L674.13,483.85 L674.60,483.85 L674.60,489.39 L674.22,489.39 L674.22,490.37 L673.82,490.37 L673.82,489.47 L673.30,489.47 L673.30,489.81 L672.92,489.81 L672.92,489.98 L672.42,489.98 L672.42,489.44 L671.93,489.44 L671.93,489.64 L671.60,489.64 L671.60,490.65 L671.12,490.65 L671.12,489.72 L670.62,489.72 L670.62,489.47 L670.24,489.47 L670.24,489.60 L669.76,489.60 L669.76,489.50 L669.40,489.50 L669.40,489.56 L668.99,489.56 L668.99,489.46 L668.61,489.46 L668.61,489.33 L668.19,489.33 L668.19,489.61 L667.70,489.61 L667.70,490.68 L667.21,490.68 L667.21,489.39 L666.91,489.39 L666.91,489.42 L666.44,489.42 L666.44,489.61 L666.11,489.61 L666.11,489.50 L665.72,489.50 L665.72,489.52 L665.39,489.52 L665.39,489.85 L664.90,489.85 L664.90,490.23 L664.57,490.23 L664.57,489.47 L664.21,489.47 L664.21,490.41 L663.76,490.41 L663.76,491.28 L663.21,491.28 L663.21,489.48 L662.73,489.48 L662.73,490.37 L662.42,490.37 L662.42,490.22 L662.04,490.22 L662.04,489.07 L661.52,489.07 L661.52,489.21 L661.13,489.21 L661.13,490.03 L660.71,490.03 L660.71,490.67 L660.32,490.67 L660.32,489.67 L659.92,489.67 L659.92,489.56 L659.60,489.56 L659.60,489.34 L659.13,489.34 L659.13,489.75 L658.78,489.75 L658.78,490.04 L658.29,490.04 L658.29,489.69 L657.96,489.69 L657.96,489.09 L657.53,489.09 L657.53,489.31 L657.08,489.31 L657.08,491.10 L656.68,491.10 L656.68,489.33 L656.38,489.33 L656.38,489.15 L655.93,489.15 L655.93,489.93 L655.42,489.93 L655.42,489.69 L654.92,489.69 L654.92,489.68 L654.46,489.68 L654.46,489.39 L653.97,489.39 L653.97,489.26 L653.44,489.26 L653.44,490.46 L653.06,490.46 L653.06,489.99 L652.54,489.99 L652.54,489.53 L652.06,489.53 L652.06,489.44 L651.63,489.44 L651.63,489.18 L651.17,489.18 L651.17,489.79 L650.79,489.79 L650.79,489.26 L650.27,489.26 L650.27,490.34 L649.94,490.34 L649.94,489.06 L649.56,489.06 L649.56,489.44 L649.15,489.44 L649.15,489.59 L648.70,489.59 L648.70,489.56 L648.34,489.56 L648.34,489.25 L647.94,489.25 L647.94,489.90 L647.51,489.90 L647.51,489.62 L646.98,489.62 L646.98,490.36 L646.54,490.36 L646.54,489.79 L646.16,489.79 L646.16,489.38 L645.68,489.38 L645.68,489.32 L645.31,489.32 L645.31,488.97 L644.84,488.97 L644.84,489.87 L644.51,489.87 L644.51,489.13 L644.11,489.13 L644.11,489.24 L643.62,489.24 L643.62,489.44 L643.27,489.44 L643.27,489.00 L642.81,489.00 L642.81,489.47 L642.46,489.47 L642.46,490.23 L641.96,490.23 L641.96,489.70 L641.55,489.70 L641.55,489.81 L641.11,489.81 L641.11,489.13 L640.77,489.13 L640.77,489.86 L640.27,489.86 L640.27,489.26 L639.91,489.26 L639.91,490.03 L639.40,490.03 L639.40,489.38 L638.87,489.38 L638.87,490.42 L638.48,490.42 L638.48,489.59 L638.01,489.59 L638.01,489.33 L637.65,489.33 L637.65,489.06 L637.12,489.06 L637.12,489.21 L636.60,489.21 L636.60,489.61 L636.14,489.61 L636.14,489.32 L635.65,489.32 L635.65,490.04 L635.20,490.04 L635.20,488.94 L634.84,488.94 L634.84,489.82 L634.39,489.82 L634.39,489.33 L633.98,489.33 L633.98,489.19 L633.52,489.19 L633.52,489.41 L633.08,489.41 L633.08,488.83 L632.75,488.83 L632.75,490.08 L632.23,490.08 L632.23,488.84 L631.93,488.84 L631.93,489.25 L631.40,489.25 L631.40,490.27 L630.87,490.27 L630.87,489.28 L630.37,489.28 L630.37,488.96 L630.04,488.96 L630.04,489.09 L629.68,489.09 L629.68,489.34 L629.32,489.34 L629.32,489.53 L628.79,489.53 L628.79,489.77 L628.25,489.77 L628.25,489.17 L627.80,489.17 L627.80,489.58 L627.41,489.58 L627.41,489.15 L627.07,489.15 L627.07,489.22 L626.67,489.22 L626.67,489.27 L626.26,489.27 L626.26,489.68 L625.73,489.68 L625.73,489.63 L625.32,489.63 L625.32,488.83 L624.86,488.83 L624.86,489.02 L624.34,489.02 L624.34,488.80 L624.00,488.80 L624.00,489.29 L623.56,489.29 L623.56,489.00 L623.09,489.00 L623.09,489.76 L622.59,489.76 L622.59,489.17 L622.21,489.17 L622.21,489.04 L621.76,489.04 L621.76,489.18 L621.42,489.18 L621.42,489.09 L621.07,489.09 L621.07,489.89 L620.58,489.89 L620.58,489.59 L620.11,489.59 L620.11,489.32 L619.62,489.32 L619.62,490.22 L619.09,490.22 L619.09,489.53 L618.68,489.53 L618.68,488.91 L618.27,488.91 L618.27,488.80 L617.83,488.80 L617.83,488.88 L617.32,488.88 L617.32,488.87 L616.85,488.87 L616.85,488.96 L616.33,488.96 L616.33,489.51 L615.84,489.51 L615.84,489.02 L615.40,489.02 L615.40,490.67 L614.88,490.67 L614.88,488.83 L614.43,488.83 L614.43,489.13 L613.99,489.13 L613.99,490.10 L613.54,490.10 L613.54,489.15 L613.02,489.15 L613.02,488.86 L612.70,488.86 L612.70,489.07 L612.37,489.07 L612.37,489.01 L611.91,489.01 L611.91,489.74 L611.60,489.74 L611.60,489.01 L611.20,489.01 L611.20,489.18 L610.69,489.18 L610.69,489.18 L610.27,489.18 L610.27,489.24 L609.86,489.24 L609.86,489.18 L609.37,489.18 L609.37,488.68 L608.85,488.68 L608.85,489.60 L608.53,489.60 L608.53,488.83 L608.06,488.83 L608.06,489.09 L607.73,489.09 L607.73,488.75 L607.35,488.75 L607.35,488.74 L607.01,488.74 L607.01,488.64 L606.60,488.64 L606.60,488.70 L606.26,488.70 L606.26,488.66 L605.84,488.66 L605.84,488.73 L605.36,488.73 L605.36,489.46 L604.88,489.46 L604.88,490.10 L604.58,490.10 L604.58,488.91 L604.20,488.91 L604.20,489.81 L603.85,489.81 L603.85,488.54 L603.33,488.54 L603.33,489.17 L602.90,489.17 L602.90,489.76 L602.36,489.76 L602.36,488.95 L601.92,488.95 L601.92,489.46 L601.56,489.46 L601.56,488.87 L601.25,488.87 L601.25,489.50 L600.77,489.50 L600.77,489.47 L600.41,489.47 L600.41,489.24 L599.93,489.24 L599.93,489.15 L599.47,489.15 L599.47,490.42 L599.03,490.42 L599.03,489.70 L598.70,489.70 L598.70,489.11 L598.21,489.11 L598.21,489.04 L597.67,489.04 L597.67,488.70 L597.15,488.70 L597.15,488.91 L596.67,488.91 L596.67,488.57 L596.23,488.57 L596.23,488.78 L595.69,488.78 L595.69,488.71 L595.30,488.71 L595.30,489.63 L594.78,489.63 L594.78,488.95 L594.43,488.95 L594.43,488.83 L594.13,488.83 L594.13,488.59 L593.63,488.59 L593.63,489.12 L593.11,489.12 L593.11,488.38 L592.58,488.38 L592.58,488.94 L592.09,488.94 L592.09,488.68 L591.76,488.68 L591.76,489.35 L591.37,489.35 L591.37,489.23 L590.98,489.23 L590.98,488.66 L590.65,488.66 L590.65,488.55 L590.23,488.55 L590.23,488.91 L589.69,488.91 L589.69,488.49 L589.34,488.49 L589.34,488.67 L588.84,488.67 L588.84,488.70 L588.31,488.70 L588.31,488.46 L587.98,488.46 L587.98,488.93 L587.49,488.93 L587.49,488.86 L587.08,488.86 L587.08,489.39 L586.70,489.39 L586.70,488.90 L586.22,488.90 L586.22,489.08 L585.78,489.08 L585.78,488.97 L585.43,488.97 L585.43,489.05 L585.11,489.05 L585.11,488.99 L584.56,488.99 L584.56,488.97 L584.11,488.97 L584.11,488.98 L583.58,488.98 L583.58,488.77 L583.15,488.77 L583.15,489.91 L582.60,489.91 L582.60,488.34 L582.23,488.34 L582.23,488.81 L581.89,488.81 L581.89,489.44 L581.54,489.44 L581.54,488.26 L581.16,488.26 L581.16,488.91 L580.83,488.91 L580.83,489.02 L580.28,489.02 L580.28,489.20 L579.93,489.20 L579.93,489.49 L579.62,489.49 L579.62,488.83 L579.32,488.83 L579.32,488.71 L578.89,488.71 L578.89,488.27 L578.38,488.27 L578.38,490.36 L577.88,490.36 L577.88,488.38 L577.38,488.38 L577.38,488.95 L577.00,488.95 L577.00,488.39 L576.61,488.39 L576.61,489.27 L576.24,489.27 L576.24,488.39 L575.69,488.39 L575.69,488.96 L575.36,488.96 L575.36,488.43 L574.89,488.43 L574.89,488.72 L574.56,488.72 L574.56,488.88 L574.19,488.88 L574.19,488.63 L573.73,488.63 L573.73,488.70 L573.28,488.70 L573.28,488.79 L572.88,488.79 L572.88,488.83 L572.34,488.83 L572.34,489.52 L571.95,489.52 L571.95,488.31 L571.49,488.31 L571.49,488.39 L570.95,488.39 L570.95,488.32 L570.51,488.32 L570.51,490.04 L570.06,490.04 L570.06,488.71 L569.62,488.71 L569.62,488.85 L569.15,488.85 L569.15,489.73 L568.74,489.73 L568.74,488.97 L568.27,488.97 L568.27,489.19 L567.96,489.19 L567.96,488.44 L567.58,488.44 L567.58,488.36 L567.26,488.36 L567.26,488.94 L566.73,488.94 L566.73,488.59 L566.37,488.59 L566.37,489.20 L565.87,489.20 L565.87,488.64 L565.48,488.64 L565.48,489.06 L565.05,489.06 L565.05,489.01 L564.71,489.01 L564.71,489.24 L564.32,489.24 L564.32,488.53 L563.99,488.53 L563.99,488.99 L563.47,488.99 L563.47,488.51 L562.93,488.51 L562.93,488.37 L562.51,488.37 L562.51,488.80 L561.99,488.80 L561.99,489.00 L561.63,489.00 L561.63,488.70 L561.19,488.70 L561.19,488.72 L560.83,488.72 L560.83,489.38 L560.46,489.38 L560.46,488.69 L560.05,488.69 L560.05,488.99 L559.67,488.99 L559.67,488.39 L559.33,488.39 L559.33,488.88 L558.92,488.88 L558.92,488.19 L558.57,488.19 L558.57,488.79 L558.18,488.79 L558.18,488.90 L557.78,488.90 L557.78,488.16 L557.30,488.16 L557.30,488.20 L556.89,488.20 L556.89,488.35 L556.49,488.35 L556.49,488.47 L556.18,488.47 L556.18,489.05 L555.76,489.05 L555.76,488.56 L555.37,488.56 L555.37,489.38 L554.94,489.38 L554.94,488.88 L554.49,488.88 L554.49,488.32 L554.16,488.32 L554.16,488.33 L553.62,488.33 L553.62,489.42 L553.07,489.42 L553.07,489.14 L552.55,489.14 L552.55,488.15 L552.02,488.15 L552.02,488.51 L551.60,488.51 L551.60,489.56 L551.24,489.56 L551.24,488.59 L550.71,488.59 L550.71,488.88 L550.37,488.88 L550.37,488.47 L549.92,488.47 L549.92,489.13 L549.48,489.13 L549.48,488.43 L548.98,488.43 L548.98,488.68 L548.44,488.68 L548.44,488.27 L547.96,488.27 L547.96,488.07 L547.42,488.07 L547.42,488.51 L547.06,488.51 L547.06,488.79 L546.74,488.79 L546.74,488.71 L546.32,488.71 L546.32,488.23 L545.95,488.23 L545.95,488.58 L545.49,488.58 L545.49,488.30 L544.94,488.30 L544.94,488.85 L544.59,488.85 L544.59,488.70 L544.07,488.70 L544.07,487.85 L543.54,487.85 L543.54,488.43 L543.10,488.43 L543.10,487.88 L542.72,487.88 L542.72,488.66 L542.34,488.66 L542.34,488.86 L541.93,488.86 L541.93,487.83 L541.44,487.83 L541.44,489.04 L541.07,489.04 L541.07,488.26 L540.55,488.26 L540.55,488.35 L540.08,488.35 L540.08,488.39 L539.67,488.39 L539.67,488.16 L539.18,488.16 L539.18,488.94 L538.84,488.94 L538.84,488.81 L538.32,488.81 L538.32,488.17 L537.80,488.17 L537.80,488.48 L537.43,488.48 L537.43,490.02 L537.04,490.02 L537.04,488.26 L536.53,488.26 L536.53,488.71 L536.11,488.71 L536.11,488.85 L535.58,488.85 L535.58,488.88 L535.20,488.88 L535.20,488.14 L534.77,488.14 L534.77,488.65 L534.28,488.65 L534.28,487.88 L533.85,487.88 L533.85,488.17 L533.41,488.17 L533.41,488.71 L532.93,488.71 L532.93,488.19 L532.47,488.19 L532.47,489.01 L532.16,489.01 L532.16,488.24 L531.83,488.24 L531.83,488.33 L531.33,488.33 L531.33,488.66 L530.90,488.66 L530.90,488.89 L530.50,488.89 L530.50,488.20 L529.97,488.20 L529.97,488.80 L529.55,488.80 L529.55,487.92 L529.15,487.92 L529.15,488.29 L528.69,488.29 L528.69,487.70 L528.19,487.70 L528.19,488.18 L527.82,488.18 L527.82,488.12 L527.38,488.12 L527.38,488.69 L527.04,488.69 L527.04,488.82 L526.55,488.82 L526.55,488.54 L526.11,488.54 L526.11,487.89 L525.58,487.89 L525.58,488.47 L525.23,488.47 L525.23,488.38 L524.84,488.38 L524.84,487.92 L524.52,487.92 L524.52,487.99 L524.19,487.99 L524.19,487.94 L523.89,487.94 L523.89,487.88 L523.41,487.88 L523.41,488.09 L522.96,488.09 L522.96,488.44 L522.41,488.44 L522.41,487.69 L521.86,487.69 L521.86,487.91 L521.48,487.91 L521.48,488.21 L520.93,488.21 L520.93,488.77 L520.40,488.77 L520.40,487.64 L519.99,487.64 L519.99,488.31 L519.46,488.31 L519.46,488.21 L519.07,488.21 L519.07,488.10 L518.76,488.10 L518.76,488.80 L518.36,488.80 L518.36,488.35 L517.85,488.35 L517.85,487.77 L517.32,487.77 L517.32,488.14 L516.92,488.14 L516.92,488.00 L516.45,488.00 L516.45,487.93 L515.99,487.93 L515.99,488.18 L515.50,488.18 L515.50,488.54 L514.97,488.54 L514.97,488.09 L514.55,488.09 L514.55,488.52 L514.03,488.52 L514.03,488.14 L513.63,488.14 L513.63,489.95 L513.25,489.95 L513.25,488.21 L512.95,488.21 L512.95,488.17 L512.45,488.17 L512.45,488.92 L512.12,488.92 L512.12,488.52 L511.58,488.52 L511.58,488.17 L511.18,488.17 L511.18,488.29 L510.76,488.29 L510.76,488.77 L510.38,488.77 L510.38,488.53 L509.84,488.53 L509.84,488.21 L509.52,488.21 L509.52,488.04 L509.06,488.04 L509.06,487.99 L508.63,487.99 L508.63,488.68 L508.32,488.68 L508.32,489.95 L507.79,489.95 L507.79,488.07 L507.46,488.07 L507.46,487.89 L507.11,487.89 L507.11,488.26 L506.73,488.26 L506.73,487.48 L506.26,487.48 L506.26,489.55 L505.94,489.55 L505.94,488.52 L505.53,488.52 L505.53,489.86 L505.07,489.86 L505.07,487.80 L504.61,487.80 L504.61,488.18 L504.20,488.18 L504.20,488.24 L503.75,488.24 L503.75,488.00 L503.27,488.00 L503.27,488.04 L502.91,488.04 L502.91,488.28 L502.36,488.28 L502.36,488.83 L501.96,488.83 L501.96,488.03 L501.58,488.03 L501.58,488.05 L501.23,488.05 L501.23,488.86 L500.71,488.86 L500.71,488.86 L500.36,488.86 L500.36,488.88 L500.02,488.88 L500.02,489.73 L499.47,489.73 L499.47,488.95 L499.13,488.95 L499.13,488.31 L498.82,488.31 L498.82,488.52 L498.36,488.52 L498.36,488.00 L498.04,488.00 L498.04,487.61 L497.53,487.61 L497.53,489.64 L497.22,489.64 L497.22,487.84 L496.85,487.84 L496.85,488.27 L496.41,488.27 L496.41,488.31 L495.89,488.31 L495.89,488.72 L495.48,488.72 L495.48,487.93 L494.95,487.93 L494.95,488.19 L494.42,488.19 L494.42,488.28 L494.11,488.28 L494.11,488.21 L493.79,488.21 L493.79,489.18 L493.35,489.18 L493.35,488.07 L492.90,488.07 L492.90,487.71 L492.42,487.71 L492.42,487.31 L492.05,487.31 L492.05,487.58 L491.63,487.58 L491.63,487.67 L491.21,487.67 L491.21,487.59 L490.69,487.59 L490.69,487.88 L490.16,487.88 L490.16,487.84 L489.85,487.84 L489.85,487.52 L489.38,487.52 L489.38,487.85 L489.06,487.85 L489.06,487.77 L488.66,487.77 L488.66,487.87 L488.32,487.87 L488.32,488.01 L487.97,488.01 L487.97,487.91 L487.60,487.91 L487.60,488.22 L487.05,488.22 L487.05,488.22 L486.52,488.22 L486.52,487.87 L486.14,487.87 L486.14,488.40 L485.63,488.40 L485.63,488.52 L485.32,488.52 L485.32,487.96 L484.99,487.96 L484.99,487.97 L484.66,487.97 L484.66,488.42 L484.27,488.42 L484.27,488.20 L483.87,488.20 L483.87,487.80 L483.45,487.80 L483.45,487.84 L482.91,487.84 L482.91,487.81 L482.37,487.81 L482.37,488.44 L481.82,488.44 L481.82,487.48 L481.27,487.48 L481.27,488.07 L480.73,488.07 L480.73,487.66 L480.39,487.66 L480.39,487.68 L480.06,487.68 L480.06,488.57 L479.67,488.57 L479.67,487.56 L479.18,487.56 L479.18,487.29 L478.75,487.29 L478.75,487.81 L478.45,487.81 L478.45,488.61 L477.95,488.61 L477.95,487.84 L477.52,487.84 L477.52,487.79 L477.02,487.79 L477.02,487.91 L476.61,487.91 L476.61,489.57 L476.15,489.57 L476.15,487.89 L475.67,487.89 L475.67,487.61 L475.14,487.61 L475.14,487.57 L474.69,487.57 L474.69,488.06 L474.19,488.06 L474.19,488.19 L473.75,488.19 L473.75,487.69 L473.23,487.69 L473.23,487.72 L472.86,487.72 L472.86,487.86 L472.31,487.86 L472.31,488.53 L471.84,488.53 L471.84,488.25 L471.43,488.25 L471.43,487.72 L470.98,487.72 L470.98,488.64 L470.55,488.64 L470.55,487.50 L470.14,487.50 L470.14,487.36 L469.74,487.36 L469.74,487.63 L469.19,487.63 L469.19,488.22 L468.72,488.22 L468.72,487.75 L468.29,487.75 L468.29,487.54 L467.94,487.54 L467.94,488.78 L467.54,488.78 L467.54,487.75 L467.02,487.75 L467.02,487.54 L466.59,487.54 L466.59,487.74 L466.13,487.74 L466.13,489.41 L465.78,489.41 L465.78,487.42 L465.43,487.42 L465.43,488.17 L464.98,488.17 L464.98,488.45 L464.55,488.45 L464.55,487.21 L464.20,487.21 L464.20,487.11 L463.83,487.11 L463.83,487.79 L463.35,487.79 L463.35,488.22 L462.82,488.22 L462.82,487.95 L462.38,487.95 L462.38,487.56 L462.02,487.56 L462.02,487.34 L461.69,487.34 L461.69,487.83 L461.32,487.83 L461.32,487.33 L460.83,487.33 L460.83,487.55 L460.30,487.55 L460.30,487.23 L459.94,487.23 L459.94,488.03 L459.50,488.03 L459.50,487.35 L459.08,487.35 L459.08,489.47 L458.60,489.47 L458.60,487.46 L458.07,487.46 L458.07,489.05 L457.67,489.05 L457.67,487.79 L457.37,487.79 L457.37,488.07 L456.87,488.07 L456.87,487.59 L456.56,487.59 L456.56,487.84 L456.03,487.84 L456.03,487.22 L455.60,487.22 L455.60,488.33 L455.25,488.33 L455.25,488.52 L454.70,488.52 L454.70,488.15 L454.20,488.15 L454.20,487.43 L453.78,487.43 L453.78,487.94 L453.35,487.94 L453.35,487.40 L452.89,487.40 L452.89,488.63 L452.49,488.63 L452.49,487.60 L452.08,487.60 L452.08,488.84 L451.55,488.84 L451.55,487.62 L451.04,487.62 L451.04,488.02 L450.57,488.02 L450.57,488.24 L450.04,488.24 L450.04,487.24 L449.72,487.24 L449.72,487.41 L449.21,487.41 L449.21,488.68 L448.69,488.68 L448.69,487.32 L448.26,487.32 L448.26,487.27 L447.86,487.27 L447.86,487.52 L447.48,487.52 L447.48,487.78 L447.12,487.78 L447.12,488.44 L446.70,488.44 L446.70,487.25 L446.38,487.25 L446.38,487.40 L445.88,487.40 L445.88,487.41 L445.43,487.41 L445.43,487.46 L444.89,487.46 L444.89,487.00 L444.57,487.00 L444.57,487.40 L444.17,487.40 L444.17,487.40 L443.80,487.40 L443.80,487.84 L443.35,487.84 L443.35,487.05 L442.93,487.05 L442.93,487.57 L442.44,487.57 L442.44,487.48 L442.10,487.48 L442.10,486.94 L441.58,486.94 L441.58,487.38 L441.21,487.38 L441.21,487.10 L440.84,487.10 L440.84,487.50 L440.50,487.50 L440.50,487.51 L439.96,487.51 L439.96,487.58 L439.45,487.58 L439.45,486.81 L439.01,486.81 L439.01,489.07 L438.51,489.07 L438.51,487.11 L438.15,487.11 L438.15,488.02 L437.65,488.02 L437.65,487.39 L437.16,487.39 L437.16,487.45 L436.78,487.45 L436.78,487.58 L436.38,487.58 L436.38,487.51 L435.92,487.51 L435.92,487.49 L435.37,487.49 L435.37,488.06 L434.88,488.06 L434.88,488.31 L434.49,488.31 L434.49,487.37 L433.97,487.37 L433.97,487.85 L433.43,487.85 L433.43,488.59 L433.07,488.59 L433.07,487.53 L432.75,487.53 L432.75,487.72 L432.44,487.72 L432.44,487.55 L431.90,487.55 L431.90,487.41 L431.53,487.41 L431.53,487.49 L431.06,487.49 L431.06,486.94 L430.74,486.94 L430.74,488.00 L430.22,488.00 L430.22,489.09 L429.86,489.09 L429.86,487.22 L429.53,487.22 L429.53,487.77 L429.04,487.77 L429.04,487.28 L428.55,487.28 L428.55,487.32 L428.13,487.32 L428.13,489.59 L427.78,489.59 L427.78,487.12 L427.26,487.12 L427.26,486.79 L426.87,486.79 L426.87,487.76 L426.52,487.76 L426.52,486.74 L426.07,486.74 L426.07,486.95 L425.52,486.95 L425.52,488.40 L425.04,488.40 L425.04,487.83 L424.58,487.83 L424.58,487.22 L424.07,487.22 L424.07,487.62 L423.76,487.62 L423.76,487.15 L423.26,487.15 L423.26,487.17 L422.74,487.17 L422.74,487.44 L422.27,487.44 L422.27,486.78 L421.80,486.78 L421.80,488.08 L421.50,488.08 L421.50,486.90 L421.02,486.90 L421.02,487.09 L420.48,487.09 L420.48,486.82 L419.97,486.82 L419.97,487.68 L419.48,487.68 L419.48,489.22 L419.04,489.22 L419.04,487.41 L418.67,487.41 L418.67,487.02 L418.36,487.02 L418.36,486.93 L417.89,486.93 L417.89,487.05 L417.52,487.05 L417.52,489.41 L417.11,489.41 L417.11,487.06 L416.73,487.06 L416.73,487.33 L416.42,487.33 L416.42,488.79 L416.07,488.79 L416.07,487.25 L415.72,487.25 L415.72,486.92 L415.37,486.92 L415.37,487.53 L415.04,487.53 L415.04,487.27 L414.51,487.27 L414.51,489.32 L414.07,489.32 L414.07,487.70 L413.70,487.70 L413.70,486.95 L413.38,486.95 L413.38,487.09 L412.95,487.09 L412.95,488.86 L412.41,488.86 L412.41,487.06 L411.95,487.06 L411.95,486.73 L411.53,486.73 L411.53,487.12 L411.06,487.12 L411.06,486.97 L410.72,486.97 L410.72,488.13 L410.35,488.13 L410.35,486.68 L409.92,486.68 L409.92,487.57 L409.56,487.57 L409.56,488.25 L409.14,488.25 L409.14,487.75 L408.77,487.75 L408.77,489.32 L408.23,489.32 L408.23,486.89 L407.77,486.89 L407.77,487.64 L407.28,487.64 L407.28,487.69 L406.87,487.69 L406.87,487.28 L406.52,487.28 L406.52,487.33 L406.03,487.33 L406.03,487.27 L405.50,487.27 L405.50,488.46 L405.15,488.46 L405.15,486.78 L404.73,486.78 L404.73,487.18 L404.35,487.18 L404.35,488.17 L404.02,488.17 L404.02,488.21 L403.65,488.21 L403.65,486.99 L403.34,486.99 L403.34,487.15 L402.83,487.15 L402.83,486.97 L402.34,486.97 L402.34,487.03 L401.79,487.03 L401.79,487.11 L401.36,487.11 L401.36,487.31 L401.01,487.31 L401.01,487.57 L400.70,487.57 L400.70,486.65 L400.38,486.65 L400.38,487.13 L399.92,487.13 L399.92,486.97 L399.58,486.97 L399.58,486.87 L399.14,486.87 L399.14,487.63 L398.77,487.63 L398.77,486.67 L398.43,486.67 L398.43,486.70 L397.98,486.70 L397.98,487.18 L397.67,487.18 L397.67,486.82 L397.12,486.82 L397.12,486.81 L396.68,486.81 L396.68,487.48 L396.34,487.48 L396.34,487.22 L396.00,487.22 L396.00,487.52 L395.52,487.52 L395.52,487.53 L395.12,487.53 L395.12,487.25 L394.62,487.25 L394.62,487.07 L394.25,487.07 L394.25,487.40 L393.94,487.40 L393.94,487.15 L393.60,487.15 L393.60,488.12 L393.12,488.12 L393.12,488.24 L392.58,488.24 L392.58,487.18 L392.12,487.18 L392.12,487.04 L391.66,487.04 L391.66,486.79 L391.13,486.79 L391.13,487.11 L390.71,487.11 L390.71,487.30 L390.29,487.30 L390.29,486.71 L389.95,486.71 L389.95,486.44 L389.62,486.44 L389.62,487.47 L389.30,487.47 L389.30,487.09 L388.82,487.09 L388.82,486.88 L388.45,486.88 L388.45,487.40 L388.14,487.40 L388.14,487.70 L387.67,487.70 L387.67,487.16 L387.35,487.16 L387.35,487.44 L386.92,487.44 L386.92,487.66 L386.38,487.66 L386.38,486.83 L385.89,486.83 L385.89,486.86 L385.50,486.86 L385.50,488.20 L385.06,488.20 L385.06,486.92 L384.75,486.92 L384.75,486.63 L384.35,486.63 L384.35,486.82 L383.97,486.82 L383.97,489.69 L383.49,489.69 L383.49,487.03 L383.16,487.03 L383.16,487.10 L382.69,487.10 L382.69,487.22 L382.17,487.22 L382.17,487.28 L381.75,487.28 L381.75,488.45 L381.33,488.45 L381.33,487.39 L380.80,487.39 L380.80,488.30 L380.32,488.30 L380.32,487.28 L379.84,487.28 L379.84,487.02 L379.35,487.02 L379.35,489.31 L378.98,489.31 L378.98,488.29 L378.50,488.29 L378.50,486.59 L378.13,486.59 L378.13,486.87 L377.69,486.87 L377.69,486.79 L377.34,486.79 L377.34,487.12 L376.99,487.12 L376.99,487.38 L376.49,487.38 L376.49,486.63 L376.12,486.63 L376.12,487.08 L375.66,487.08 L375.66,486.91 L375.29,486.91 L375.29,487.17 L374.90,487.17 L374.90,486.86 L374.37,486.86 L374.37,488.77 L373.85,488.77 L373.85,486.76 L373.33,486.76 L373.33,488.19 L372.93,488.19 L372.93,486.57 L372.59,486.57 L372.59,486.53 L372.08,486.53 L372.08,487.03 L371.64,487.03 L371.64,486.43 L371.22,486.43 L371.22,488.02 L370.76,488.02 L370.76,486.90 L370.33,486.90 L370.33,487.04 L369.99,487.04 L369.99,487.49 L369.52,487.49 L369.52,487.85 L368.97,487.85 L368.97,486.85 L368.63,486.85 L368.63,486.74 L368.16,486.74 L368.16,486.86 L367.64,486.86 L367.64,486.89 L367.23,486.89 L367.23,486.64 L366.80,486.64 L366.80,487.15 L366.31,487.15 L366.31,487.18 L365.82,487.18 L365.82,486.80 L365.35,486.80 L365.35,487.49 L364.93,487.49 L364.93,487.02 L364.42,487.02 L364.42,487.37 L364.03,487.37 L364.03,487.27 L363.64,487.27 L363.64,487.93 L363.23,487.93 L363.23,487.95 L362.86,487.95 L362.86,486.85 L362.49,486.85 L362.49,487.12 L362.00,487.12 L362.00,486.92 L361.52,486.92 L361.52,486.89 L361.22,486.89 L361.22,487.07 L360.86,487.07 L360.86,488.69 L360.53,488.69 L360.53,486.75 L360.01,486.75 L360.01,486.29 L359.71,486.29 L359.71,486.64 L359.39,486.64 L359.39,486.98 L358.89,486.98 L358.89,486.91 L358.52,486.91 L358.52,487.42 L358.03,487.42 L358.03,486.37 L357.52,486.37 L357.52,487.02 L357.10,487.02 L357.10,487.59 L356.77,487.59 L356.77,486.62 L356.23,486.62 L356.23,487.66 L355.85,487.66 L355.85,486.70 L355.43,486.70 L355.43,487.44 L354.93,487.44 L354.93,486.86 L354.43,486.86 L354.43,487.15 L354.09,487.15 L354.09,486.74 L353.70,486.74 L353.70,486.59 L353.34,486.59 L353.34,486.91 L352.85,486.91 L352.85,486.64 L352.31,486.64 L352.31,487.49 L351.79,487.49 L351.79,486.49 L351.39,486.49 L351.39,486.60 L350.88,486.60 L350.88,487.29 L350.57,487.29 L350.57,486.79 L350.22,486.79 L350.22,486.86 L349.70,486.86 L349.70,486.72 L349.32,486.72 L349.32,487.52 L348.77,487.52 L348.77,486.33 L348.29,486.33 L348.29,487.10 L347.93,487.10 L347.93,487.37 L347.48,487.37 L347.48,488.47 L347.03,488.47 L347.03,488.31 L346.63,488.31 L346.63,487.74 L346.21,487.74 L346.21,486.88 L345.77,486.88 L345.77,486.69 L345.30,486.69 L345.30,486.80 L344.88,486.80 L344.88,487.44 L344.51,487.44 L344.51,486.78 L344.20,486.78 L344.20,487.01 L343.82,487.01 L343.82,486.43 L343.38,486.43 L343.38,486.59 L342.86,486.59 L342.86,486.31 L342.55,486.31 L342.55,486.55 L342.19,486.55 L342.19,486.69 L341.77,486.69 L341.77,488.08 L341.33,488.08 L341.33,487.19 L340.89,487.19 L340.89,487.44 L340.53,487.44 L340.53,486.65 L340.00,486.65 L340.00,486.45 L339.60,486.45 L339.60,488.58 L339.14,488.58 L339.14,487.02 L338.76,487.02 L338.76,486.95 L338.24,486.95 L338.24,487.91 L337.79,487.91 L337.79,486.82 L337.39,486.82 L337.39,486.50 L336.87,486.50 L336.87,487.82 L336.55,487.82 L336.55,487.21 L336.22,487.21 L336.22,486.42 L335.85,486.42 L335.85,488.16 L335.55,488.16 L335.55,487.02 L335.20,487.02 L335.20,487.60 L334.74,487.60 L334.74,486.85 L334.24,486.85 L334.24,486.75 L333.89,486.75 L333.89,487.35 L333.50,487.35 L333.50,485.97 L333.14,485.97 L333.14,489.04 L332.76,489.04 L332.76,486.47 L332.31,486.47 L332.31,486.32 L331.85,486.32 L331.85,486.90 L331.48,486.90 L331.48,486.67 L330.99,486.67 L330.99,486.20 L330.61,486.20 L330.61,487.18 L330.24,487.18 L330.24,486.68 L329.83,486.68 L329.83,486.51 L329.40,486.51 L329.40,486.99 L329.09,486.99 L329.09,487.78 L328.57,487.78 L328.57,486.90 L328.24,486.90 L328.24,487.47 L327.84,487.47 L327.84,487.57 L327.41,487.57 L327.41,486.62 L327.02,486.62 L327.02,487.96 L326.59,487.96 L326.59,486.31 L326.13,486.31 L326.13,487.66 L325.59,487.66 L325.59,486.28 L325.16,486.28 L325.16,486.87 L324.82,486.87 L324.82,487.23 L324.45,487.23 L324.45,486.41 L324.05,486.41 L324.05,487.79 L323.72,487.79 L323.72,487.14 L323.30,487.14 L323.30,486.42 L322.86,486.42 L322.86,486.46 L322.44,486.46 L322.44,486.58 L322.05,486.58 L322.05,486.13 L321.68,486.13 L321.68,485.98 L321.13,485.98 L321.13,486.96 L320.62,486.96 L320.62,486.31 L320.24,486.31 L320.24,486.65 L319.77,486.65 L319.77,486.71 L319.41,486.71 L319.41,486.17 L318.88,486.17 L318.88,486.64 L318.49,486.64 L318.49,488.43 L318.15,488.43 L318.15,486.84 L317.73,486.84 L317.73,486.91 L317.37,486.91 L317.37,486.42 L317.05,486.42 L317.05,487.52 L316.63,487.52 L316.63,487.29 L316.15,487.29 L316.15,486.76 L315.72,486.76 L315.72,486.23 L315.27,486.23 L315.27,486.09 L314.82,486.09 L314.82,486.62 L314.29,486.62 L314.29,486.89 L313.76,486.89 L313.76,486.51 L313.29,486.51 L313.29,487.04 L312.80,487.04 L312.80,486.60 L312.29,486.60 L312.29,486.20 L311.92,486.20 L311.92,486.48 L311.46,486.48 L311.46,487.16 L311.14,487.16 L311.14,487.03 L310.74,487.03 L310.74,486.92 L310.21,486.92 L310.21,486.84 L309.74,486.84 L309.74,487.35 L309.35,487.35 L309.35,487.78 L309.00,487.78 L309.00,486.90 L308.60,486.90 L308.60,488.88 L308.10,488.88 L308.10,486.38 L307.59,486.38 L307.59,486.85 L307.22,486.85 L307.22,487.89 L306.71,487.89 L306.71,486.11 L306.28,486.11 L306.28,486.56 L305.75,486.56 L305.75,486.56 L305.26,486.56 L305.26,487.02 L304.73,487.02 L304.73,486.54 L304.28,486.54 L304.28,488.67 L303.98,488.67 L303.98,486.60 L303.46,486.60 L303.46,486.67 L303.07,486.67 L303.07,486.89 L302.74,486.89 L302.74,488.71 L302.25,488.71 L302.25,486.68 L301.84,486.68 L301.84,486.45 L301.41,486.45 L301.41,486.68 L300.94,486.68 L300.94,486.97 L300.54,486.97 L300.54,486.49 L300.20,486.49 L300.20,486.73 L299.65,486.73 L299.65,486.30 L299.25,486.30 L299.25,487.12 L298.92,487.12 L298.92,488.47 L298.42,488.47 L298.42,488.25 L298.00,488.25 L298.00,486.76 L297.61,486.76 L297.61,486.79 L297.14,486.79 L297.14,487.18 L296.79,487.18 L296.79,487.22 L296.34,487.22 L296.34,487.15 L295.91,487.15 L295.91,488.88 L295.44,488.88 L295.44,488.14 L295.04,488.14 L295.04,486.69 L294.70,486.69 L294.70,486.78 L294.20,486.78 L294.20,486.88 L293.72,486.88 L293.72,486.43 L293.32,486.43 L293.32,487.22 L292.85,487.22 L292.85,486.90 L292.37,486.90 L292.37,486.62 L291.86,486.62 L291.86,486.70 L291.55,486.70 L291.55,486.12 L291.19,486.12 L291.19,487.16 L290.69,487.16 L290.69,486.85 L290.38,486.85 L290.38,488.57 L290.00,488.57 L290.00,487.44 L289.69,487.44 L289.69,486.99 L289.16,486.99 L289.16,486.72 L288.81,486.72 L288.81,487.13 L288.28,487.13 L288.28,488.63 L287.95,488.63 L287.95,487.69 L287.59,487.69 L287.59,486.83 L287.14,486.83 L287.14,487.68 L286.80,487.68 L286.80,487.73 L286.45,487.73 L286.45,486.85 L286.14,486.85 L286.14,487.21 L285.63,487.21 L285.63,487.36 L285.12,487.36 L285.12,489.64 L284.61,489.64 L284.61,486.61 L284.11,486.61 L284.11,488.17 L283.78,488.17 L283.78,486.92 L283.28,486.92 L283.28,486.29 L282.90,486.29 L282.90,487.24 L282.39,487.24 L282.39,487.99 L282.09,487.99 L282.09,487.79 L281.73,487.79 L281.73,487.62 L281.31,487.62 L281.31,486.57 L280.90,486.57 L280.90,486.98 L280.37,486.98 L280.37,487.74 L279.89,487.74 L279.89,488.40 L279.35,488.40 L279.35,487.06 L278.87,487.06 L278.87,488.83 L278.34,488.83 L278.34,486.86 L278.00,486.86 L278.00,486.98 L277.65,486.98 L277.65,488.15 L277.10,488.15 L277.10,486.65 L276.78,486.65 L276.78,486.26 L276.40,486.26 L276.40,486.57 L276.09,486.57 L276.09,486.89 L275.66,486.89 L275.66,487.97 L275.19,487.97 L275.19,486.24 L274.77,486.24 L274.77,486.51 L274.29,486.51 L274.29,486.97 L273.92,486.97 L273.92,487.41 L273.50,487.41 L273.50,486.64 L272.95,486.64 L272.95,486.42 L272.41,486.42 L272.41,487.36 L271.94,487.36 L271.94,487.48 L271.57,487.48 L271.57,487.59 L271.22,487.59 L271.22,486.50 L270.70,486.50 L270.70,486.93 L270.34,486.93 L270.34,487.39 L269.89,487.39 L269.89,486.46 L269.53,486.46 L269.53,487.36 L269.14,487.36 L269.14,488.89 L268.61,488.89 L268.61,488.17 L268.24,488.17 L268.24,487.91 L267.79,487.91 L267.79,486.27 L267.34,486.27 L267.34,486.96 L266.98,486.96 L266.98,487.96 L266.61,487.96 L266.61,487.10 L266.30,487.10 L266.30,486.48 L265.86,486.48 L265.86,487.10 L265.41,487.10 L265.41,487.48 L265.02,487.48 L265.02,487.37 L264.70,487.37 L264.70,486.70 L264.29,486.70 L264.29,486.38 L263.79,486.38 L263.79,486.97 L263.26,486.97 L263.26,487.42 L262.84,487.42 L262.84,486.67 L262.53,486.67 L262.53,488.45 L262.07,488.45 L262.07,486.44 L261.63,486.44 L261.63,487.82 L261.24,487.82 L261.24,486.60 L260.82,486.60 L260.82,487.95 L260.33,487.95 L260.33,488.70 L259.82,488.70 L259.82,486.91 L259.33,486.91 L259.33,487.14 L258.93,487.14 L258.93,488.66 L258.47,488.66 L258.47,487.14 L258.00,487.14 L258.00,486.89 L257.49,486.89 L257.49,488.04 L257.02,488.04 L257.02,487.01 L256.71,487.01 L256.71,487.12 L256.27,487.12 L256.27,487.63 L255.77,487.63 L255.77,487.43 L255.37,487.43 L255.37,487.39 L254.88,487.39 L254.88,487.12 L254.36,487.12 L254.36,486.85 L253.85,486.85 L253.85,486.97 L253.32,486.97 L253.32,489.67 L252.96,489.67 L252.96,487.12 L252.47,487.12 L252.47,487.21 L252.14,487.21 L252.14,487.18 L251.82,487.18 L251.82,486.72 L251.45,486.72 L251.45,488.58 L250.95,488.58 L250.95,486.57 L250.55,486.57 L250.55,487.16 L250.16,487.16 L250.16,488.31 L249.76,488.31 L249.76,487.20 L249.33,487.20 L249.33,487.36 L248.84,487.36 L248.84,487.67 L248.53,487.67 L248.53,488.61 L248.03,488.61 L248.03,487.81 L247.72,487.81 L247.72,488.34 L247.36,488.34 L247.36,487.22 L246.85,487.22 L246.85,487.03 L246.54,487.03 L246.54,489.18 L245.99,489.18 L245.99,488.05 L245.51,488.05 L245.51,486.85 L245.15,486.85 L245.15,487.72 L244.82,487.72 L244.82,487.25 L244.44,487.25 L244.44,486.58 L244.11,486.58 L244.11,486.59 L243.70,486.59 L243.70,488.40 L243.40,488.40 L243.40,487.07 L242.89,487.07 L242.89,487.22 L242.54,487.22 L242.54,487.69 L242.07,487.69 L242.07,486.52 L241.70,486.52 L241.70,486.77 L241.26,486.77 L241.26,486.93 L240.89,486.93 L240.89,487.57 L240.57,487.57 L240.57,487.34 L240.20,487.34 L240.20,487.49 L239.70,487.49 L239.70,486.66 L239.29,486.66 L239.29,487.43 L238.90,487.43 L238.90,487.46 L238.51,487.46 L238.51,487.28 L238.05,487.28 L238.05,486.89 L237.68,486.89 L237.68,487.10 L237.35,487.10 L237.35,487.40 L236.87,487.40 L236.87,486.67 L236.44,486.67 L236.44,486.67 L235.92,486.67 L235.92,487.04 L235.44,487.04 L235.44,486.87 L235.12,486.87 L235.12,488.61 L234.58,488.61 L234.58,487.98 L234.13,487.98 L234.13,487.31 L233.68,487.31 L233.68,489.07 L233.22,489.07 L233.22,486.80 L232.90,486.80 L232.90,486.70 L232.50,486.70 L232.50,487.80 L232.18,487.80 L232.18,487.02 L231.83,487.02 L231.83,487.87 L231.38,487.87 L231.38,487.38 L231.04,487.38 L231.04,486.49 L230.58,486.49 L230.58,487.17 L230.04,487.17 L230.04,488.23 L229.56,488.23 L229.56,488.03 L229.25,488.03 L229.25,489.58 L228.86,489.58 L228.86,488.20 L228.53,488.20 L228.53,486.80 L228.21,486.80 L228.21,486.76 L227.77,486.76 L227.77,487.30 L227.44,487.30 L227.44,487.92 L226.90,487.92 L226.90,489.74 L226.58,489.74 L226.58,486.93 L226.05,486.93 L226.05,487.34 L225.56,487.34 L225.56,487.35 L225.02,487.35 L225.02,487.71 L224.50,487.71 L224.50,487.09 L223.98,487.09 L223.98,487.82 L223.45,487.82 L223.45,487.42 L223.09,487.42 L223.09,487.96 L222.59,487.96 L222.59,488.80 L222.18,488.80 L222.18,487.50 L221.76,487.50 L221.76,487.19 L221.30,487.19 L221.30,487.36 L220.76,487.36 L220.76,487.61 L220.34,487.61 L220.34,486.61 L219.89,486.61 L219.89,487.62 L219.43,487.62 L219.43,486.88 L219.00,486.88 L219.00,487.51 L218.47,487.51 L218.47,487.96 L218.00,487.96 L218.00,488.06 L217.53,488.06 L217.53,488.71 L217.05,488.71 L217.05,487.19 L216.55,487.19 L216.55,486.95 L216.07,486.95 L216.07,487.48 L215.72,487.48 L215.72,488.25 L215.34,488.25 L215.34,488.09 L214.95,488.09 L214.95,488.51 L214.43,488.51 L214.43,486.92 L214.01,486.92 L214.01,486.83 L213.64,486.83 L213.64,486.83 L213.25,486.83 L213.25,489.00 L212.80,489.00 L212.80,488.05 L212.26,488.05 L212.26,486.62 L211.81,486.62 L211.81,487.22 L211.45,487.22 L211.45,487.75 L211.00,487.75 L211.00,487.49 L210.62,487.49 L210.62,488.60 L210.12,488.60 L210.12,487.28 L209.81,487.28 L209.81,487.24 L209.46,487.24 L209.46,486.83 L209.02,486.83 L209.02,487.02 L208.48,487.02 L208.48,487.57 L208.08,487.57 L208.08,487.50 L207.75,487.50 L207.75,487.76 L207.41,487.76 L207.41,487.68 L207.10,487.68 L207.10,487.22 L206.65,487.22 L206.65,486.71 L206.22,486.71 L206.22,486.99 L205.80,486.99 L205.80,488.12 L205.45,488.12 L205.45,487.00 L205.06,487.00 L205.06,487.55 L204.55,487.55 L204.55,486.99 L204.08,486.99 L204.08,487.75 L203.68,487.75 L203.68,488.47 L203.32,488.47 L203.32,487.61 L202.99,487.61 L202.99,487.22 L202.46,487.22 L202.46,486.84 L202.14,486.84 L202.14,488.03 L201.69,488.03 L201.69,487.72 L201.27,487.72 L201.27,489.24 L200.83,489.24 L200.83,486.71 L200.34,486.71 L200.34,487.71 L200.02,487.71 L200.02,487.22 L199.49,487.22 L199.49,487.58 L199.07,487.58 L199.07,488.01 L198.66,488.01 L198.66,486.88 L198.11,486.88 L198.11,486.72 L197.59,486.72 L197.59,487.40 L197.21,487.40 L197.21,488.78 L196.71,488.78 L196.71,486.83 L196.25,486.83 L196.25,487.55 L195.92,487.55 L195.92,488.67 L195.53,488.67 L195.53,487.91 L195.00,487.91 L195.00,487.44 L194.52,487.44 L194.52,487.40 L194.03,487.40 L194.03,487.97 L193.66,487.97 L193.66,487.22 L193.27,487.22 L193.27,487.37 L192.91,487.37 L192.91,487.19 L192.47,487.19 L192.47,487.30 L192.02,487.30 L192.02,487.05 L191.71,487.05 L191.71,488.14 L191.36,488.14 L191.36,486.91 L190.94,486.91 L190.94,488.65 L190.45,488.65 L190.45,486.97 L189.95,486.97 L189.95,487.92 L189.51,487.92 L189.51,487.22 L189.14,487.22 L189.14,487.49 L188.67,487.49 L188.67,488.15 L188.19,488.15 L188.19,487.31 L187.74,487.31 L187.74,489.02 L187.35,489.02 L187.35,489.24 L186.98,489.24 L186.98,487.79 L186.49,487.79 L186.49,489.83 L186.07,489.83 L186.07,488.55 L185.58,488.55 L185.58,487.25 L185.10,487.25 L185.10,490.01 L184.57,490.01 L184.57,487.61 L184.25,487.61 L184.25,486.80 L183.77,486.80 L183.77,487.09 L183.23,487.09 L183.23,487.85 L182.93,487.85 L182.93,488.80 L182.45,488.80 L182.45,487.45 L182.13,487.45 L182.13,487.07 L181.62,487.07 L181.62,487.96 L181.29,487.96 L181.29,487.99 L180.97,487.99 L180.97,487.52 L180.47,487.52 L180.47,488.05 L180.14,488.05 L180.14,487.01 L179.66,487.01 L179.66,488.11 L179.17,488.11 L179.17,489.01 L178.71,489.01 L178.71,489.10 L178.31,489.10 L178.31,487.45 L177.84,487.45 L177.84,487.08 L177.50,487.08 L177.50,487.61 L177.16,487.61 L177.16,489.04 L176.81,489.04 L176.81,488.56 L176.35,488.56 L176.35,487.98 L176.04,487.98 L176.04,487.22 L175.69,487.22 L175.69,487.77 L175.26,487.77 L175.26,487.53 L174.73,487.53 L174.73,488.04 L174.26,488.04 L174.26,487.54 L173.77,487.54 L173.77,487.45 L173.35,487.45 L173.35,488.00 L172.96,488.00 L172.96,488.25 L172.46,488.25 L172.46,487.32 L171.91,487.32 L171.91,486.94 L171.44,486.94 L171.44,487.58 L171.00,487.58 L171.00,487.81 L170.65,487.81 L170.65,487.68 L170.19,487.68 L170.19,487.45 L169.78,487.45 L169.78,489.30 L169.34,489.30 L169.34,489.12 L168.83,489.12 L168.83,487.09 L168.51,487.09 L168.51,488.02 L168.14,488.02 L168.14,487.94 L167.77,487.94 L167.77,487.00 L167.44,487.00 L167.44,487.77 L166.97,487.77 L166.97,487.78 L166.63,487.78 L166.63,488.28 L166.14,488.28 L166.14,488.79 L165.61,488.79 L165.61,487.71 L165.27,487.71 L165.27,488.39 L164.94,488.39 L164.94,487.11 L164.44,487.11 L164.44,488.02 L164.01,488.02 L164.01,487.35 L163.63,487.35 L163.63,487.77 L163.31,487.77 L163.31,488.29 L162.97,488.29 L162.97,487.10 L162.67,487.10 L162.67,487.16 L162.32,487.16 L162.32,487.47 L162.01,487.47 L162.01,487.95 L161.53,487.95 L161.53,487.73 L161.15,487.73 L161.15,487.53 L160.68,487.53 L160.68,489.37 L160.30,489.37 L160.30,488.13 L159.93,488.13 L159.93,487.68 L159.53,487.68 L159.53,487.49 L159.06,487.49 L159.06,487.65 L158.55,487.65 L158.55,487.78 L158.23,487.78 L158.23,487.40 L157.78,487.40 L157.78,487.82 L157.46,487.82 L157.46,489.40 L156.93,489.40 L156.93,489.29 L156.45,489.29 L156.45,488.02 L156.04,488.02 L156.04,487.22 L155.54,487.22 L155.54,487.42 L155.20,487.42 L155.20,487.27 L154.81,487.27 L154.81,487.59 L154.33,487.59 L154.33,487.81 L153.79,487.81 L153.79,488.74 L153.40,488.74 L153.40,488.36 L152.94,488.36 L152.94,488.28 L152.54,488.28 L152.54,487.11 L152.23,487.11 L152.23,487.76 L151.89,487.76 L151.89,487.49 L151.47,487.49 L151.47,488.83 L151.04,488.83 L151.04,487.41 L150.55,487.41 L150.55,487.49 L150.01,487.49 L150.01,488.01 L149.47,488.01 L149.47,487.80 L149.10,487.80 L149.10,488.68 L148.66,488.68 L148.66,488.30 L148.25,488.30 L148.25,487.08 L147.81,487.08 L147.81,487.89 L147.47,487.89 L147.47,487.68 L146.97,487.68 L146.97,487.49 L146.64,487.49 L146.64,488.76 L146.13,488.76 L146.13,487.12 L145.60,487.12 L145.60,487.09 L145.08,487.09 L145.08,490.40 L144.58,490.40 L144.58,489.53 L144.25,489.53 L144.25,487.17 L143.88,487.17 L143.88,487.83 L143.45,487.83 L143.45,487.74 L142.94,487.74 L142.94,488.23 L142.53,488.23 L142.53,488.82 L142.05,488.82 L142.05,487.99 L141.56,487.99 L141.56,487.41 L141.15,487.41 L141.15,488.01 L140.63,488.01 L140.63,487.85 L140.27,487.85 L140.27,487.77 L139.83,487.77 L139.83,487.14 L139.36,487.14 L139.36,488.48 L138.92,488.48 L138.92,490.92 L138.42,490.92 L138.42,488.62 L137.98,488.62 L137.98,488.09 L137.52,488.09 L137.52,488.04 L137.11,488.04 L137.11,487.06 L136.76,487.06 L136.76,488.34 L136.33,488.34 L136.33,487.81 L135.90,487.81 L135.90,487.09 L135.41,487.09 L135.41,487.54 L134.92,487.54 L134.92,487.22 L134.43,487.22 L134.43,488.65 L133.89,488.65 L133.89,487.14 L133.56,487.14 L133.56,487.72 L133.10,487.72 L133.10,489.37 L132.68,489.37 L132.68,487.46 L132.32,487.46 L132.32,488.43 L131.88,488.43 L131.88,487.88 L131.41,487.88 L131.41,487.49 L131.05,487.49 L131.05,487.49 L130.57,487.49 L130.57,487.65 L130.15,487.65 L130.15,487.72 L129.75,487.72 L129.75,488.68 L129.37,488.68 L129.37,487.36 L128.90,487.36 L128.90,488.43 L128.48,488.43 L128.48,488.58 L127.94,488.58 L127.94,487.69 L127.41,487.69 L127.41,487.53 L127.06,487.53 L127.06,488.26 L126.74,488.26 L126.74,488.97 L126.24,488.97 L126.24,487.95 L125.81,487.95 L125.81,487.88 L125.26,487.88 L125.26,488.25 L124.85,488.25 L124.85,487.55 L124.50,487.55 L124.50,487.62 L124.19,487.62 L124.19,487.55 L123.87,487.55 L123.87,490.67 L123.45,490.67 L123.45,488.54 L122.90,488.54 L122.90,487.78 L122.43,487.78 L122.43,487.28 L122.01,487.28 L122.01,487.84 L121.68,487.84 L121.68,487.60 L121.18,487.60 L121.18,488.96 L120.76,488.96 L120.76,487.49 L120.34,487.49 L120.34,489.34 L119.87,489.34 L119.87,488.69 L119.36,488.69 L119.36,487.23 L118.94,487.23 L118.94,487.05 L118.63,487.05 L118.63,487.60 L118.12,487.60 L118.12,487.99 L117.81,487.99 L117.81,487.94 L117.50,487.94 L117.50,488.92 L117.18,488.92 L117.18,488.05 L116.74,488.05 L116.74,487.75 L116.29,487.75 L116.29,488.03 L115.78,488.03 L115.78,488.24 L115.41,488.24 L115.41,487.48 L114.93,487.48 L114.93,490.04 L114.50,490.04 L114.50,488.62 L114.00,488.62 L114.00,487.78 L113.54,487.78 L113.54,487.59 L113.14,487.59 L113.14,487.68 L112.80,487.68 L112.80,487.86 L112.33,487.86 L112.33,487.79 L111.90,487.79 L111.90,487.85 L111.36,487.85 L111.36,488.03 L110.86,488.03 L110.86,487.93 L110.43,487.93 L110.43,487.43 L110.01,487.43 L110.01,488.18 L109.60,488.18Z" fill="rgb(255,22,12)"/>
<path d="M169.45,484.87L169.80,476.87L170.20,476.87L170.60,484.87ZM183.85,484.83L184.20,477.83L184.60,477.83L185.00,484.83ZM188.85,484.82L189.20,468.82L189.60,468.82L190.00,484.82ZM206.15,484.77L206.50,474.77L206.90,474.77L207.30,484.77ZM249.15,484.55L249.50,476.55L249.90,476.55L250.30,484.55ZM265.75,484.47L266.10,469.47L266.50,469.47L266.90,484.47ZM299.45,484.30L299.80,479.30L300.20,479.30L300.60,484.30ZM329.45,484.30L329.80,479.30L330.20,479.30L330.60,484.30ZM419.45,485.20L419.80,480.20L420.20,480.20L420.60,485.20ZM499.45,486.08L499.80,482.08L500.20,482.08L500.60,486.08ZM609.45,487.40L609.80,483.40L610.20,483.40L610.60,487.40Z" fill="rgb(255,22,12)" opacity="0.95"/>
<path d="M109.60,564.20 L109.60,544.54 L110.12,544.54 L110.12,555.18 L110.53,555.18 L110.53,556.96 L110.88,556.96 L110.88,556.76 L111.29,556.76 L111.29,558.58 L111.77,558.58 L111.77,554.96 L112.25,554.96 L112.25,557.77 L112.75,557.77 L112.75,553.08 L113.20,553.08 L113.20,554.50 L113.69,554.50 L113.69,554.60 L114.16,554.60 L114.16,557.78 L114.58,557.78 L114.58,553.45 L114.99,553.45 L114.99,556.42 L115.33,556.42 L115.33,551.37 L115.68,551.37 L115.68,558.29 L115.99,558.29 L115.99,554.86 L116.50,554.86 L116.50,556.26 L116.87,556.26 L116.87,552.19 L117.31,552.19 L117.31,557.85 L117.80,557.85 L117.80,550.04 L118.16,550.04 L118.16,547.52 L118.61,547.52 L118.61,555.67 L119.15,555.67 L119.15,556.73 L119.46,556.73 L119.46,552.16 L120.00,552.16 L120.00,544.98 L120.44,544.98 L120.44,550.79 L120.82,550.79 L120.82,554.45 L121.17,554.45 L121.17,556.34 L121.52,556.34 L121.52,544.51 L121.88,544.51 L121.88,555.76 L122.22,555.76 L122.22,550.88 L122.58,550.88 L122.58,548.70 L122.99,548.70 L122.99,549.25 L123.50,549.25 L123.50,551.94 L123.90,551.94 L123.90,550.10 L124.36,550.10 L124.36,557.00 L124.76,557.00 L124.76,553.68 L125.20,553.68 L125.20,556.30 L125.66,556.30 L125.66,554.88 L126.17,554.88 L126.17,546.38 L126.48,546.38 L126.48,554.41 L126.84,554.41 L126.84,554.98 L127.26,554.98 L127.26,557.05 L127.65,557.05 L127.65,556.28 L128.17,556.28 L128.17,553.98 L128.51,553.98 L128.51,555.65 L128.83,555.65 L128.83,554.54 L129.30,554.54 L129.30,554.37 L129.73,554.37 L129.73,549.19 L130.06,549.19 L130.06,548.78 L130.48,548.78 L130.48,552.50 L130.93,552.50 L130.93,556.74 L131.32,556.74 L131.32,545.56 L131.70,545.56 L131.70,555.85 L132.21,555.85 L132.21,554.57 L132.57,554.57 L132.57,557.94 L132.93,557.94 L132.93,550.81 L133.35,550.81 L133.35,556.32 L133.68,556.32 L133.68,555.22 L134.20,555.22 L134.20,550.87 L134.56,550.87 L134.56,552.41 L134.87,552.41 L134.87,555.59 L135.26,555.59 L135.26,551.53 L135.58,551.53 L135.58,555.07 L136.05,555.07 L136.05,557.96 L136.58,557.96 L136.58,556.55 L137.13,556.55 L137.13,555.79 L137.43,555.79 L137.43,556.82 L137.91,556.82 L137.91,552.95 L138.36,552.95 L138.36,550.20 L138.81,550.20 L138.81,555.91 L139.14,555.91 L139.14,551.20 L139.49,551.20 L139.49,556.43 L139.95,556.43 L139.95,549.94 L140.36,549.94 L140.36,553.97 L140.84,553.97 L140.84,555.09 L141.36,555.09 L141.36,540.57 L141.70,540.57 L141.70,552.23 L142.20,552.23 L142.20,557.03 L142.68,557.03 L142.68,554.03 L143.04,554.03 L143.04,557.76 L143.42,557.76 L143.42,551.16 L143.86,551.16 L143.86,556.87 L144.24,556.87 L144.24,554.97 L144.59,554.97 L144.59,553.51 L145.13,553.51 L145.13,553.83 L145.53,553.83 L145.53,547.63 L146.08,547.63 L146.08,555.11 L146.40,555.11 L146.40,554.88 L146.79,554.88 L146.79,558.83 L147.19,558.83 L147.19,551.18 L147.67,551.18 L147.67,556.05 L148.01,556.05 L148.01,557.22 L148.46,557.22 L148.46,554.67 L148.79,554.67 L148.79,556.44 L149.12,556.44 L149.12,555.93 L149.58,555.93 L149.58,553.44 L150.01,553.44 L150.01,556.93 L150.55,556.93 L150.55,556.93 L150.98,556.93 L150.98,551.04 L151.35,551.04 L151.35,555.99 L151.85,555.99 L151.85,547.38 L152.19,547.38 L152.19,544.15 L152.65,544.15 L152.65,547.29 L153.20,547.29 L153.20,550.40 L153.52,550.40 L153.52,551.09 L154.00,551.09 L154.00,550.75 L154.42,550.75 L154.42,553.44 L154.97,553.44 L154.97,546.24 L155.32,546.24 L155.32,549.37 L155.64,549.37 L155.64,554.30 L155.99,554.30 L155.99,552.44 L156.33,552.44 L156.33,554.49 L156.83,554.49 L156.83,550.90 L157.27,550.90 L157.27,549.78 L157.61,549.78 L157.61,552.61 L158.06,552.61 L158.06,543.84 L158.46,543.84 L158.46,554.05 L158.84,554.05 L158.84,550.20 L159.35,550.20 L159.35,548.22 L159.85,548.22 L159.85,556.08 L160.29,556.08 L160.29,548.72 L160.70,548.72 L160.70,546.61 L161.13,546.61 L161.13,550.44 L161.66,550.44 L161.66,544.33 L162.03,544.33 L162.03,545.49 L162.51,545.49 L162.51,539.99 L162.84,539.99 L162.84,552.69 L163.19,552.69 L163.19,532.42 L163.69,532.42 L163.69,555.01 L164.08,555.01 L164.08,550.03 L164.42,550.03 L164.42,553.14 L164.73,553.14 L164.73,528.02 L165.22,528.02 L165.22,552.94 L165.66,552.94 L165.66,546.07 L166.07,546.07 L166.07,541.44 L166.44,541.44 L166.44,550.28 L166.93,550.28 L166.93,554.97 L167.34,554.97 L167.34,546.21 L167.74,546.21 L167.74,551.75 L168.23,551.75 L168.23,544.67 L168.76,544.67 L168.76,546.36 L169.26,546.36 L169.26,553.95 L169.74,553.95 L169.74,549.09 L170.28,549.09 L170.28,548.50 L170.81,548.50 L170.81,555.01 L171.24,555.01 L171.24,539.71 L171.70,539.71 L171.70,550.29 L172.24,550.29 L172.24,549.34 L172.69,549.34 L172.69,554.15 L173.03,554.15 L173.03,555.62 L173.40,555.62 L173.40,554.18 L173.79,554.18 L173.79,547.17 L174.26,547.17 L174.26,553.43 L174.59,553.43 L174.59,554.61 L175.13,554.61 L175.13,546.21 L175.49,546.21 L175.49,553.07 L175.97,553.07 L175.97,545.03 L176.51,545.03 L176.51,537.55 L177.06,537.55 L177.06,551.81 L177.54,551.81 L177.54,554.15 L177.98,554.15 L177.98,548.08 L178.29,548.08 L178.29,555.60 L178.79,555.60 L178.79,557.87 L179.12,557.87 L179.12,555.72 L179.63,555.72 L179.63,557.10 L180.10,557.10 L180.10,554.09 L180.59,554.09 L180.59,551.73 L181.04,551.73 L181.04,550.09 L181.57,550.09 L181.57,555.10 L182.00,555.10 L182.00,549.96 L182.48,549.96 L182.48,548.92 L182.91,548.92 L182.91,556.67 L183.33,556.67 L183.33,546.35 L183.84,546.35 L183.84,556.38 L184.37,556.38 L184.37,555.96 L184.68,555.96 L184.68,552.63 L185.00,552.63 L185.00,552.21 L185.49,552.21 L185.49,555.22 L185.92,555.22 L185.92,554.37 L186.33,554.37 L186.33,556.01 L186.68,556.01 L186.68,557.69 L187.08,557.69 L187.08,547.75 L187.43,547.75 L187.43,555.38 L187.79,555.38 L187.79,555.57 L188.14,555.57 L188.14,557.80 L188.49,557.80 L188.49,556.06 L188.92,556.06 L188.92,553.03 L189.22,553.03 L189.22,552.33 L189.53,552.33 L189.53,556.09 L189.95,556.09 L189.95,556.75 L190.47,556.75 L190.47,552.10 L190.80,552.10 L190.80,557.77 L191.12,557.77 L191.12,557.60 L191.44,557.60 L191.44,553.45 L191.87,553.45 L191.87,550.75 L192.18,550.75 L192.18,554.37 L192.48,554.37 L192.48,553.55 L192.99,553.55 L192.99,556.88 L193.37,556.88 L193.37,557.19 L193.86,557.19 L193.86,553.09 L194.33,553.09 L194.33,549.19 L194.83,549.19 L194.83,557.26 L195.33,557.26 L195.33,551.83 L195.71,551.83 L195.71,552.40 L196.09,552.40 L196.09,555.82 L196.45,555.82 L196.45,556.29 L196.96,556.29 L196.96,554.57 L197.44,554.57 L197.44,555.57 L197.76,555.57 L197.76,556.64 L198.17,556.64 L198.17,558.39 L198.61,558.39 L198.61,557.71 L199.01,557.71 L199.01,552.38 L199.53,552.38 L199.53,552.56 L199.87,552.56 L199.87,556.86 L200.36,556.86 L200.36,555.39 L200.70,555.39 L200.70,550.52 L201.20,550.52 L201.20,549.66 L201.68,549.66 L201.68,542.54 L202.02,542.54 L202.02,557.08 L202.37,557.08 L202.37,556.67 L202.72,556.67 L202.72,555.82 L203.25,555.82 L203.25,554.47 L203.73,554.47 L203.73,552.41 L204.22,552.41 L204.22,554.71 L204.66,554.71 L204.66,556.65 L205.12,556.65 L205.12,548.00 L205.51,548.00 L205.51,549.79 L206.05,549.79 L206.05,555.90 L206.56,555.90 L206.56,556.02 L206.98,556.02 L206.98,553.22 L207.33,553.22 L207.33,558.69 L207.82,558.69 L207.82,555.43 L208.17,555.43 L208.17,556.99 L208.60,556.99 L208.60,556.94 L209.08,556.94 L209.08,557.13 L209.52,557.13 L209.52,556.23 L209.89,556.23 L209.89,557.19 L210.32,557.19 L210.32,556.43 L210.80,556.43 L210.80,555.04 L211.22,555.04 L211.22,557.04 L211.68,557.04 L211.68,552.61 L212.13,552.61 L212.13,542.16 L212.47,542.16 L212.47,558.86 L212.94,558.86 L212.94,554.23 L213.26,554.23 L213.26,555.03 L213.57,555.03 L213.57,540.57 L214.05,540.57 L214.05,549.61 L214.49,549.61 L214.49,555.79 L214.89,555.79 L214.89,552.38 L215.36,552.38 L215.36,557.05 L215.74,557.05 L215.74,558.41 L216.23,558.41 L216.23,557.51 L216.53,557.51 L216.53,554.10 L216.85,554.10 L216.85,539.60 L217.34,539.60 L217.34,553.03 L217.65,553.03 L217.65,557.82 L217.95,557.82 L217.95,554.64 L218.34,554.64 L218.34,556.65 L218.71,556.65 L218.71,558.26 L219.23,558.26 L219.23,553.49 L219.74,553.49 L219.74,556.25 L220.28,556.25 L220.28,557.44 L220.81,557.44 L220.81,556.30 L221.31,556.30 L221.31,553.10 L221.68,553.10 L221.68,554.09 L222.19,554.09 L222.19,548.92 L222.67,548.92 L222.67,556.02 L223.02,556.02 L223.02,556.69 L223.57,556.69 L223.57,553.28 L224.08,553.28 L224.08,555.59 L224.43,555.59 L224.43,556.69 L224.91,556.69 L224.91,557.79 L225.37,557.79 L225.37,555.79 L225.79,555.79 L225.79,553.85 L226.25,553.85 L226.25,556.67 L226.66,556.67 L226.66,556.04 L226.98,556.04 L226.98,558.97 L227.29,558.97 L227.29,557.19 L227.70,557.19 L227.70,558.31 L228.11,558.31 L228.11,557.97 L228.54,557.97 L228.54,557.67 L228.84,557.67 L228.84,550.94 L229.30,550.94 L229.30,546.52 L229.77,546.52 L229.77,551.46 L230.08,551.46 L230.08,553.95 L230.48,553.95 L230.48,557.37 L231.01,557.37 L231.01,556.50 L231.52,556.50 L231.52,556.43 L231.86,556.43 L231.86,557.41 L232.24,557.41 L232.24,559.54 L232.61,559.54 L232.61,557.57 L233.00,557.57 L233.00,557.68 L233.37,557.68 L233.37,556.67 L233.75,556.67 L233.75,550.75 L234.30,550.75 L234.30,555.69 L234.74,555.69 L234.74,556.70 L235.11,556.70 L235.11,557.21 L235.42,557.21 L235.42,545.63 L235.91,545.63 L235.91,543.19 L236.30,543.19 L236.30,556.63 L236.82,556.63 L236.82,552.07 L237.15,552.07 L237.15,557.61 L237.65,557.61 L237.65,557.45 L238.05,557.45 L238.05,559.31 L238.38,559.31 L238.38,558.59 L238.79,558.59 L238.79,554.43 L239.28,554.43 L239.28,557.94 L239.68,557.94 L239.68,559.37 L240.05,559.37 L240.05,557.69 L240.48,557.69 L240.48,554.79 L240.79,554.79 L240.79,554.64 L241.20,554.64 L241.20,552.55 L241.51,552.55 L241.51,552.39 L242.03,552.39 L242.03,556.56 L242.49,556.56 L242.49,556.12 L242.88,556.12 L242.88,556.91 L243.32,556.91 L243.32,559.67 L243.84,559.67 L243.84,557.72 L244.39,557.72 L244.39,557.88 L244.83,557.88 L244.83,556.00 L245.19,556.00 L245.19,550.19 L245.64,550.19 L245.64,555.07 L246.13,555.07 L246.13,554.80 L246.55,554.80 L246.55,558.52 L247.10,558.52 L247.10,550.78 L247.52,550.78 L247.52,557.07 L248.01,557.07 L248.01,557.50 L248.55,557.50 L248.55,558.86 L249.06,558.86 L249.06,558.86 L249.47,558.86 L249.47,557.76 L249.88,557.76 L249.88,555.63 L250.35,555.63 L250.35,559.16 L250.68,559.16 L250.68,557.48 L251.19,557.48 L251.19,554.90 L251.53,554.90 L251.53,552.62 L252.08,552.62 L252.08,558.71 L252.45,558.71 L252.45,555.70 L252.99,555.70 L252.99,558.05 L253.32,558.05 L253.32,558.03 L253.77,558.03 L253.77,556.62 L254.16,556.62 L254.16,557.13 L254.55,557.13 L254.55,558.77 L254.88,558.77 L254.88,558.74 L255.24,558.74 L255.24,552.55 L255.63,552.55 L255.63,553.49 L256.09,553.49 L256.09,554.55 L256.47,554.55 L256.47,558.59 L256.83,558.59 L256.83,556.73 L257.17,556.73 L257.17,559.96 L257.53,559.96 L257.53,556.92 L258.03,556.92 L258.03,555.93 L258.44,555.93 L258.44,555.88 L258.93,555.88 L258.93,558.79 L259.40,558.79 L259.40,558.20 L259.79,558.20 L259.79,557.04 L260.30,557.04 L260.30,558.52 L260.83,558.52 L260.83,559.30 L261.33,559.30 L261.33,557.01 L261.74,557.01 L261.74,557.06 L262.11,557.06 L262.11,551.40 L262.53,551.40 L262.53,558.16 L262.90,558.16 L262.90,555.22 L263.23,555.22 L263.23,558.79 L263.57,558.79 L263.57,558.53 L264.00,558.53 L264.00,548.50 L264.38,548.50 L264.38,558.54 L264.84,558.54 L264.84,559.00 L265.32,559.00 L265.32,559.01 L265.83,559.01 L265.83,559.03 L266.27,559.03 L266.27,555.09 L266.61,555.09 L266.61,558.41 L266.94,558.41 L266.94,554.48 L267.26,554.48 L267.26,559.63 L267.71,559.63 L267.71,551.43 L268.01,551.43 L268.01,554.02 L268.41,554.02 L268.41,558.13 L268.90,558.13 L268.90,553.60 L269.40,553.60 L269.40,552.93 L269.76,552.93 L269.76,559.78 L270.25,559.78 L270.25,557.35 L270.67,557.35 L270.67,552.76 L271.11,552.76 L271.11,557.23 L271.63,557.23 L271.63,557.21 L272.13,557.21 L272.13,555.06 L272.59,555.06 L272.59,559.29 L273.02,559.29 L273.02,559.84 L273.52,559.84 L273.52,552.30 L274.01,552.30 L274.01,552.56 L274.37,552.56 L274.37,558.12 L274.84,558.12 L274.84,560.10 L275.38,560.10 L275.38,556.56 L275.79,556.56 L275.79,552.95 L276.21,552.95 L276.21,555.98 L276.57,555.98 L276.57,547.02 L277.01,547.02 L277.01,556.70 L277.33,556.70 L277.33,559.53 L277.87,559.53 L277.87,557.90 L278.28,557.90 L278.28,556.60 L278.66,556.60 L278.66,558.95 L279.10,558.95 L279.10,558.31 L279.43,558.31 L279.43,556.48 L279.86,556.48 L279.86,558.79 L280.38,558.79 L280.38,558.94 L280.80,558.94 L280.80,556.10 L281.22,556.10 L281.22,558.10 L281.75,558.10 L281.75,559.34 L282.17,559.34 L282.17,554.87 L282.64,554.87 L282.64,556.09 L283.17,556.09 L283.17,559.73 L283.52,559.73 L283.52,559.90 L283.95,559.90 L283.95,557.51 L284.38,557.51 L284.38,554.44 L284.92,554.44 L284.92,557.34 L285.24,557.34 L285.24,559.45 L285.78,559.45 L285.78,558.84 L286.16,558.84 L286.16,557.09 L286.71,557.09 L286.71,556.70 L287.11,556.70 L287.11,557.00 L287.60,557.00 L287.60,556.05 L288.09,556.05 L288.09,558.29 L288.55,558.29 L288.55,556.85 L288.94,556.85 L288.94,557.79 L289.33,557.79 L289.33,559.88 L289.65,559.88 L289.65,560.13 L290.04,560.13 L290.04,557.46 L290.57,557.46 L290.57,552.17 L291.03,552.17 L291.03,554.48 L291.35,554.48 L291.35,551.94 L291.74,551.94 L291.74,551.23 L292.28,551.23 L292.28,558.66 L292.73,558.66 L292.73,559.15 L293.23,559.15 L293.23,559.41 L293.74,559.41 L293.74,553.79 L294.26,553.79 L294.26,558.42 L294.68,558.42 L294.68,559.13 L295.07,559.13 L295.07,559.81 L295.51,559.81 L295.51,558.47 L295.83,558.47 L295.83,558.80 L296.32,558.80 L296.32,555.11 L296.82,555.11 L296.82,558.05 L297.26,558.05 L297.26,554.04 L297.56,554.04 L297.56,556.18 L298.09,556.18 L298.09,557.76 L298.49,557.76 L298.49,559.81 L299.01,559.81 L299.01,554.82 L299.39,554.82 L299.39,559.38 L299.81,559.38 L299.81,559.32 L300.36,559.32 L300.36,552.76 L300.83,552.76 L300.83,557.68 L301.35,557.68 L301.35,557.61 L301.81,557.61 L301.81,557.96 L302.15,557.96 L302.15,557.48 L302.46,557.48 L302.46,558.52 L302.99,558.52 L302.99,557.05 L303.37,557.05 L303.37,559.09 L303.73,559.09 L303.73,549.99 L304.26,549.99 L304.26,552.04 L304.79,552.04 L304.79,558.14 L305.14,558.14 L305.14,559.32 L305.50,559.32 L305.50,559.20 L305.88,559.20 L305.88,559.83 L306.38,559.83 L306.38,551.48 L306.70,551.48 L306.70,560.11 L307.13,560.11 L307.13,559.03 L307.62,559.03 L307.62,559.01 L308.14,559.01 L308.14,558.11 L308.53,558.11 L308.53,557.37 L308.95,557.37 L308.95,560.40 L309.32,560.40 L309.32,552.84 L309.72,552.84 L309.72,560.23 L310.25,560.23 L310.25,559.34 L310.57,559.34 L310.57,558.98 L311.12,558.98 L311.12,557.44 L311.63,557.44 L311.63,558.19 L312.12,558.19 L312.12,560.42 L312.63,560.42 L312.63,557.15 L313.08,557.15 L313.08,558.75 L313.42,558.75 L313.42,555.38 L313.85,555.38 L313.85,555.93 L314.23,555.93 L314.23,555.82 L314.66,555.82 L314.66,558.46 L315.07,558.46 L315.07,558.48 L315.59,558.48 L315.59,559.19 L315.98,559.19 L315.98,553.99 L316.46,553.99 L316.46,559.03 L316.85,559.03 L316.85,560.06 L317.30,560.06 L317.30,557.57 L317.63,557.57 L317.63,558.65 L318.09,558.65 L318.09,557.07 L318.52,557.07 L318.52,560.12 L319.03,560.12 L319.03,558.81 L319.40,558.81 L319.40,552.10 L319.74,552.10 L319.74,560.67 L320.13,560.67 L320.13,560.78 L320.60,560.78 L320.60,558.95 L321.05,558.95 L321.05,558.90 L321.39,558.90 L321.39,560.04 L321.83,560.04 L321.83,554.45 L322.16,554.45 L322.16,558.38 L322.58,558.38 L322.58,558.47 L322.91,558.47 L322.91,559.66 L323.21,559.66 L323.21,558.60 L323.62,558.60 L323.62,558.60 L323.92,558.60 L323.92,550.39 L324.30,550.39 L324.30,559.78 L324.76,559.78 L324.76,558.19 L325.21,558.19 L325.21,558.86 L325.65,558.86 L325.65,557.56 L326.19,557.56 L326.19,559.14 L326.64,559.14 L326.64,559.70 L327.00,559.70 L327.00,557.26 L327.37,557.26 L327.37,559.76 L327.77,559.76 L327.77,554.21 L328.16,554.21 L328.16,560.05 L328.68,560.05 L328.68,559.44 L329.09,559.44 L329.09,559.79 L329.56,559.79 L329.56,558.64 L330.11,558.64 L330.11,559.44 L330.58,559.44 L330.58,559.63 L331.02,559.63 L331.02,560.55 L331.42,560.55 L331.42,559.17 L331.83,559.17 L331.83,559.64 L332.23,559.64 L332.23,556.01 L332.67,556.01 L332.67,560.09 L333.03,560.09 L333.03,560.42 L333.44,560.42 L333.44,557.57 L333.89,557.57 L333.89,556.04 L334.25,556.04 L334.25,560.03 L334.63,560.03 L334.63,558.31 L335.15,558.31 L335.15,559.22 L335.61,559.22 L335.61,559.59 L336.00,559.59 L336.00,559.16 L336.46,559.16 L336.46,560.11 L336.89,560.11 L336.89,559.42 L337.24,559.42 L337.24,559.41 L337.60,559.41 L337.60,554.99 L338.02,554.99 L338.02,560.39 L338.40,560.39 L338.40,559.86 L338.76,559.86 L338.76,559.82 L339.21,559.82 L339.21,558.43 L339.68,558.43 L339.68,555.38 L340.22,555.38 L340.22,557.30 L340.70,557.30 L340.70,558.69 L341.16,558.69 L341.16,556.09 L341.67,556.09 L341.67,558.90 L342.21,558.90 L342.21,559.48 L342.63,559.48 L342.63,560.39 L343.13,560.39 L343.13,558.78 L343.62,558.78 L343.62,558.46 L343.94,558.46 L343.94,558.19 L344.43,558.19 L344.43,559.74 L344.84,559.74 L344.84,559.38 L345.34,559.38 L345.34,558.81 L345.79,558.81 L345.79,558.69 L346.33,558.69 L346.33,559.16 L346.86,559.16 L346.86,559.41 L347.18,559.41 L347.18,559.93 L347.51,559.93 L347.51,556.15 L347.94,556.15 L347.94,559.43 L348.30,559.43 L348.30,557.93 L348.83,557.93 L348.83,560.22 L349.18,560.22 L349.18,556.20 L349.57,556.20 L349.57,556.80 L350.01,556.80 L350.01,559.22 L350.46,559.22 L350.46,560.88 L350.97,560.88 L350.97,558.05 L351.44,558.05 L351.44,559.66 L351.88,559.66 L351.88,554.83 L352.25,554.83 L352.25,559.34 L352.73,559.34 L352.73,552.06 L353.20,552.06 L353.20,560.15 L353.52,560.15 L353.52,559.18 L353.96,559.18 L353.96,556.57 L354.43,556.57 L354.43,559.67 L354.81,559.67 L354.81,559.62 L355.24,559.62 L355.24,558.35 L355.63,558.35 L355.63,559.20 L356.06,559.20 L356.06,560.70 L356.45,560.70 L356.45,555.94 L356.85,555.94 L356.85,558.95 L357.16,558.95 L357.16,560.32 L357.64,560.32 L357.64,556.97 L358.02,556.97 L358.02,558.63 L358.38,558.63 L358.38,559.79 L358.92,559.79 L358.92,560.14 L359.39,560.14 L359.39,560.60 L359.81,560.60 L359.81,560.45 L360.15,560.45 L360.15,559.61 L360.67,559.61 L360.67,558.51 L361.06,558.51 L361.06,559.01 L361.43,559.01 L361.43,558.00 L361.87,558.00 L361.87,560.76 L362.38,560.76 L362.38,559.21 L362.83,559.21 L362.83,559.65 L363.26,559.65 L363.26,558.01 L363.70,558.01 L363.70,559.28 L364.06,559.28 L364.06,560.18 L364.47,560.18 L364.47,557.37 L364.93,557.37 L364.93,558.14 L365.42,558.14 L365.42,560.16 L365.78,560.16 L365.78,554.15 L366.25,554.15 L366.25,558.57 L366.65,558.57 L366.65,560.62 L367.13,560.62 L367.13,560.66 L367.66,560.66 L367.66,560.69 L368.02,560.69 L368.02,559.58 L368.32,559.58 L368.32,558.64 L368.79,558.64 L368.79,558.32 L369.12,558.32 L369.12,561.39 L369.47,561.39 L369.47,559.51 L369.99,559.51 L369.99,557.09 L370.54,557.09 L370.54,558.24 L371.04,558.24 L371.04,559.40 L371.51,559.40 L371.51,558.21 L371.83,558.21 L371.83,557.85 L372.36,557.85 L372.36,559.55 L372.79,559.55 L372.79,560.68 L373.30,560.68 L373.30,560.78 L373.68,560.78 L373.68,559.46 L374.05,559.46 L374.05,559.94 L374.40,559.94 L374.40,559.17 L374.87,559.17 L374.87,553.21 L375.22,553.21 L375.22,560.38 L375.60,560.38 L375.60,558.96 L376.15,558.96 L376.15,557.19 L376.67,557.19 L376.67,556.05 L377.04,556.05 L377.04,559.76 L377.47,559.76 L377.47,556.83 L377.85,556.83 L377.85,560.80 L378.34,560.80 L378.34,559.88 L378.80,559.88 L378.80,556.70 L379.20,556.70 L379.20,556.77 L379.52,556.77 L379.52,558.83 L379.98,558.83 L379.98,559.83 L380.51,559.83 L380.51,559.74 L380.92,559.74 L380.92,561.37 L381.30,561.37 L381.30,558.68 L381.64,558.68 L381.64,557.30 L381.97,557.30 L381.97,560.44 L382.42,560.44 L382.42,559.84 L382.83,559.84 L382.83,557.35 L383.36,557.35 L383.36,560.01 L383.74,560.01 L383.74,561.49 L384.14,561.49 L384.14,559.14 L384.68,559.14 L384.68,554.76 L385.15,554.76 L385.15,559.15 L385.48,559.15 L385.48,559.41 L385.82,559.41 L385.82,559.62 L386.29,559.62 L386.29,559.33 L386.61,559.33 L386.61,557.32 L387.00,557.32 L387.00,560.55 L387.46,560.55 L387.46,554.92 L387.79,554.92 L387.79,557.25 L388.26,557.25 L388.26,560.61 L388.67,560.61 L388.67,560.50 L389.17,560.50 L389.17,560.58 L389.60,560.58 L389.60,557.95 L390.04,557.95 L390.04,557.72 L390.46,557.72 L390.46,552.19 L390.84,552.19 L390.84,557.27 L391.19,557.27 L391.19,558.56 L391.67,558.56 L391.67,560.74 L392.13,560.74 L392.13,557.19 L392.55,557.19 L392.55,558.60 L392.95,558.60 L392.95,561.01 L393.31,561.01 L393.31,561.18 L393.74,561.18 L393.74,561.14 L394.22,561.14 L394.22,558.71 L394.52,558.71 L394.52,560.95 L394.96,560.95 L394.96,558.35 L395.37,558.35 L395.37,560.42 L395.82,560.42 L395.82,560.80 L396.34,560.80 L396.34,561.25 L396.89,561.25 L396.89,559.90 L397.23,559.90 L397.23,557.52 L397.56,557.52 L397.56,558.28 L397.89,558.28 L397.89,560.49 L398.38,560.49 L398.38,560.15 L398.90,560.15 L398.90,560.81 L399.33,560.81 L399.33,559.71 L399.83,559.71 L399.83,561.40 L400.14,561.40 L400.14,558.44 L400.51,558.44 L400.51,556.84 L400.93,556.84 L400.93,561.56 L401.26,561.56 L401.26,557.49 L401.56,557.49 L401.56,556.16 L401.93,556.16 L401.93,557.51 L402.28,557.51 L402.28,557.98 L402.66,557.98 L402.66,561.65 L403.13,561.65 L403.13,560.46 L403.65,560.46 L403.65,560.72 L404.01,560.72 L404.01,558.14 L404.53,558.14 L404.53,559.75 L404.91,559.75 L404.91,559.62 L405.25,559.62 L405.25,554.89 L405.56,554.89 L405.56,560.16 L405.91,560.16 L405.91,560.31 L406.22,560.31 L406.22,559.65 L406.66,559.65 L406.66,559.20 L407.08,559.20 L407.08,560.24 L407.50,560.24 L407.50,554.10 L407.92,554.10 L407.92,558.19 L408.47,558.19 L408.47,560.81 L408.81,560.81 L408.81,561.49 L409.11,561.49 L409.11,559.53 L409.60,559.53 L409.60,560.98 L410.15,560.98 L410.15,557.89 L410.46,557.89 L410.46,560.05 L410.90,560.05 L410.90,560.72 L411.42,560.72 L411.42,560.96 L411.73,560.96 L411.73,559.85 L412.15,559.85 L412.15,557.33 L412.54,557.33 L412.54,560.08 L412.91,560.08 L412.91,559.35 L413.27,559.35 L413.27,556.56 L413.73,556.56 L413.73,551.95 L414.15,551.95 L414.15,559.31 L414.65,559.31 L414.65,560.76 L415.20,560.76 L415.20,558.78 L415.52,558.78 L415.52,559.48 L416.04,559.48 L416.04,561.24 L416.52,561.24 L416.52,559.23 L417.00,559.23 L417.00,560.68 L417.32,560.68 L417.32,558.78 L417.83,558.78 L417.83,559.62 L418.26,559.62 L418.26,560.62 L418.61,560.62 L418.61,554.24 L419.04,554.24 L419.04,560.24 L419.54,560.24 L419.54,559.90 L420.09,559.90 L420.09,557.96 L420.47,557.96 L420.47,554.38 L420.91,554.38 L420.91,559.57 L421.29,559.57 L421.29,561.02 L421.69,561.02 L421.69,559.81 L422.22,559.81 L422.22,559.92 L422.64,559.92 L422.64,559.00 L423.05,559.00 L423.05,558.91 L423.51,558.91 L423.51,561.12 L423.85,561.12 L423.85,559.51 L424.36,559.51 L424.36,561.07 L424.75,561.07 L424.75,561.38 L425.20,561.38 L425.20,557.45 L425.71,557.45 L425.71,559.15 L426.08,559.15 L426.08,558.77 L426.39,558.77 L426.39,560.39 L426.80,560.39 L426.80,561.17 L427.34,561.17 L427.34,560.85 L427.81,560.85 L427.81,559.53 L428.25,559.53 L428.25,556.98 L428.67,556.98 L428.67,560.87 L429.01,560.87 L429.01,560.17 L429.44,560.17 L429.44,561.40 L429.81,561.40 L429.81,560.84 L430.34,560.84 L430.34,557.18 L430.80,557.18 L430.80,559.65 L431.11,559.65 L431.11,561.55 L431.44,561.55 L431.44,561.33 L431.86,561.33 L431.86,560.67 L432.27,560.67 L432.27,560.78 L432.74,560.78 L432.74,561.76 L433.24,561.76 L433.24,559.60 L433.61,559.60 L433.61,560.23 L433.99,560.23 L433.99,557.87 L434.51,557.87 L434.51,560.86 L434.90,560.86 L434.90,560.60 L435.35,560.60 L435.35,561.20 L435.66,561.20 L435.66,560.44 L436.21,560.44 L436.21,560.53 L436.58,560.53 L436.58,558.00 L436.88,558.00 L436.88,558.20 L437.25,558.20 L437.25,561.02 L437.73,561.02 L437.73,555.71 L438.13,555.71 L438.13,555.31 L438.66,555.31 L438.66,559.25 L439.05,559.25 L439.05,558.83 L439.43,558.83 L439.43,559.11 L439.96,559.11 L439.96,560.56 L440.39,560.56 L440.39,560.15 L440.81,560.15 L440.81,560.97 L441.24,560.97 L441.24,560.97 L441.55,560.97 L441.55,559.44 L441.89,559.44 L441.89,560.60 L442.21,560.60 L442.21,559.00 L442.56,559.00 L442.56,559.83 L442.92,559.83 L442.92,560.05 L443.29,560.05 L443.29,559.94 L443.75,559.94 L443.75,559.78 L444.24,559.78 L444.24,561.28 L444.65,561.28 L444.65,559.84 L445.07,559.84 L445.07,557.70 L445.61,557.70 L445.61,559.17 L446.01,559.17 L446.01,558.31 L446.47,558.31 L446.47,560.33 L447.00,560.33 L447.00,559.39 L447.41,559.39 L447.41,559.35 L447.79,559.35 L447.79,560.65 L448.27,560.65 L448.27,558.90 L448.79,558.90 L448.79,558.28 L449.28,558.28 L449.28,555.31 L449.72,555.31 L449.72,559.91 L450.26,559.91 L450.26,560.10 L450.56,560.10 L450.56,561.28 L450.87,561.28 L450.87,561.24 L451.19,561.24 L451.19,560.43 L451.58,560.43 L451.58,561.06 L452.09,561.06 L452.09,561.29 L452.42,561.29 L452.42,559.76 L452.84,559.76 L452.84,561.50 L453.32,561.50 L453.32,560.66 L453.73,560.66 L453.73,556.48 L454.23,556.48 L454.23,560.38 L454.69,560.38 L454.69,558.75 L455.09,558.75 L455.09,559.76 L455.61,559.76 L455.61,559.26 L455.97,559.26 L455.97,560.38 L456.43,560.38 L456.43,558.19 L456.94,558.19 L456.94,561.33 L457.33,561.33 L457.33,558.80 L457.70,558.80 L457.70,558.96 L458.12,558.96 L458.12,560.13 L458.53,560.13 L458.53,560.48 L459.00,560.48 L459.00,561.46 L459.43,561.46 L459.43,557.36 L459.92,557.36 L459.92,560.33 L460.29,560.33 L460.29,559.55 L460.80,559.55 L460.80,559.95 L461.19,559.95 L461.19,561.42 L461.67,561.42 L461.67,560.50 L462.05,560.50 L462.05,560.36 L462.47,560.36 L462.47,557.43 L462.96,557.43 L462.96,560.52 L463.30,560.52 L463.30,559.95 L463.72,559.95 L463.72,560.20 L464.07,560.20 L464.07,559.34 L464.40,559.34 L464.40,561.32 L464.83,561.32 L464.83,561.02 L465.37,561.02 L465.37,560.30 L465.83,560.30 L465.83,561.03 L466.26,561.03 L466.26,560.63 L466.65,560.63 L466.65,559.40 L467.18,559.40 L467.18,560.95 L467.69,560.95 L467.69,561.70 L468.01,561.70 L468.01,561.33 L468.40,561.33 L468.40,560.88 L468.85,560.88 L468.85,560.45 L469.18,560.45 L469.18,559.79 L469.50,559.79 L469.50,559.58 L469.91,559.58 L469.91,558.45 L470.23,558.45 L470.23,555.24 L470.78,555.24 L470.78,559.22 L471.31,559.22 L471.31,560.05 L471.68,560.05 L471.68,561.78 L472.08,561.78 L472.08,561.60 L472.50,561.60 L472.50,555.84 L472.84,555.84 L472.84,560.00 L473.25,560.00 L473.25,555.70 L473.75,555.70 L473.75,561.11 L474.16,561.11 L474.16,558.80 L474.55,558.80 L474.55,554.72 L474.87,554.72 L474.87,560.58 L475.18,560.58 L475.18,558.44 L475.55,558.44 L475.55,559.23 L475.87,559.23 L475.87,560.46 L476.40,560.46 L476.40,559.49 L476.72,559.49 L476.72,561.38 L477.07,561.38 L477.07,560.62 L477.48,560.62 L477.48,558.60 L477.87,558.60 L477.87,559.63 L478.34,559.63 L478.34,558.87 L478.72,558.87 L478.72,558.08 L479.14,558.08 L479.14,560.40 L479.57,560.40 L479.57,561.07 L480.02,561.07 L480.02,553.97 L480.57,553.97 L480.57,559.86 L480.90,559.86 L480.90,560.65 L481.36,560.65 L481.36,558.48 L481.89,558.48 L481.89,554.45 L482.42,554.45 L482.42,561.71 L482.84,561.71 L482.84,557.75 L483.34,557.75 L483.34,559.89 L483.70,559.89 L483.70,559.22 L484.08,559.22 L484.08,559.88 L484.52,559.88 L484.52,559.96 L484.88,559.96 L484.88,559.51 L485.32,559.51 L485.32,561.10 L485.67,561.10 L485.67,556.36 L485.98,556.36 L485.98,559.14 L486.38,559.14 L486.38,557.35 L486.88,557.35 L486.88,558.43 L487.27,558.43 L487.27,559.68 L487.78,559.68 L487.78,560.62 L488.29,560.62 L488.29,558.42 L488.63,558.42 L488.63,561.20 L489.11,561.20 L489.11,559.56 L489.44,559.56 L489.44,559.95 L489.78,559.95 L489.78,559.52 L490.21,559.52 L490.21,561.10 L490.70,561.10 L490.70,559.65 L491.01,559.65 L491.01,560.72 L491.44,560.72 L491.44,560.85 L491.77,560.85 L491.77,558.68 L492.11,558.68 L492.11,557.57 L492.48,557.57 L492.48,560.65 L492.86,560.65 L492.86,561.34 L493.20,561.34 L493.20,560.32 L493.50,560.32 L493.50,561.07 L493.91,561.07 L493.91,560.21 L494.42,560.21 L494.42,558.71 L494.83,558.71 L494.83,560.16 L495.24,560.16 L495.24,560.81 L495.79,560.81 L495.79,560.05 L496.20,560.05 L496.20,560.47 L496.69,560.47 L496.69,553.08 L497.24,553.08 L497.24,560.71 L497.56,560.71 L497.56,554.55 L498.02,554.55 L498.02,561.06 L498.53,561.06 L498.53,560.46 L498.87,560.46 L498.87,557.87 L499.40,557.87 L499.40,560.32 L499.75,560.32 L499.75,561.56 L500.12,561.56 L500.12,561.21 L500.46,561.21 L500.46,558.84 L501.00,558.84 L501.00,558.57 L501.50,558.57 L501.50,558.84 L502.00,558.84 L502.00,560.75 L502.49,560.75 L502.49,555.92 L502.95,555.92 L502.95,560.49 L503.39,560.49 L503.39,560.46 L503.90,560.46 L503.90,559.97 L504.37,559.97 L504.37,559.33 L504.79,559.33 L504.79,552.89 L505.15,552.89 L505.15,554.58 L505.64,554.58 L505.64,559.24 L506.17,559.24 L506.17,560.57 L506.53,560.57 L506.53,560.26 L507.08,560.26 L507.08,559.15 L507.47,559.15 L507.47,561.71 L508.00,561.71 L508.00,559.23 L508.40,559.23 L508.40,560.87 L508.86,560.87 L508.86,560.14 L509.28,560.14 L509.28,557.87 L509.62,557.87 L509.62,561.40 L510.13,561.40 L510.13,558.92 L510.44,558.92 L510.44,560.73 L510.82,560.73 L510.82,560.00 L511.33,560.00 L511.33,558.32 L511.79,558.32 L511.79,559.88 L512.18,559.88 L512.18,560.53 L512.68,560.53 L512.68,560.44 L513.15,560.44 L513.15,560.78 L513.68,560.78 L513.68,560.82 L514.05,560.82 L514.05,560.32 L514.51,560.32 L514.51,560.95 L514.87,560.95 L514.87,557.86 L515.30,557.86 L515.30,560.46 L515.64,560.46 L515.64,560.16 L516.16,560.16 L516.16,555.86 L516.69,555.86 L516.69,561.46 L517.21,561.46 L517.21,560.55 L517.56,560.55 L517.56,558.65 L517.93,558.65 L517.93,555.98 L518.27,555.98 L518.27,555.61 L518.67,555.61 L518.67,561.22 L519.07,561.22 L519.07,560.41 L519.40,560.41 L519.40,558.23 L519.75,558.23 L519.75,559.99 L520.15,559.99 L520.15,560.93 L520.70,560.93 L520.70,559.20 L521.23,559.20 L521.23,560.91 L521.58,560.91 L521.58,561.67 L521.91,561.67 L521.91,559.16 L522.30,559.16 L522.30,560.59 L522.72,560.59 L522.72,556.31 L523.23,556.31 L523.23,558.94 L523.75,558.94 L523.75,560.64 L524.15,560.64 L524.15,554.76 L524.68,554.76 L524.68,560.47 L525.03,560.47 L525.03,561.11 L525.34,561.11 L525.34,560.05 L525.77,560.05 L525.77,560.29 L526.25,560.29 L526.25,558.94 L526.74,558.94 L526.74,558.54 L527.10,558.54 L527.10,560.27 L527.51,560.27 L527.51,556.97 L527.90,556.97 L527.90,561.31 L528.41,561.31 L528.41,555.69 L528.80,555.69 L528.80,559.72 L529.24,559.72 L529.24,559.77 L529.60,559.77 L529.60,560.13 L530.09,560.13 L530.09,559.06 L530.62,559.06 L530.62,556.93 L531.04,556.93 L531.04,555.96 L531.38,555.96 L531.38,558.84 L531.73,558.84 L531.73,558.88 L532.24,558.88 L532.24,559.42 L532.70,559.42 L532.70,558.89 L533.02,558.89 L533.02,560.69 L533.51,560.69 L533.51,560.64 L533.94,560.64 L533.94,561.52 L534.24,561.52 L534.24,560.00 L534.67,560.00 L534.67,561.34 L535.11,561.34 L535.11,559.25 L535.61,559.25 L535.61,561.72 L535.96,561.72 L535.96,559.50 L536.40,559.50 L536.40,561.67 L536.76,561.67 L536.76,561.30 L537.29,561.30 L537.29,560.65 L537.80,560.65 L537.80,559.22 L538.21,559.22 L538.21,558.76 L538.57,558.76 L538.57,561.22 L538.92,561.22 L538.92,560.11 L539.23,560.11 L539.23,554.59 L539.64,554.59 L539.64,559.91 L540.18,559.91 L540.18,560.16 L540.63,560.16 L540.63,556.14 L540.94,556.14 L540.94,559.98 L541.45,559.98 L541.45,559.62 L541.78,559.62 L541.78,560.19 L542.17,560.19 L542.17,561.22 L542.68,561.22 L542.68,559.25 L543.16,559.25 L543.16,559.72 L543.68,559.72 L543.68,561.06 L544.02,561.06 L544.02,558.77 L544.41,558.77 L544.41,560.44 L544.74,560.44 L544.74,559.54 L545.27,559.54 L545.27,557.15 L545.67,557.15 L545.67,552.79 L546.02,552.79 L546.02,560.60 L546.50,560.60 L546.50,557.01 L546.81,557.01 L546.81,560.18 L547.13,560.18 L547.13,561.32 L547.64,561.32 L547.64,559.57 L548.10,559.57 L548.10,559.67 L548.48,559.67 L548.48,560.41 L549.03,560.41 L549.03,557.49 L549.42,557.49 L549.42,557.60 L549.96,557.60 L549.96,561.62 L550.45,561.62 L550.45,558.58 L550.92,558.58 L550.92,555.38 L551.23,555.38 L551.23,555.78 L551.71,555.78 L551.71,560.86 L552.21,560.86 L552.21,559.81 L552.75,559.81 L552.75,561.01 L553.24,561.01 L553.24,555.70 L553.59,555.70 L553.59,558.84 L554.06,558.84 L554.06,556.06 L554.40,556.06 L554.40,560.51 L554.86,560.51 L554.86,560.91 L555.38,560.91 L555.38,558.67 L555.72,558.67 L555.72,558.20 L556.20,558.20 L556.20,560.68 L556.67,560.68 L556.67,560.03 L557.18,560.03 L557.18,559.65 L557.72,559.65 L557.72,560.71 L558.03,560.71 L558.03,560.54 L558.53,560.54 L558.53,561.70 L559.02,561.70 L559.02,559.56 L559.44,559.56 L559.44,561.49 L559.87,561.49 L559.87,560.05 L560.27,560.05 L560.27,561.06 L560.72,561.06 L560.72,555.86 L561.18,555.86 L561.18,560.62 L561.52,560.62 L561.52,561.01 L561.82,561.01 L561.82,561.26 L562.32,561.26 L562.32,559.10 L562.67,559.10 L562.67,559.66 L563.06,559.66 L563.06,559.12 L563.52,559.12 L563.52,560.97 L564.05,560.97 L564.05,560.09 L564.58,560.09 L564.58,560.34 L565.01,560.34 L565.01,558.60 L565.34,558.60 L565.34,560.15 L565.86,560.15 L565.86,559.06 L566.22,559.06 L566.22,559.69 L566.63,559.69 L566.63,557.24 L566.96,557.24 L566.96,560.77 L567.39,560.77 L567.39,558.03 L567.72,558.03 L567.72,558.44 L568.18,558.44 L568.18,559.07 L568.72,559.07 L568.72,560.31 L569.16,560.31 L569.16,559.01 L569.67,559.01 L569.67,559.42 L570.09,559.42 L570.09,556.81 L570.48,556.81 L570.48,560.90 L570.86,560.90 L570.86,557.74 L571.25,557.74 L571.25,558.98 L571.65,558.98 L571.65,558.73 L572.00,558.73 L572.00,561.59 L572.36,561.59 L572.36,554.77 L572.90,554.77 L572.90,557.46 L573.42,557.46 L573.42,560.18 L573.82,560.18 L573.82,558.78 L574.13,558.78 L574.13,560.73 L574.56,560.73 L574.56,559.53 L574.98,559.53 L574.98,561.04 L575.29,561.04 L575.29,561.02 L575.66,561.02 L575.66,559.95 L576.21,559.95 L576.21,559.77 L576.62,559.77 L576.62,558.59 L577.13,558.59 L577.13,558.37 L577.43,558.37 L577.43,559.69 L577.82,559.69 L577.82,559.10 L578.35,559.10 L578.35,558.42 L578.81,558.42 L578.81,557.38 L579.19,557.38 L579.19,553.61 L579.72,553.61 L579.72,560.21 L580.10,560.21 L580.10,559.63 L580.43,559.63 L580.43,559.50 L580.76,559.50 L580.76,559.66 L581.22,559.66 L581.22,560.51 L581.65,560.51 L581.65,561.46 L582.19,561.46 L582.19,557.57 L582.61,557.57 L582.61,561.73 L583.12,561.73 L583.12,558.92 L583.59,558.92 L583.59,558.93 L584.05,558.93 L584.05,561.32 L584.46,561.32 L584.46,561.12 L584.97,561.12 L584.97,560.05 L585.30,560.05 L585.30,561.02 L585.77,561.02 L585.77,559.90 L586.09,559.90 L586.09,560.83 L586.58,560.83 L586.58,561.48 L587.05,561.48 L587.05,560.73 L587.55,560.73 L587.55,559.83 L587.95,559.83 L587.95,560.80 L588.33,560.80 L588.33,560.07 L588.80,560.07 L588.80,557.53 L589.24,557.53 L589.24,560.72 L589.65,560.72 L589.65,561.48 L590.07,561.48 L590.07,560.43 L590.62,560.43 L590.62,553.76 L591.12,553.76 L591.12,558.90 L591.54,558.90 L591.54,560.71 L592.02,560.71 L592.02,557.33 L592.50,557.33 L592.50,560.36 L593.04,560.36 L593.04,560.72 L593.44,560.72 L593.44,561.03 L593.88,561.03 L593.88,554.62 L594.32,554.62 L594.32,559.24 L594.66,559.24 L594.66,559.47 L595.10,559.47 L595.10,560.37 L595.59,560.37 L595.59,560.41 L596.11,560.41 L596.11,560.63 L596.57,560.63 L596.57,560.57 L597.11,560.57 L597.11,560.30 L597.47,560.30 L597.47,560.26 L597.86,560.26 L597.86,559.34 L598.34,559.34 L598.34,560.27 L598.65,560.27 L598.65,560.10 L598.99,560.10 L598.99,560.11 L599.44,560.11 L599.44,560.47 L599.75,560.47 L599.75,560.32 L600.09,560.32 L600.09,560.28 L600.63,560.28 L600.63,559.61 L601.05,559.61 L601.05,560.41 L601.41,560.41 L601.41,560.50 L601.91,560.50 L601.91,556.76 L602.46,556.76 L602.46,560.00 L602.85,560.00 L602.85,558.51 L603.16,558.51 L603.16,557.70 L603.71,557.70 L603.71,556.33 L604.17,556.33 L604.17,559.32 L604.66,559.32 L604.66,559.08 L605.21,559.08 L605.21,560.38 L605.55,560.38 L605.55,560.57 L606.03,560.57 L606.03,558.93 L606.48,558.93 L606.48,558.00 L606.81,558.00 L606.81,556.78 L607.15,556.78 L607.15,558.99 L607.55,558.99 L607.55,560.75 L607.96,560.75 L607.96,559.32 L608.31,559.32 L608.31,558.90 L608.83,558.90 L608.83,555.37 L609.34,555.37 L609.34,558.48 L609.85,558.48 L609.85,559.32 L610.20,559.32 L610.20,561.09 L610.73,561.09 L610.73,560.45 L611.24,560.45 L611.24,560.20 L611.64,560.20 L611.64,559.06 L612.16,559.06 L612.16,555.82 L612.57,555.82 L612.57,561.06 L612.90,561.06 L612.90,558.12 L613.37,558.12 L613.37,558.24 L613.81,558.24 L613.81,558.13 L614.16,558.13 L614.16,559.74 L614.66,559.74 L614.66,560.19 L615.19,560.19 L615.19,552.77 L615.66,552.77 L615.66,561.31 L616.14,561.31 L616.14,561.02 L616.50,561.02 L616.50,558.11 L616.87,558.11 L616.87,556.55 L617.37,556.55 L617.37,561.60 L617.85,561.60 L617.85,559.67 L618.28,559.67 L618.28,559.33 L618.79,559.33 L618.79,560.38 L619.14,560.38 L619.14,554.74 L619.67,554.74 L619.67,559.40 L620.02,559.40 L620.02,560.63 L620.50,560.63 L620.50,560.12 L620.96,560.12 L620.96,560.57 L621.27,560.57 L621.27,555.33 L621.80,555.33 L621.80,560.77 L622.21,560.77 L622.21,557.68 L622.54,557.68 L622.54,559.99 L622.90,559.99 L622.90,560.93 L623.23,560.93 L623.23,560.35 L623.77,560.35 L623.77,560.62 L624.12,560.62 L624.12,560.04 L624.57,560.04 L624.57,560.08 L625.04,560.08 L625.04,560.37 L625.45,560.37 L625.45,555.88 L625.96,555.88 L625.96,560.43 L626.29,560.43 L626.29,558.68 L626.83,558.68 L626.83,559.93 L627.17,559.93 L627.17,560.72 L627.64,560.72 L627.64,557.24 L628.05,557.24 L628.05,560.14 L628.48,560.14 L628.48,561.17 L628.92,561.17 L628.92,560.63 L629.38,560.63 L629.38,559.85 L629.78,559.85 L629.78,560.56 L630.18,560.56 L630.18,561.18 L630.55,561.18 L630.55,560.29 L631.04,560.29 L631.04,561.07 L631.41,561.07 L631.41,557.54 L631.83,557.54 L631.83,561.10 L632.34,561.10 L632.34,557.82 L632.74,557.82 L632.74,560.55 L633.18,560.55 L633.18,555.77 L633.53,555.77 L633.53,560.05 L633.99,560.05 L633.99,559.81 L634.30,559.81 L634.30,556.52 L634.83,556.52 L634.83,555.93 L635.22,555.93 L635.22,558.11 L635.65,558.11 L635.65,559.47 L636.11,559.47 L636.11,560.27 L636.48,560.27 L636.48,560.65 L637.03,560.65 L637.03,559.93 L637.34,559.93 L637.34,559.11 L637.65,559.11 L637.65,556.60 L638.01,556.60 L638.01,558.53 L638.35,558.53 L638.35,558.23 L638.88,558.23 L638.88,561.06 L639.42,561.06 L639.42,560.21 L639.75,560.21 L639.75,561.49 L640.18,561.49 L640.18,560.52 L640.72,560.52 L640.72,560.20 L641.24,560.20 L641.24,557.73 L641.67,557.73 L641.67,559.00 L641.99,559.00 L641.99,560.78 L642.45,560.78 L642.45,559.99 L642.88,559.99 L642.88,560.22 L643.29,560.22 L643.29,557.07 L643.75,557.07 L643.75,560.58 L644.16,560.58 L644.16,559.43 L644.69,559.43 L644.69,560.14 L645.01,560.14 L645.01,559.61 L645.36,559.61 L645.36,561.49 L645.73,561.49 L645.73,560.75 L646.11,560.75 L646.11,559.28 L646.51,559.28 L646.51,558.61 L646.97,558.61 L646.97,558.54 L647.51,558.54 L647.51,556.70 L647.85,556.70 L647.85,555.54 L648.23,555.54 L648.23,558.02 L648.71,558.02 L648.71,558.60 L649.12,558.60 L649.12,555.28 L649.52,555.28 L649.52,560.07 L650.00,560.07 L650.00,561.26 L650.32,561.26 L650.32,560.20 L650.71,560.20 L650.71,559.88 L651.25,559.88 L651.25,561.12 L651.65,561.12 L651.65,560.62 L651.98,560.62 L651.98,560.92 L652.35,560.92 L652.35,559.43 L652.88,559.43 L652.88,558.80 L653.36,558.80 L653.36,559.85 L653.76,559.85 L653.76,558.89 L654.28,558.89 L654.28,559.08 L654.79,559.08 L654.79,559.88 L655.33,559.88 L655.33,560.53 L655.73,560.53 L655.73,560.73 L656.05,560.73 L656.05,558.95 L656.54,558.95 L656.54,558.36 L657.06,558.36 L657.06,561.00 L657.52,561.00 L657.52,559.45 L658.01,559.45 L658.01,559.60 L658.44,559.60 L658.44,560.64 L658.80,560.64 L658.80,561.45 L659.27,561.45 L659.27,558.28 L659.80,558.28 L659.80,560.49 L660.21,560.49 L660.21,560.10 L660.58,560.10 L660.58,560.83 L661.13,560.83 L661.13,559.40 L661.64,559.40 L661.64,560.40 L661.98,560.40 L661.98,558.83 L662.49,558.83 L662.49,559.59 L662.98,559.59 L662.98,559.66 L663.39,559.66 L663.39,559.86 L663.79,559.86 L663.79,560.08 L664.18,560.08 L664.18,561.68 L664.54,561.68 L664.54,556.93 L665.00,556.93 L665.00,560.36 L665.32,560.36 L665.32,560.25 L665.71,560.25 L665.71,560.57 L666.01,560.57 L666.01,553.78 L666.54,553.78 L666.54,561.06 L666.89,561.06 L666.89,556.40 L667.35,556.40 L667.35,557.91 L667.85,557.91 L667.85,561.11 L668.35,561.11 L668.35,561.30 L668.73,561.30 L668.73,560.98 L669.05,560.98 L669.05,560.21 L669.45,560.21 L669.45,556.59 L669.95,556.59 L669.95,557.54 L670.39,557.54 L670.39,560.86 L670.89,560.86 L670.89,561.03 L671.30,561.03 L671.30,560.08 L671.73,560.08 L671.73,555.77 L672.05,555.77 L672.05,557.18 L672.37,557.18 L672.37,560.66 L672.78,560.66 L672.78,559.94 L673.31,559.94 L673.31,560.47 L673.80,560.47 L673.80,560.60 L674.21,560.60 L674.21,557.81 L674.60,557.81 L674.60,564.20Z" fill="rgb(255,22,12)"/>
<path d="M124.98,563.9v1.6M140.80,563.9v1.6M156.62,563.9v1.6M172.45,563.9v1.6M188.28,563.9v1.6M204.10,563.9v1.6M219.93,563.9v1.6M235.75,563.9v1.6M251.58,563.9v1.6M267.40,563.9v1.6M283.23,563.9v1.6M299.05,563.9v1.6M314.88,563.9v1.6M330.70,563.9v1.6M346.52,563.9v1.6M362.35,563.9v1.6M378.18,563.9v1.6M394.00,563.9v1.6M409.82,563.9v1.6M425.65,563.9v1.6M441.48,563.9v1.6M457.30,563.9v1.6M473.12,563.9v1.6M488.95,563.9v1.6M504.78,563.9v1.6M520.60,563.9v1.6M536.42,563.9v1.6M552.25,563.9v1.6M568.08,563.9v1.6M583.90,563.9v1.6M599.73,563.9v1.6M615.55,563.9v1.6M631.38,563.9v1.6M647.20,563.9v1.6M663.03,563.9v1.6M678.85,563.9v1.6" stroke="#555" stroke-width="0.7" fill="none"/>
<text x="140.8" y="573.8" class="tk" text-anchor="middle">800</text>
<text x="204.1" y="573.8" class="tk" text-anchor="middle">1000</text>
<text x="267.4" y="573.8" class="tk" text-anchor="middle">1200</text>
<text x="330.7" y="573.8" class="tk" text-anchor="middle">1400</text>
<text x="394.0" y="573.8" class="tk" text-anchor="middle">1600</text>
<text x="457.3" y="573.8" class="tk" text-anchor="middle">1800</text>
<text x="520.6" y="573.8" class="tk" text-anchor="middle">2000</text>
<text x="583.9" y="573.8" class="tk" text-anchor="middle">2200</text>
<text x="647.2" y="573.8" class="tk" text-anchor="middle">2400</text>
<text x="389.7" y="582.9" class="mz">m/z</text>
<text x="677.8" y="360.4" class="lb" text-anchor="end">COVISHIELD vaccine</text>
<text x="677.8" y="382.0" class="lb" text-anchor="end">Water for injection</text>
<text x="677.8" y="407.0" class="lb" text-anchor="end">Milli-Q water</text>
<text x="677.0" y="431.2" class="lb" text-anchor="end">Tap water</text>
<text x="676.2" y="453.8" class="lb" text-anchor="end">0.9% NaCl</text>
<text x="675.6" y="479.7" class="lb" text-anchor="end">5% Glucose</text>
<text x="676.6" y="504.9" class="lb" text-anchor="end">Hyaluronic acid</text>
<text x="676.6" y="531.6" class="lb" text-anchor="end">Amikacin</text>
<text x="677.4" y="555.2" class="lb" text-anchor="end">Gentamicin</text>
<path d="M681.6,371.0v3M681.6,395.3v3M681.6,419.6v3M681.6,443.9v3M681.6,468.2v3M681.6,492.5v3M681.6,516.8v3M681.6,541.1v3" stroke="rgb(226,32,44)" stroke-width="0.8" opacity="0.35"/>
<path d="M78,540.6h1.6v24.0h-1.6" stroke="#666" stroke-width="0.8" fill="none"/>
<text x="76.3" y="546.9" class="tk" style="font-size:7.3px" text-anchor="end">100</text>
<text x="76.3" y="562.7" class="tk" style="font-size:7.3px" text-anchor="end">0</text>
<text class="yl" transform="translate(45.2,456.2) rotate(-90)" text-anchor="middle">Percentage intensity (%)</text>
<text x="0.6" y="306.4" class="pl">b</text>
</svg></body></html>
